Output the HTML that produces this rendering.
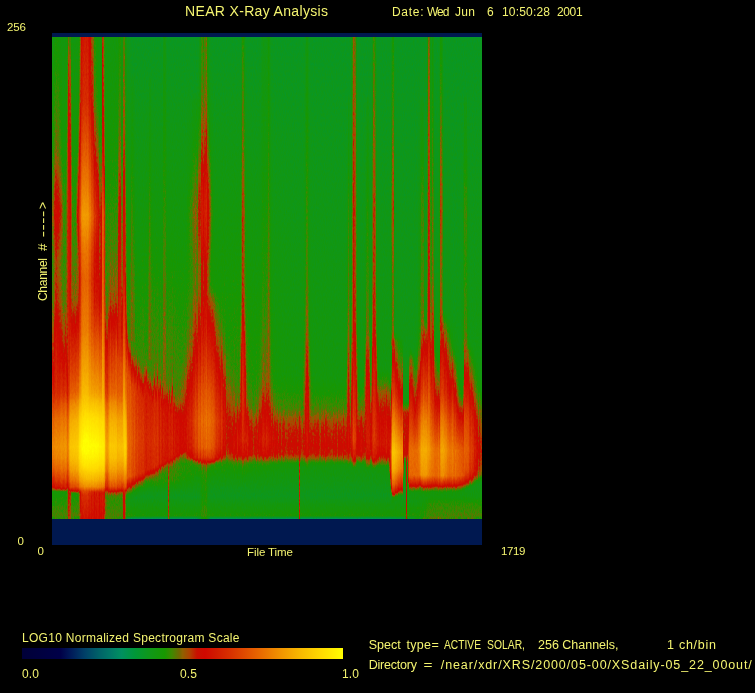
<!DOCTYPE html>
<html lang="en">
<head>
<meta charset="utf-8">
<title>NEAR X-Ray Analysis</title>
<style>
html,body{margin:0;padding:0;background:#000;}
body{width:755px;height:693px;overflow:hidden;}
svg{display:block;}
text{font-family:"Liberation Sans",sans-serif;fill:#f4f470;}
</style>
</head>
<body>
<svg width="755" height="693" viewBox="0 0 755 693">
<defs>
<linearGradient id="c0" x2="0" y2="1"><stop offset=".001" stop-color="#656565"/><stop offset=".242" stop-color="#6b6b6b"/><stop offset=".302" stop-color="#707070"/><stop offset=".364" stop-color="#777777"/><stop offset=".472" stop-color="#6f6f6f"/><stop offset=".547" stop-color="#727272"/><stop offset=".663" stop-color="#818181"/><stop offset=".696" stop-color="#898989"/><stop offset=".794" stop-color="#b6b6b6"/><stop offset=".85" stop-color="#c4c4c4"/><stop offset=".872" stop-color="#bfbfbf"/><stop offset=".897" stop-color="#b1b1b1"/><stop offset=".924" stop-color="#969696"/><stop offset=".933" stop-color="#8b8b8b"/><stop offset=".935" stop-color="#858585"/><stop offset=".943" stop-color="#696969"/><stop offset=".945" stop-color="#676767"/><stop offset=".993" stop-color="#717171"/><stop offset=".997" stop-color="#6c6c6c"/><stop offset=".999" stop-color="#6b6b6b"/></linearGradient>
<linearGradient id="c1" x2="0" y2="1"><stop offset=".001" stop-color="#656565"/><stop offset=".242" stop-color="#6c6c6c"/><stop offset=".312" stop-color="#727272"/><stop offset=".364" stop-color="#7a7a7a"/><stop offset=".472" stop-color="#707070"/><stop offset=".547" stop-color="#737373"/><stop offset=".677" stop-color="#838383"/><stop offset=".729" stop-color="#909090"/><stop offset=".762" stop-color="#a4a4a4"/><stop offset=".794" stop-color="#b4b4b4"/><stop offset=".85" stop-color="#c3c3c3"/><stop offset=".872" stop-color="#bebebe"/><stop offset=".897" stop-color="#b0b0b0"/><stop offset=".922" stop-color="#969696"/><stop offset=".933" stop-color="#888888"/><stop offset=".941" stop-color="#6f6f6f"/><stop offset=".943" stop-color="#696969"/><stop offset=".945" stop-color="#676767"/><stop offset=".993" stop-color="#717171"/><stop offset=".995" stop-color="#6f6f6f"/><stop offset=".997" stop-color="#6a6a6a"/><stop offset=".999" stop-color="#686868"/></linearGradient>
<linearGradient id="c2" x2="0" y2="1"><stop offset=".001" stop-color="#676767"/><stop offset=".24" stop-color="#717171"/><stop offset=".364" stop-color="#838383"/><stop offset=".472" stop-color="#767676"/><stop offset=".545" stop-color="#7a7a7a"/><stop offset=".628" stop-color="#878787"/><stop offset=".694" stop-color="#8d8d8d"/><stop offset=".74" stop-color="#989898"/><stop offset=".762" stop-color="#a7a7a7"/><stop offset=".794" stop-color="#b7b7b7"/><stop offset=".85" stop-color="#c5c5c5"/><stop offset=".872" stop-color="#c0c0c0"/><stop offset=".897" stop-color="#b2b2b2"/><stop offset=".926" stop-color="#959595"/><stop offset=".933" stop-color="#8c8c8c"/><stop offset=".935" stop-color="#878787"/><stop offset=".943" stop-color="#6a6a6a"/><stop offset=".945" stop-color="#676767"/><stop offset=".993" stop-color="#717171"/><stop offset=".997" stop-color="#6c6c6c"/><stop offset=".999" stop-color="#6b6b6b"/></linearGradient>
<linearGradient id="c3" x2="0" y2="1"><stop offset=".001" stop-color="#696969"/><stop offset=".132" stop-color="#6e6e6e"/><stop offset=".24" stop-color="#767676"/><stop offset=".364" stop-color="#8b8b8b"/><stop offset=".472" stop-color="#7c7c7c"/><stop offset=".545" stop-color="#808080"/><stop offset=".628" stop-color="#8e8e8e"/><stop offset=".738" stop-color="#9c9c9c"/><stop offset=".794" stop-color="#b9b9b9"/><stop offset=".85" stop-color="#c7c7c7"/><stop offset=".872" stop-color="#c2c2c2"/><stop offset=".897" stop-color="#b5b5b5"/><stop offset=".918" stop-color="#a3a3a3"/><stop offset=".928" stop-color="#969696"/><stop offset=".933" stop-color="#909090"/><stop offset=".935" stop-color="#8b8b8b"/><stop offset=".943" stop-color="#6a6a6a"/><stop offset=".945" stop-color="#686868"/><stop offset=".955" stop-color="#6b6b6b"/><stop offset=".993" stop-color="#717171"/><stop offset=".997" stop-color="#6e6e6e"/><stop offset=".999" stop-color="#6e6e6e"/></linearGradient>
<linearGradient id="c4" x2="0" y2="1"><stop offset=".001" stop-color="#696969"/><stop offset=".13" stop-color="#6f6f6f"/><stop offset=".24" stop-color="#777777"/><stop offset=".364" stop-color="#8c8c8c"/><stop offset=".472" stop-color="#7d7d7d"/><stop offset=".545" stop-color="#828282"/><stop offset=".628" stop-color="#8f8f8f"/><stop offset=".738" stop-color="#9d9d9d"/><stop offset=".794" stop-color="#bbbbbb"/><stop offset=".85" stop-color="#c8c8c8"/><stop offset=".872" stop-color="#c3c3c3"/><stop offset=".897" stop-color="#b7b7b7"/><stop offset=".918" stop-color="#a5a5a5"/><stop offset=".93" stop-color="#959595"/><stop offset=".933" stop-color="#929292"/><stop offset=".935" stop-color="#8d8d8d"/><stop offset=".939" stop-color="#7d7d7d"/><stop offset=".943" stop-color="#6a6a6a"/><stop offset=".945" stop-color="#686868"/><stop offset=".955" stop-color="#6b6b6b"/><stop offset=".993" stop-color="#717171"/><stop offset=".995" stop-color="#6f6f6f"/><stop offset=".999" stop-color="#707070"/></linearGradient>
<linearGradient id="c5" x2="0" y2="1"><stop offset=".001" stop-color="#686868"/><stop offset=".132" stop-color="#6e6e6e"/><stop offset=".24" stop-color="#747474"/><stop offset=".364" stop-color="#898989"/><stop offset=".472" stop-color="#7a7a7a"/><stop offset=".545" stop-color="#7f7f7f"/><stop offset=".628" stop-color="#8c8c8c"/><stop offset=".673" stop-color="#8f8f8f"/><stop offset=".738" stop-color="#9a9a9a"/><stop offset=".794" stop-color="#b9b9b9"/><stop offset=".85" stop-color="#c7c7c7"/><stop offset=".872" stop-color="#c2c2c2"/><stop offset=".897" stop-color="#b5b5b5"/><stop offset=".918" stop-color="#a2a2a2"/><stop offset=".928" stop-color="#959595"/><stop offset=".933" stop-color="#8f8f8f"/><stop offset=".935" stop-color="#8a8a8a"/><stop offset=".943" stop-color="#6a6a6a"/><stop offset=".945" stop-color="#686868"/><stop offset=".993" stop-color="#717171"/><stop offset=".997" stop-color="#6d6d6d"/><stop offset=".999" stop-color="#6d6d6d"/></linearGradient>
<linearGradient id="c6" x2="0" y2="1"><stop offset=".001" stop-color="#686868"/><stop offset=".24" stop-color="#747474"/><stop offset=".364" stop-color="#888888"/><stop offset=".472" stop-color="#797979"/><stop offset=".545" stop-color="#7e7e7e"/><stop offset=".628" stop-color="#8b8b8b"/><stop offset=".675" stop-color="#8f8f8f"/><stop offset=".738" stop-color="#9a9a9a"/><stop offset=".794" stop-color="#b9b9b9"/><stop offset=".85" stop-color="#c7c7c7"/><stop offset=".872" stop-color="#c2c2c2"/><stop offset=".897" stop-color="#b4b4b4"/><stop offset=".918" stop-color="#a2a2a2"/><stop offset=".928" stop-color="#949494"/><stop offset=".933" stop-color="#8f8f8f"/><stop offset=".935" stop-color="#898989"/><stop offset=".943" stop-color="#6a6a6a"/><stop offset=".945" stop-color="#686868"/><stop offset=".993" stop-color="#717171"/><stop offset=".997" stop-color="#6c6c6c"/><stop offset=".999" stop-color="#6c6c6c"/></linearGradient>
<linearGradient id="c7" x2="0" y2="1"><stop offset=".001" stop-color="#676767"/><stop offset=".24" stop-color="#717171"/><stop offset=".364" stop-color="#848484"/><stop offset=".472" stop-color="#777777"/><stop offset=".545" stop-color="#7b7b7b"/><stop offset=".628" stop-color="#888888"/><stop offset=".686" stop-color="#8e8e8e"/><stop offset=".74" stop-color="#9a9a9a"/><stop offset=".762" stop-color="#aaaaaa"/><stop offset=".794" stop-color="#b9b9b9"/><stop offset=".85" stop-color="#c7c7c7"/><stop offset=".872" stop-color="#c2c2c2"/><stop offset=".897" stop-color="#b5b5b5"/><stop offset=".918" stop-color="#a2a2a2"/><stop offset=".928" stop-color="#959595"/><stop offset=".933" stop-color="#8f8f8f"/><stop offset=".935" stop-color="#8a8a8a"/><stop offset=".943" stop-color="#6a6a6a"/><stop offset=".945" stop-color="#686868"/><stop offset=".993" stop-color="#717171"/><stop offset=".997" stop-color="#6d6d6d"/><stop offset=".999" stop-color="#6c6c6c"/></linearGradient>
<linearGradient id="c8" x2="0" y2="1"><stop offset=".001" stop-color="#666666"/><stop offset=".132" stop-color="#6a6a6a"/><stop offset=".24" stop-color="#6f6f6f"/><stop offset=".364" stop-color="#828282"/><stop offset=".472" stop-color="#757575"/><stop offset=".545" stop-color="#7a7a7a"/><stop offset=".657" stop-color="#8a8a8a"/><stop offset=".702" stop-color="#949494"/><stop offset=".738" stop-color="#9e9e9e"/><stop offset=".762" stop-color="#aeaeae"/><stop offset=".794" stop-color="#bcbcbc"/><stop offset=".85" stop-color="#c9c9c9"/><stop offset=".872" stop-color="#c4c4c4"/><stop offset=".897" stop-color="#b8b8b8"/><stop offset=".918" stop-color="#a7a7a7"/><stop offset=".933" stop-color="#949494"/><stop offset=".935" stop-color="#8e8e8e"/><stop offset=".939" stop-color="#7e7e7e"/><stop offset=".943" stop-color="#6b6b6b"/><stop offset=".945" stop-color="#686868"/><stop offset=".955" stop-color="#6b6b6b"/><stop offset=".993" stop-color="#717171"/><stop offset=".995" stop-color="#6f6f6f"/><stop offset=".999" stop-color="#707070"/></linearGradient>
<linearGradient id="c9" x2="0" y2="1"><stop offset=".001" stop-color="#666666"/><stop offset=".24" stop-color="#6c6c6c"/><stop offset=".294" stop-color="#737373"/><stop offset=".364" stop-color="#7f7f7f"/><stop offset=".472" stop-color="#727272"/><stop offset=".545" stop-color="#777777"/><stop offset=".646" stop-color="#888888"/><stop offset=".692" stop-color="#949494"/><stop offset=".738" stop-color="#a1a1a1"/><stop offset=".762" stop-color="#b1b1b1"/><stop offset=".794" stop-color="#bebebe"/><stop offset=".85" stop-color="#cbcbcb"/><stop offset=".872" stop-color="#c6c6c6"/><stop offset=".897" stop-color="#bbbbbb"/><stop offset=".918" stop-color="#aaaaaa"/><stop offset=".933" stop-color="#989898"/><stop offset=".935" stop-color="#929292"/><stop offset=".939" stop-color="#828282"/><stop offset=".943" stop-color="#6b6b6b"/><stop offset=".945" stop-color="#686868"/><stop offset=".955" stop-color="#6b6b6b"/><stop offset=".993" stop-color="#717171"/><stop offset=".995" stop-color="#6f6f6f"/><stop offset=".999" stop-color="#737373"/></linearGradient>
<linearGradient id="c10" x2="0" y2="1"><stop offset=".001" stop-color="#656565"/><stop offset=".242" stop-color="#6a6a6a"/><stop offset=".304" stop-color="#6f6f6f"/><stop offset=".364" stop-color="#777777"/><stop offset=".464" stop-color="#707070"/><stop offset=".545" stop-color="#737373"/><stop offset=".644" stop-color="#838383"/><stop offset=".702" stop-color="#949494"/><stop offset=".738" stop-color="#9e9e9e"/><stop offset=".762" stop-color="#afafaf"/><stop offset=".794" stop-color="#bdbdbd"/><stop offset=".85" stop-color="#cacaca"/><stop offset=".872" stop-color="#c5c5c5"/><stop offset=".897" stop-color="#b9b9b9"/><stop offset=".918" stop-color="#a8a8a8"/><stop offset=".933" stop-color="#959595"/><stop offset=".935" stop-color="#909090"/><stop offset=".939" stop-color="#7f7f7f"/><stop offset=".943" stop-color="#6b6b6b"/><stop offset=".945" stop-color="#686868"/><stop offset=".955" stop-color="#6b6b6b"/><stop offset=".993" stop-color="#717171"/><stop offset=".995" stop-color="#6f6f6f"/><stop offset=".999" stop-color="#707070"/></linearGradient>
<linearGradient id="c11" x2="0" y2="1"><stop offset=".001" stop-color="#656565"/><stop offset=".242" stop-color="#696969"/><stop offset=".31" stop-color="#6c6c6c"/><stop offset=".364" stop-color="#707070"/><stop offset=".457" stop-color="#6e6e6e"/><stop offset=".547" stop-color="#717171"/><stop offset=".644" stop-color="#808080"/><stop offset=".713" stop-color="#949494"/><stop offset=".738" stop-color="#9b9b9b"/><stop offset=".762" stop-color="#adadad"/><stop offset=".794" stop-color="#bbbbbb"/><stop offset=".85" stop-color="#c9c9c9"/><stop offset=".872" stop-color="#c4c4c4"/><stop offset=".897" stop-color="#b7b7b7"/><stop offset=".918" stop-color="#a5a5a5"/><stop offset=".93" stop-color="#959595"/><stop offset=".933" stop-color="#929292"/><stop offset=".935" stop-color="#8c8c8c"/><stop offset=".943" stop-color="#6b6b6b"/><stop offset=".945" stop-color="#686868"/><stop offset=".993" stop-color="#717171"/><stop offset=".997" stop-color="#6d6d6d"/><stop offset=".999" stop-color="#6d6d6d"/></linearGradient>
<linearGradient id="c12" x2="0" y2="1"><stop offset=".001" stop-color="#656565"/><stop offset=".235" stop-color="#696969"/><stop offset=".364" stop-color="#6e6e6e"/><stop offset=".472" stop-color="#6e6e6e"/><stop offset=".547" stop-color="#717171"/><stop offset=".644" stop-color="#818181"/><stop offset=".709" stop-color="#949494"/><stop offset=".738" stop-color="#9d9d9d"/><stop offset=".762" stop-color="#aeaeae"/><stop offset=".794" stop-color="#bcbcbc"/><stop offset=".85" stop-color="#cacaca"/><stop offset=".872" stop-color="#c5c5c5"/><stop offset=".897" stop-color="#b8b8b8"/><stop offset=".918" stop-color="#a6a6a6"/><stop offset=".93" stop-color="#969696"/><stop offset=".933" stop-color="#939393"/><stop offset=".935" stop-color="#8e8e8e"/><stop offset=".939" stop-color="#7e7e7e"/><stop offset=".943" stop-color="#6b6b6b"/><stop offset=".945" stop-color="#686868"/><stop offset=".993" stop-color="#717171"/><stop offset=".997" stop-color="#6e6e6e"/><stop offset=".999" stop-color="#6e6e6e"/></linearGradient>
<linearGradient id="c13" x2="0" y2="1"><stop offset=".001" stop-color="#666666"/><stop offset=".233" stop-color="#696969"/><stop offset=".364" stop-color="#6e6e6e"/><stop offset=".489" stop-color="#707070"/><stop offset=".545" stop-color="#737373"/><stop offset=".644" stop-color="#878787"/><stop offset=".688" stop-color="#949494"/><stop offset=".738" stop-color="#a3a3a3"/><stop offset=".762" stop-color="#b3b3b3"/><stop offset=".794" stop-color="#c0c0c0"/><stop offset=".85" stop-color="#cccccc"/><stop offset=".872" stop-color="#c8c8c8"/><stop offset=".897" stop-color="#bcbcbc"/><stop offset=".918" stop-color="#acacac"/><stop offset=".933" stop-color="#9a9a9a"/><stop offset=".935" stop-color="#949494"/><stop offset=".939" stop-color="#848484"/><stop offset=".943" stop-color="#6c6c6c"/><stop offset=".945" stop-color="#686868"/><stop offset=".955" stop-color="#6b6b6b"/><stop offset=".993" stop-color="#717171"/><stop offset=".995" stop-color="#6f6f6f"/><stop offset=".999" stop-color="#737373"/></linearGradient>
<linearGradient id="c14" x2="0" y2="1"><stop offset=".001" stop-color="#656565"/><stop offset=".24" stop-color="#6d6d6d"/><stop offset=".364" stop-color="#737373"/><stop offset=".491" stop-color="#747474"/><stop offset=".563" stop-color="#777777"/><stop offset=".644" stop-color="#818181"/><stop offset=".711" stop-color="#949494"/><stop offset=".738" stop-color="#9c9c9c"/><stop offset=".762" stop-color="#adadad"/><stop offset=".794" stop-color="#bbbbbb"/><stop offset=".85" stop-color="#c8c8c8"/><stop offset=".872" stop-color="#c4c4c4"/><stop offset=".897" stop-color="#b7b7b7"/><stop offset=".918" stop-color="#a5a5a5"/><stop offset=".93" stop-color="#959595"/><stop offset=".933" stop-color="#939393"/><stop offset=".935" stop-color="#8d8d8d"/><stop offset=".943" stop-color="#6c6c6c"/><stop offset=".945" stop-color="#6a6a6a"/><stop offset=".993" stop-color="#717171"/><stop offset=".995" stop-color="#6f6f6f"/><stop offset=".999" stop-color="#6f6f6f"/></linearGradient>
<linearGradient id="c15" x2="0" y2="1"><stop offset=".001" stop-color="#666666"/><stop offset=".003" stop-color="#686868"/><stop offset=".049" stop-color="#6d6d6d"/><stop offset=".364" stop-color="#7d7d7d"/><stop offset=".491" stop-color="#7d7d7d"/><stop offset=".663" stop-color="#818181"/><stop offset=".69" stop-color="#858585"/><stop offset=".719" stop-color="#8b8b8b"/><stop offset=".738" stop-color="#909090"/><stop offset=".762" stop-color="#a1a1a1"/><stop offset=".794" stop-color="#b1b1b1"/><stop offset=".85" stop-color="#c0c0c0"/><stop offset=".872" stop-color="#bababa"/><stop offset=".897" stop-color="#adadad"/><stop offset=".92" stop-color="#969696"/><stop offset=".933" stop-color="#868686"/><stop offset=".939" stop-color="#767676"/><stop offset=".941" stop-color="#737373"/><stop offset=".955" stop-color="#727272"/><stop offset=".993" stop-color="#747474"/><stop offset=".997" stop-color="#6f6f6f"/><stop offset=".999" stop-color="#6f6f6f"/></linearGradient>
<linearGradient id="c16" x2="0" y2="1"><stop offset=".001" stop-color="#727272"/><stop offset=".049" stop-color="#7d7d7d"/><stop offset=".132" stop-color="#848484"/><stop offset=".364" stop-color="#929292"/><stop offset=".491" stop-color="#929292"/><stop offset=".725" stop-color="#9b9b9b"/><stop offset=".742" stop-color="#9e9e9e"/><stop offset=".796" stop-color="#bababa"/><stop offset=".85" stop-color="#c7c7c7"/><stop offset=".874" stop-color="#c1c1c1"/><stop offset=".899" stop-color="#b4b4b4"/><stop offset=".918" stop-color="#a3a3a3"/><stop offset=".93" stop-color="#939393"/><stop offset=".933" stop-color="#919191"/><stop offset=".937" stop-color="#888888"/><stop offset=".941" stop-color="#858585"/><stop offset=".999" stop-color="#7f7f7f"/></linearGradient>
<linearGradient id="c17" x2="0" y2="1"><stop offset=".001" stop-color="#6e6e6e"/><stop offset=".049" stop-color="#797979"/><stop offset=".132" stop-color="#808080"/><stop offset=".24" stop-color="#858585"/><stop offset=".364" stop-color="#8e8e8e"/><stop offset=".563" stop-color="#8f8f8f"/><stop offset=".617" stop-color="#919191"/><stop offset=".667" stop-color="#969696"/><stop offset=".738" stop-color="#a8a8a8"/><stop offset=".762" stop-color="#bababa"/><stop offset=".794" stop-color="#cacaca"/><stop offset=".85" stop-color="#d8d8d8"/><stop offset=".874" stop-color="#d2d2d2"/><stop offset=".897" stop-color="#c5c5c5"/><stop offset=".918" stop-color="#b2b2b2"/><stop offset=".933" stop-color="#9f9f9f"/><stop offset=".935" stop-color="#999999"/><stop offset=".941" stop-color="#848484"/><stop offset=".943" stop-color="#818181"/><stop offset=".993" stop-color="#7d7d7d"/><stop offset=".999" stop-color="#7c7c7c"/></linearGradient>
<linearGradient id="c18" x2="0" y2="1"><stop offset=".001" stop-color="#6d6d6d"/><stop offset=".049" stop-color="#777777"/><stop offset=".132" stop-color="#7e7e7e"/><stop offset=".242" stop-color="#838383"/><stop offset=".364" stop-color="#8b8b8b"/><stop offset=".491" stop-color="#8b8b8b"/><stop offset=".592" stop-color="#8f8f8f"/><stop offset=".738" stop-color="#b3b3b3"/><stop offset=".762" stop-color="#c4c4c4"/><stop offset=".794" stop-color="#d3d3d3"/><stop offset=".85" stop-color="#e0e0e0"/><stop offset=".872" stop-color="#dbdbdb"/><stop offset=".897" stop-color="#cecece"/><stop offset=".92" stop-color="#bababa"/><stop offset=".933" stop-color="#a9a9a9"/><stop offset=".935" stop-color="#a4a4a4"/><stop offset=".939" stop-color="#949494"/><stop offset=".943" stop-color="#818181"/><stop offset=".945" stop-color="#7f7f7f"/><stop offset=".999" stop-color="#7a7a7a"/></linearGradient>
<linearGradient id="c19" x2="0" y2="1"><stop offset=".001" stop-color="#666666"/><stop offset=".13" stop-color="#6f6f6f"/><stop offset=".364" stop-color="#7a7a7a"/><stop offset=".489" stop-color="#7a7a7a"/><stop offset=".547" stop-color="#7d7d7d"/><stop offset=".582" stop-color="#838383"/><stop offset=".632" stop-color="#949494"/><stop offset=".738" stop-color="#b3b3b3"/><stop offset=".762" stop-color="#c4c4c4"/><stop offset=".796" stop-color="#d4d4d4"/><stop offset=".85" stop-color="#e1e1e1"/><stop offset=".872" stop-color="#dcdcdc"/><stop offset=".897" stop-color="#cfcfcf"/><stop offset=".918" stop-color="#bdbdbd"/><stop offset=".933" stop-color="#aaaaaa"/><stop offset=".939" stop-color="#949494"/><stop offset=".943" stop-color="#7e7e7e"/><stop offset=".945" stop-color="#747474"/><stop offset=".947" stop-color="#707070"/><stop offset=".966" stop-color="#707070"/><stop offset=".993" stop-color="#727272"/><stop offset=".999" stop-color="#6f6f6f"/></linearGradient>
<linearGradient id="c20" x2="0" y2="1"><stop offset=".001" stop-color="#656565"/><stop offset=".235" stop-color="#6a6a6a"/><stop offset=".418" stop-color="#707070"/><stop offset=".545" stop-color="#777777"/><stop offset=".588" stop-color="#838383"/><stop offset=".634" stop-color="#949494"/><stop offset=".738" stop-color="#b3b3b3"/><stop offset=".762" stop-color="#c4c4c4"/><stop offset=".796" stop-color="#d4d4d4"/><stop offset=".85" stop-color="#e1e1e1"/><stop offset=".872" stop-color="#dcdcdc"/><stop offset=".897" stop-color="#cfcfcf"/><stop offset=".918" stop-color="#bcbcbc"/><stop offset=".933" stop-color="#aaaaaa"/><stop offset=".939" stop-color="#939393"/><stop offset=".945" stop-color="#737373"/><stop offset=".947" stop-color="#6c6c6c"/><stop offset=".949" stop-color="#6a6a6a"/><stop offset=".993" stop-color="#717171"/><stop offset=".997" stop-color="#6c6c6c"/><stop offset=".999" stop-color="#6c6c6c"/></linearGradient>
<linearGradient id="c21" x2="0" y2="1"><stop offset=".001" stop-color="#656565"/><stop offset=".339" stop-color="#6c6c6c"/><stop offset=".445" stop-color="#707070"/><stop offset=".532" stop-color="#777777"/><stop offset=".547" stop-color="#797979"/><stop offset=".565" stop-color="#7f7f7f"/><stop offset=".628" stop-color="#949494"/><stop offset=".738" stop-color="#b5b5b5"/><stop offset=".762" stop-color="#c6c6c6"/><stop offset=".796" stop-color="#d5d5d5"/><stop offset=".85" stop-color="#e2e2e2"/><stop offset=".872" stop-color="#dddddd"/><stop offset=".897" stop-color="#d0d0d0"/><stop offset=".918" stop-color="#bebebe"/><stop offset=".933" stop-color="#acacac"/><stop offset=".939" stop-color="#969696"/><stop offset=".941" stop-color="#8b8b8b"/><stop offset=".945" stop-color="#747474"/><stop offset=".947" stop-color="#6c6c6c"/><stop offset=".949" stop-color="#6a6a6a"/><stop offset=".993" stop-color="#717171"/><stop offset=".997" stop-color="#6d6d6d"/><stop offset=".999" stop-color="#6d6d6d"/></linearGradient>
<linearGradient id="c22" x2="0" y2="1"><stop offset=".001" stop-color="#656565"/><stop offset=".341" stop-color="#6c6c6c"/><stop offset=".449" stop-color="#707070"/><stop offset=".545" stop-color="#787878"/><stop offset=".584" stop-color="#838383"/><stop offset=".63" stop-color="#949494"/><stop offset=".738" stop-color="#b4b4b4"/><stop offset=".762" stop-color="#c5c5c5"/><stop offset=".796" stop-color="#d5d5d5"/><stop offset=".85" stop-color="#e2e2e2"/><stop offset=".872" stop-color="#dddddd"/><stop offset=".897" stop-color="#d0d0d0"/><stop offset=".918" stop-color="#bebebe"/><stop offset=".933" stop-color="#ababab"/><stop offset=".939" stop-color="#959595"/><stop offset=".945" stop-color="#747474"/><stop offset=".947" stop-color="#6c6c6c"/><stop offset=".949" stop-color="#6a6a6a"/><stop offset=".993" stop-color="#717171"/><stop offset=".997" stop-color="#6c6c6c"/><stop offset=".999" stop-color="#6c6c6c"/></linearGradient>
<linearGradient id="c23" x2="0" y2="1"><stop offset=".001" stop-color="#656565"/><stop offset=".302" stop-color="#6a6a6a"/><stop offset=".439" stop-color="#6f6f6f"/><stop offset=".545" stop-color="#767676"/><stop offset=".59" stop-color="#838383"/><stop offset=".636" stop-color="#949494"/><stop offset=".738" stop-color="#b3b3b3"/><stop offset=".762" stop-color="#c5c5c5"/><stop offset=".796" stop-color="#d6d6d6"/><stop offset=".85" stop-color="#e2e2e2"/><stop offset=".872" stop-color="#dedede"/><stop offset=".897" stop-color="#d0d0d0"/><stop offset=".918" stop-color="#bdbdbd"/><stop offset=".933" stop-color="#aaaaaa"/><stop offset=".939" stop-color="#939393"/><stop offset=".945" stop-color="#727272"/><stop offset=".947" stop-color="#6c6c6c"/><stop offset=".949" stop-color="#6a6a6a"/><stop offset=".993" stop-color="#717171"/><stop offset=".997" stop-color="#6b6b6b"/><stop offset=".999" stop-color="#6a6a6a"/></linearGradient>
<linearGradient id="c24" x2="0" y2="1"><stop offset=".001" stop-color="#656565"/><stop offset=".24" stop-color="#696969"/><stop offset=".298" stop-color="#6d6d6d"/><stop offset=".372" stop-color="#767676"/><stop offset=".408" stop-color="#727272"/><stop offset=".437" stop-color="#717171"/><stop offset=".536" stop-color="#787878"/><stop offset=".547" stop-color="#7a7a7a"/><stop offset=".578" stop-color="#838383"/><stop offset=".626" stop-color="#949494"/><stop offset=".738" stop-color="#b6b6b6"/><stop offset=".762" stop-color="#c7c7c7"/><stop offset=".796" stop-color="#d7d7d7"/><stop offset=".85" stop-color="#e3e3e3"/><stop offset=".872" stop-color="#dfdfdf"/><stop offset=".897" stop-color="#d2d2d2"/><stop offset=".918" stop-color="#bfbfbf"/><stop offset=".933" stop-color="#adadad"/><stop offset=".939" stop-color="#979797"/><stop offset=".941" stop-color="#8c8c8c"/><stop offset=".945" stop-color="#757575"/><stop offset=".947" stop-color="#6d6d6d"/><stop offset=".949" stop-color="#6a6a6a"/><stop offset=".993" stop-color="#717171"/><stop offset=".997" stop-color="#6d6d6d"/><stop offset=".999" stop-color="#6d6d6d"/></linearGradient>
<linearGradient id="c25" x2="0" y2="1"><stop offset=".001" stop-color="#656565"/><stop offset=".155" stop-color="#686868"/><stop offset=".229" stop-color="#6c6c6c"/><stop offset=".267" stop-color="#717171"/><stop offset=".372" stop-color="#848484"/><stop offset=".443" stop-color="#777777"/><stop offset=".505" stop-color="#777777"/><stop offset=".547" stop-color="#7c7c7c"/><stop offset=".574" stop-color="#848484"/><stop offset=".621" stop-color="#959595"/><stop offset=".738" stop-color="#b7b7b7"/><stop offset=".762" stop-color="#c8c8c8"/><stop offset=".796" stop-color="#d7d7d7"/><stop offset=".85" stop-color="#e4e4e4"/><stop offset=".872" stop-color="#dfdfdf"/><stop offset=".897" stop-color="#d2d2d2"/><stop offset=".918" stop-color="#c0c0c0"/><stop offset=".933" stop-color="#aeaeae"/><stop offset=".939" stop-color="#989898"/><stop offset=".941" stop-color="#8e8e8e"/><stop offset=".945" stop-color="#767676"/><stop offset=".947" stop-color="#6e6e6e"/><stop offset=".949" stop-color="#6a6a6a"/><stop offset=".993" stop-color="#717171"/><stop offset=".997" stop-color="#6d6d6d"/><stop offset=".999" stop-color="#6e6e6e"/></linearGradient>
<linearGradient id="c26" x2="0" y2="1"><stop offset=".001" stop-color="#656565"/><stop offset=".132" stop-color="#6a6a6a"/><stop offset=".229" stop-color="#737373"/><stop offset=".372" stop-color="#909090"/><stop offset=".441" stop-color="#808080"/><stop offset=".462" stop-color="#7e7e7e"/><stop offset=".503" stop-color="#7b7b7b"/><stop offset=".545" stop-color="#7f7f7f"/><stop offset=".574" stop-color="#858585"/><stop offset=".621" stop-color="#949494"/><stop offset=".738" stop-color="#b8b8b8"/><stop offset=".762" stop-color="#cacaca"/><stop offset=".794" stop-color="#dadada"/><stop offset=".85" stop-color="#e7e7e7"/><stop offset=".872" stop-color="#e3e3e3"/><stop offset=".897" stop-color="#d6d6d6"/><stop offset=".918" stop-color="#c2c2c2"/><stop offset=".933" stop-color="#afafaf"/><stop offset=".939" stop-color="#989898"/><stop offset=".941" stop-color="#8d8d8d"/><stop offset=".945" stop-color="#767676"/><stop offset=".947" stop-color="#707070"/><stop offset=".949" stop-color="#6d6d6d"/><stop offset=".957" stop-color="#6d6d6d"/><stop offset=".993" stop-color="#727272"/><stop offset=".997" stop-color="#6b6b6b"/><stop offset=".999" stop-color="#6a6a6a"/></linearGradient>
<linearGradient id="c27" x2="0" y2="1"><stop offset=".001" stop-color="#6c6c6c"/><stop offset=".132" stop-color="#747474"/><stop offset=".24" stop-color="#858585"/><stop offset=".3" stop-color="#949494"/><stop offset=".372" stop-color="#a3a3a3"/><stop offset=".505" stop-color="#8c8c8c"/><stop offset=".603" stop-color="#9c9c9c"/><stop offset=".738" stop-color="#c4c4c4"/><stop offset=".762" stop-color="#d5d5d5"/><stop offset=".794" stop-color="#e4e4e4"/><stop offset=".85" stop-color="#f1f1f1"/><stop offset=".872" stop-color="#ececec"/><stop offset=".897" stop-color="#dfdfdf"/><stop offset=".918" stop-color="#cdcdcd"/><stop offset=".933" stop-color="#bababa"/><stop offset=".935" stop-color="#b5b5b5"/><stop offset=".941" stop-color="#9a9a9a"/><stop offset=".945" stop-color="#828282"/><stop offset=".947" stop-color="#7c7c7c"/><stop offset=".951" stop-color="#787878"/><stop offset=".993" stop-color="#757575"/><stop offset=".999" stop-color="#727272"/></linearGradient>
<linearGradient id="c28" x2="0" y2="1"><stop offset=".001" stop-color="#777777"/><stop offset=".132" stop-color="#7f7f7f"/><stop offset=".242" stop-color="#949494"/><stop offset=".372" stop-color="#b2b2b2"/><stop offset=".443" stop-color="#a1a1a1"/><stop offset=".503" stop-color="#999999"/><stop offset=".607" stop-color="#a6a6a6"/><stop offset=".738" stop-color="#c9c9c9"/><stop offset=".762" stop-color="#d9d9d9"/><stop offset=".794" stop-color="#e8e8e8"/><stop offset=".85" stop-color="#f5f5f5"/><stop offset=".872" stop-color="#f0f0f0"/><stop offset=".897" stop-color="#e3e3e3"/><stop offset=".92" stop-color="#cfcfcf"/><stop offset=".933" stop-color="#bebebe"/><stop offset=".935" stop-color="#b8b8b8"/><stop offset=".939" stop-color="#a7a7a7"/><stop offset=".945" stop-color="#8c8c8c"/><stop offset=".949" stop-color="#878787"/><stop offset=".999" stop-color="#7f7f7f"/></linearGradient>
<linearGradient id="c29" x2="0" y2="1"><stop offset=".001" stop-color="#8a8a8a"/><stop offset=".13" stop-color="#939393"/><stop offset=".372" stop-color="#c5c5c5"/><stop offset=".443" stop-color="#b5b5b5"/><stop offset=".503" stop-color="#adadad"/><stop offset=".607" stop-color="#b8b8b8"/><stop offset=".738" stop-color="#d3d3d3"/><stop offset=".796" stop-color="#ececec"/><stop offset=".85" stop-color="#fafafa"/><stop offset=".887" stop-color="#ececec"/><stop offset=".918" stop-color="#d3d3d3"/><stop offset=".933" stop-color="#c1c1c1"/><stop offset=".943" stop-color="#a0a0a0"/><stop offset=".949" stop-color="#999999"/><stop offset=".999" stop-color="#8d8d8d"/></linearGradient>
<linearGradient id="c30" x2="0" y2="1"><stop offset=".001" stop-color="#8e8e8e"/><stop offset=".076" stop-color="#949494"/><stop offset=".132" stop-color="#989898"/><stop offset=".372" stop-color="#cccccc"/><stop offset=".443" stop-color="#bbbbbb"/><stop offset=".503" stop-color="#b3b3b3"/><stop offset=".607" stop-color="#bebebe"/><stop offset=".738" stop-color="#dadada"/><stop offset=".796" stop-color="#eeeeee"/><stop offset=".854" stop-color="#fcfcfc"/><stop offset=".887" stop-color="#efefef"/><stop offset=".918" stop-color="#d4d4d4"/><stop offset=".933" stop-color="#c1c1c1"/><stop offset=".941" stop-color="#a9a9a9"/><stop offset=".951" stop-color="#9a9a9a"/><stop offset=".999" stop-color="#8c8c8c"/></linearGradient>
<linearGradient id="c31" x2="0" y2="1"><stop offset=".001" stop-color="#929292"/><stop offset=".132" stop-color="#9c9c9c"/><stop offset=".372" stop-color="#cdcdcd"/><stop offset=".443" stop-color="#bdbdbd"/><stop offset=".503" stop-color="#b5b5b5"/><stop offset=".607" stop-color="#c0c0c0"/><stop offset=".738" stop-color="#dbdbdb"/><stop offset=".839" stop-color="#fcfcfc"/><stop offset=".858" stop-color="#fcfcfc"/><stop offset=".889" stop-color="#efefef"/><stop offset=".918" stop-color="#d6d6d6"/><stop offset=".933" stop-color="#c4c4c4"/><stop offset=".941" stop-color="#acacac"/><stop offset=".951" stop-color="#9e9e9e"/><stop offset=".999" stop-color="#909090"/></linearGradient>
<linearGradient id="c32" x2="0" y2="1"><stop offset=".001" stop-color="#939393"/><stop offset=".132" stop-color="#9d9d9d"/><stop offset=".372" stop-color="#cdcdcd"/><stop offset=".443" stop-color="#bebebe"/><stop offset=".503" stop-color="#b6b6b6"/><stop offset=".607" stop-color="#c0c0c0"/><stop offset=".738" stop-color="#dbdbdb"/><stop offset=".796" stop-color="#f1f1f1"/><stop offset=".837" stop-color="#fcfcfc"/><stop offset=".86" stop-color="#fcfcfc"/><stop offset=".889" stop-color="#f0f0f0"/><stop offset=".918" stop-color="#d7d7d7"/><stop offset=".933" stop-color="#c6c6c6"/><stop offset=".943" stop-color="#a9a9a9"/><stop offset=".951" stop-color="#9e9e9e"/><stop offset=".999" stop-color="#919191"/></linearGradient>
<linearGradient id="c33" x2="0" y2="1"><stop offset=".001" stop-color="#939393"/><stop offset=".132" stop-color="#9d9d9d"/><stop offset=".372" stop-color="#cdcdcd"/><stop offset=".443" stop-color="#bebebe"/><stop offset=".503" stop-color="#b6b6b6"/><stop offset=".607" stop-color="#c0c0c0"/><stop offset=".738" stop-color="#dbdbdb"/><stop offset=".796" stop-color="#f1f1f1"/><stop offset=".835" stop-color="#fcfcfc"/><stop offset=".86" stop-color="#fcfcfc"/><stop offset=".889" stop-color="#f0f0f0"/><stop offset=".918" stop-color="#d8d8d8"/><stop offset=".933" stop-color="#c6c6c6"/><stop offset=".943" stop-color="#a9a9a9"/><stop offset=".951" stop-color="#9e9e9e"/><stop offset=".999" stop-color="#909090"/></linearGradient>
<linearGradient id="c34" x2="0" y2="1"><stop offset=".001" stop-color="#909090"/><stop offset=".132" stop-color="#9a9a9a"/><stop offset=".372" stop-color="#cccccc"/><stop offset=".443" stop-color="#bcbcbc"/><stop offset=".503" stop-color="#b4b4b4"/><stop offset=".607" stop-color="#bfbfbf"/><stop offset=".738" stop-color="#dbdbdb"/><stop offset=".796" stop-color="#f1f1f1"/><stop offset=".837" stop-color="#fcfcfc"/><stop offset=".86" stop-color="#fcfcfc"/><stop offset=".889" stop-color="#f0f0f0"/><stop offset=".918" stop-color="#d9d9d9"/><stop offset=".933" stop-color="#c6c6c6"/><stop offset=".941" stop-color="#ababab"/><stop offset=".949" stop-color="#9d9d9d"/><stop offset=".999" stop-color="#8e8e8e"/></linearGradient>
<linearGradient id="c35" x2="0" y2="1"><stop offset=".001" stop-color="#949494"/><stop offset=".132" stop-color="#9e9e9e"/><stop offset=".372" stop-color="#cdcdcd"/><stop offset=".443" stop-color="#bebebe"/><stop offset=".503" stop-color="#b7b7b7"/><stop offset=".607" stop-color="#c1c1c1"/><stop offset=".738" stop-color="#dbdbdb"/><stop offset=".796" stop-color="#f2f2f2"/><stop offset=".835" stop-color="#fcfcfc"/><stop offset=".862" stop-color="#fcfcfc"/><stop offset=".889" stop-color="#f1f1f1"/><stop offset=".918" stop-color="#d9d9d9"/><stop offset=".933" stop-color="#c8c8c8"/><stop offset=".943" stop-color="#aaaaaa"/><stop offset=".951" stop-color="#9f9f9f"/><stop offset=".999" stop-color="#919191"/></linearGradient>
<linearGradient id="c36" x2="0" y2="1"><stop offset=".001" stop-color="#8e8e8e"/><stop offset=".132" stop-color="#989898"/><stop offset=".372" stop-color="#cacaca"/><stop offset=".443" stop-color="#b9b9b9"/><stop offset=".503" stop-color="#b2b2b2"/><stop offset=".607" stop-color="#bcbcbc"/><stop offset=".738" stop-color="#d8d8d8"/><stop offset=".796" stop-color="#f1f1f1"/><stop offset=".839" stop-color="#fcfcfc"/><stop offset=".858" stop-color="#fcfcfc"/><stop offset=".889" stop-color="#f0f0f0"/><stop offset=".918" stop-color="#d9d9d9"/><stop offset=".933" stop-color="#c6c6c6"/><stop offset=".943" stop-color="#a4a4a4"/><stop offset=".949" stop-color="#9b9b9b"/><stop offset=".999" stop-color="#8d8d8d"/></linearGradient>
<linearGradient id="c37" x2="0" y2="1"><stop offset=".001" stop-color="#878787"/><stop offset=".13" stop-color="#919191"/><stop offset=".148" stop-color="#949494"/><stop offset=".372" stop-color="#c3c3c3"/><stop offset=".441" stop-color="#b4b4b4"/><stop offset=".503" stop-color="#ababab"/><stop offset=".607" stop-color="#b6b6b6"/><stop offset=".738" stop-color="#d4d4d4"/><stop offset=".794" stop-color="#efefef"/><stop offset=".848" stop-color="#fcfcfc"/><stop offset=".872" stop-color="#f8f8f8"/><stop offset=".899" stop-color="#e9e9e9"/><stop offset=".918" stop-color="#d8d8d8"/><stop offset=".933" stop-color="#c6c6c6"/><stop offset=".943" stop-color="#9f9f9f"/><stop offset=".947" stop-color="#999999"/><stop offset=".999" stop-color="#8b8b8b"/></linearGradient>
<linearGradient id="c38" x2="0" y2="1"><stop offset=".001" stop-color="#868686"/><stop offset=".13" stop-color="#909090"/><stop offset=".155" stop-color="#949494"/><stop offset=".372" stop-color="#c0c0c0"/><stop offset=".441" stop-color="#b1b1b1"/><stop offset=".503" stop-color="#aaaaaa"/><stop offset=".607" stop-color="#b5b5b5"/><stop offset=".738" stop-color="#d3d3d3"/><stop offset=".794" stop-color="#f0f0f0"/><stop offset=".848" stop-color="#fcfcfc"/><stop offset=".874" stop-color="#f7f7f7"/><stop offset=".897" stop-color="#ebebeb"/><stop offset=".918" stop-color="#d9d9d9"/><stop offset=".933" stop-color="#c8c8c8"/><stop offset=".939" stop-color="#b4b4b4"/><stop offset=".943" stop-color="#a1a1a1"/><stop offset=".947" stop-color="#9a9a9a"/><stop offset=".999" stop-color="#8f8f8f"/></linearGradient>
<linearGradient id="c39" x2="0" y2="1"><stop offset=".001" stop-color="#7b7b7b"/><stop offset=".13" stop-color="#848484"/><stop offset=".217" stop-color="#949494"/><stop offset=".372" stop-color="#b7b7b7"/><stop offset=".443" stop-color="#a6a6a6"/><stop offset=".503" stop-color="#9e9e9e"/><stop offset=".596" stop-color="#aaaaaa"/><stop offset=".738" stop-color="#d0d0d0"/><stop offset=".762" stop-color="#e0e0e0"/><stop offset=".794" stop-color="#efefef"/><stop offset=".85" stop-color="#fcfcfc"/><stop offset=".872" stop-color="#f7f7f7"/><stop offset=".897" stop-color="#eaeaea"/><stop offset=".92" stop-color="#d6d6d6"/><stop offset=".933" stop-color="#c5c5c5"/><stop offset=".939" stop-color="#b0b0b0"/><stop offset=".943" stop-color="#9a9a9a"/><stop offset=".949" stop-color="#919191"/><stop offset=".999" stop-color="#898989"/></linearGradient>
<linearGradient id="c40" x2="0" y2="1"><stop offset=".001" stop-color="#7a7a7a"/><stop offset=".13" stop-color="#828282"/><stop offset=".225" stop-color="#949494"/><stop offset=".372" stop-color="#b4b4b4"/><stop offset=".443" stop-color="#a4a4a4"/><stop offset=".503" stop-color="#9d9d9d"/><stop offset=".58" stop-color="#a7a7a7"/><stop offset=".738" stop-color="#d0d0d0"/><stop offset=".762" stop-color="#e0e0e0"/><stop offset=".794" stop-color="#efefef"/><stop offset=".85" stop-color="#fcfcfc"/><stop offset=".872" stop-color="#f8f8f8"/><stop offset=".897" stop-color="#ebebeb"/><stop offset=".92" stop-color="#d7d7d7"/><stop offset=".933" stop-color="#c7c7c7"/><stop offset=".939" stop-color="#b3b3b3"/><stop offset=".943" stop-color="#9e9e9e"/><stop offset=".947" stop-color="#959595"/><stop offset=".962" stop-color="#949494"/><stop offset=".999" stop-color="#8d8d8d"/></linearGradient>
<linearGradient id="c41" x2="0" y2="1"><stop offset=".001" stop-color="#757575"/><stop offset=".132" stop-color="#7d7d7d"/><stop offset=".256" stop-color="#949494"/><stop offset=".372" stop-color="#aeaeae"/><stop offset=".443" stop-color="#9e9e9e"/><stop offset=".501" stop-color="#979797"/><stop offset=".559" stop-color="#9e9e9e"/><stop offset=".738" stop-color="#d0d0d0"/><stop offset=".762" stop-color="#e0e0e0"/><stop offset=".794" stop-color="#efefef"/><stop offset=".85" stop-color="#fcfcfc"/><stop offset=".872" stop-color="#f8f8f8"/><stop offset=".897" stop-color="#ebebeb"/><stop offset=".92" stop-color="#d7d7d7"/><stop offset=".933" stop-color="#c7c7c7"/><stop offset=".939" stop-color="#b2b2b2"/><stop offset=".943" stop-color="#9d9d9d"/><stop offset=".945" stop-color="#969696"/><stop offset=".947" stop-color="#949494"/><stop offset=".962" stop-color="#939393"/><stop offset=".999" stop-color="#8d8d8d"/></linearGradient>
<linearGradient id="c42" x2="0" y2="1"><stop offset=".001" stop-color="#6b6b6b"/><stop offset=".003" stop-color="#6c6c6c"/><stop offset=".132" stop-color="#717171"/><stop offset=".242" stop-color="#838383"/><stop offset=".31" stop-color="#949494"/><stop offset=".372" stop-color="#a1a1a1"/><stop offset=".453" stop-color="#8f8f8f"/><stop offset=".505" stop-color="#8b8b8b"/><stop offset=".545" stop-color="#909090"/><stop offset=".63" stop-color="#acacac"/><stop offset=".738" stop-color="#cecece"/><stop offset=".762" stop-color="#dfdfdf"/><stop offset=".794" stop-color="#eeeeee"/><stop offset=".85" stop-color="#fbfbfb"/><stop offset=".872" stop-color="#f6f6f6"/><stop offset=".897" stop-color="#eaeaea"/><stop offset=".92" stop-color="#d5d5d5"/><stop offset=".933" stop-color="#c4c4c4"/><stop offset=".935" stop-color="#bebebe"/><stop offset=".939" stop-color="#acacac"/><stop offset=".945" stop-color="#8e8e8e"/><stop offset=".947" stop-color="#8c8c8c"/><stop offset=".962" stop-color="#8b8b8b"/><stop offset=".999" stop-color="#858585"/></linearGradient>
<linearGradient id="c43" x2="0" y2="1"><stop offset=".001" stop-color="#6c6c6c"/><stop offset=".132" stop-color="#727272"/><stop offset=".24" stop-color="#838383"/><stop offset=".306" stop-color="#949494"/><stop offset=".372" stop-color="#a1a1a1"/><stop offset=".455" stop-color="#919191"/><stop offset=".505" stop-color="#8f8f8f"/><stop offset=".551" stop-color="#969696"/><stop offset=".738" stop-color="#cfcfcf"/><stop offset=".762" stop-color="#e0e0e0"/><stop offset=".794" stop-color="#eeeeee"/><stop offset=".85" stop-color="#fcfcfc"/><stop offset=".872" stop-color="#f7f7f7"/><stop offset=".897" stop-color="#eaeaea"/><stop offset=".92" stop-color="#d6d6d6"/><stop offset=".933" stop-color="#c6c6c6"/><stop offset=".939" stop-color="#b1b1b1"/><stop offset=".943" stop-color="#9b9b9b"/><stop offset=".947" stop-color="#939393"/><stop offset=".962" stop-color="#929292"/><stop offset=".999" stop-color="#8c8c8c"/></linearGradient>
<linearGradient id="c44" x2="0" y2="1"><stop offset=".001" stop-color="#686868"/><stop offset=".13" stop-color="#6e6e6e"/><stop offset=".171" stop-color="#727272"/><stop offset=".24" stop-color="#7c7c7c"/><stop offset=".331" stop-color="#919191"/><stop offset=".372" stop-color="#999999"/><stop offset=".397" stop-color="#949494"/><stop offset=".443" stop-color="#8a8a8a"/><stop offset=".474" stop-color="#898989"/><stop offset=".505" stop-color="#8b8b8b"/><stop offset=".545" stop-color="#909090"/><stop offset=".557" stop-color="#949494"/><stop offset=".63" stop-color="#aeaeae"/><stop offset=".738" stop-color="#cecece"/><stop offset=".762" stop-color="#dfdfdf"/><stop offset=".796" stop-color="#eeeeee"/><stop offset=".85" stop-color="#fbfbfb"/><stop offset=".872" stop-color="#f6f6f6"/><stop offset=".897" stop-color="#e9e9e9"/><stop offset=".92" stop-color="#d5d5d5"/><stop offset=".933" stop-color="#c5c5c5"/><stop offset=".935" stop-color="#bfbfbf"/><stop offset=".939" stop-color="#afafaf"/><stop offset=".943" stop-color="#999999"/><stop offset=".947" stop-color="#919191"/><stop offset=".962" stop-color="#909090"/><stop offset=".999" stop-color="#8a8a8a"/></linearGradient>
<linearGradient id="c45" x2="0" y2="1"><stop offset=".001" stop-color="#686868"/><stop offset=".13" stop-color="#6c6c6c"/><stop offset=".165" stop-color="#707070"/><stop offset=".242" stop-color="#7b7b7b"/><stop offset=".318" stop-color="#8c8c8c"/><stop offset=".372" stop-color="#979797"/><stop offset=".441" stop-color="#8a8a8a"/><stop offset=".47" stop-color="#8a8a8a"/><stop offset=".503" stop-color="#8d8d8d"/><stop offset=".545" stop-color="#929292"/><stop offset=".63" stop-color="#b0b0b0"/><stop offset=".738" stop-color="#cecece"/><stop offset=".762" stop-color="#dedede"/><stop offset=".794" stop-color="#ededed"/><stop offset=".85" stop-color="#fbfbfb"/><stop offset=".872" stop-color="#f6f6f6"/><stop offset=".897" stop-color="#e9e9e9"/><stop offset=".92" stop-color="#d5d5d5"/><stop offset=".935" stop-color="#c0c0c0"/><stop offset=".939" stop-color="#b1b1b1"/><stop offset=".943" stop-color="#9c9c9c"/><stop offset=".945" stop-color="#969696"/><stop offset=".962" stop-color="#949494"/><stop offset=".999" stop-color="#8d8d8d"/></linearGradient>
<linearGradient id="c46" x2="0" y2="1"><stop offset=".001" stop-color="#676767"/><stop offset=".132" stop-color="#6a6a6a"/><stop offset=".194" stop-color="#707070"/><stop offset=".242" stop-color="#767676"/><stop offset=".372" stop-color="#909090"/><stop offset=".433" stop-color="#868686"/><stop offset=".489" stop-color="#898989"/><stop offset=".545" stop-color="#909090"/><stop offset=".557" stop-color="#949494"/><stop offset=".628" stop-color="#aeaeae"/><stop offset=".738" stop-color="#cdcdcd"/><stop offset=".762" stop-color="#dddddd"/><stop offset=".794" stop-color="#ececec"/><stop offset=".85" stop-color="#fafafa"/><stop offset=".874" stop-color="#f4f4f4"/><stop offset=".897" stop-color="#e8e8e8"/><stop offset=".918" stop-color="#d6d6d6"/><stop offset=".933" stop-color="#c4c4c4"/><stop offset=".939" stop-color="#afafaf"/><stop offset=".943" stop-color="#9a9a9a"/><stop offset=".947" stop-color="#939393"/><stop offset=".962" stop-color="#939393"/><stop offset=".999" stop-color="#8c8c8c"/></linearGradient>
<linearGradient id="c47" x2="0" y2="1"><stop offset=".001" stop-color="#656565"/><stop offset=".152" stop-color="#696969"/><stop offset=".24" stop-color="#6e6e6e"/><stop offset=".277" stop-color="#727272"/><stop offset=".372" stop-color="#828282"/><stop offset=".406" stop-color="#7d7d7d"/><stop offset=".43" stop-color="#7c7c7c"/><stop offset=".503" stop-color="#828282"/><stop offset=".545" stop-color="#878787"/><stop offset=".58" stop-color="#949494"/><stop offset=".628" stop-color="#a7a7a7"/><stop offset=".738" stop-color="#cacaca"/><stop offset=".762" stop-color="#dbdbdb"/><stop offset=".794" stop-color="#eaeaea"/><stop offset=".85" stop-color="#f8f8f8"/><stop offset=".872" stop-color="#f3f3f3"/><stop offset=".897" stop-color="#e6e6e6"/><stop offset=".92" stop-color="#d1d1d1"/><stop offset=".933" stop-color="#c0c0c0"/><stop offset=".935" stop-color="#bababa"/><stop offset=".939" stop-color="#a8a8a8"/><stop offset=".945" stop-color="#8d8d8d"/><stop offset=".947" stop-color="#8c8c8c"/><stop offset=".962" stop-color="#8b8b8b"/><stop offset=".999" stop-color="#858585"/></linearGradient>
<linearGradient id="c48" x2="0" y2="1"><stop offset=".001" stop-color="#666666"/><stop offset=".204" stop-color="#6c6c6c"/><stop offset=".275" stop-color="#737373"/><stop offset=".372" stop-color="#828282"/><stop offset=".418" stop-color="#7e7e7e"/><stop offset=".48" stop-color="#838383"/><stop offset=".545" stop-color="#8c8c8c"/><stop offset=".567" stop-color="#949494"/><stop offset=".628" stop-color="#aaaaaa"/><stop offset=".738" stop-color="#cacaca"/><stop offset=".762" stop-color="#dbdbdb"/><stop offset=".794" stop-color="#eaeaea"/><stop offset=".85" stop-color="#f8f8f8"/><stop offset=".874" stop-color="#f2f2f2"/><stop offset=".897" stop-color="#e6e6e6"/><stop offset=".918" stop-color="#d4d4d4"/><stop offset=".933" stop-color="#c1c1c1"/><stop offset=".939" stop-color="#acacac"/><stop offset=".943" stop-color="#969696"/><stop offset=".947" stop-color="#919191"/><stop offset=".962" stop-color="#909090"/><stop offset=".999" stop-color="#8a8a8a"/></linearGradient>
<linearGradient id="c49" x2="0" y2="1"><stop offset=".001" stop-color="#666666"/><stop offset=".138" stop-color="#6a6a6a"/><stop offset=".24" stop-color="#6f6f6f"/><stop offset=".316" stop-color="#7a7a7a"/><stop offset=".366" stop-color="#888888"/><stop offset=".491" stop-color="#898989"/><stop offset=".545" stop-color="#909090"/><stop offset=".738" stop-color="#c9c9c9"/><stop offset=".762" stop-color="#dbdbdb"/><stop offset=".794" stop-color="#e9e9e9"/><stop offset=".85" stop-color="#f7f7f7"/><stop offset=".874" stop-color="#f1f1f1"/><stop offset=".897" stop-color="#e5e5e5"/><stop offset=".918" stop-color="#d3d3d3"/><stop offset=".933" stop-color="#c0c0c0"/><stop offset=".939" stop-color="#aaaaaa"/><stop offset=".943" stop-color="#959595"/><stop offset=".945" stop-color="#919191"/><stop offset=".947" stop-color="#909090"/><stop offset=".962" stop-color="#8f8f8f"/><stop offset=".999" stop-color="#888888"/></linearGradient>
<linearGradient id="c50" x2="0" y2="1"><stop offset=".001" stop-color="#808080"/><stop offset=".13" stop-color="#878787"/><stop offset=".24" stop-color="#909090"/><stop offset=".254" stop-color="#949494"/><stop offset=".366" stop-color="#b3b3b3"/><stop offset=".491" stop-color="#b4b4b4"/><stop offset=".63" stop-color="#c3c3c3"/><stop offset=".74" stop-color="#d6d6d6"/><stop offset=".796" stop-color="#ebebeb"/><stop offset=".85" stop-color="#f7f7f7"/><stop offset=".874" stop-color="#f2f2f2"/><stop offset=".897" stop-color="#e6e6e6"/><stop offset=".918" stop-color="#d4d4d4"/><stop offset=".933" stop-color="#c2c2c2"/><stop offset=".939" stop-color="#adadad"/><stop offset=".943" stop-color="#999999"/><stop offset=".945" stop-color="#959595"/><stop offset=".962" stop-color="#939393"/><stop offset=".999" stop-color="#8c8c8c"/></linearGradient>
<linearGradient id="c51" x2="0" y2="1"><stop offset=".001" stop-color="#7b7b7b"/><stop offset=".132" stop-color="#818181"/><stop offset=".24" stop-color="#8a8a8a"/><stop offset=".279" stop-color="#949494"/><stop offset=".366" stop-color="#afafaf"/><stop offset=".491" stop-color="#afafaf"/><stop offset=".63" stop-color="#c0c0c0"/><stop offset=".74" stop-color="#d5d5d5"/><stop offset=".796" stop-color="#eaeaea"/><stop offset=".85" stop-color="#f6f6f6"/><stop offset=".874" stop-color="#f1f1f1"/><stop offset=".897" stop-color="#e5e5e5"/><stop offset=".918" stop-color="#d2d2d2"/><stop offset=".933" stop-color="#bfbfbf"/><stop offset=".939" stop-color="#a8a8a8"/><stop offset=".945" stop-color="#8e8e8e"/><stop offset=".947" stop-color="#8d8d8d"/><stop offset=".962" stop-color="#8d8d8d"/><stop offset=".999" stop-color="#868686"/></linearGradient>
<linearGradient id="c52" x2="0" y2="1"><stop offset=".001" stop-color="#6c6c6c"/><stop offset=".13" stop-color="#717171"/><stop offset=".24" stop-color="#797979"/><stop offset=".287" stop-color="#838383"/><stop offset=".316" stop-color="#8b8b8b"/><stop offset=".343" stop-color="#949494"/><stop offset=".364" stop-color="#9b9b9b"/><stop offset=".491" stop-color="#9c9c9c"/><stop offset=".628" stop-color="#adadad"/><stop offset=".738" stop-color="#c4c4c4"/><stop offset=".794" stop-color="#e1e1e1"/><stop offset=".85" stop-color="#efefef"/><stop offset=".872" stop-color="#eaeaea"/><stop offset=".897" stop-color="#dddddd"/><stop offset=".92" stop-color="#c9c9c9"/><stop offset=".935" stop-color="#b4b4b4"/><stop offset=".941" stop-color="#9a9a9a"/><stop offset=".945" stop-color="#888888"/><stop offset=".947" stop-color="#868686"/><stop offset=".999" stop-color="#7f7f7f"/></linearGradient>
<linearGradient id="c53" x2="0" y2="1"><stop offset=".001" stop-color="#656565"/><stop offset=".281" stop-color="#6a6a6a"/><stop offset=".327" stop-color="#6c6c6c"/><stop offset=".366" stop-color="#727272"/><stop offset=".489" stop-color="#737373"/><stop offset=".545" stop-color="#777777"/><stop offset=".596" stop-color="#808080"/><stop offset=".611" stop-color="#838383"/><stop offset=".63" stop-color="#8c8c8c"/><stop offset=".667" stop-color="#949494"/><stop offset=".738" stop-color="#a8a8a8"/><stop offset=".762" stop-color="#bababa"/><stop offset=".794" stop-color="#c9c9c9"/><stop offset=".85" stop-color="#d8d8d8"/><stop offset=".872" stop-color="#d3d3d3"/><stop offset=".897" stop-color="#c5c5c5"/><stop offset=".92" stop-color="#afafaf"/><stop offset=".935" stop-color="#999999"/><stop offset=".937" stop-color="#919191"/><stop offset=".941" stop-color="#828282"/><stop offset=".943" stop-color="#7d7d7d"/><stop offset=".949" stop-color="#767676"/><stop offset=".993" stop-color="#767676"/><stop offset=".997" stop-color="#717171"/><stop offset=".999" stop-color="#717171"/></linearGradient>
<linearGradient id="c54" x2="0" y2="1"><stop offset=".001" stop-color="#656565"/><stop offset=".235" stop-color="#696969"/><stop offset=".489" stop-color="#6e6e6e"/><stop offset=".547" stop-color="#717171"/><stop offset=".582" stop-color="#777777"/><stop offset=".611" stop-color="#7d7d7d"/><stop offset=".632" stop-color="#858585"/><stop offset=".65" stop-color="#8f8f8f"/><stop offset=".738" stop-color="#a2a2a2"/><stop offset=".762" stop-color="#b3b3b3"/><stop offset=".794" stop-color="#c2c2c2"/><stop offset=".85" stop-color="#cfcfcf"/><stop offset=".872" stop-color="#cacaca"/><stop offset=".897" stop-color="#bdbdbd"/><stop offset=".933" stop-color="#9a9a9a"/><stop offset=".935" stop-color="#959595"/><stop offset=".943" stop-color="#7e7e7e"/><stop offset=".949" stop-color="#747474"/><stop offset=".953" stop-color="#717171"/><stop offset=".968" stop-color="#707070"/><stop offset=".993" stop-color="#727272"/><stop offset=".999" stop-color="#6e6e6e"/></linearGradient>
<linearGradient id="c55" x2="0" y2="1"><stop offset=".001" stop-color="#656565"/><stop offset=".235" stop-color="#696969"/><stop offset=".547" stop-color="#717171"/><stop offset=".584" stop-color="#767676"/><stop offset=".609" stop-color="#7c7c7c"/><stop offset=".628" stop-color="#838383"/><stop offset=".648" stop-color="#8f8f8f"/><stop offset=".738" stop-color="#a1a1a1"/><stop offset=".762" stop-color="#b2b2b2"/><stop offset=".794" stop-color="#c1c1c1"/><stop offset=".85" stop-color="#cfcfcf"/><stop offset=".872" stop-color="#cacaca"/><stop offset=".897" stop-color="#bdbdbd"/><stop offset=".93" stop-color="#9c9c9c"/><stop offset=".935" stop-color="#949494"/><stop offset=".941" stop-color="#828282"/><stop offset=".945" stop-color="#797979"/><stop offset=".949" stop-color="#737373"/><stop offset=".953" stop-color="#6f6f6f"/><stop offset=".964" stop-color="#6e6e6e"/><stop offset=".993" stop-color="#727272"/><stop offset=".997" stop-color="#6d6d6d"/><stop offset=".999" stop-color="#6c6c6c"/></linearGradient>
<linearGradient id="c56" x2="0" y2="1"><stop offset=".001" stop-color="#656565"/><stop offset=".235" stop-color="#696969"/><stop offset=".476" stop-color="#707070"/><stop offset=".545" stop-color="#747474"/><stop offset=".565" stop-color="#797979"/><stop offset=".59" stop-color="#838383"/><stop offset=".619" stop-color="#959595"/><stop offset=".675" stop-color="#9e9e9e"/><stop offset=".738" stop-color="#acacac"/><stop offset=".794" stop-color="#c8c8c8"/><stop offset=".85" stop-color="#d5d5d5"/><stop offset=".872" stop-color="#d0d0d0"/><stop offset=".897" stop-color="#c5c5c5"/><stop offset=".93" stop-color="#a7a7a7"/><stop offset=".937" stop-color="#989898"/><stop offset=".943" stop-color="#848484"/><stop offset=".951" stop-color="#747474"/><stop offset=".957" stop-color="#6f6f6f"/><stop offset=".968" stop-color="#6e6e6e"/><stop offset=".993" stop-color="#717171"/><stop offset=".995" stop-color="#6f6f6f"/><stop offset=".999" stop-color="#727272"/></linearGradient>
<linearGradient id="c57" x2="0" y2="1"><stop offset=".001" stop-color="#656565"/><stop offset=".233" stop-color="#696969"/><stop offset=".387" stop-color="#6d6d6d"/><stop offset=".472" stop-color="#717171"/><stop offset=".538" stop-color="#777777"/><stop offset=".547" stop-color="#787878"/><stop offset=".584" stop-color="#838383"/><stop offset=".628" stop-color="#949494"/><stop offset=".642" stop-color="#9a9a9a"/><stop offset=".738" stop-color="#b3b3b3"/><stop offset=".762" stop-color="#c3c3c3"/><stop offset=".794" stop-color="#d1d1d1"/><stop offset=".85" stop-color="#dedede"/><stop offset=".872" stop-color="#d9d9d9"/><stop offset=".897" stop-color="#cdcdcd"/><stop offset=".918" stop-color="#bbbbbb"/><stop offset=".933" stop-color="#aaaaaa"/><stop offset=".939" stop-color="#959595"/><stop offset=".943" stop-color="#838383"/><stop offset=".945" stop-color="#7d7d7d"/><stop offset=".951" stop-color="#727272"/><stop offset=".955" stop-color="#6f6f6f"/><stop offset=".966" stop-color="#6e6e6e"/><stop offset=".993" stop-color="#717171"/><stop offset=".995" stop-color="#6f6f6f"/><stop offset=".999" stop-color="#6f6f6f"/></linearGradient>
<linearGradient id="c58" x2="0" y2="1"><stop offset=".001" stop-color="#656565"/><stop offset=".296" stop-color="#6b6b6b"/><stop offset=".408" stop-color="#707070"/><stop offset=".484" stop-color="#767676"/><stop offset=".545" stop-color="#7e7e7e"/><stop offset=".57" stop-color="#858585"/><stop offset=".607" stop-color="#949494"/><stop offset=".626" stop-color="#9d9d9d"/><stop offset=".738" stop-color="#b9b9b9"/><stop offset=".762" stop-color="#c8c8c8"/><stop offset=".794" stop-color="#d6d6d6"/><stop offset=".85" stop-color="#e3e3e3"/><stop offset=".872" stop-color="#dedede"/><stop offset=".897" stop-color="#d2d2d2"/><stop offset=".918" stop-color="#c1c1c1"/><stop offset=".933" stop-color="#b1b1b1"/><stop offset=".939" stop-color="#9c9c9c"/><stop offset=".941" stop-color="#939393"/><stop offset=".943" stop-color="#888888"/><stop offset=".945" stop-color="#818181"/><stop offset=".949" stop-color="#777777"/><stop offset=".953" stop-color="#717171"/><stop offset=".957" stop-color="#6f6f6f"/><stop offset=".968" stop-color="#6e6e6e"/><stop offset=".993" stop-color="#717171"/><stop offset=".995" stop-color="#6f6f6f"/><stop offset=".999" stop-color="#727272"/></linearGradient>
<linearGradient id="c59" x2="0" y2="1"><stop offset=".001" stop-color="#656565"/><stop offset=".339" stop-color="#6c6c6c"/><stop offset=".439" stop-color="#707070"/><stop offset=".524" stop-color="#777777"/><stop offset=".547" stop-color="#7a7a7a"/><stop offset=".58" stop-color="#848484"/><stop offset=".626" stop-color="#949494"/><stop offset=".738" stop-color="#b5b5b5"/><stop offset=".762" stop-color="#c6c6c6"/><stop offset=".796" stop-color="#d5d5d5"/><stop offset=".85" stop-color="#e2e2e2"/><stop offset=".872" stop-color="#dddddd"/><stop offset=".897" stop-color="#d0d0d0"/><stop offset=".918" stop-color="#bebebe"/><stop offset=".933" stop-color="#adadad"/><stop offset=".939" stop-color="#979797"/><stop offset=".943" stop-color="#838383"/><stop offset=".945" stop-color="#7d7d7d"/><stop offset=".949" stop-color="#747474"/><stop offset=".953" stop-color="#707070"/><stop offset=".964" stop-color="#6d6d6d"/><stop offset=".993" stop-color="#717171"/><stop offset=".997" stop-color="#6e6e6e"/><stop offset=".999" stop-color="#6e6e6e"/></linearGradient>
<linearGradient id="c60" x2="0" y2="1"><stop offset=".001" stop-color="#656565"/><stop offset=".337" stop-color="#6c6c6c"/><stop offset=".433" stop-color="#707070"/><stop offset=".511" stop-color="#777777"/><stop offset=".547" stop-color="#7b7b7b"/><stop offset=".576" stop-color="#838383"/><stop offset=".621" stop-color="#949494"/><stop offset=".652" stop-color="#a0a0a0"/><stop offset=".738" stop-color="#b6b6b6"/><stop offset=".762" stop-color="#c6c6c6"/><stop offset=".796" stop-color="#d6d6d6"/><stop offset=".85" stop-color="#e2e2e2"/><stop offset=".872" stop-color="#dddddd"/><stop offset=".897" stop-color="#d1d1d1"/><stop offset=".918" stop-color="#bfbfbf"/><stop offset=".933" stop-color="#adadad"/><stop offset=".939" stop-color="#989898"/><stop offset=".941" stop-color="#8e8e8e"/><stop offset=".943" stop-color="#848484"/><stop offset=".945" stop-color="#7e7e7e"/><stop offset=".949" stop-color="#757575"/><stop offset=".953" stop-color="#707070"/><stop offset=".964" stop-color="#6e6e6e"/><stop offset=".993" stop-color="#717171"/><stop offset=".997" stop-color="#6e6e6e"/><stop offset=".999" stop-color="#6f6f6f"/></linearGradient>
<linearGradient id="c61" x2="0" y2="1"><stop offset=".001" stop-color="#656565"/><stop offset=".331" stop-color="#6c6c6c"/><stop offset=".426" stop-color="#707070"/><stop offset=".503" stop-color="#767676"/><stop offset=".547" stop-color="#7b7b7b"/><stop offset=".574" stop-color="#838383"/><stop offset=".619" stop-color="#949494"/><stop offset=".652" stop-color="#a2a2a2"/><stop offset=".738" stop-color="#b7b7b7"/><stop offset=".762" stop-color="#c7c7c7"/><stop offset=".794" stop-color="#d5d5d5"/><stop offset=".85" stop-color="#e2e2e2"/><stop offset=".872" stop-color="#dddddd"/><stop offset=".897" stop-color="#d1d1d1"/><stop offset=".918" stop-color="#bfbfbf"/><stop offset=".933" stop-color="#aeaeae"/><stop offset=".939" stop-color="#999999"/><stop offset=".941" stop-color="#8f8f8f"/><stop offset=".943" stop-color="#858585"/><stop offset=".947" stop-color="#797979"/><stop offset=".951" stop-color="#727272"/><stop offset=".955" stop-color="#6f6f6f"/><stop offset=".966" stop-color="#6e6e6e"/><stop offset=".993" stop-color="#717171"/><stop offset=".995" stop-color="#6f6f6f"/><stop offset=".999" stop-color="#6f6f6f"/></linearGradient>
<linearGradient id="c62" x2="0" y2="1"><stop offset=".001" stop-color="#656565"/><stop offset=".341" stop-color="#6c6c6c"/><stop offset=".443" stop-color="#707070"/><stop offset=".528" stop-color="#777777"/><stop offset=".545" stop-color="#797979"/><stop offset=".559" stop-color="#7d7d7d"/><stop offset=".628" stop-color="#959595"/><stop offset=".669" stop-color="#a3a3a3"/><stop offset=".738" stop-color="#b5b5b5"/><stop offset=".762" stop-color="#c6c6c6"/><stop offset=".796" stop-color="#d5d5d5"/><stop offset=".85" stop-color="#e2e2e2"/><stop offset=".872" stop-color="#dddddd"/><stop offset=".897" stop-color="#d0d0d0"/><stop offset=".918" stop-color="#bebebe"/><stop offset=".933" stop-color="#acacac"/><stop offset=".939" stop-color="#979797"/><stop offset=".943" stop-color="#838383"/><stop offset=".945" stop-color="#7c7c7c"/><stop offset=".949" stop-color="#747474"/><stop offset=".953" stop-color="#6f6f6f"/><stop offset=".964" stop-color="#6d6d6d"/><stop offset=".993" stop-color="#717171"/><stop offset=".997" stop-color="#6d6d6d"/><stop offset=".999" stop-color="#6d6d6d"/></linearGradient>
<linearGradient id="c63" x2="0" y2="1"><stop offset=".001" stop-color="#656565"/><stop offset=".31" stop-color="#6c6c6c"/><stop offset=".414" stop-color="#707070"/><stop offset=".491" stop-color="#767676"/><stop offset=".547" stop-color="#7d7d7d"/><stop offset=".615" stop-color="#949494"/><stop offset=".648" stop-color="#a4a4a4"/><stop offset=".738" stop-color="#b8b8b8"/><stop offset=".762" stop-color="#c7c7c7"/><stop offset=".794" stop-color="#d5d5d5"/><stop offset=".85" stop-color="#e2e2e2"/><stop offset=".872" stop-color="#dedede"/><stop offset=".897" stop-color="#d1d1d1"/><stop offset=".918" stop-color="#c0c0c0"/><stop offset=".933" stop-color="#afafaf"/><stop offset=".939" stop-color="#9a9a9a"/><stop offset=".941" stop-color="#919191"/><stop offset=".943" stop-color="#868686"/><stop offset=".947" stop-color="#7b7b7b"/><stop offset=".951" stop-color="#737373"/><stop offset=".955" stop-color="#6f6f6f"/><stop offset=".966" stop-color="#6e6e6e"/><stop offset=".993" stop-color="#717171"/><stop offset=".995" stop-color="#6f6f6f"/><stop offset=".999" stop-color="#717171"/></linearGradient>
<linearGradient id="c64" x2="0" y2="1"><stop offset=".001" stop-color="#666666"/><stop offset=".275" stop-color="#6b6b6b"/><stop offset=".41" stop-color="#707070"/><stop offset=".489" stop-color="#767676"/><stop offset=".547" stop-color="#7d7d7d"/><stop offset=".58" stop-color="#888888"/><stop offset=".607" stop-color="#949494"/><stop offset=".636" stop-color="#a6a6a6"/><stop offset=".738" stop-color="#b8b8b8"/><stop offset=".794" stop-color="#d4d4d4"/><stop offset=".85" stop-color="#e1e1e1"/><stop offset=".872" stop-color="#dcdcdc"/><stop offset=".897" stop-color="#d0d0d0"/><stop offset=".918" stop-color="#c0c0c0"/><stop offset=".933" stop-color="#afafaf"/><stop offset=".939" stop-color="#9b9b9b"/><stop offset=".941" stop-color="#929292"/><stop offset=".943" stop-color="#888888"/><stop offset=".945" stop-color="#828282"/><stop offset=".949" stop-color="#787878"/><stop offset=".953" stop-color="#727272"/><stop offset=".957" stop-color="#6f6f6f"/><stop offset=".966" stop-color="#6e6e6e"/><stop offset=".993" stop-color="#717171"/><stop offset=".995" stop-color="#6f6f6f"/><stop offset=".999" stop-color="#737373"/></linearGradient>
<linearGradient id="c65" x2="0" y2="1"><stop offset=".001" stop-color="#656565"/><stop offset=".258" stop-color="#6a6a6a"/><stop offset=".489" stop-color="#757575"/><stop offset=".545" stop-color="#7a7a7a"/><stop offset=".592" stop-color="#838383"/><stop offset=".638" stop-color="#949494"/><stop offset=".669" stop-color="#a5a5a5"/><stop offset=".738" stop-color="#b1b1b1"/><stop offset=".794" stop-color="#cecece"/><stop offset=".85" stop-color="#dbdbdb"/><stop offset=".872" stop-color="#d6d6d6"/><stop offset=".897" stop-color="#cacaca"/><stop offset=".92" stop-color="#b6b6b6"/><stop offset=".933" stop-color="#a6a6a6"/><stop offset=".935" stop-color="#a1a1a1"/><stop offset=".939" stop-color="#929292"/><stop offset=".943" stop-color="#818181"/><stop offset=".945" stop-color="#7c7c7c"/><stop offset=".951" stop-color="#727272"/><stop offset=".955" stop-color="#6f6f6f"/><stop offset=".966" stop-color="#6e6e6e"/><stop offset=".993" stop-color="#717171"/><stop offset=".997" stop-color="#6e6e6e"/><stop offset=".999" stop-color="#6e6e6e"/></linearGradient>
<linearGradient id="c66" x2="0" y2="1"><stop offset=".001" stop-color="#686868"/><stop offset=".13" stop-color="#6c6c6c"/><stop offset=".217" stop-color="#717171"/><stop offset=".364" stop-color="#808080"/><stop offset=".489" stop-color="#878787"/><stop offset=".567" stop-color="#8d8d8d"/><stop offset=".64" stop-color="#9a9a9a"/><stop offset=".667" stop-color="#a7a7a7"/><stop offset=".738" stop-color="#b3b3b3"/><stop offset=".794" stop-color="#cfcfcf"/><stop offset=".85" stop-color="#dcdcdc"/><stop offset=".872" stop-color="#d7d7d7"/><stop offset=".897" stop-color="#cbcbcb"/><stop offset=".92" stop-color="#b7b7b7"/><stop offset=".933" stop-color="#a7a7a7"/><stop offset=".939" stop-color="#939393"/><stop offset=".943" stop-color="#828282"/><stop offset=".945" stop-color="#7d7d7d"/><stop offset=".951" stop-color="#727272"/><stop offset=".955" stop-color="#6f6f6f"/><stop offset=".966" stop-color="#6e6e6e"/><stop offset=".993" stop-color="#717171"/><stop offset=".997" stop-color="#6e6e6e"/><stop offset=".999" stop-color="#6f6f6f"/></linearGradient>
<linearGradient id="c67" x2="0" y2="1"><stop offset=".001" stop-color="#6b6b6b"/><stop offset=".132" stop-color="#707070"/><stop offset=".233" stop-color="#777777"/><stop offset=".366" stop-color="#868686"/><stop offset=".609" stop-color="#989898"/><stop offset=".659" stop-color="#a2a2a2"/><stop offset=".684" stop-color="#aaaaaa"/><stop offset=".738" stop-color="#b4b4b4"/><stop offset=".794" stop-color="#cfcfcf"/><stop offset=".852" stop-color="#dddddd"/><stop offset=".874" stop-color="#d7d7d7"/><stop offset=".897" stop-color="#cbcbcb"/><stop offset=".92" stop-color="#b7b7b7"/><stop offset=".933" stop-color="#a6a6a6"/><stop offset=".935" stop-color="#a1a1a1"/><stop offset=".939" stop-color="#919191"/><stop offset=".943" stop-color="#808080"/><stop offset=".945" stop-color="#7b7b7b"/><stop offset=".949" stop-color="#747474"/><stop offset=".953" stop-color="#6f6f6f"/><stop offset=".964" stop-color="#6d6d6d"/><stop offset=".993" stop-color="#717171"/><stop offset=".997" stop-color="#6d6d6d"/><stop offset=".999" stop-color="#6d6d6d"/></linearGradient>
<linearGradient id="c68" x2="0" y2="1"><stop offset=".001" stop-color="#6b6b6b"/><stop offset=".13" stop-color="#707070"/><stop offset=".229" stop-color="#777777"/><stop offset=".366" stop-color="#878787"/><stop offset=".609" stop-color="#989898"/><stop offset=".659" stop-color="#a2a2a2"/><stop offset=".684" stop-color="#acacac"/><stop offset=".738" stop-color="#b4b4b4"/><stop offset=".794" stop-color="#cfcfcf"/><stop offset=".852" stop-color="#dddddd"/><stop offset=".874" stop-color="#d7d7d7"/><stop offset=".897" stop-color="#cbcbcb"/><stop offset=".92" stop-color="#b8b8b8"/><stop offset=".933" stop-color="#a7a7a7"/><stop offset=".935" stop-color="#a1a1a1"/><stop offset=".939" stop-color="#929292"/><stop offset=".943" stop-color="#818181"/><stop offset=".945" stop-color="#7b7b7b"/><stop offset=".949" stop-color="#747474"/><stop offset=".953" stop-color="#6f6f6f"/><stop offset=".964" stop-color="#6d6d6d"/><stop offset=".993" stop-color="#717171"/><stop offset=".997" stop-color="#6d6d6d"/><stop offset=".999" stop-color="#6d6d6d"/></linearGradient>
<linearGradient id="c69" x2="0" y2="1"><stop offset=".001" stop-color="#656565"/><stop offset=".24" stop-color="#6c6c6c"/><stop offset=".366" stop-color="#767676"/><stop offset=".489" stop-color="#7b7b7b"/><stop offset=".555" stop-color="#808080"/><stop offset=".605" stop-color="#888888"/><stop offset=".679" stop-color="#a9a9a9"/><stop offset=".738" stop-color="#b2b2b2"/><stop offset=".794" stop-color="#cfcfcf"/><stop offset=".85" stop-color="#dcdcdc"/><stop offset=".874" stop-color="#d7d7d7"/><stop offset=".897" stop-color="#cacaca"/><stop offset=".92" stop-color="#b6b6b6"/><stop offset=".935" stop-color="#9f9f9f"/><stop offset=".939" stop-color="#8f8f8f"/><stop offset=".943" stop-color="#7f7f7f"/><stop offset=".945" stop-color="#797979"/><stop offset=".949" stop-color="#727272"/><stop offset=".953" stop-color="#6f6f6f"/><stop offset=".962" stop-color="#6d6d6d"/><stop offset=".993" stop-color="#717171"/><stop offset=".997" stop-color="#6c6c6c"/><stop offset=".999" stop-color="#6c6c6c"/></linearGradient>
<linearGradient id="c70" x2="0" y2="1"><stop offset=".001" stop-color="#656565"/><stop offset=".235" stop-color="#6b6b6b"/><stop offset=".366" stop-color="#747474"/><stop offset=".489" stop-color="#787878"/><stop offset=".557" stop-color="#848484"/><stop offset=".623" stop-color="#949494"/><stop offset=".659" stop-color="#9f9f9f"/><stop offset=".684" stop-color="#acacac"/><stop offset=".74" stop-color="#b6b6b6"/><stop offset=".796" stop-color="#d0d0d0"/><stop offset=".85" stop-color="#dcdcdc"/><stop offset=".874" stop-color="#d7d7d7"/><stop offset=".897" stop-color="#cacaca"/><stop offset=".92" stop-color="#b7b7b7"/><stop offset=".935" stop-color="#9f9f9f"/><stop offset=".939" stop-color="#909090"/><stop offset=".943" stop-color="#808080"/><stop offset=".947" stop-color="#787878"/><stop offset=".951" stop-color="#737373"/><stop offset=".962" stop-color="#717171"/><stop offset=".993" stop-color="#727272"/><stop offset=".999" stop-color="#6d6d6d"/></linearGradient>
<linearGradient id="c71" x2="0" y2="1"><stop offset=".001" stop-color="#717171"/><stop offset=".138" stop-color="#777777"/><stop offset=".242" stop-color="#7e7e7e"/><stop offset=".366" stop-color="#8b8b8b"/><stop offset=".489" stop-color="#919191"/><stop offset=".505" stop-color="#949494"/><stop offset=".609" stop-color="#aaaaaa"/><stop offset=".796" stop-color="#dbdbdb"/><stop offset=".85" stop-color="#e1e1e1"/><stop offset=".879" stop-color="#d8d8d8"/><stop offset=".897" stop-color="#cdcdcd"/><stop offset=".918" stop-color="#bbbbbb"/><stop offset=".933" stop-color="#a7a7a7"/><stop offset=".945" stop-color="#8e8e8e"/><stop offset=".951" stop-color="#888888"/><stop offset=".999" stop-color="#838383"/></linearGradient>
<linearGradient id="c72" x2="0" y2="1"><stop offset=".001" stop-color="#727272"/><stop offset=".132" stop-color="#777777"/><stop offset=".242" stop-color="#7f7f7f"/><stop offset=".366" stop-color="#8c8c8c"/><stop offset=".489" stop-color="#919191"/><stop offset=".609" stop-color="#ababab"/><stop offset=".796" stop-color="#dddddd"/><stop offset=".85" stop-color="#e7e7e7"/><stop offset=".872" stop-color="#e2e2e2"/><stop offset=".891" stop-color="#d8d8d8"/><stop offset=".918" stop-color="#c2c2c2"/><stop offset=".933" stop-color="#afafaf"/><stop offset=".943" stop-color="#919191"/><stop offset=".951" stop-color="#898989"/><stop offset=".999" stop-color="#838383"/></linearGradient>
<linearGradient id="c73" x2="0" y2="1"><stop offset=".001" stop-color="#676767"/><stop offset=".003" stop-color="#686868"/><stop offset=".24" stop-color="#707070"/><stop offset=".366" stop-color="#7b7b7b"/><stop offset=".489" stop-color="#808080"/><stop offset=".586" stop-color="#949494"/><stop offset=".642" stop-color="#a3a3a3"/><stop offset=".673" stop-color="#b0b0b0"/><stop offset=".738" stop-color="#bebebe"/><stop offset=".794" stop-color="#dadada"/><stop offset=".85" stop-color="#e7e7e7"/><stop offset=".872" stop-color="#e2e2e2"/><stop offset=".893" stop-color="#d7d7d7"/><stop offset=".92" stop-color="#bfbfbf"/><stop offset=".933" stop-color="#aeaeae"/><stop offset=".935" stop-color="#a8a8a8"/><stop offset=".939" stop-color="#979797"/><stop offset=".943" stop-color="#848484"/><stop offset=".945" stop-color="#7f7f7f"/><stop offset=".951" stop-color="#787878"/><stop offset=".968" stop-color="#767676"/><stop offset=".993" stop-color="#777777"/><stop offset=".999" stop-color="#737373"/></linearGradient>
<linearGradient id="c74" x2="0" y2="1"><stop offset=".001" stop-color="#636363"/><stop offset=".233" stop-color="#686868"/><stop offset=".43" stop-color="#6e6e6e"/><stop offset=".505" stop-color="#727272"/><stop offset=".545" stop-color="#767676"/><stop offset=".57" stop-color="#7c7c7c"/><stop offset=".596" stop-color="#838383"/><stop offset=".646" stop-color="#949494"/><stop offset=".673" stop-color="#a0a0a0"/><stop offset=".702" stop-color="#b2b2b2"/><stop offset=".742" stop-color="#b7b7b7"/><stop offset=".796" stop-color="#cecece"/><stop offset=".852" stop-color="#dbdbdb"/><stop offset=".874" stop-color="#d5d5d5"/><stop offset=".897" stop-color="#cacaca"/><stop offset=".918" stop-color="#b8b8b8"/><stop offset=".933" stop-color="#a5a5a5"/><stop offset=".935" stop-color="#9f9f9f"/><stop offset=".939" stop-color="#8f8f8f"/><stop offset=".943" stop-color="#7e7e7e"/><stop offset=".945" stop-color="#787878"/><stop offset=".951" stop-color="#6d6d6d"/><stop offset=".955" stop-color="#686868"/><stop offset=".964" stop-color="#666666"/><stop offset=".993" stop-color="#6e6e6e"/><stop offset=".997" stop-color="#606060"/><stop offset=".999" stop-color="#5d5d5d"/></linearGradient>
<linearGradient id="c75" x2="0" y2="1"><stop offset=".001" stop-color="#5f5f5f"/><stop offset=".445" stop-color="#696969"/><stop offset=".574" stop-color="#6e6e6e"/><stop offset=".605" stop-color="#747474"/><stop offset=".63" stop-color="#838383"/><stop offset=".652" stop-color="#959595"/><stop offset=".677" stop-color="#a9a9a9"/><stop offset=".769" stop-color="#b2b2b2"/><stop offset=".852" stop-color="#c1c1c1"/><stop offset=".914" stop-color="#b0b0b0"/><stop offset=".926" stop-color="#959595"/><stop offset=".933" stop-color="#8a8a8a"/><stop offset=".943" stop-color="#737373"/><stop offset=".953" stop-color="#676767"/><stop offset=".957" stop-color="#646464"/><stop offset=".966" stop-color="#656565"/><stop offset=".993" stop-color="#6d6d6d"/><stop offset=".995" stop-color="#696969"/><stop offset=".997" stop-color="#5c5c5c"/><stop offset=".999" stop-color="#525252"/></linearGradient>
<linearGradient id="c76" x2="0" y2="1"><stop offset=".001" stop-color="#5d5d5d"/><stop offset=".003" stop-color="#606060"/><stop offset=".412" stop-color="#676767"/><stop offset=".601" stop-color="#6f6f6f"/><stop offset=".617" stop-color="#717171"/><stop offset=".63" stop-color="#757575"/><stop offset=".652" stop-color="#838383"/><stop offset=".673" stop-color="#949494"/><stop offset=".702" stop-color="#acacac"/><stop offset=".837" stop-color="#b8b8b8"/><stop offset=".912" stop-color="#b1b1b1"/><stop offset=".926" stop-color="#949494"/><stop offset=".943" stop-color="#737373"/><stop offset=".953" stop-color="#666666"/><stop offset=".96" stop-color="#636363"/><stop offset=".97" stop-color="#666666"/><stop offset=".993" stop-color="#6d6d6d"/><stop offset=".995" stop-color="#686868"/><stop offset=".999" stop-color="#515151"/></linearGradient>
<linearGradient id="c77" x2="0" y2="1"><stop offset=".001" stop-color="#5b5b5b"/><stop offset=".003" stop-color="#5f5f5f"/><stop offset=".383" stop-color="#676767"/><stop offset=".605" stop-color="#6e6e6e"/><stop offset=".619" stop-color="#707070"/><stop offset=".634" stop-color="#747474"/><stop offset=".657" stop-color="#838383"/><stop offset=".677" stop-color="#949494"/><stop offset=".704" stop-color="#aaaaaa"/><stop offset=".837" stop-color="#b5b5b5"/><stop offset=".912" stop-color="#afafaf"/><stop offset=".924" stop-color="#959595"/><stop offset=".941" stop-color="#747474"/><stop offset=".951" stop-color="#666666"/><stop offset=".955" stop-color="#636363"/><stop offset=".964" stop-color="#646464"/><stop offset=".993" stop-color="#6d6d6d"/><stop offset=".995" stop-color="#686868"/><stop offset=".999" stop-color="#515151"/></linearGradient>
<linearGradient id="c78" x2="0" y2="1"><stop offset=".001" stop-color="#5a5a5a"/><stop offset=".003" stop-color="#5e5e5e"/><stop offset=".289" stop-color="#666666"/><stop offset=".632" stop-color="#737373"/><stop offset=".642" stop-color="#777777"/><stop offset=".655" stop-color="#7e7e7e"/><stop offset=".684" stop-color="#949494"/><stop offset=".717" stop-color="#aeaeae"/><stop offset=".837" stop-color="#b7b7b7"/><stop offset=".912" stop-color="#b2b2b2"/><stop offset=".926" stop-color="#949494"/><stop offset=".945" stop-color="#6f6f6f"/><stop offset=".949" stop-color="#676767"/><stop offset=".951" stop-color="#656565"/><stop offset=".955" stop-color="#626262"/><stop offset=".964" stop-color="#636363"/><stop offset=".993" stop-color="#6c6c6c"/><stop offset=".995" stop-color="#686868"/><stop offset=".999" stop-color="#505050"/></linearGradient>
<linearGradient id="c79" x2="0" y2="1"><stop offset=".001" stop-color="#5a5a5a"/><stop offset=".003" stop-color="#5e5e5e"/><stop offset=".078" stop-color="#5f5f5f"/><stop offset=".09" stop-color="#626262"/><stop offset=".184" stop-color="#666666"/><stop offset=".366" stop-color="#707070"/><stop offset=".545" stop-color="#757575"/><stop offset=".628" stop-color="#767676"/><stop offset=".634" stop-color="#6f6f6f"/><stop offset=".64" stop-color="#6f6f6f"/><stop offset=".65" stop-color="#717171"/><stop offset=".663" stop-color="#767676"/><stop offset=".684" stop-color="#848484"/><stop offset=".704" stop-color="#949494"/><stop offset=".733" stop-color="#ababab"/><stop offset=".837" stop-color="#b3b3b3"/><stop offset=".912" stop-color="#acacac"/><stop offset=".922" stop-color="#969696"/><stop offset=".939" stop-color="#757575"/><stop offset=".949" stop-color="#666666"/><stop offset=".96" stop-color="#626262"/><stop offset=".993" stop-color="#6c6c6c"/><stop offset=".995" stop-color="#686868"/><stop offset=".999" stop-color="#505050"/></linearGradient>
<linearGradient id="c80" x2="0" y2="1"><stop offset=".001" stop-color="#5a5a5a"/><stop offset=".003" stop-color="#5d5d5d"/><stop offset=".078" stop-color="#5e5e5e"/><stop offset=".09" stop-color="#636363"/><stop offset=".545" stop-color="#747474"/><stop offset=".628" stop-color="#757575"/><stop offset=".634" stop-color="#6f6f6f"/><stop offset=".638" stop-color="#6f6f6f"/><stop offset=".657" stop-color="#747474"/><stop offset=".679" stop-color="#838383"/><stop offset=".7" stop-color="#949494"/><stop offset=".723" stop-color="#a6a6a6"/><stop offset=".837" stop-color="#b0b0b0"/><stop offset=".91" stop-color="#aaaaaa"/><stop offset=".92" stop-color="#959595"/><stop offset=".937" stop-color="#747474"/><stop offset=".947" stop-color="#676767"/><stop offset=".953" stop-color="#616161"/><stop offset=".957" stop-color="#616161"/><stop offset=".993" stop-color="#6c6c6c"/><stop offset=".999" stop-color="#505050"/></linearGradient>
<linearGradient id="c81" x2="0" y2="1"><stop offset=".001" stop-color="#595959"/><stop offset=".003" stop-color="#5d5d5d"/><stop offset=".078" stop-color="#5e5e5e"/><stop offset=".09" stop-color="#626262"/><stop offset=".545" stop-color="#727272"/><stop offset=".628" stop-color="#737373"/><stop offset=".634" stop-color="#6e6e6e"/><stop offset=".638" stop-color="#6e6e6e"/><stop offset=".659" stop-color="#747474"/><stop offset=".682" stop-color="#838383"/><stop offset=".702" stop-color="#939393"/><stop offset=".723" stop-color="#a4a4a4"/><stop offset=".837" stop-color="#adadad"/><stop offset=".91" stop-color="#a7a7a7"/><stop offset=".918" stop-color="#969696"/><stop offset=".937" stop-color="#717171"/><stop offset=".947" stop-color="#656565"/><stop offset=".957" stop-color="#616161"/><stop offset=".993" stop-color="#6c6c6c"/><stop offset=".999" stop-color="#505050"/></linearGradient>
<linearGradient id="c82" x2="0" y2="1"><stop offset=".001" stop-color="#595959"/><stop offset=".003" stop-color="#5d5d5d"/><stop offset=".291" stop-color="#666666"/><stop offset=".547" stop-color="#707070"/><stop offset=".628" stop-color="#727272"/><stop offset=".634" stop-color="#6f6f6f"/><stop offset=".644" stop-color="#707070"/><stop offset=".657" stop-color="#717171"/><stop offset=".667" stop-color="#757575"/><stop offset=".69" stop-color="#838383"/><stop offset=".711" stop-color="#949494"/><stop offset=".738" stop-color="#a9a9a9"/><stop offset=".837" stop-color="#b1b1b1"/><stop offset=".91" stop-color="#ababab"/><stop offset=".92" stop-color="#959595"/><stop offset=".928" stop-color="#848484"/><stop offset=".945" stop-color="#666666"/><stop offset=".955" stop-color="#606060"/><stop offset=".993" stop-color="#6c6c6c"/><stop offset=".999" stop-color="#4f4f4f"/></linearGradient>
<linearGradient id="c83" x2="0" y2="1"><stop offset=".001" stop-color="#595959"/><stop offset=".003" stop-color="#5d5d5d"/><stop offset=".387" stop-color="#666666"/><stop offset=".64" stop-color="#6d6d6d"/><stop offset=".655" stop-color="#707070"/><stop offset=".667" stop-color="#747474"/><stop offset=".69" stop-color="#838383"/><stop offset=".711" stop-color="#939393"/><stop offset=".727" stop-color="#a1a1a1"/><stop offset=".837" stop-color="#ababab"/><stop offset=".908" stop-color="#a5a5a5"/><stop offset=".916" stop-color="#959595"/><stop offset=".933" stop-color="#747474"/><stop offset=".945" stop-color="#656565"/><stop offset=".955" stop-color="#606060"/><stop offset=".993" stop-color="#6b6b6b"/><stop offset=".999" stop-color="#4f4f4f"/></linearGradient>
<linearGradient id="c84" x2="0" y2="1"><stop offset=".001" stop-color="#595959"/><stop offset=".003" stop-color="#5d5d5d"/><stop offset=".42" stop-color="#666666"/><stop offset=".636" stop-color="#6d6d6d"/><stop offset=".659" stop-color="#727272"/><stop offset=".686" stop-color="#838383"/><stop offset=".706" stop-color="#949494"/><stop offset=".719" stop-color="#9d9d9d"/><stop offset=".837" stop-color="#a7a7a7"/><stop offset=".908" stop-color="#a1a1a1"/><stop offset=".914" stop-color="#959595"/><stop offset=".922" stop-color="#838383"/><stop offset=".933" stop-color="#717171"/><stop offset=".943" stop-color="#666666"/><stop offset=".955" stop-color="#606060"/><stop offset=".993" stop-color="#6b6b6b"/><stop offset=".999" stop-color="#4f4f4f"/></linearGradient>
<linearGradient id="c85" x2="0" y2="1"><stop offset=".001" stop-color="#595959"/><stop offset=".003" stop-color="#5d5d5d"/><stop offset=".422" stop-color="#666666"/><stop offset=".661" stop-color="#6f6f6f"/><stop offset=".675" stop-color="#717171"/><stop offset=".688" stop-color="#777777"/><stop offset=".706" stop-color="#838383"/><stop offset=".727" stop-color="#939393"/><stop offset=".746" stop-color="#a2a2a2"/><stop offset=".837" stop-color="#aaaaaa"/><stop offset=".908" stop-color="#a4a4a4"/><stop offset=".916" stop-color="#939393"/><stop offset=".93" stop-color="#767676"/><stop offset=".943" stop-color="#656565"/><stop offset=".955" stop-color="#606060"/><stop offset=".993" stop-color="#6b6b6b"/><stop offset=".999" stop-color="#4f4f4f"/></linearGradient>
<linearGradient id="c86" x2="0" y2="1"><stop offset=".001" stop-color="#595959"/><stop offset=".003" stop-color="#5d5d5d"/><stop offset=".418" stop-color="#666666"/><stop offset=".646" stop-color="#6d6d6d"/><stop offset=".659" stop-color="#6f6f6f"/><stop offset=".671" stop-color="#737373"/><stop offset=".696" stop-color="#848484"/><stop offset=".717" stop-color="#949494"/><stop offset=".725" stop-color="#9b9b9b"/><stop offset=".837" stop-color="#a5a5a5"/><stop offset=".908" stop-color="#9e9e9e"/><stop offset=".912" stop-color="#959595"/><stop offset=".92" stop-color="#838383"/><stop offset=".93" stop-color="#717171"/><stop offset=".943" stop-color="#656565"/><stop offset=".955" stop-color="#606060"/><stop offset=".993" stop-color="#6b6b6b"/><stop offset=".999" stop-color="#4f4f4f"/></linearGradient>
<linearGradient id="c87" x2="0" y2="1"><stop offset=".001" stop-color="#595959"/><stop offset=".003" stop-color="#5d5d5d"/><stop offset=".414" stop-color="#666666"/><stop offset=".652" stop-color="#6e6e6e"/><stop offset=".667" stop-color="#707070"/><stop offset=".679" stop-color="#747474"/><stop offset=".702" stop-color="#838383"/><stop offset=".723" stop-color="#949494"/><stop offset=".731" stop-color="#9b9b9b"/><stop offset=".837" stop-color="#a4a4a4"/><stop offset=".906" stop-color="#9e9e9e"/><stop offset=".912" stop-color="#939393"/><stop offset=".92" stop-color="#828282"/><stop offset=".928" stop-color="#737373"/><stop offset=".935" stop-color="#6c6c6c"/><stop offset=".943" stop-color="#646464"/><stop offset=".955" stop-color="#606060"/><stop offset=".993" stop-color="#6b6b6b"/><stop offset=".999" stop-color="#4f4f4f"/></linearGradient>
<linearGradient id="c88" x2="0" y2="1"><stop offset=".001" stop-color="#595959"/><stop offset=".003" stop-color="#5d5d5d"/><stop offset=".41" stop-color="#666666"/><stop offset=".665" stop-color="#6f6f6f"/><stop offset=".679" stop-color="#717171"/><stop offset=".692" stop-color="#767676"/><stop offset=".713" stop-color="#838383"/><stop offset=".733" stop-color="#949494"/><stop offset=".746" stop-color="#9d9d9d"/><stop offset=".837" stop-color="#a4a4a4"/><stop offset=".906" stop-color="#9f9f9f"/><stop offset=".912" stop-color="#939393"/><stop offset=".92" stop-color="#818181"/><stop offset=".928" stop-color="#737373"/><stop offset=".935" stop-color="#6b6b6b"/><stop offset=".941" stop-color="#666666"/><stop offset=".947" stop-color="#616161"/><stop offset=".955" stop-color="#606060"/><stop offset=".993" stop-color="#6b6b6b"/><stop offset=".999" stop-color="#4f4f4f"/></linearGradient>
<linearGradient id="c89" x2="0" y2="1"><stop offset=".001" stop-color="#595959"/><stop offset=".003" stop-color="#5d5d5d"/><stop offset=".404" stop-color="#666666"/><stop offset=".665" stop-color="#6f6f6f"/><stop offset=".679" stop-color="#717171"/><stop offset=".692" stop-color="#757575"/><stop offset=".713" stop-color="#838383"/><stop offset=".733" stop-color="#939393"/><stop offset=".742" stop-color="#9a9a9a"/><stop offset=".837" stop-color="#a2a2a2"/><stop offset=".906" stop-color="#9c9c9c"/><stop offset=".91" stop-color="#949494"/><stop offset=".918" stop-color="#828282"/><stop offset=".926" stop-color="#747474"/><stop offset=".937" stop-color="#696969"/><stop offset=".945" stop-color="#626262"/><stop offset=".953" stop-color="#5f5f5f"/><stop offset=".974" stop-color="#666666"/><stop offset=".993" stop-color="#6b6b6b"/><stop offset=".999" stop-color="#4f4f4f"/></linearGradient>
<linearGradient id="c90" x2="0" y2="1"><stop offset=".001" stop-color="#595959"/><stop offset=".003" stop-color="#5d5d5d"/><stop offset=".414" stop-color="#676767"/><stop offset=".675" stop-color="#707070"/><stop offset=".69" stop-color="#727272"/><stop offset=".704" stop-color="#777777"/><stop offset=".723" stop-color="#838383"/><stop offset=".744" stop-color="#949494"/><stop offset=".754" stop-color="#9c9c9c"/><stop offset=".837" stop-color="#a3a3a3"/><stop offset=".904" stop-color="#9d9d9d"/><stop offset=".91" stop-color="#939393"/><stop offset=".918" stop-color="#818181"/><stop offset=".924" stop-color="#767676"/><stop offset=".935" stop-color="#6a6a6a"/><stop offset=".945" stop-color="#626262"/><stop offset=".953" stop-color="#5f5f5f"/><stop offset=".974" stop-color="#666666"/><stop offset=".993" stop-color="#6b6b6b"/><stop offset=".999" stop-color="#4f4f4f"/></linearGradient>
<linearGradient id="c91" x2="0" y2="1"><stop offset=".001" stop-color="#595959"/><stop offset=".003" stop-color="#5d5d5d"/><stop offset=".414" stop-color="#676767"/><stop offset=".677" stop-color="#707070"/><stop offset=".692" stop-color="#727272"/><stop offset=".704" stop-color="#777777"/><stop offset=".723" stop-color="#838383"/><stop offset=".744" stop-color="#939393"/><stop offset=".756" stop-color="#9c9c9c"/><stop offset=".837" stop-color="#a3a3a3"/><stop offset=".904" stop-color="#9d9d9d"/><stop offset=".908" stop-color="#959595"/><stop offset=".916" stop-color="#838383"/><stop offset=".924" stop-color="#757575"/><stop offset=".935" stop-color="#696969"/><stop offset=".945" stop-color="#626262"/><stop offset=".953" stop-color="#5f5f5f"/><stop offset=".974" stop-color="#666666"/><stop offset=".993" stop-color="#6b6b6b"/><stop offset=".999" stop-color="#4f4f4f"/></linearGradient>
<linearGradient id="c92" x2="0" y2="1"><stop offset=".001" stop-color="#595959"/><stop offset=".003" stop-color="#5d5d5d"/><stop offset=".385" stop-color="#666666"/><stop offset=".661" stop-color="#6e6e6e"/><stop offset=".675" stop-color="#707070"/><stop offset=".688" stop-color="#747474"/><stop offset=".711" stop-color="#838383"/><stop offset=".733" stop-color="#959595"/><stop offset=".837" stop-color="#9d9d9d"/><stop offset=".901" stop-color="#989898"/><stop offset=".904" stop-color="#969696"/><stop offset=".906" stop-color="#919191"/><stop offset=".912" stop-color="#848484"/><stop offset=".922" stop-color="#727272"/><stop offset=".93" stop-color="#6b6b6b"/><stop offset=".945" stop-color="#626262"/><stop offset=".953" stop-color="#5f5f5f"/><stop offset=".974" stop-color="#666666"/><stop offset=".993" stop-color="#6b6b6b"/><stop offset=".999" stop-color="#4f4f4f"/></linearGradient>
<linearGradient id="c93" x2="0" y2="1"><stop offset=".001" stop-color="#595959"/><stop offset=".003" stop-color="#5d5d5d"/><stop offset=".404" stop-color="#676767"/><stop offset=".655" stop-color="#6d6d6d"/><stop offset=".679" stop-color="#727272"/><stop offset=".706" stop-color="#838383"/><stop offset=".725" stop-color="#929292"/><stop offset=".837" stop-color="#9b9b9b"/><stop offset=".901" stop-color="#959595"/><stop offset=".918" stop-color="#757575"/><stop offset=".922" stop-color="#6f6f6f"/><stop offset=".926" stop-color="#6c6c6c"/><stop offset=".945" stop-color="#626262"/><stop offset=".953" stop-color="#5f5f5f"/><stop offset=".974" stop-color="#666666"/><stop offset=".993" stop-color="#6b6b6b"/><stop offset=".999" stop-color="#4f4f4f"/></linearGradient>
<linearGradient id="c94" x2="0" y2="1"><stop offset=".001" stop-color="#595959"/><stop offset=".003" stop-color="#5d5d5d"/><stop offset=".416" stop-color="#676767"/><stop offset=".646" stop-color="#6c6c6c"/><stop offset=".667" stop-color="#6f6f6f"/><stop offset=".682" stop-color="#777777"/><stop offset=".713" stop-color="#8d8d8d"/><stop offset=".837" stop-color="#979797"/><stop offset=".899" stop-color="#929292"/><stop offset=".901" stop-color="#909090"/><stop offset=".908" stop-color="#828282"/><stop offset=".916" stop-color="#737373"/><stop offset=".922" stop-color="#6c6c6c"/><stop offset=".945" stop-color="#626262"/><stop offset=".953" stop-color="#5f5f5f"/><stop offset=".974" stop-color="#666666"/><stop offset=".993" stop-color="#6b6b6b"/><stop offset=".999" stop-color="#4f4f4f"/></linearGradient>
<linearGradient id="c95" x2="0" y2="1"><stop offset=".001" stop-color="#595959"/><stop offset=".003" stop-color="#5d5d5d"/><stop offset=".327" stop-color="#666666"/><stop offset=".675" stop-color="#6e6e6e"/><stop offset=".69" stop-color="#727272"/><stop offset=".7" stop-color="#767676"/><stop offset=".719" stop-color="#838383"/><stop offset=".74" stop-color="#949494"/><stop offset=".837" stop-color="#9c9c9c"/><stop offset=".899" stop-color="#969696"/><stop offset=".916" stop-color="#757575"/><stop offset=".924" stop-color="#6d6d6d"/><stop offset=".945" stop-color="#626262"/><stop offset=".953" stop-color="#5f5f5f"/><stop offset=".974" stop-color="#666666"/><stop offset=".993" stop-color="#6b6b6b"/><stop offset=".999" stop-color="#4f4f4f"/></linearGradient>
<linearGradient id="c96" x2="0" y2="1"><stop offset=".001" stop-color="#595959"/><stop offset=".003" stop-color="#5d5d5d"/><stop offset=".078" stop-color="#5e5e5e"/><stop offset=".547" stop-color="#707070"/><stop offset=".669" stop-color="#727272"/><stop offset=".673" stop-color="#6f6f6f"/><stop offset=".679" stop-color="#6f6f6f"/><stop offset=".694" stop-color="#727272"/><stop offset=".704" stop-color="#767676"/><stop offset=".723" stop-color="#838383"/><stop offset=".746" stop-color="#959595"/><stop offset=".837" stop-color="#9c9c9c"/><stop offset=".897" stop-color="#979797"/><stop offset=".899" stop-color="#949494"/><stop offset=".908" stop-color="#828282"/><stop offset=".916" stop-color="#747474"/><stop offset=".924" stop-color="#6c6c6c"/><stop offset=".945" stop-color="#616161"/><stop offset=".953" stop-color="#5f5f5f"/><stop offset=".974" stop-color="#666666"/><stop offset=".993" stop-color="#6b6b6b"/><stop offset=".999" stop-color="#4f4f4f"/></linearGradient>
<linearGradient id="c97" x2="0" y2="1"><stop offset=".001" stop-color="#595959"/><stop offset=".003" stop-color="#5d5d5d"/><stop offset=".078" stop-color="#5e5e5e"/><stop offset=".09" stop-color="#636363"/><stop offset=".179" stop-color="#666666"/><stop offset=".366" stop-color="#6f6f6f"/><stop offset=".547" stop-color="#747474"/><stop offset=".669" stop-color="#767676"/><stop offset=".675" stop-color="#707070"/><stop offset=".684" stop-color="#6f6f6f"/><stop offset=".698" stop-color="#717171"/><stop offset=".711" stop-color="#767676"/><stop offset=".731" stop-color="#838383"/><stop offset=".754" stop-color="#959595"/><stop offset=".837" stop-color="#9d9d9d"/><stop offset=".897" stop-color="#979797"/><stop offset=".899" stop-color="#939393"/><stop offset=".908" stop-color="#818181"/><stop offset=".914" stop-color="#767676"/><stop offset=".918" stop-color="#717171"/><stop offset=".924" stop-color="#6c6c6c"/><stop offset=".945" stop-color="#616161"/><stop offset=".953" stop-color="#5f5f5f"/><stop offset=".974" stop-color="#666666"/><stop offset=".993" stop-color="#6b6b6b"/><stop offset=".999" stop-color="#505050"/></linearGradient>
<linearGradient id="c98" x2="0" y2="1"><stop offset=".001" stop-color="#595959"/><stop offset=".003" stop-color="#5d5d5d"/><stop offset=".078" stop-color="#5e5e5e"/><stop offset=".09" stop-color="#636363"/><stop offset=".547" stop-color="#727272"/><stop offset=".669" stop-color="#747474"/><stop offset=".675" stop-color="#6f6f6f"/><stop offset=".679" stop-color="#6f6f6f"/><stop offset=".694" stop-color="#717171"/><stop offset=".704" stop-color="#767676"/><stop offset=".725" stop-color="#848484"/><stop offset=".744" stop-color="#939393"/><stop offset=".837" stop-color="#9a9a9a"/><stop offset=".895" stop-color="#959595"/><stop offset=".897" stop-color="#929292"/><stop offset=".904" stop-color="#858585"/><stop offset=".912" stop-color="#767676"/><stop offset=".92" stop-color="#6d6d6d"/><stop offset=".945" stop-color="#616161"/><stop offset=".953" stop-color="#5f5f5f"/><stop offset=".974" stop-color="#666666"/><stop offset=".993" stop-color="#6b6b6b"/><stop offset=".999" stop-color="#505050"/></linearGradient>
<linearGradient id="c99" x2="0" y2="1"><stop offset=".001" stop-color="#595959"/><stop offset=".003" stop-color="#5d5d5d"/><stop offset=".273" stop-color="#666666"/><stop offset=".628" stop-color="#717171"/><stop offset=".669" stop-color="#727272"/><stop offset=".675" stop-color="#6f6f6f"/><stop offset=".688" stop-color="#6f6f6f"/><stop offset=".702" stop-color="#717171"/><stop offset=".715" stop-color="#767676"/><stop offset=".735" stop-color="#838383"/><stop offset=".758" stop-color="#959595"/><stop offset=".837" stop-color="#9c9c9c"/><stop offset=".895" stop-color="#979797"/><stop offset=".912" stop-color="#767676"/><stop offset=".92" stop-color="#6e6e6e"/><stop offset=".945" stop-color="#616161"/><stop offset=".953" stop-color="#5f5f5f"/><stop offset=".974" stop-color="#666666"/><stop offset=".993" stop-color="#6b6b6b"/><stop offset=".999" stop-color="#4f4f4f"/></linearGradient>
<linearGradient id="c100" x2="0" y2="1"><stop offset=".001" stop-color="#595959"/><stop offset=".003" stop-color="#5d5d5d"/><stop offset=".343" stop-color="#666666"/><stop offset=".628" stop-color="#6f6f6f"/><stop offset=".696" stop-color="#707070"/><stop offset=".711" stop-color="#727272"/><stop offset=".723" stop-color="#777777"/><stop offset=".742" stop-color="#838383"/><stop offset=".762" stop-color="#939393"/><stop offset=".767" stop-color="#979797"/><stop offset=".837" stop-color="#9d9d9d"/><stop offset=".893" stop-color="#999999"/><stop offset=".895" stop-color="#959595"/><stop offset=".91" stop-color="#787878"/><stop offset=".918" stop-color="#6f6f6f"/><stop offset=".945" stop-color="#616161"/><stop offset=".953" stop-color="#5f5f5f"/><stop offset=".974" stop-color="#666666"/><stop offset=".993" stop-color="#6b6b6b"/><stop offset=".999" stop-color="#4f4f4f"/></linearGradient>
<linearGradient id="c101" x2="0" y2="1"><stop offset=".001" stop-color="#595959"/><stop offset=".003" stop-color="#5d5d5d"/><stop offset=".406" stop-color="#676767"/><stop offset=".688" stop-color="#717171"/><stop offset=".702" stop-color="#737373"/><stop offset=".715" stop-color="#787878"/><stop offset=".733" stop-color="#838383"/><stop offset=".754" stop-color="#949494"/><stop offset=".76" stop-color="#989898"/><stop offset=".837" stop-color="#9f9f9f"/><stop offset=".893" stop-color="#999999"/><stop offset=".895" stop-color="#959595"/><stop offset=".904" stop-color="#838383"/><stop offset=".91" stop-color="#787878"/><stop offset=".914" stop-color="#737373"/><stop offset=".918" stop-color="#6f6f6f"/><stop offset=".945" stop-color="#616161"/><stop offset=".953" stop-color="#5f5f5f"/><stop offset=".974" stop-color="#666666"/><stop offset=".993" stop-color="#6b6b6b"/><stop offset=".999" stop-color="#4f4f4f"/></linearGradient>
<linearGradient id="c102" x2="0" y2="1"><stop offset=".001" stop-color="#595959"/><stop offset=".003" stop-color="#5d5d5d"/><stop offset=".408" stop-color="#676767"/><stop offset=".673" stop-color="#727272"/><stop offset=".686" stop-color="#747474"/><stop offset=".696" stop-color="#787878"/><stop offset=".715" stop-color="#838383"/><stop offset=".735" stop-color="#949494"/><stop offset=".744" stop-color="#9a9a9a"/><stop offset=".837" stop-color="#a1a1a1"/><stop offset=".891" stop-color="#9d9d9d"/><stop offset=".895" stop-color="#959595"/><stop offset=".906" stop-color="#808080"/><stop offset=".912" stop-color="#757575"/><stop offset=".916" stop-color="#717171"/><stop offset=".943" stop-color="#636363"/><stop offset=".951" stop-color="#606060"/><stop offset=".974" stop-color="#666666"/><stop offset=".993" stop-color="#6b6b6b"/><stop offset=".999" stop-color="#4f4f4f"/></linearGradient>
<linearGradient id="c103" x2="0" y2="1"><stop offset=".001" stop-color="#595959"/><stop offset=".003" stop-color="#5d5d5d"/><stop offset=".41" stop-color="#676767"/><stop offset=".69" stop-color="#717171"/><stop offset=".702" stop-color="#737373"/><stop offset=".715" stop-color="#777777"/><stop offset=".733" stop-color="#838383"/><stop offset=".754" stop-color="#939393"/><stop offset=".76" stop-color="#989898"/><stop offset=".837" stop-color="#9e9e9e"/><stop offset=".889" stop-color="#9a9a9a"/><stop offset=".893" stop-color="#949494"/><stop offset=".906" stop-color="#7b7b7b"/><stop offset=".914" stop-color="#717171"/><stop offset=".945" stop-color="#616161"/><stop offset=".951" stop-color="#606060"/><stop offset=".974" stop-color="#666666"/><stop offset=".993" stop-color="#6b6b6b"/><stop offset=".999" stop-color="#4f4f4f"/></linearGradient>
<linearGradient id="c104" x2="0" y2="1"><stop offset=".001" stop-color="#595959"/><stop offset=".003" stop-color="#5d5d5d"/><stop offset=".408" stop-color="#676767"/><stop offset=".69" stop-color="#717171"/><stop offset=".704" stop-color="#737373"/><stop offset=".715" stop-color="#777777"/><stop offset=".735" stop-color="#838383"/><stop offset=".756" stop-color="#949494"/><stop offset=".76" stop-color="#979797"/><stop offset=".837" stop-color="#9d9d9d"/><stop offset=".889" stop-color="#999999"/><stop offset=".893" stop-color="#919191"/><stop offset=".899" stop-color="#848484"/><stop offset=".906" stop-color="#797979"/><stop offset=".91" stop-color="#737373"/><stop offset=".914" stop-color="#707070"/><stop offset=".945" stop-color="#616161"/><stop offset=".953" stop-color="#5f5f5f"/><stop offset=".974" stop-color="#666666"/><stop offset=".993" stop-color="#6b6b6b"/><stop offset=".999" stop-color="#4f4f4f"/></linearGradient>
<linearGradient id="c105" x2="0" y2="1"><stop offset=".001" stop-color="#595959"/><stop offset=".003" stop-color="#5d5d5d"/><stop offset=".404" stop-color="#676767"/><stop offset=".663" stop-color="#727272"/><stop offset=".675" stop-color="#747474"/><stop offset=".686" stop-color="#787878"/><stop offset=".704" stop-color="#848484"/><stop offset=".725" stop-color="#949494"/><stop offset=".733" stop-color="#9a9a9a"/><stop offset=".837" stop-color="#a2a2a2"/><stop offset=".887" stop-color="#9e9e9e"/><stop offset=".893" stop-color="#939393"/><stop offset=".901" stop-color="#828282"/><stop offset=".908" stop-color="#777777"/><stop offset=".914" stop-color="#717171"/><stop offset=".928" stop-color="#6c6c6c"/><stop offset=".943" stop-color="#636363"/><stop offset=".951" stop-color="#606060"/><stop offset=".974" stop-color="#666666"/><stop offset=".993" stop-color="#6b6b6b"/><stop offset=".999" stop-color="#4f4f4f"/></linearGradient>
<linearGradient id="c106" x2="0" y2="1"><stop offset=".001" stop-color="#595959"/><stop offset=".003" stop-color="#5d5d5d"/><stop offset=".408" stop-color="#676767"/><stop offset=".692" stop-color="#717171"/><stop offset=".706" stop-color="#737373"/><stop offset=".717" stop-color="#777777"/><stop offset=".735" stop-color="#838383"/><stop offset=".76" stop-color="#969696"/><stop offset=".837" stop-color="#9d9d9d"/><stop offset=".887" stop-color="#999999"/><stop offset=".889" stop-color="#949494"/><stop offset=".897" stop-color="#838383"/><stop offset=".904" stop-color="#787878"/><stop offset=".908" stop-color="#737373"/><stop offset=".912" stop-color="#707070"/><stop offset=".928" stop-color="#6b6b6b"/><stop offset=".945" stop-color="#616161"/><stop offset=".953" stop-color="#5f5f5f"/><stop offset=".974" stop-color="#666666"/><stop offset=".993" stop-color="#6b6b6b"/><stop offset=".999" stop-color="#4f4f4f"/></linearGradient>
<linearGradient id="c107" x2="0" y2="1"><stop offset=".001" stop-color="#595959"/><stop offset=".003" stop-color="#5d5d5d"/><stop offset=".381" stop-color="#666666"/><stop offset=".684" stop-color="#6e6e6e"/><stop offset=".709" stop-color="#737373"/><stop offset=".727" stop-color="#7e7e7e"/><stop offset=".748" stop-color="#8e8e8e"/><stop offset=".837" stop-color="#959595"/><stop offset=".885" stop-color="#919191"/><stop offset=".887" stop-color="#8f8f8f"/><stop offset=".899" stop-color="#767676"/><stop offset=".906" stop-color="#6f6f6f"/><stop offset=".928" stop-color="#6a6a6a"/><stop offset=".945" stop-color="#616161"/><stop offset=".955" stop-color="#606060"/><stop offset=".993" stop-color="#6b6b6b"/><stop offset=".999" stop-color="#4f4f4f"/></linearGradient>
<linearGradient id="c108" x2="0" y2="1"><stop offset=".001" stop-color="#595959"/><stop offset=".003" stop-color="#5d5d5d"/><stop offset=".404" stop-color="#676767"/><stop offset=".684" stop-color="#727272"/><stop offset=".698" stop-color="#747474"/><stop offset=".709" stop-color="#787878"/><stop offset=".727" stop-color="#838383"/><stop offset=".748" stop-color="#949494"/><stop offset=".752" stop-color="#979797"/><stop offset=".837" stop-color="#9d9d9d"/><stop offset=".885" stop-color="#999999"/><stop offset=".887" stop-color="#959595"/><stop offset=".899" stop-color="#7c7c7c"/><stop offset=".904" stop-color="#767676"/><stop offset=".908" stop-color="#717171"/><stop offset=".951" stop-color="#606060"/><stop offset=".974" stop-color="#666666"/><stop offset=".993" stop-color="#6b6b6b"/><stop offset=".999" stop-color="#4f4f4f"/></linearGradient>
<linearGradient id="c109" x2="0" y2="1"><stop offset=".001" stop-color="#5a5a5a"/><stop offset=".003" stop-color="#5d5d5d"/><stop offset=".401" stop-color="#676767"/><stop offset=".704" stop-color="#707070"/><stop offset=".719" stop-color="#727272"/><stop offset=".731" stop-color="#777777"/><stop offset=".75" stop-color="#838383"/><stop offset=".771" stop-color="#929292"/><stop offset=".837" stop-color="#989898"/><stop offset=".883" stop-color="#949494"/><stop offset=".885" stop-color="#919191"/><stop offset=".897" stop-color="#797979"/><stop offset=".906" stop-color="#707070"/><stop offset=".953" stop-color="#5f5f5f"/><stop offset=".974" stop-color="#666666"/><stop offset=".993" stop-color="#6b6b6b"/><stop offset=".999" stop-color="#4f4f4f"/></linearGradient>
<linearGradient id="c110" x2="0" y2="1"><stop offset=".001" stop-color="#5c5c5c"/><stop offset=".366" stop-color="#676767"/><stop offset=".688" stop-color="#6f6f6f"/><stop offset=".711" stop-color="#737373"/><stop offset=".725" stop-color="#7c7c7c"/><stop offset=".748" stop-color="#8c8c8c"/><stop offset=".837" stop-color="#939393"/><stop offset=".883" stop-color="#8f8f8f"/><stop offset=".889" stop-color="#818181"/><stop offset=".897" stop-color="#737373"/><stop offset=".906" stop-color="#6d6d6d"/><stop offset=".928" stop-color="#6a6a6a"/><stop offset=".945" stop-color="#616161"/><stop offset=".953" stop-color="#5f5f5f"/><stop offset=".974" stop-color="#666666"/><stop offset=".993" stop-color="#6b6b6b"/><stop offset=".999" stop-color="#4f4f4f"/></linearGradient>
<linearGradient id="c111" x2="0" y2="1"><stop offset=".001" stop-color="#636363"/><stop offset=".366" stop-color="#6d6d6d"/><stop offset=".607" stop-color="#767676"/><stop offset=".719" stop-color="#777777"/><stop offset=".733" stop-color="#797979"/><stop offset=".744" stop-color="#7d7d7d"/><stop offset=".756" stop-color="#838383"/><stop offset=".777" stop-color="#939393"/><stop offset=".837" stop-color="#989898"/><stop offset=".881" stop-color="#949494"/><stop offset=".883" stop-color="#919191"/><stop offset=".893" stop-color="#7c7c7c"/><stop offset=".901" stop-color="#717171"/><stop offset=".908" stop-color="#6f6f6f"/><stop offset=".928" stop-color="#6b6b6b"/><stop offset=".945" stop-color="#616161"/><stop offset=".955" stop-color="#606060"/><stop offset=".993" stop-color="#6b6b6b"/><stop offset=".999" stop-color="#4f4f4f"/></linearGradient>
<linearGradient id="c112" x2="0" y2="1"><stop offset=".001" stop-color="#646464"/><stop offset=".366" stop-color="#6e6e6e"/><stop offset=".607" stop-color="#767676"/><stop offset=".713" stop-color="#777777"/><stop offset=".725" stop-color="#787878"/><stop offset=".735" stop-color="#7c7c7c"/><stop offset=".748" stop-color="#838383"/><stop offset=".765" stop-color="#8f8f8f"/><stop offset=".837" stop-color="#949494"/><stop offset=".881" stop-color="#909090"/><stop offset=".887" stop-color="#838383"/><stop offset=".895" stop-color="#757575"/><stop offset=".904" stop-color="#6e6e6e"/><stop offset=".92" stop-color="#6c6c6c"/><stop offset=".945" stop-color="#616161"/><stop offset=".953" stop-color="#5f5f5f"/><stop offset=".974" stop-color="#666666"/><stop offset=".993" stop-color="#6b6b6b"/><stop offset=".999" stop-color="#505050"/></linearGradient>
<linearGradient id="c113" x2="0" y2="1"><stop offset=".001" stop-color="#646464"/><stop offset=".366" stop-color="#6d6d6d"/><stop offset=".607" stop-color="#757575"/><stop offset=".711" stop-color="#757575"/><stop offset=".723" stop-color="#777777"/><stop offset=".733" stop-color="#7a7a7a"/><stop offset=".748" stop-color="#828282"/><stop offset=".762" stop-color="#8e8e8e"/><stop offset=".837" stop-color="#939393"/><stop offset=".879" stop-color="#909090"/><stop offset=".893" stop-color="#757575"/><stop offset=".901" stop-color="#6e6e6e"/><stop offset=".92" stop-color="#6c6c6c"/><stop offset=".945" stop-color="#616161"/><stop offset=".953" stop-color="#5f5f5f"/><stop offset=".974" stop-color="#666666"/><stop offset=".993" stop-color="#6b6b6b"/><stop offset=".999" stop-color="#4f4f4f"/></linearGradient>
<linearGradient id="c114" x2="0" y2="1"><stop offset=".001" stop-color="#5e5e5e"/><stop offset=".366" stop-color="#686868"/><stop offset=".607" stop-color="#6f6f6f"/><stop offset=".706" stop-color="#717171"/><stop offset=".721" stop-color="#737373"/><stop offset=".731" stop-color="#777777"/><stop offset=".765" stop-color="#8d8d8d"/><stop offset=".837" stop-color="#939393"/><stop offset=".877" stop-color="#909090"/><stop offset=".879" stop-color="#8e8e8e"/><stop offset=".885" stop-color="#818181"/><stop offset=".893" stop-color="#737373"/><stop offset=".901" stop-color="#6e6e6e"/><stop offset=".92" stop-color="#6c6c6c"/><stop offset=".945" stop-color="#616161"/><stop offset=".953" stop-color="#5f5f5f"/><stop offset=".974" stop-color="#666666"/><stop offset=".993" stop-color="#6b6b6b"/><stop offset=".999" stop-color="#4f4f4f"/></linearGradient>
<linearGradient id="c115" x2="0" y2="1"><stop offset=".001" stop-color="#5a5a5a"/><stop offset=".003" stop-color="#5d5d5d"/><stop offset=".366" stop-color="#666666"/><stop offset=".698" stop-color="#6f6f6f"/><stop offset=".723" stop-color="#737373"/><stop offset=".758" stop-color="#8b8b8b"/><stop offset=".837" stop-color="#919191"/><stop offset=".877" stop-color="#8e8e8e"/><stop offset=".891" stop-color="#737373"/><stop offset=".899" stop-color="#6e6e6e"/><stop offset=".92" stop-color="#6c6c6c"/><stop offset=".945" stop-color="#626262"/><stop offset=".953" stop-color="#5f5f5f"/><stop offset=".974" stop-color="#666666"/><stop offset=".993" stop-color="#6b6b6b"/><stop offset=".999" stop-color="#525252"/></linearGradient>
<linearGradient id="c116" x2="0" y2="1"><stop offset=".001" stop-color="#595959"/><stop offset=".003" stop-color="#5d5d5d"/><stop offset=".408" stop-color="#676767"/><stop offset=".628" stop-color="#6f6f6f"/><stop offset=".717" stop-color="#707070"/><stop offset=".731" stop-color="#727272"/><stop offset=".744" stop-color="#777777"/><stop offset=".762" stop-color="#828282"/><stop offset=".779" stop-color="#909090"/><stop offset=".835" stop-color="#949494"/><stop offset=".874" stop-color="#919191"/><stop offset=".877" stop-color="#8f8f8f"/><stop offset=".883" stop-color="#838383"/><stop offset=".887" stop-color="#7e7e7e"/><stop offset=".999" stop-color="#7e7e7e"/></linearGradient>
<linearGradient id="c117" x2="0" y2="1"><stop offset=".001" stop-color="#595959"/><stop offset=".003" stop-color="#5d5d5d"/><stop offset=".404" stop-color="#676767"/><stop offset=".628" stop-color="#707070"/><stop offset=".7" stop-color="#727272"/><stop offset=".713" stop-color="#737373"/><stop offset=".723" stop-color="#777777"/><stop offset=".744" stop-color="#848484"/><stop offset=".762" stop-color="#939393"/><stop offset=".835" stop-color="#989898"/><stop offset=".874" stop-color="#959595"/><stop offset=".887" stop-color="#7d7d7d"/><stop offset=".893" stop-color="#757575"/><stop offset=".897" stop-color="#737373"/><stop offset=".92" stop-color="#717171"/><stop offset=".947" stop-color="#6b6b6b"/><stop offset=".968" stop-color="#6b6b6b"/><stop offset=".993" stop-color="#6e6e6e"/><stop offset=".995" stop-color="#6c6c6c"/><stop offset=".999" stop-color="#6d6d6d"/></linearGradient>
<linearGradient id="c118" x2="0" y2="1"><stop offset=".001" stop-color="#595959"/><stop offset=".003" stop-color="#5d5d5d"/><stop offset=".408" stop-color="#676767"/><stop offset=".628" stop-color="#6f6f6f"/><stop offset=".721" stop-color="#707070"/><stop offset=".735" stop-color="#727272"/><stop offset=".748" stop-color="#777777"/><stop offset=".769" stop-color="#838383"/><stop offset=".785" stop-color="#909090"/><stop offset=".837" stop-color="#949494"/><stop offset=".872" stop-color="#919191"/><stop offset=".874" stop-color="#8f8f8f"/><stop offset=".881" stop-color="#828282"/><stop offset=".887" stop-color="#787878"/><stop offset=".891" stop-color="#737373"/><stop offset=".895" stop-color="#707070"/><stop offset=".92" stop-color="#6d6d6d"/><stop offset=".945" stop-color="#616161"/><stop offset=".953" stop-color="#5f5f5f"/><stop offset=".974" stop-color="#666666"/><stop offset=".993" stop-color="#6b6b6b"/><stop offset=".999" stop-color="#4f4f4f"/></linearGradient>
<linearGradient id="c119" x2="0" y2="1"><stop offset=".001" stop-color="#595959"/><stop offset=".003" stop-color="#5d5d5d"/><stop offset=".404" stop-color="#676767"/><stop offset=".628" stop-color="#707070"/><stop offset=".704" stop-color="#727272"/><stop offset=".717" stop-color="#737373"/><stop offset=".727" stop-color="#777777"/><stop offset=".748" stop-color="#838383"/><stop offset=".767" stop-color="#929292"/><stop offset=".837" stop-color="#979797"/><stop offset=".872" stop-color="#949494"/><stop offset=".881" stop-color="#838383"/><stop offset=".887" stop-color="#797979"/><stop offset=".891" stop-color="#737373"/><stop offset=".895" stop-color="#717171"/><stop offset=".92" stop-color="#6e6e6e"/><stop offset=".945" stop-color="#616161"/><stop offset=".953" stop-color="#5f5f5f"/><stop offset=".974" stop-color="#666666"/><stop offset=".993" stop-color="#6b6b6b"/><stop offset=".999" stop-color="#4f4f4f"/></linearGradient>
<linearGradient id="c120" x2="0" y2="1"><stop offset=".001" stop-color="#595959"/><stop offset=".003" stop-color="#5d5d5d"/><stop offset=".401" stop-color="#676767"/><stop offset=".628" stop-color="#717171"/><stop offset=".69" stop-color="#737373"/><stop offset=".702" stop-color="#747474"/><stop offset=".713" stop-color="#787878"/><stop offset=".731" stop-color="#848484"/><stop offset=".75" stop-color="#939393"/><stop offset=".837" stop-color="#9a9a9a"/><stop offset=".872" stop-color="#959595"/><stop offset=".881" stop-color="#838383"/><stop offset=".887" stop-color="#797979"/><stop offset=".893" stop-color="#737373"/><stop offset=".92" stop-color="#6f6f6f"/><stop offset=".943" stop-color="#636363"/><stop offset=".951" stop-color="#606060"/><stop offset=".974" stop-color="#666666"/><stop offset=".993" stop-color="#6b6b6b"/><stop offset=".999" stop-color="#4f4f4f"/></linearGradient>
<linearGradient id="c121" x2="0" y2="1"><stop offset=".001" stop-color="#595959"/><stop offset=".003" stop-color="#5d5d5d"/><stop offset=".383" stop-color="#666666"/><stop offset=".717" stop-color="#6f6f6f"/><stop offset=".731" stop-color="#717171"/><stop offset=".744" stop-color="#757575"/><stop offset=".76" stop-color="#7f7f7f"/><stop offset=".777" stop-color="#8b8b8b"/><stop offset=".837" stop-color="#909090"/><stop offset=".87" stop-color="#8d8d8d"/><stop offset=".883" stop-color="#767676"/><stop offset=".891" stop-color="#6f6f6f"/><stop offset=".92" stop-color="#6c6c6c"/><stop offset=".945" stop-color="#616161"/><stop offset=".953" stop-color="#5f5f5f"/><stop offset=".974" stop-color="#666666"/><stop offset=".993" stop-color="#6b6b6b"/><stop offset=".999" stop-color="#4f4f4f"/></linearGradient>
<linearGradient id="c122" x2="0" y2="1"><stop offset=".001" stop-color="#595959"/><stop offset=".003" stop-color="#5d5d5d"/><stop offset=".408" stop-color="#676767"/><stop offset=".628" stop-color="#707070"/><stop offset=".717" stop-color="#717171"/><stop offset=".731" stop-color="#737373"/><stop offset=".742" stop-color="#777777"/><stop offset=".76" stop-color="#828282"/><stop offset=".779" stop-color="#909090"/><stop offset=".837" stop-color="#949494"/><stop offset=".868" stop-color="#929292"/><stop offset=".883" stop-color="#787878"/><stop offset=".887" stop-color="#737373"/><stop offset=".891" stop-color="#717171"/><stop offset=".92" stop-color="#6e6e6e"/><stop offset=".945" stop-color="#616161"/><stop offset=".953" stop-color="#5f5f5f"/><stop offset=".974" stop-color="#666666"/><stop offset=".993" stop-color="#6b6b6b"/><stop offset=".999" stop-color="#4f4f4f"/></linearGradient>
<linearGradient id="c123" x2="0" y2="1"><stop offset=".001" stop-color="#595959"/><stop offset=".003" stop-color="#5d5d5d"/><stop offset=".412" stop-color="#676767"/><stop offset=".727" stop-color="#717171"/><stop offset=".746" stop-color="#737373"/><stop offset=".758" stop-color="#777777"/><stop offset=".777" stop-color="#828282"/><stop offset=".791" stop-color="#8d8d8d"/><stop offset=".837" stop-color="#919191"/><stop offset=".868" stop-color="#8e8e8e"/><stop offset=".874" stop-color="#818181"/><stop offset=".881" stop-color="#777777"/><stop offset=".885" stop-color="#727272"/><stop offset=".889" stop-color="#707070"/><stop offset=".92" stop-color="#6d6d6d"/><stop offset=".945" stop-color="#616161"/><stop offset=".953" stop-color="#5f5f5f"/><stop offset=".974" stop-color="#666666"/><stop offset=".993" stop-color="#6b6b6b"/><stop offset=".999" stop-color="#4f4f4f"/></linearGradient>
<linearGradient id="c124" x2="0" y2="1"><stop offset=".001" stop-color="#595959"/><stop offset=".003" stop-color="#5d5d5d"/><stop offset=".383" stop-color="#666666"/><stop offset=".719" stop-color="#707070"/><stop offset=".735" stop-color="#717171"/><stop offset=".75" stop-color="#757575"/><stop offset=".767" stop-color="#7e7e7e"/><stop offset=".783" stop-color="#8b8b8b"/><stop offset=".837" stop-color="#8f8f8f"/><stop offset=".866" stop-color="#8c8c8c"/><stop offset=".879" stop-color="#767676"/><stop offset=".887" stop-color="#6f6f6f"/><stop offset=".92" stop-color="#6c6c6c"/><stop offset=".945" stop-color="#616161"/><stop offset=".953" stop-color="#5f5f5f"/><stop offset=".974" stop-color="#666666"/><stop offset=".993" stop-color="#6b6b6b"/><stop offset=".999" stop-color="#4f4f4f"/></linearGradient>
<linearGradient id="c125" x2="0" y2="1"><stop offset=".001" stop-color="#595959"/><stop offset=".003" stop-color="#5d5d5d"/><stop offset=".42" stop-color="#676767"/><stop offset=".719" stop-color="#707070"/><stop offset=".742" stop-color="#727272"/><stop offset=".756" stop-color="#767676"/><stop offset=".773" stop-color="#7f7f7f"/><stop offset=".791" stop-color="#8c8c8c"/><stop offset=".837" stop-color="#8f8f8f"/><stop offset=".866" stop-color="#8c8c8c"/><stop offset=".87" stop-color="#838383"/><stop offset=".879" stop-color="#757575"/><stop offset=".887" stop-color="#6f6f6f"/><stop offset=".92" stop-color="#6c6c6c"/><stop offset=".945" stop-color="#616161"/><stop offset=".953" stop-color="#5f5f5f"/><stop offset=".974" stop-color="#666666"/><stop offset=".993" stop-color="#6b6b6b"/><stop offset=".999" stop-color="#4f4f4f"/></linearGradient>
<linearGradient id="c126" x2="0" y2="1"><stop offset=".001" stop-color="#595959"/><stop offset=".003" stop-color="#5d5d5d"/><stop offset=".42" stop-color="#676767"/><stop offset=".709" stop-color="#707070"/><stop offset=".735" stop-color="#737373"/><stop offset=".756" stop-color="#787878"/><stop offset=".775" stop-color="#818181"/><stop offset=".791" stop-color="#8d8d8d"/><stop offset=".837" stop-color="#909090"/><stop offset=".864" stop-color="#8e8e8e"/><stop offset=".877" stop-color="#787878"/><stop offset=".881" stop-color="#727272"/><stop offset=".885" stop-color="#707070"/><stop offset=".92" stop-color="#6c6c6c"/><stop offset=".945" stop-color="#616161"/><stop offset=".953" stop-color="#5f5f5f"/><stop offset=".974" stop-color="#666666"/><stop offset=".993" stop-color="#6b6b6b"/><stop offset=".999" stop-color="#4f4f4f"/></linearGradient>
<linearGradient id="c127" x2="0" y2="1"><stop offset=".001" stop-color="#595959"/><stop offset=".003" stop-color="#5d5d5d"/><stop offset=".43" stop-color="#676767"/><stop offset=".7" stop-color="#6f6f6f"/><stop offset=".729" stop-color="#727272"/><stop offset=".752" stop-color="#767676"/><stop offset=".769" stop-color="#7d7d7d"/><stop offset=".789" stop-color="#8a8a8a"/><stop offset=".837" stop-color="#8d8d8d"/><stop offset=".864" stop-color="#8a8a8a"/><stop offset=".87" stop-color="#7e7e7e"/><stop offset=".877" stop-color="#747474"/><stop offset=".885" stop-color="#6e6e6e"/><stop offset=".92" stop-color="#6b6b6b"/><stop offset=".945" stop-color="#616161"/><stop offset=".953" stop-color="#5f5f5f"/><stop offset=".974" stop-color="#666666"/><stop offset=".993" stop-color="#6b6b6b"/><stop offset=".999" stop-color="#4f4f4f"/></linearGradient>
<linearGradient id="c128" x2="0" y2="1"><stop offset=".001" stop-color="#595959"/><stop offset=".003" stop-color="#5d5d5d"/><stop offset=".41" stop-color="#676767"/><stop offset=".692" stop-color="#6e6e6e"/><stop offset=".74" stop-color="#747474"/><stop offset=".754" stop-color="#797979"/><stop offset=".775" stop-color="#868686"/><stop offset=".837" stop-color="#8a8a8a"/><stop offset=".862" stop-color="#888888"/><stop offset=".874" stop-color="#737373"/><stop offset=".883" stop-color="#6d6d6d"/><stop offset=".92" stop-color="#6b6b6b"/><stop offset=".953" stop-color="#5f5f5f"/><stop offset=".974" stop-color="#666666"/><stop offset=".993" stop-color="#6b6b6b"/><stop offset=".999" stop-color="#4f4f4f"/></linearGradient>
<linearGradient id="c129" x2="0" y2="1"><stop offset=".001" stop-color="#595959"/><stop offset=".003" stop-color="#5d5d5d"/><stop offset=".412" stop-color="#676767"/><stop offset=".677" stop-color="#6e6e6e"/><stop offset=".715" stop-color="#727272"/><stop offset=".75" stop-color="#787878"/><stop offset=".769" stop-color="#7e7e7e"/><stop offset=".787" stop-color="#898989"/><stop offset=".837" stop-color="#8c8c8c"/><stop offset=".86" stop-color="#8a8a8a"/><stop offset=".862" stop-color="#888888"/><stop offset=".872" stop-color="#767676"/><stop offset=".877" stop-color="#717171"/><stop offset=".881" stop-color="#6e6e6e"/><stop offset=".92" stop-color="#6b6b6b"/><stop offset=".945" stop-color="#616161"/><stop offset=".953" stop-color="#5f5f5f"/><stop offset=".974" stop-color="#666666"/><stop offset=".993" stop-color="#6b6b6b"/><stop offset=".999" stop-color="#4f4f4f"/></linearGradient>
<linearGradient id="c130" x2="0" y2="1"><stop offset=".001" stop-color="#595959"/><stop offset=".003" stop-color="#5d5d5d"/><stop offset=".422" stop-color="#676767"/><stop offset=".665" stop-color="#6e6e6e"/><stop offset=".709" stop-color="#737373"/><stop offset=".756" stop-color="#7b7b7b"/><stop offset=".777" stop-color="#818181"/><stop offset=".791" stop-color="#8a8a8a"/><stop offset=".835" stop-color="#8c8c8c"/><stop offset=".86" stop-color="#8a8a8a"/><stop offset=".87" stop-color="#787878"/><stop offset=".877" stop-color="#707070"/><stop offset=".881" stop-color="#6e6e6e"/><stop offset=".918" stop-color="#6b6b6b"/><stop offset=".945" stop-color="#616161"/><stop offset=".953" stop-color="#5f5f5f"/><stop offset=".974" stop-color="#666666"/><stop offset=".993" stop-color="#6b6b6b"/><stop offset=".999" stop-color="#4f4f4f"/></linearGradient>
<linearGradient id="c131" x2="0" y2="1"><stop offset=".001" stop-color="#595959"/><stop offset=".003" stop-color="#5d5d5d"/><stop offset=".449" stop-color="#686868"/><stop offset=".657" stop-color="#6e6e6e"/><stop offset=".721" stop-color="#757575"/><stop offset=".762" stop-color="#7e7e7e"/><stop offset=".785" stop-color="#888888"/><stop offset=".835" stop-color="#8a8a8a"/><stop offset=".858" stop-color="#888888"/><stop offset=".86" stop-color="#868686"/><stop offset=".87" stop-color="#767676"/><stop offset=".877" stop-color="#6f6f6f"/><stop offset=".881" stop-color="#6d6d6d"/><stop offset=".92" stop-color="#6a6a6a"/><stop offset=".945" stop-color="#616161"/><stop offset=".953" stop-color="#5f5f5f"/><stop offset=".974" stop-color="#666666"/><stop offset=".993" stop-color="#6b6b6b"/><stop offset=".999" stop-color="#4f4f4f"/></linearGradient>
<linearGradient id="c132" x2="0" y2="1"><stop offset=".001" stop-color="#595959"/><stop offset=".003" stop-color="#5d5d5d"/><stop offset=".47" stop-color="#686868"/><stop offset=".644" stop-color="#6e6e6e"/><stop offset=".706" stop-color="#757575"/><stop offset=".773" stop-color="#838383"/><stop offset=".794" stop-color="#8b8b8b"/><stop offset=".835" stop-color="#8c8c8c"/><stop offset=".858" stop-color="#898989"/><stop offset=".866" stop-color="#7c7c7c"/><stop offset=".877" stop-color="#707070"/><stop offset=".881" stop-color="#6d6d6d"/><stop offset=".918" stop-color="#6a6a6a"/><stop offset=".953" stop-color="#5f5f5f"/><stop offset=".974" stop-color="#666666"/><stop offset=".993" stop-color="#6b6b6b"/><stop offset=".999" stop-color="#4f4f4f"/></linearGradient>
<linearGradient id="c133" x2="0" y2="1"><stop offset=".001" stop-color="#595959"/><stop offset=".003" stop-color="#5d5d5d"/><stop offset=".503" stop-color="#696969"/><stop offset=".632" stop-color="#6e6e6e"/><stop offset=".696" stop-color="#757575"/><stop offset=".771" stop-color="#858585"/><stop offset=".796" stop-color="#8c8c8c"/><stop offset=".835" stop-color="#8c8c8c"/><stop offset=".856" stop-color="#8a8a8a"/><stop offset=".864" stop-color="#7e7e7e"/><stop offset=".872" stop-color="#777777"/><stop offset=".877" stop-color="#707070"/><stop offset=".881" stop-color="#6d6d6d"/><stop offset=".918" stop-color="#6a6a6a"/><stop offset=".953" stop-color="#5f5f5f"/><stop offset=".974" stop-color="#666666"/><stop offset=".993" stop-color="#6b6b6b"/><stop offset=".999" stop-color="#4f4f4f"/></linearGradient>
<linearGradient id="c134" x2="0" y2="1"><stop offset=".001" stop-color="#595959"/><stop offset=".003" stop-color="#5d5d5d"/><stop offset=".503" stop-color="#696969"/><stop offset=".621" stop-color="#6e6e6e"/><stop offset=".686" stop-color="#757575"/><stop offset=".798" stop-color="#8e8e8e"/><stop offset=".837" stop-color="#8d8d8d"/><stop offset=".856" stop-color="#8a8a8a"/><stop offset=".862" stop-color="#818181"/><stop offset=".872" stop-color="#797979"/><stop offset=".879" stop-color="#6e6e6e"/><stop offset=".883" stop-color="#6c6c6c"/><stop offset=".918" stop-color="#6a6a6a"/><stop offset=".953" stop-color="#5f5f5f"/><stop offset=".974" stop-color="#666666"/><stop offset=".993" stop-color="#6b6b6b"/><stop offset=".999" stop-color="#4f4f4f"/></linearGradient>
<linearGradient id="c135" x2="0" y2="1"><stop offset=".001" stop-color="#595959"/><stop offset=".003" stop-color="#5d5d5d"/><stop offset=".302" stop-color="#666666"/><stop offset=".366" stop-color="#6a6a6a"/><stop offset=".503" stop-color="#6a6a6a"/><stop offset=".586" stop-color="#6f6f6f"/><stop offset=".661" stop-color="#777777"/><stop offset=".796" stop-color="#959595"/><stop offset=".837" stop-color="#939393"/><stop offset=".854" stop-color="#919191"/><stop offset=".864" stop-color="#868686"/><stop offset=".872" stop-color="#808080"/><stop offset=".879" stop-color="#717171"/><stop offset=".883" stop-color="#6e6e6e"/><stop offset=".918" stop-color="#6a6a6a"/><stop offset=".933" stop-color="#666666"/><stop offset=".953" stop-color="#5f5f5f"/><stop offset=".974" stop-color="#666666"/><stop offset=".993" stop-color="#6b6b6b"/><stop offset=".999" stop-color="#4f4f4f"/></linearGradient>
<linearGradient id="c136" x2="0" y2="1"><stop offset=".001" stop-color="#595959"/><stop offset=".003" stop-color="#5d5d5d"/><stop offset=".285" stop-color="#666666"/><stop offset=".366" stop-color="#6b6b6b"/><stop offset=".503" stop-color="#6b6b6b"/><stop offset=".584" stop-color="#6f6f6f"/><stop offset=".632" stop-color="#727272"/><stop offset=".665" stop-color="#777777"/><stop offset=".74" stop-color="#898989"/><stop offset=".796" stop-color="#949494"/><stop offset=".852" stop-color="#909090"/><stop offset=".864" stop-color="#858585"/><stop offset=".872" stop-color="#7f7f7f"/><stop offset=".879" stop-color="#717171"/><stop offset=".881" stop-color="#6e6e6e"/><stop offset=".885" stop-color="#6d6d6d"/><stop offset=".918" stop-color="#6a6a6a"/><stop offset=".943" stop-color="#616161"/><stop offset=".953" stop-color="#5f5f5f"/><stop offset=".974" stop-color="#666666"/><stop offset=".993" stop-color="#6b6b6b"/><stop offset=".999" stop-color="#4f4f4f"/></linearGradient>
<linearGradient id="c137" x2="0" y2="1"><stop offset=".001" stop-color="#595959"/><stop offset=".003" stop-color="#5d5d5d"/><stop offset=".267" stop-color="#666666"/><stop offset=".366" stop-color="#6d6d6d"/><stop offset=".503" stop-color="#6c6c6c"/><stop offset=".572" stop-color="#707070"/><stop offset=".652" stop-color="#787878"/><stop offset=".704" stop-color="#838383"/><stop offset=".74" stop-color="#8d8d8d"/><stop offset=".775" stop-color="#949494"/><stop offset=".796" stop-color="#989898"/><stop offset=".852" stop-color="#939393"/><stop offset=".872" stop-color="#828282"/><stop offset=".881" stop-color="#6f6f6f"/><stop offset=".885" stop-color="#6d6d6d"/><stop offset=".918" stop-color="#6a6a6a"/><stop offset=".943" stop-color="#616161"/><stop offset=".953" stop-color="#5f5f5f"/><stop offset=".974" stop-color="#666666"/><stop offset=".993" stop-color="#6b6b6b"/><stop offset=".999" stop-color="#4f4f4f"/></linearGradient>
<linearGradient id="c138" x2="0" y2="1"><stop offset=".001" stop-color="#595959"/><stop offset=".003" stop-color="#5d5d5d"/><stop offset=".115" stop-color="#5f5f5f"/><stop offset=".244" stop-color="#666666"/><stop offset=".366" stop-color="#707070"/><stop offset=".503" stop-color="#6d6d6d"/><stop offset=".538" stop-color="#6f6f6f"/><stop offset=".644" stop-color="#797979"/><stop offset=".692" stop-color="#838383"/><stop offset=".744" stop-color="#919191"/><stop offset=".796" stop-color="#9b9b9b"/><stop offset=".854" stop-color="#949494"/><stop offset=".872" stop-color="#868686"/><stop offset=".881" stop-color="#717171"/><stop offset=".885" stop-color="#6d6d6d"/><stop offset=".918" stop-color="#6a6a6a"/><stop offset=".935" stop-color="#646464"/><stop offset=".953" stop-color="#5f5f5f"/><stop offset=".974" stop-color="#666666"/><stop offset=".993" stop-color="#6b6b6b"/><stop offset=".999" stop-color="#4f4f4f"/></linearGradient>
<linearGradient id="c139" x2="0" y2="1"><stop offset=".001" stop-color="#595959"/><stop offset=".003" stop-color="#5d5d5d"/><stop offset=".115" stop-color="#5f5f5f"/><stop offset=".235" stop-color="#666666"/><stop offset=".364" stop-color="#6f6f6f"/><stop offset=".503" stop-color="#6d6d6d"/><stop offset=".584" stop-color="#717171"/><stop offset=".65" stop-color="#787878"/><stop offset=".702" stop-color="#838383"/><stop offset=".74" stop-color="#8e8e8e"/><stop offset=".771" stop-color="#949494"/><stop offset=".796" stop-color="#989898"/><stop offset=".85" stop-color="#949494"/><stop offset=".872" stop-color="#838383"/><stop offset=".874" stop-color="#7f7f7f"/><stop offset=".879" stop-color="#737373"/><stop offset=".881" stop-color="#6f6f6f"/><stop offset=".885" stop-color="#6c6c6c"/><stop offset=".918" stop-color="#696969"/><stop offset=".953" stop-color="#5f5f5f"/><stop offset=".974" stop-color="#666666"/><stop offset=".993" stop-color="#6b6b6b"/><stop offset=".999" stop-color="#4f4f4f"/></linearGradient>
<linearGradient id="c140" x2="0" y2="1"><stop offset=".001" stop-color="#595959"/><stop offset=".003" stop-color="#5d5d5d"/><stop offset=".115" stop-color="#5f5f5f"/><stop offset=".132" stop-color="#636363"/><stop offset=".215" stop-color="#676767"/><stop offset=".364" stop-color="#727272"/><stop offset=".503" stop-color="#6f6f6f"/><stop offset=".572" stop-color="#737373"/><stop offset=".646" stop-color="#7b7b7b"/><stop offset=".686" stop-color="#838383"/><stop offset=".74" stop-color="#929292"/><stop offset=".796" stop-color="#9d9d9d"/><stop offset=".85" stop-color="#989898"/><stop offset=".856" stop-color="#949494"/><stop offset=".872" stop-color="#878787"/><stop offset=".881" stop-color="#717171"/><stop offset=".883" stop-color="#6e6e6e"/><stop offset=".887" stop-color="#6c6c6c"/><stop offset=".918" stop-color="#696969"/><stop offset=".953" stop-color="#5f5f5f"/><stop offset=".974" stop-color="#666666"/><stop offset=".993" stop-color="#6b6b6b"/><stop offset=".999" stop-color="#4f4f4f"/></linearGradient>
<linearGradient id="c141" x2="0" y2="1"><stop offset=".001" stop-color="#595959"/><stop offset=".003" stop-color="#5d5d5d"/><stop offset=".117" stop-color="#5f5f5f"/><stop offset=".132" stop-color="#636363"/><stop offset=".204" stop-color="#676767"/><stop offset=".364" stop-color="#767676"/><stop offset=".503" stop-color="#727272"/><stop offset=".532" stop-color="#747474"/><stop offset=".634" stop-color="#7e7e7e"/><stop offset=".669" stop-color="#858585"/><stop offset=".723" stop-color="#949494"/><stop offset=".796" stop-color="#a3a3a3"/><stop offset=".85" stop-color="#9e9e9e"/><stop offset=".864" stop-color="#949494"/><stop offset=".872" stop-color="#8e8e8e"/><stop offset=".874" stop-color="#898989"/><stop offset=".879" stop-color="#7c7c7c"/><stop offset=".883" stop-color="#717171"/><stop offset=".887" stop-color="#6d6d6d"/><stop offset=".918" stop-color="#696969"/><stop offset=".935" stop-color="#646464"/><stop offset=".953" stop-color="#5f5f5f"/><stop offset=".974" stop-color="#666666"/><stop offset=".993" stop-color="#6b6b6b"/><stop offset=".999" stop-color="#4f4f4f"/></linearGradient>
<linearGradient id="c142" x2="0" y2="1"><stop offset=".001" stop-color="#595959"/><stop offset=".003" stop-color="#5d5d5d"/><stop offset=".117" stop-color="#5f5f5f"/><stop offset=".132" stop-color="#636363"/><stop offset=".202" stop-color="#676767"/><stop offset=".364" stop-color="#767676"/><stop offset=".503" stop-color="#727272"/><stop offset=".528" stop-color="#747474"/><stop offset=".623" stop-color="#7f7f7f"/><stop offset=".657" stop-color="#858585"/><stop offset=".713" stop-color="#949494"/><stop offset=".796" stop-color="#a6a6a6"/><stop offset=".85" stop-color="#a1a1a1"/><stop offset=".868" stop-color="#949494"/><stop offset=".872" stop-color="#919191"/><stop offset=".874" stop-color="#8c8c8c"/><stop offset=".879" stop-color="#7e7e7e"/><stop offset=".883" stop-color="#727272"/><stop offset=".885" stop-color="#6f6f6f"/><stop offset=".889" stop-color="#6c6c6c"/><stop offset=".953" stop-color="#5f5f5f"/><stop offset=".974" stop-color="#666666"/><stop offset=".993" stop-color="#6b6b6b"/><stop offset=".999" stop-color="#4f4f4f"/></linearGradient>
<linearGradient id="c143" x2="0" y2="1"><stop offset=".001" stop-color="#595959"/><stop offset=".003" stop-color="#5d5d5d"/><stop offset=".115" stop-color="#5f5f5f"/><stop offset=".132" stop-color="#636363"/><stop offset=".179" stop-color="#666666"/><stop offset=".235" stop-color="#6b6b6b"/><stop offset=".364" stop-color="#7a7a7a"/><stop offset=".503" stop-color="#757575"/><stop offset=".516" stop-color="#767676"/><stop offset=".619" stop-color="#838383"/><stop offset=".688" stop-color="#949494"/><stop offset=".74" stop-color="#a3a3a3"/><stop offset=".796" stop-color="#adadad"/><stop offset=".85" stop-color="#a8a8a8"/><stop offset=".872" stop-color="#989898"/><stop offset=".874" stop-color="#949494"/><stop offset=".879" stop-color="#848484"/><stop offset=".885" stop-color="#727272"/><stop offset=".889" stop-color="#6d6d6d"/><stop offset=".953" stop-color="#5f5f5f"/><stop offset=".974" stop-color="#666666"/><stop offset=".993" stop-color="#6b6b6b"/><stop offset=".999" stop-color="#505050"/></linearGradient>
<linearGradient id="c144" x2="0" y2="1"><stop offset=".001" stop-color="#595959"/><stop offset=".003" stop-color="#5d5d5d"/><stop offset=".117" stop-color="#5f5f5f"/><stop offset=".132" stop-color="#646464"/><stop offset=".204" stop-color="#686868"/><stop offset=".364" stop-color="#767676"/><stop offset=".503" stop-color="#727272"/><stop offset=".526" stop-color="#737373"/><stop offset=".623" stop-color="#818181"/><stop offset=".696" stop-color="#949494"/><stop offset=".796" stop-color="#ababab"/><stop offset=".85" stop-color="#a5a5a5"/><stop offset=".872" stop-color="#959595"/><stop offset=".874" stop-color="#919191"/><stop offset=".879" stop-color="#828282"/><stop offset=".883" stop-color="#757575"/><stop offset=".885" stop-color="#717171"/><stop offset=".889" stop-color="#6c6c6c"/><stop offset=".953" stop-color="#5f5f5f"/><stop offset=".974" stop-color="#666666"/><stop offset=".993" stop-color="#6b6b6b"/><stop offset=".999" stop-color="#505050"/></linearGradient>
<linearGradient id="c145" x2="0" y2="1"><stop offset=".001" stop-color="#5a5a5a"/><stop offset=".003" stop-color="#5d5d5d"/><stop offset=".117" stop-color="#606060"/><stop offset=".132" stop-color="#646464"/><stop offset=".225" stop-color="#686868"/><stop offset=".364" stop-color="#747474"/><stop offset=".47" stop-color="#707070"/><stop offset=".528" stop-color="#717171"/><stop offset=".621" stop-color="#808080"/><stop offset=".7" stop-color="#949494"/><stop offset=".796" stop-color="#aaaaaa"/><stop offset=".85" stop-color="#a5a5a5"/><stop offset=".872" stop-color="#949494"/><stop offset=".874" stop-color="#909090"/><stop offset=".879" stop-color="#818181"/><stop offset=".883" stop-color="#747474"/><stop offset=".885" stop-color="#707070"/><stop offset=".889" stop-color="#6c6c6c"/><stop offset=".953" stop-color="#5f5f5f"/><stop offset=".974" stop-color="#666666"/><stop offset=".993" stop-color="#6b6b6b"/><stop offset=".999" stop-color="#515151"/></linearGradient>
<linearGradient id="c146" x2="0" y2="1"><stop offset=".001" stop-color="#5d5d5d"/><stop offset=".123" stop-color="#626262"/><stop offset=".229" stop-color="#6f6f6f"/><stop offset=".316" stop-color="#7d7d7d"/><stop offset=".364" stop-color="#818181"/><stop offset=".42" stop-color="#7e7e7e"/><stop offset=".472" stop-color="#787878"/><stop offset=".518" stop-color="#787878"/><stop offset=".584" stop-color="#838383"/><stop offset=".652" stop-color="#949494"/><stop offset=".738" stop-color="#aaaaaa"/><stop offset=".796" stop-color="#b4b4b4"/><stop offset=".85" stop-color="#b0b0b0"/><stop offset=".872" stop-color="#a1a1a1"/><stop offset=".877" stop-color="#959595"/><stop offset=".887" stop-color="#737373"/><stop offset=".891" stop-color="#6d6d6d"/><stop offset=".935" stop-color="#636363"/><stop offset=".953" stop-color="#5f5f5f"/><stop offset=".974" stop-color="#666666"/><stop offset=".993" stop-color="#6b6b6b"/><stop offset=".997" stop-color="#5b5b5b"/><stop offset=".999" stop-color="#545454"/></linearGradient>
<linearGradient id="c147" x2="0" y2="1"><stop offset=".001" stop-color="#626262"/><stop offset=".123" stop-color="#666666"/><stop offset=".24" stop-color="#737373"/><stop offset=".318" stop-color="#808080"/><stop offset=".364" stop-color="#838383"/><stop offset=".42" stop-color="#808080"/><stop offset=".472" stop-color="#787878"/><stop offset=".526" stop-color="#797979"/><stop offset=".586" stop-color="#838383"/><stop offset=".655" stop-color="#949494"/><stop offset=".738" stop-color="#aaaaaa"/><stop offset=".796" stop-color="#b5b5b5"/><stop offset=".85" stop-color="#b0b0b0"/><stop offset=".872" stop-color="#a0a0a0"/><stop offset=".877" stop-color="#949494"/><stop offset=".883" stop-color="#7f7f7f"/><stop offset=".887" stop-color="#737373"/><stop offset=".889" stop-color="#6f6f6f"/><stop offset=".893" stop-color="#6d6d6d"/><stop offset=".935" stop-color="#636363"/><stop offset=".953" stop-color="#606060"/><stop offset=".974" stop-color="#666666"/><stop offset=".993" stop-color="#6c6c6c"/><stop offset=".997" stop-color="#5d5d5d"/><stop offset=".999" stop-color="#595959"/></linearGradient>
<linearGradient id="c148" x2="0" y2="1"><stop offset=".001" stop-color="#646464"/><stop offset=".196" stop-color="#6c6c6c"/><stop offset=".242" stop-color="#717171"/><stop offset=".316" stop-color="#7e7e7e"/><stop offset=".364" stop-color="#818181"/><stop offset=".42" stop-color="#7e7e7e"/><stop offset=".472" stop-color="#757575"/><stop offset=".526" stop-color="#757575"/><stop offset=".609" stop-color="#838383"/><stop offset=".677" stop-color="#949494"/><stop offset=".74" stop-color="#a6a6a6"/><stop offset=".796" stop-color="#b1b1b1"/><stop offset=".85" stop-color="#ababab"/><stop offset=".872" stop-color="#999999"/><stop offset=".874" stop-color="#959595"/><stop offset=".881" stop-color="#7f7f7f"/><stop offset=".885" stop-color="#737373"/><stop offset=".887" stop-color="#6f6f6f"/><stop offset=".891" stop-color="#6c6c6c"/><stop offset=".935" stop-color="#656565"/><stop offset=".953" stop-color="#636363"/><stop offset=".97" stop-color="#666666"/><stop offset=".993" stop-color="#6c6c6c"/><stop offset=".999" stop-color="#5b5b5b"/></linearGradient>
<linearGradient id="c149" x2="0" y2="1"><stop offset=".001" stop-color="#6f6f6f"/><stop offset=".07" stop-color="#707070"/><stop offset=".155" stop-color="#767676"/><stop offset=".242" stop-color="#808080"/><stop offset=".318" stop-color="#8f8f8f"/><stop offset=".364" stop-color="#939393"/><stop offset=".42" stop-color="#8f8f8f"/><stop offset=".472" stop-color="#848484"/><stop offset=".526" stop-color="#848484"/><stop offset=".619" stop-color="#949494"/><stop offset=".738" stop-color="#b0b0b0"/><stop offset=".796" stop-color="#bababa"/><stop offset=".85" stop-color="#b5b5b5"/><stop offset=".872" stop-color="#a5a5a5"/><stop offset=".874" stop-color="#a1a1a1"/><stop offset=".879" stop-color="#929292"/><stop offset=".883" stop-color="#858585"/><stop offset=".889" stop-color="#777777"/><stop offset=".895" stop-color="#717171"/><stop offset=".908" stop-color="#6c6c6c"/><stop offset=".937" stop-color="#686868"/><stop offset=".953" stop-color="#676767"/><stop offset=".993" stop-color="#6d6d6d"/><stop offset=".997" stop-color="#676767"/><stop offset=".999" stop-color="#676767"/></linearGradient>
<linearGradient id="c150" x2="0" y2="1"><stop offset=".001" stop-color="#717171"/><stop offset=".07" stop-color="#727272"/><stop offset=".136" stop-color="#757575"/><stop offset=".24" stop-color="#818181"/><stop offset=".318" stop-color="#909090"/><stop offset=".364" stop-color="#949494"/><stop offset=".42" stop-color="#909090"/><stop offset=".472" stop-color="#858585"/><stop offset=".526" stop-color="#858585"/><stop offset=".619" stop-color="#949494"/><stop offset=".738" stop-color="#afafaf"/><stop offset=".796" stop-color="#b9b9b9"/><stop offset=".85" stop-color="#b4b4b4"/><stop offset=".872" stop-color="#a2a2a2"/><stop offset=".877" stop-color="#979797"/><stop offset=".883" stop-color="#848484"/><stop offset=".889" stop-color="#777777"/><stop offset=".893" stop-color="#737373"/><stop offset=".908" stop-color="#6d6d6d"/><stop offset=".953" stop-color="#6a6a6a"/><stop offset=".993" stop-color="#6f6f6f"/><stop offset=".995" stop-color="#6d6d6d"/><stop offset=".997" stop-color="#696969"/><stop offset=".999" stop-color="#686868"/></linearGradient>
<linearGradient id="c151" x2="0" y2="1"><stop offset=".001" stop-color="#6c6c6c"/><stop offset=".07" stop-color="#6d6d6d"/><stop offset=".136" stop-color="#717171"/><stop offset=".24" stop-color="#7c7c7c"/><stop offset=".316" stop-color="#8a8a8a"/><stop offset=".364" stop-color="#8f8f8f"/><stop offset=".42" stop-color="#8b8b8b"/><stop offset=".472" stop-color="#808080"/><stop offset=".528" stop-color="#808080"/><stop offset=".607" stop-color="#8c8c8c"/><stop offset=".642" stop-color="#949494"/><stop offset=".74" stop-color="#acacac"/><stop offset=".796" stop-color="#b6b6b6"/><stop offset=".85" stop-color="#b0b0b0"/><stop offset=".872" stop-color="#9d9d9d"/><stop offset=".874" stop-color="#989898"/><stop offset=".877" stop-color="#919191"/><stop offset=".881" stop-color="#848484"/><stop offset=".885" stop-color="#7a7a7a"/><stop offset=".889" stop-color="#727272"/><stop offset=".893" stop-color="#6e6e6e"/><stop offset=".91" stop-color="#6b6b6b"/><stop offset=".953" stop-color="#686868"/><stop offset=".993" stop-color="#6f6f6f"/><stop offset=".995" stop-color="#6d6d6d"/><stop offset=".997" stop-color="#666666"/><stop offset=".999" stop-color="#646464"/></linearGradient>
<linearGradient id="c152" x2="0" y2="1"><stop offset=".001" stop-color="#717171"/><stop offset=".07" stop-color="#727272"/><stop offset=".136" stop-color="#757575"/><stop offset=".24" stop-color="#818181"/><stop offset=".318" stop-color="#909090"/><stop offset=".364" stop-color="#949494"/><stop offset=".42" stop-color="#909090"/><stop offset=".472" stop-color="#858585"/><stop offset=".526" stop-color="#858585"/><stop offset=".619" stop-color="#949494"/><stop offset=".738" stop-color="#afafaf"/><stop offset=".796" stop-color="#b9b9b9"/><stop offset=".85" stop-color="#b4b4b4"/><stop offset=".872" stop-color="#a2a2a2"/><stop offset=".877" stop-color="#979797"/><stop offset=".883" stop-color="#848484"/><stop offset=".889" stop-color="#777777"/><stop offset=".893" stop-color="#737373"/><stop offset=".908" stop-color="#6d6d6d"/><stop offset=".953" stop-color="#6a6a6a"/><stop offset=".993" stop-color="#6f6f6f"/><stop offset=".995" stop-color="#6d6d6d"/><stop offset=".997" stop-color="#696969"/><stop offset=".999" stop-color="#686868"/></linearGradient>
<linearGradient id="c153" x2="0" y2="1"><stop offset=".001" stop-color="#717171"/><stop offset=".07" stop-color="#727272"/><stop offset=".136" stop-color="#767676"/><stop offset=".24" stop-color="#828282"/><stop offset=".318" stop-color="#919191"/><stop offset=".364" stop-color="#959595"/><stop offset=".42" stop-color="#919191"/><stop offset=".472" stop-color="#868686"/><stop offset=".526" stop-color="#868686"/><stop offset=".615" stop-color="#949494"/><stop offset=".738" stop-color="#b0b0b0"/><stop offset=".796" stop-color="#bababa"/><stop offset=".85" stop-color="#b4b4b4"/><stop offset=".872" stop-color="#a3a3a3"/><stop offset=".877" stop-color="#979797"/><stop offset=".883" stop-color="#848484"/><stop offset=".889" stop-color="#777777"/><stop offset=".893" stop-color="#737373"/><stop offset=".908" stop-color="#6d6d6d"/><stop offset=".953" stop-color="#6b6b6b"/><stop offset=".993" stop-color="#6f6f6f"/><stop offset=".997" stop-color="#6a6a6a"/><stop offset=".999" stop-color="#696969"/></linearGradient>
<linearGradient id="c154" x2="0" y2="1"><stop offset=".001" stop-color="#757575"/><stop offset=".07" stop-color="#767676"/><stop offset=".136" stop-color="#797979"/><stop offset=".24" stop-color="#868686"/><stop offset=".312" stop-color="#949494"/><stop offset=".364" stop-color="#999999"/><stop offset=".426" stop-color="#949494"/><stop offset=".472" stop-color="#8a8a8a"/><stop offset=".526" stop-color="#8a8a8a"/><stop offset=".59" stop-color="#949494"/><stop offset=".738" stop-color="#b3b3b3"/><stop offset=".796" stop-color="#bdbdbd"/><stop offset=".85" stop-color="#b8b8b8"/><stop offset=".872" stop-color="#a8a8a8"/><stop offset=".879" stop-color="#969696"/><stop offset=".885" stop-color="#848484"/><stop offset=".889" stop-color="#7b7b7b"/><stop offset=".895" stop-color="#757575"/><stop offset=".908" stop-color="#6e6e6e"/><stop offset=".941" stop-color="#6b6b6b"/><stop offset=".97" stop-color="#6c6c6c"/><stop offset=".993" stop-color="#6e6e6e"/><stop offset=".995" stop-color="#6c6c6c"/><stop offset=".999" stop-color="#6d6d6d"/></linearGradient>
<linearGradient id="c155" x2="0" y2="1"><stop offset=".001" stop-color="#696969"/><stop offset=".155" stop-color="#6f6f6f"/><stop offset=".24" stop-color="#797979"/><stop offset=".318" stop-color="#868686"/><stop offset=".364" stop-color="#8a8a8a"/><stop offset=".42" stop-color="#868686"/><stop offset=".472" stop-color="#7c7c7c"/><stop offset=".526" stop-color="#7d7d7d"/><stop offset=".592" stop-color="#888888"/><stop offset=".642" stop-color="#949494"/><stop offset=".738" stop-color="#adadad"/><stop offset=".796" stop-color="#b8b8b8"/><stop offset=".85" stop-color="#b3b3b3"/><stop offset=".872" stop-color="#a2a2a2"/><stop offset=".877" stop-color="#969696"/><stop offset=".883" stop-color="#818181"/><stop offset=".887" stop-color="#767676"/><stop offset=".891" stop-color="#707070"/><stop offset=".895" stop-color="#6e6e6e"/><stop offset=".91" stop-color="#6a6a6a"/><stop offset=".947" stop-color="#656565"/><stop offset=".964" stop-color="#666666"/><stop offset=".993" stop-color="#6c6c6c"/><stop offset=".997" stop-color="#646464"/><stop offset=".999" stop-color="#616161"/></linearGradient>
<linearGradient id="c156" x2="0" y2="1"><stop offset=".001" stop-color="#656565"/><stop offset=".07" stop-color="#676767"/><stop offset=".14" stop-color="#6a6a6a"/><stop offset=".24" stop-color="#747474"/><stop offset=".316" stop-color="#818181"/><stop offset=".364" stop-color="#858585"/><stop offset=".42" stop-color="#818181"/><stop offset=".472" stop-color="#787878"/><stop offset=".52" stop-color="#787878"/><stop offset=".638" stop-color="#949494"/><stop offset=".738" stop-color="#afafaf"/><stop offset=".796" stop-color="#bababa"/><stop offset=".85" stop-color="#b5b5b5"/><stop offset=".872" stop-color="#a5a5a5"/><stop offset=".874" stop-color="#a0a0a0"/><stop offset=".879" stop-color="#919191"/><stop offset=".883" stop-color="#828282"/><stop offset=".889" stop-color="#727272"/><stop offset=".895" stop-color="#6c6c6c"/><stop offset=".935" stop-color="#636363"/><stop offset=".953" stop-color="#616161"/><stop offset=".972" stop-color="#666666"/><stop offset=".993" stop-color="#6c6c6c"/><stop offset=".997" stop-color="#5f5f5f"/><stop offset=".999" stop-color="#5d5d5d"/></linearGradient>
<linearGradient id="c157" x2="0" y2="1"><stop offset=".001" stop-color="#5f5f5f"/><stop offset=".157" stop-color="#666666"/><stop offset=".24" stop-color="#6e6e6e"/><stop offset=".318" stop-color="#7b7b7b"/><stop offset=".364" stop-color="#7e7e7e"/><stop offset=".42" stop-color="#7b7b7b"/><stop offset=".47" stop-color="#727272"/><stop offset=".516" stop-color="#727272"/><stop offset=".53" stop-color="#757575"/><stop offset=".547" stop-color="#7d7d7d"/><stop offset=".638" stop-color="#949494"/><stop offset=".738" stop-color="#afafaf"/><stop offset=".796" stop-color="#bababa"/><stop offset=".85" stop-color="#b5b5b5"/><stop offset=".872" stop-color="#a5a5a5"/><stop offset=".874" stop-color="#a1a1a1"/><stop offset=".879" stop-color="#919191"/><stop offset=".883" stop-color="#828282"/><stop offset=".889" stop-color="#717171"/><stop offset=".891" stop-color="#6e6e6e"/><stop offset=".895" stop-color="#6c6c6c"/><stop offset=".937" stop-color="#626262"/><stop offset=".953" stop-color="#606060"/><stop offset=".974" stop-color="#666666"/><stop offset=".993" stop-color="#6c6c6c"/><stop offset=".997" stop-color="#5c5c5c"/><stop offset=".999" stop-color="#575757"/></linearGradient>
<linearGradient id="c158" x2="0" y2="1"><stop offset=".001" stop-color="#5c5c5c"/><stop offset=".003" stop-color="#5e5e5e"/><stop offset=".211" stop-color="#666666"/><stop offset=".318" stop-color="#747474"/><stop offset=".364" stop-color="#777777"/><stop offset=".42" stop-color="#747474"/><stop offset=".47" stop-color="#6d6d6d"/><stop offset=".513" stop-color="#6d6d6d"/><stop offset=".53" stop-color="#737373"/><stop offset=".547" stop-color="#7b7b7b"/><stop offset=".644" stop-color="#949494"/><stop offset=".738" stop-color="#adadad"/><stop offset=".796" stop-color="#b8b8b8"/><stop offset=".85" stop-color="#b3b3b3"/><stop offset=".872" stop-color="#a4a4a4"/><stop offset=".877" stop-color="#979797"/><stop offset=".887" stop-color="#757575"/><stop offset=".889" stop-color="#707070"/><stop offset=".893" stop-color="#6c6c6c"/><stop offset=".937" stop-color="#626262"/><stop offset=".953" stop-color="#5f5f5f"/><stop offset=".974" stop-color="#666666"/><stop offset=".993" stop-color="#6b6b6b"/><stop offset=".999" stop-color="#525252"/></linearGradient>
<linearGradient id="c159" x2="0" y2="1"><stop offset=".001" stop-color="#5a5a5a"/><stop offset=".003" stop-color="#5d5d5d"/><stop offset=".25" stop-color="#666666"/><stop offset=".364" stop-color="#707070"/><stop offset=".47" stop-color="#6a6a6a"/><stop offset=".513" stop-color="#6a6a6a"/><stop offset=".53" stop-color="#707070"/><stop offset=".547" stop-color="#787878"/><stop offset=".659" stop-color="#949494"/><stop offset=".738" stop-color="#aaaaaa"/><stop offset=".796" stop-color="#b5b5b5"/><stop offset=".85" stop-color="#b0b0b0"/><stop offset=".872" stop-color="#a0a0a0"/><stop offset=".877" stop-color="#949494"/><stop offset=".881" stop-color="#848484"/><stop offset=".887" stop-color="#727272"/><stop offset=".889" stop-color="#6e6e6e"/><stop offset=".893" stop-color="#6b6b6b"/><stop offset=".937" stop-color="#616161"/><stop offset=".953" stop-color="#5f5f5f"/><stop offset=".974" stop-color="#666666"/><stop offset=".993" stop-color="#6b6b6b"/><stop offset=".999" stop-color="#505050"/></linearGradient>
<linearGradient id="c160" x2="0" y2="1"><stop offset=".001" stop-color="#595959"/><stop offset=".003" stop-color="#5d5d5d"/><stop offset=".281" stop-color="#666666"/><stop offset=".364" stop-color="#6c6c6c"/><stop offset=".457" stop-color="#696969"/><stop offset=".513" stop-color="#6a6a6a"/><stop offset=".53" stop-color="#6f6f6f"/><stop offset=".547" stop-color="#787878"/><stop offset=".657" stop-color="#949494"/><stop offset=".738" stop-color="#aaaaaa"/><stop offset=".796" stop-color="#b5b5b5"/><stop offset=".85" stop-color="#b0b0b0"/><stop offset=".872" stop-color="#a0a0a0"/><stop offset=".877" stop-color="#949494"/><stop offset=".881" stop-color="#858585"/><stop offset=".887" stop-color="#727272"/><stop offset=".891" stop-color="#6c6c6c"/><stop offset=".937" stop-color="#616161"/><stop offset=".953" stop-color="#5f5f5f"/><stop offset=".974" stop-color="#666666"/><stop offset=".993" stop-color="#6b6b6b"/><stop offset=".999" stop-color="#505050"/></linearGradient>
<linearGradient id="c161" x2="0" y2="1"><stop offset=".001" stop-color="#595959"/><stop offset=".003" stop-color="#5d5d5d"/><stop offset=".294" stop-color="#656565"/><stop offset=".366" stop-color="#686868"/><stop offset=".516" stop-color="#696969"/><stop offset=".532" stop-color="#6f6f6f"/><stop offset=".547" stop-color="#777777"/><stop offset=".661" stop-color="#949494"/><stop offset=".738" stop-color="#a9a9a9"/><stop offset=".796" stop-color="#b3b3b3"/><stop offset=".85" stop-color="#aeaeae"/><stop offset=".872" stop-color="#9f9f9f"/><stop offset=".877" stop-color="#939393"/><stop offset=".881" stop-color="#848484"/><stop offset=".887" stop-color="#717171"/><stop offset=".891" stop-color="#6c6c6c"/><stop offset=".937" stop-color="#616161"/><stop offset=".953" stop-color="#5f5f5f"/><stop offset=".974" stop-color="#666666"/><stop offset=".993" stop-color="#6b6b6b"/><stop offset=".999" stop-color="#4f4f4f"/></linearGradient>
<linearGradient id="c162" x2="0" y2="1"><stop offset=".001" stop-color="#595959"/><stop offset=".003" stop-color="#5d5d5d"/><stop offset=".516" stop-color="#696969"/><stop offset=".532" stop-color="#6d6d6d"/><stop offset=".547" stop-color="#737373"/><stop offset=".619" stop-color="#838383"/><stop offset=".679" stop-color="#949494"/><stop offset=".738" stop-color="#a4a4a4"/><stop offset=".796" stop-color="#afafaf"/><stop offset=".85" stop-color="#aaaaaa"/><stop offset=".872" stop-color="#9a9a9a"/><stop offset=".874" stop-color="#969696"/><stop offset=".881" stop-color="#7f7f7f"/><stop offset=".885" stop-color="#737373"/><stop offset=".887" stop-color="#6f6f6f"/><stop offset=".891" stop-color="#6c6c6c"/><stop offset=".937" stop-color="#616161"/><stop offset=".953" stop-color="#5f5f5f"/><stop offset=".974" stop-color="#666666"/><stop offset=".993" stop-color="#6b6b6b"/><stop offset=".999" stop-color="#4f4f4f"/></linearGradient>
<linearGradient id="c163" x2="0" y2="1"><stop offset=".001" stop-color="#595959"/><stop offset=".003" stop-color="#5d5d5d"/><stop offset=".518" stop-color="#696969"/><stop offset=".64" stop-color="#838383"/><stop offset=".702" stop-color="#949494"/><stop offset=".796" stop-color="#a9a9a9"/><stop offset=".85" stop-color="#a4a4a4"/><stop offset=".872" stop-color="#949494"/><stop offset=".874" stop-color="#8f8f8f"/><stop offset=".879" stop-color="#818181"/><stop offset=".883" stop-color="#747474"/><stop offset=".887" stop-color="#6d6d6d"/><stop offset=".889" stop-color="#6b6b6b"/><stop offset=".937" stop-color="#616161"/><stop offset=".953" stop-color="#5f5f5f"/><stop offset=".974" stop-color="#666666"/><stop offset=".993" stop-color="#6b6b6b"/><stop offset=".999" stop-color="#4f4f4f"/></linearGradient>
<linearGradient id="c164" x2="0" y2="1"><stop offset=".001" stop-color="#595959"/><stop offset=".003" stop-color="#5d5d5d"/><stop offset=".526" stop-color="#696969"/><stop offset=".609" stop-color="#777777"/><stop offset=".663" stop-color="#838383"/><stop offset=".721" stop-color="#949494"/><stop offset=".796" stop-color="#a4a4a4"/><stop offset=".85" stop-color="#9f9f9f"/><stop offset=".864" stop-color="#959595"/><stop offset=".872" stop-color="#8f8f8f"/><stop offset=".874" stop-color="#8a8a8a"/><stop offset=".879" stop-color="#7c7c7c"/><stop offset=".883" stop-color="#717171"/><stop offset=".885" stop-color="#6d6d6d"/><stop offset=".889" stop-color="#6b6b6b"/><stop offset=".953" stop-color="#5f5f5f"/><stop offset=".974" stop-color="#666666"/><stop offset=".993" stop-color="#6b6b6b"/><stop offset=".999" stop-color="#4f4f4f"/></linearGradient>
<linearGradient id="c165" x2="0" y2="1"><stop offset=".001" stop-color="#595959"/><stop offset=".003" stop-color="#5d5d5d"/><stop offset=".526" stop-color="#696969"/><stop offset=".617" stop-color="#7a7a7a"/><stop offset=".659" stop-color="#848484"/><stop offset=".717" stop-color="#949494"/><stop offset=".796" stop-color="#a5a5a5"/><stop offset=".85" stop-color="#a0a0a0"/><stop offset=".866" stop-color="#949494"/><stop offset=".872" stop-color="#909090"/><stop offset=".874" stop-color="#8b8b8b"/><stop offset=".879" stop-color="#7d7d7d"/><stop offset=".883" stop-color="#727272"/><stop offset=".885" stop-color="#6e6e6e"/><stop offset=".889" stop-color="#6b6b6b"/><stop offset=".937" stop-color="#616161"/><stop offset=".953" stop-color="#5f5f5f"/><stop offset=".974" stop-color="#666666"/><stop offset=".993" stop-color="#6b6b6b"/><stop offset=".999" stop-color="#4f4f4f"/></linearGradient>
<linearGradient id="c166" x2="0" y2="1"><stop offset=".001" stop-color="#595959"/><stop offset=".003" stop-color="#5d5d5d"/><stop offset=".53" stop-color="#696969"/><stop offset=".621" stop-color="#777777"/><stop offset=".673" stop-color="#838383"/><stop offset=".733" stop-color="#949494"/><stop offset=".796" stop-color="#a1a1a1"/><stop offset=".85" stop-color="#9b9b9b"/><stop offset=".86" stop-color="#949494"/><stop offset=".872" stop-color="#8b8b8b"/><stop offset=".874" stop-color="#878787"/><stop offset=".881" stop-color="#747474"/><stop offset=".883" stop-color="#6f6f6f"/><stop offset=".887" stop-color="#6b6b6b"/><stop offset=".937" stop-color="#616161"/><stop offset=".953" stop-color="#5f5f5f"/><stop offset=".974" stop-color="#666666"/><stop offset=".993" stop-color="#6b6b6b"/><stop offset=".999" stop-color="#4f4f4f"/></linearGradient>
<linearGradient id="c167" x2="0" y2="1"><stop offset=".001" stop-color="#595959"/><stop offset=".003" stop-color="#5d5d5d"/><stop offset=".534" stop-color="#696969"/><stop offset=".582" stop-color="#6f6f6f"/><stop offset=".626" stop-color="#767676"/><stop offset=".684" stop-color="#838383"/><stop offset=".744" stop-color="#949494"/><stop offset=".796" stop-color="#9e9e9e"/><stop offset=".85" stop-color="#999999"/><stop offset=".856" stop-color="#959595"/><stop offset=".872" stop-color="#898989"/><stop offset=".881" stop-color="#727272"/><stop offset=".883" stop-color="#6e6e6e"/><stop offset=".887" stop-color="#6b6b6b"/><stop offset=".953" stop-color="#5f5f5f"/><stop offset=".974" stop-color="#666666"/><stop offset=".993" stop-color="#6b6b6b"/><stop offset=".999" stop-color="#4f4f4f"/></linearGradient>
<linearGradient id="c168" x2="0" y2="1"><stop offset=".001" stop-color="#595959"/><stop offset=".003" stop-color="#5d5d5d"/><stop offset=".538" stop-color="#696969"/><stop offset=".586" stop-color="#6d6d6d"/><stop offset=".632" stop-color="#737373"/><stop offset=".7" stop-color="#838383"/><stop offset=".74" stop-color="#8e8e8e"/><stop offset=".769" stop-color="#949494"/><stop offset=".796" stop-color="#999999"/><stop offset=".852" stop-color="#939393"/><stop offset=".872" stop-color="#848484"/><stop offset=".874" stop-color="#808080"/><stop offset=".879" stop-color="#737373"/><stop offset=".883" stop-color="#6d6d6d"/><stop offset=".885" stop-color="#6b6b6b"/><stop offset=".953" stop-color="#5f5f5f"/><stop offset=".974" stop-color="#666666"/><stop offset=".993" stop-color="#6b6b6b"/><stop offset=".999" stop-color="#4f4f4f"/></linearGradient>
<linearGradient id="c169" x2="0" y2="1"><stop offset=".001" stop-color="#595959"/><stop offset=".003" stop-color="#5d5d5d"/><stop offset=".385" stop-color="#666666"/><stop offset=".536" stop-color="#6a6a6a"/><stop offset=".576" stop-color="#6e6e6e"/><stop offset=".605" stop-color="#737373"/><stop offset=".731" stop-color="#949494"/><stop offset=".796" stop-color="#a1a1a1"/><stop offset=".85" stop-color="#9c9c9c"/><stop offset=".862" stop-color="#949494"/><stop offset=".872" stop-color="#8c8c8c"/><stop offset=".874" stop-color="#888888"/><stop offset=".881" stop-color="#747474"/><stop offset=".883" stop-color="#6f6f6f"/><stop offset=".887" stop-color="#6d6d6d"/><stop offset=".937" stop-color="#616161"/><stop offset=".953" stop-color="#5f5f5f"/><stop offset=".974" stop-color="#666666"/><stop offset=".993" stop-color="#6b6b6b"/><stop offset=".999" stop-color="#4f4f4f"/></linearGradient>
<linearGradient id="c170" x2="0" y2="1"><stop offset=".001" stop-color="#595959"/><stop offset=".003" stop-color="#5d5d5d"/><stop offset=".385" stop-color="#666666"/><stop offset=".565" stop-color="#6b6b6b"/><stop offset=".596" stop-color="#6f6f6f"/><stop offset=".628" stop-color="#747474"/><stop offset=".756" stop-color="#949494"/><stop offset=".796" stop-color="#9b9b9b"/><stop offset=".854" stop-color="#949494"/><stop offset=".872" stop-color="#868686"/><stop offset=".881" stop-color="#717171"/><stop offset=".885" stop-color="#6d6d6d"/><stop offset=".937" stop-color="#616161"/><stop offset=".953" stop-color="#5f5f5f"/><stop offset=".974" stop-color="#666666"/><stop offset=".993" stop-color="#6b6b6b"/><stop offset=".999" stop-color="#4f4f4f"/></linearGradient>
<linearGradient id="c171" x2="0" y2="1"><stop offset=".001" stop-color="#595959"/><stop offset=".003" stop-color="#5d5d5d"/><stop offset=".385" stop-color="#666666"/><stop offset=".588" stop-color="#6b6b6b"/><stop offset=".665" stop-color="#747474"/><stop offset=".74" stop-color="#868686"/><stop offset=".796" stop-color="#919191"/><stop offset=".852" stop-color="#8b8b8b"/><stop offset=".872" stop-color="#7e7e7e"/><stop offset=".879" stop-color="#717171"/><stop offset=".885" stop-color="#6b6b6b"/><stop offset=".953" stop-color="#5f5f5f"/><stop offset=".974" stop-color="#666666"/><stop offset=".993" stop-color="#6b6b6b"/><stop offset=".999" stop-color="#4f4f4f"/></linearGradient>
<linearGradient id="c172" x2="0" y2="1"><stop offset=".001" stop-color="#595959"/><stop offset=".003" stop-color="#5d5d5d"/><stop offset=".385" stop-color="#666666"/><stop offset=".59" stop-color="#6c6c6c"/><stop offset=".65" stop-color="#737373"/><stop offset=".74" stop-color="#898989"/><stop offset=".796" stop-color="#949494"/><stop offset=".852" stop-color="#8e8e8e"/><stop offset=".872" stop-color="#808080"/><stop offset=".881" stop-color="#707070"/><stop offset=".887" stop-color="#6c6c6c"/><stop offset=".937" stop-color="#616161"/><stop offset=".953" stop-color="#5f5f5f"/><stop offset=".974" stop-color="#666666"/><stop offset=".993" stop-color="#6b6b6b"/><stop offset=".999" stop-color="#4f4f4f"/></linearGradient>
<linearGradient id="c173" x2="0" y2="1"><stop offset=".001" stop-color="#595959"/><stop offset=".003" stop-color="#5d5d5d"/><stop offset=".385" stop-color="#666666"/><stop offset=".601" stop-color="#6c6c6c"/><stop offset=".638" stop-color="#6f6f6f"/><stop offset=".659" stop-color="#757575"/><stop offset=".796" stop-color="#8f8f8f"/><stop offset=".852" stop-color="#8b8b8b"/><stop offset=".864" stop-color="#848484"/><stop offset=".872" stop-color="#7e7e7e"/><stop offset=".881" stop-color="#6f6f6f"/><stop offset=".887" stop-color="#6c6c6c"/><stop offset=".937" stop-color="#616161"/><stop offset=".953" stop-color="#5f5f5f"/><stop offset=".974" stop-color="#666666"/><stop offset=".993" stop-color="#6b6b6b"/><stop offset=".999" stop-color="#4f4f4f"/></linearGradient>
<linearGradient id="c174" x2="0" y2="1"><stop offset=".001" stop-color="#595959"/><stop offset=".003" stop-color="#5d5d5d"/><stop offset=".632" stop-color="#6a6a6a"/><stop offset=".684" stop-color="#6f6f6f"/><stop offset=".796" stop-color="#828282"/><stop offset=".85" stop-color="#7f7f7f"/><stop offset=".864" stop-color="#7a7a7a"/><stop offset=".872" stop-color="#737373"/><stop offset=".877" stop-color="#6e6e6e"/><stop offset=".883" stop-color="#6b6b6b"/><stop offset=".912" stop-color="#686868"/><stop offset=".937" stop-color="#616161"/><stop offset=".955" stop-color="#5f5f5f"/><stop offset=".993" stop-color="#6b6b6b"/><stop offset=".999" stop-color="#4f4f4f"/></linearGradient>
<linearGradient id="c175" x2="0" y2="1"><stop offset=".001" stop-color="#595959"/><stop offset=".003" stop-color="#5d5d5d"/><stop offset=".63" stop-color="#6b6b6b"/><stop offset=".7" stop-color="#727272"/><stop offset=".796" stop-color="#848484"/><stop offset=".85" stop-color="#838383"/><stop offset=".866" stop-color="#7d7d7d"/><stop offset=".879" stop-color="#6f6f6f"/><stop offset=".885" stop-color="#6b6b6b"/><stop offset=".937" stop-color="#616161"/><stop offset=".955" stop-color="#5f5f5f"/><stop offset=".993" stop-color="#6b6b6b"/><stop offset=".999" stop-color="#4f4f4f"/></linearGradient>
<linearGradient id="c176" x2="0" y2="1"><stop offset=".001" stop-color="#595959"/><stop offset=".003" stop-color="#5d5d5d"/><stop offset=".636" stop-color="#6b6b6b"/><stop offset=".702" stop-color="#717171"/><stop offset=".794" stop-color="#828282"/><stop offset=".845" stop-color="#838383"/><stop offset=".864" stop-color="#7f7f7f"/><stop offset=".881" stop-color="#6e6e6e"/><stop offset=".887" stop-color="#6b6b6b"/><stop offset=".937" stop-color="#616161"/><stop offset=".953" stop-color="#5f5f5f"/><stop offset=".974" stop-color="#666666"/><stop offset=".993" stop-color="#6b6b6b"/><stop offset=".999" stop-color="#4f4f4f"/></linearGradient>
<linearGradient id="c177" x2="0" y2="1"><stop offset=".001" stop-color="#595959"/><stop offset=".003" stop-color="#5d5d5d"/><stop offset=".385" stop-color="#666666"/><stop offset=".642" stop-color="#6c6c6c"/><stop offset=".694" stop-color="#717171"/><stop offset=".796" stop-color="#848484"/><stop offset=".845" stop-color="#878787"/><stop offset=".864" stop-color="#848484"/><stop offset=".874" stop-color="#797979"/><stop offset=".881" stop-color="#707070"/><stop offset=".887" stop-color="#6c6c6c"/><stop offset=".937" stop-color="#616161"/><stop offset=".953" stop-color="#5f5f5f"/><stop offset=".974" stop-color="#666666"/><stop offset=".993" stop-color="#6b6b6b"/><stop offset=".999" stop-color="#4f4f4f"/></linearGradient>
<linearGradient id="c178" x2="0" y2="1"><stop offset=".001" stop-color="#595959"/><stop offset=".003" stop-color="#5d5d5d"/><stop offset=".385" stop-color="#666666"/><stop offset=".652" stop-color="#6c6c6c"/><stop offset=".698" stop-color="#707070"/><stop offset=".796" stop-color="#828282"/><stop offset=".845" stop-color="#878787"/><stop offset=".864" stop-color="#848484"/><stop offset=".874" stop-color="#7a7a7a"/><stop offset=".881" stop-color="#707070"/><stop offset=".887" stop-color="#6c6c6c"/><stop offset=".937" stop-color="#616161"/><stop offset=".953" stop-color="#5f5f5f"/><stop offset=".974" stop-color="#666666"/><stop offset=".993" stop-color="#6b6b6b"/><stop offset=".999" stop-color="#4f4f4f"/></linearGradient>
<linearGradient id="c179" x2="0" y2="1"><stop offset=".001" stop-color="#595959"/><stop offset=".003" stop-color="#5d5d5d"/><stop offset=".385" stop-color="#666666"/><stop offset=".665" stop-color="#6c6c6c"/><stop offset=".715" stop-color="#717171"/><stop offset=".771" stop-color="#7a7a7a"/><stop offset=".796" stop-color="#808080"/><stop offset=".845" stop-color="#868686"/><stop offset=".864" stop-color="#838383"/><stop offset=".874" stop-color="#787878"/><stop offset=".881" stop-color="#707070"/><stop offset=".887" stop-color="#6c6c6c"/><stop offset=".937" stop-color="#616161"/><stop offset=".953" stop-color="#5f5f5f"/><stop offset=".974" stop-color="#666666"/><stop offset=".993" stop-color="#6b6b6b"/><stop offset=".999" stop-color="#4f4f4f"/></linearGradient>
<linearGradient id="c180" x2="0" y2="1"><stop offset=".001" stop-color="#595959"/><stop offset=".003" stop-color="#5d5d5d"/><stop offset=".385" stop-color="#666666"/><stop offset=".671" stop-color="#6c6c6c"/><stop offset=".723" stop-color="#717171"/><stop offset=".771" stop-color="#797979"/><stop offset=".796" stop-color="#808080"/><stop offset=".845" stop-color="#878787"/><stop offset=".864" stop-color="#848484"/><stop offset=".874" stop-color="#797979"/><stop offset=".881" stop-color="#717171"/><stop offset=".887" stop-color="#6c6c6c"/><stop offset=".937" stop-color="#616161"/><stop offset=".953" stop-color="#5f5f5f"/><stop offset=".974" stop-color="#666666"/><stop offset=".993" stop-color="#6b6b6b"/><stop offset=".999" stop-color="#4f4f4f"/></linearGradient>
<linearGradient id="c181" x2="0" y2="1"><stop offset=".001" stop-color="#595959"/><stop offset=".003" stop-color="#5d5d5d"/><stop offset=".385" stop-color="#666666"/><stop offset=".675" stop-color="#6d6d6d"/><stop offset=".725" stop-color="#737373"/><stop offset=".765" stop-color="#7b7b7b"/><stop offset=".818" stop-color="#8a8a8a"/><stop offset=".845" stop-color="#8e8e8e"/><stop offset=".866" stop-color="#8a8a8a"/><stop offset=".877" stop-color="#7c7c7c"/><stop offset=".883" stop-color="#717171"/><stop offset=".887" stop-color="#6d6d6d"/><stop offset=".937" stop-color="#616161"/><stop offset=".953" stop-color="#5f5f5f"/><stop offset=".974" stop-color="#666666"/><stop offset=".993" stop-color="#6b6b6b"/><stop offset=".999" stop-color="#4f4f4f"/></linearGradient>
<linearGradient id="c182" x2="0" y2="1"><stop offset=".001" stop-color="#595959"/><stop offset=".003" stop-color="#5d5d5d"/><stop offset=".385" stop-color="#666666"/><stop offset=".684" stop-color="#6e6e6e"/><stop offset=".717" stop-color="#717171"/><stop offset=".75" stop-color="#777777"/><stop offset=".818" stop-color="#8b8b8b"/><stop offset=".845" stop-color="#8f8f8f"/><stop offset=".866" stop-color="#8a8a8a"/><stop offset=".877" stop-color="#7d7d7d"/><stop offset=".883" stop-color="#717171"/><stop offset=".887" stop-color="#6e6e6e"/><stop offset=".937" stop-color="#616161"/><stop offset=".953" stop-color="#5f5f5f"/><stop offset=".974" stop-color="#666666"/><stop offset=".993" stop-color="#6b6b6b"/><stop offset=".999" stop-color="#4f4f4f"/></linearGradient>
<linearGradient id="c183" x2="0" y2="1"><stop offset=".001" stop-color="#595959"/><stop offset=".003" stop-color="#5d5d5d"/><stop offset=".385" stop-color="#666666"/><stop offset=".696" stop-color="#6d6d6d"/><stop offset=".762" stop-color="#747474"/><stop offset=".798" stop-color="#7f7f7f"/><stop offset=".837" stop-color="#888888"/><stop offset=".864" stop-color="#858585"/><stop offset=".874" stop-color="#797979"/><stop offset=".881" stop-color="#717171"/><stop offset=".887" stop-color="#6c6c6c"/><stop offset=".937" stop-color="#616161"/><stop offset=".953" stop-color="#5f5f5f"/><stop offset=".974" stop-color="#666666"/><stop offset=".993" stop-color="#6b6b6b"/><stop offset=".999" stop-color="#4f4f4f"/></linearGradient>
<linearGradient id="c184" x2="0" y2="1"><stop offset=".001" stop-color="#595959"/><stop offset=".003" stop-color="#5d5d5d"/><stop offset=".385" stop-color="#666666"/><stop offset=".702" stop-color="#6d6d6d"/><stop offset=".76" stop-color="#747474"/><stop offset=".798" stop-color="#818181"/><stop offset=".837" stop-color="#8b8b8b"/><stop offset=".864" stop-color="#868686"/><stop offset=".874" stop-color="#7b7b7b"/><stop offset=".883" stop-color="#6f6f6f"/><stop offset=".887" stop-color="#6c6c6c"/><stop offset=".937" stop-color="#616161"/><stop offset=".953" stop-color="#5f5f5f"/><stop offset=".974" stop-color="#666666"/><stop offset=".993" stop-color="#6b6b6b"/><stop offset=".999" stop-color="#4f4f4f"/></linearGradient>
<linearGradient id="c185" x2="0" y2="1"><stop offset=".001" stop-color="#595959"/><stop offset=".003" stop-color="#5d5d5d"/><stop offset=".385" stop-color="#666666"/><stop offset=".7" stop-color="#6f6f6f"/><stop offset=".729" stop-color="#727272"/><stop offset=".75" stop-color="#767676"/><stop offset=".76" stop-color="#7a7a7a"/><stop offset=".779" stop-color="#858585"/><stop offset=".796" stop-color="#8c8c8c"/><stop offset=".823" stop-color="#949494"/><stop offset=".837" stop-color="#979797"/><stop offset=".854" stop-color="#949494"/><stop offset=".866" stop-color="#909090"/><stop offset=".877" stop-color="#818181"/><stop offset=".883" stop-color="#727272"/><stop offset=".887" stop-color="#6e6e6e"/><stop offset=".935" stop-color="#626262"/><stop offset=".953" stop-color="#5f5f5f"/><stop offset=".974" stop-color="#666666"/><stop offset=".993" stop-color="#6b6b6b"/><stop offset=".999" stop-color="#4f4f4f"/></linearGradient>
<linearGradient id="c186" x2="0" y2="1"><stop offset=".001" stop-color="#595959"/><stop offset=".003" stop-color="#5d5d5d"/><stop offset=".385" stop-color="#666666"/><stop offset=".713" stop-color="#6d6d6d"/><stop offset=".756" stop-color="#737373"/><stop offset=".779" stop-color="#7d7d7d"/><stop offset=".835" stop-color="#8f8f8f"/><stop offset=".866" stop-color="#868686"/><stop offset=".881" stop-color="#717171"/><stop offset=".887" stop-color="#6c6c6c"/><stop offset=".937" stop-color="#616161"/><stop offset=".953" stop-color="#5f5f5f"/><stop offset=".974" stop-color="#666666"/><stop offset=".993" stop-color="#6b6b6b"/><stop offset=".999" stop-color="#4f4f4f"/></linearGradient>
<linearGradient id="c187" x2="0" y2="1"><stop offset=".001" stop-color="#595959"/><stop offset=".003" stop-color="#5d5d5d"/><stop offset=".563" stop-color="#6a6a6a"/><stop offset=".688" stop-color="#6f6f6f"/><stop offset=".758" stop-color="#757575"/><stop offset=".779" stop-color="#7f7f7f"/><stop offset=".835" stop-color="#909090"/><stop offset=".866" stop-color="#868686"/><stop offset=".881" stop-color="#717171"/><stop offset=".887" stop-color="#6c6c6c"/><stop offset=".937" stop-color="#616161"/><stop offset=".953" stop-color="#5f5f5f"/><stop offset=".974" stop-color="#666666"/><stop offset=".993" stop-color="#6b6b6b"/><stop offset=".999" stop-color="#4f4f4f"/></linearGradient>
<linearGradient id="c188" x2="0" y2="1"><stop offset=".001" stop-color="#5a5a5a"/><stop offset=".003" stop-color="#5d5d5d"/><stop offset=".565" stop-color="#6c6c6c"/><stop offset=".738" stop-color="#7e7e7e"/><stop offset=".767" stop-color="#7f7f7f"/><stop offset=".835" stop-color="#929292"/><stop offset=".866" stop-color="#888888"/><stop offset=".881" stop-color="#727272"/><stop offset=".887" stop-color="#6c6c6c"/><stop offset=".937" stop-color="#616161"/><stop offset=".953" stop-color="#5f5f5f"/><stop offset=".974" stop-color="#666666"/><stop offset=".993" stop-color="#6b6b6b"/><stop offset=".999" stop-color="#505050"/></linearGradient>
<linearGradient id="c189" x2="0" y2="1"><stop offset=".001" stop-color="#616161"/><stop offset=".146" stop-color="#666666"/><stop offset=".364" stop-color="#717171"/><stop offset=".489" stop-color="#717171"/><stop offset=".563" stop-color="#757575"/><stop offset=".648" stop-color="#828282"/><stop offset=".738" stop-color="#8d8d8d"/><stop offset=".794" stop-color="#8d8d8d"/><stop offset=".835" stop-color="#939393"/><stop offset=".866" stop-color="#888888"/><stop offset=".883" stop-color="#707070"/><stop offset=".889" stop-color="#6c6c6c"/><stop offset=".937" stop-color="#616161"/><stop offset=".953" stop-color="#5f5f5f"/><stop offset=".974" stop-color="#666666"/><stop offset=".993" stop-color="#6b6b6b"/><stop offset=".999" stop-color="#505050"/></linearGradient>
<linearGradient id="c190" x2="0" y2="1"><stop offset=".001" stop-color="#6d6d6d"/><stop offset=".24" stop-color="#767676"/><stop offset=".364" stop-color="#7f7f7f"/><stop offset=".491" stop-color="#7e7e7e"/><stop offset=".565" stop-color="#828282"/><stop offset=".659" stop-color="#949494"/><stop offset=".738" stop-color="#9e9e9e"/><stop offset=".835" stop-color="#9c9c9c"/><stop offset=".856" stop-color="#949494"/><stop offset=".866" stop-color="#909090"/><stop offset=".887" stop-color="#737373"/><stop offset=".895" stop-color="#6d6d6d"/><stop offset=".935" stop-color="#626262"/><stop offset=".953" stop-color="#5f5f5f"/><stop offset=".974" stop-color="#666666"/><stop offset=".993" stop-color="#6b6b6b"/><stop offset=".999" stop-color="#505050"/></linearGradient>
<linearGradient id="c191" x2="0" y2="1"><stop offset=".001" stop-color="#6c6c6c"/><stop offset=".24" stop-color="#757575"/><stop offset=".364" stop-color="#7d7d7d"/><stop offset=".491" stop-color="#7c7c7c"/><stop offset=".565" stop-color="#818181"/><stop offset=".648" stop-color="#919191"/><stop offset=".675" stop-color="#949494"/><stop offset=".74" stop-color="#9c9c9c"/><stop offset=".835" stop-color="#9a9a9a"/><stop offset=".852" stop-color="#949494"/><stop offset=".866" stop-color="#8e8e8e"/><stop offset=".885" stop-color="#747474"/><stop offset=".895" stop-color="#6c6c6c"/><stop offset=".935" stop-color="#626262"/><stop offset=".953" stop-color="#5f5f5f"/><stop offset=".974" stop-color="#666666"/><stop offset=".993" stop-color="#6b6b6b"/><stop offset=".999" stop-color="#505050"/></linearGradient>
<linearGradient id="c192" x2="0" y2="1"><stop offset=".001" stop-color="#656565"/><stop offset=".24" stop-color="#6e6e6e"/><stop offset=".364" stop-color="#757575"/><stop offset=".491" stop-color="#747474"/><stop offset=".565" stop-color="#797979"/><stop offset=".65" stop-color="#888888"/><stop offset=".738" stop-color="#929292"/><stop offset=".8" stop-color="#919191"/><stop offset=".835" stop-color="#949494"/><stop offset=".866" stop-color="#898989"/><stop offset=".883" stop-color="#727272"/><stop offset=".891" stop-color="#6c6c6c"/><stop offset=".937" stop-color="#616161"/><stop offset=".953" stop-color="#5f5f5f"/><stop offset=".974" stop-color="#666666"/><stop offset=".993" stop-color="#6b6b6b"/><stop offset=".999" stop-color="#505050"/></linearGradient>
<linearGradient id="c193" x2="0" y2="1"><stop offset=".001" stop-color="#5c5c5c"/><stop offset=".003" stop-color="#5e5e5e"/><stop offset=".252" stop-color="#666666"/><stop offset=".366" stop-color="#6c6c6c"/><stop offset=".491" stop-color="#6c6c6c"/><stop offset=".563" stop-color="#707070"/><stop offset=".65" stop-color="#7d7d7d"/><stop offset=".738" stop-color="#878787"/><stop offset=".773" stop-color="#878787"/><stop offset=".835" stop-color="#969696"/><stop offset=".843" stop-color="#949494"/><stop offset=".866" stop-color="#8b8b8b"/><stop offset=".883" stop-color="#717171"/><stop offset=".887" stop-color="#6d6d6d"/><stop offset=".937" stop-color="#616161"/><stop offset=".953" stop-color="#5f5f5f"/><stop offset=".974" stop-color="#666666"/><stop offset=".993" stop-color="#6b6b6b"/><stop offset=".999" stop-color="#505050"/></linearGradient>
<linearGradient id="c194" x2="0" y2="1"><stop offset=".001" stop-color="#595959"/><stop offset=".003" stop-color="#5d5d5d"/><stop offset=".366" stop-color="#666666"/><stop offset=".601" stop-color="#6c6c6c"/><stop offset=".758" stop-color="#7b7b7b"/><stop offset=".835" stop-color="#959595"/><stop offset=".866" stop-color="#8b8b8b"/><stop offset=".883" stop-color="#707070"/><stop offset=".887" stop-color="#6d6d6d"/><stop offset=".937" stop-color="#616161"/><stop offset=".953" stop-color="#5f5f5f"/><stop offset=".974" stop-color="#666666"/><stop offset=".993" stop-color="#6b6b6b"/><stop offset=".999" stop-color="#4f4f4f"/></linearGradient>
<linearGradient id="c195" x2="0" y2="1"><stop offset=".001" stop-color="#595959"/><stop offset=".003" stop-color="#5d5d5d"/><stop offset=".424" stop-color="#676767"/><stop offset=".698" stop-color="#6f6f6f"/><stop offset=".75" stop-color="#757575"/><stop offset=".76" stop-color="#797979"/><stop offset=".779" stop-color="#858585"/><stop offset=".796" stop-color="#8c8c8c"/><stop offset=".821" stop-color="#949494"/><stop offset=".837" stop-color="#989898"/><stop offset=".852" stop-color="#949494"/><stop offset=".866" stop-color="#8f8f8f"/><stop offset=".877" stop-color="#808080"/><stop offset=".883" stop-color="#727272"/><stop offset=".887" stop-color="#6e6e6e"/><stop offset=".935" stop-color="#616161"/><stop offset=".953" stop-color="#5f5f5f"/><stop offset=".974" stop-color="#666666"/><stop offset=".993" stop-color="#6b6b6b"/><stop offset=".999" stop-color="#4f4f4f"/></linearGradient>
<linearGradient id="c196" x2="0" y2="1"><stop offset=".001" stop-color="#595959"/><stop offset=".003" stop-color="#5d5d5d"/><stop offset=".41" stop-color="#666666"/><stop offset=".713" stop-color="#6d6d6d"/><stop offset=".738" stop-color="#6f6f6f"/><stop offset=".756" stop-color="#737373"/><stop offset=".767" stop-color="#777777"/><stop offset=".779" stop-color="#7e7e7e"/><stop offset=".798" stop-color="#858585"/><stop offset=".837" stop-color="#909090"/><stop offset=".866" stop-color="#888888"/><stop offset=".877" stop-color="#7a7a7a"/><stop offset=".883" stop-color="#707070"/><stop offset=".887" stop-color="#6c6c6c"/><stop offset=".937" stop-color="#616161"/><stop offset=".953" stop-color="#5f5f5f"/><stop offset=".974" stop-color="#666666"/><stop offset=".993" stop-color="#6b6b6b"/><stop offset=".999" stop-color="#4f4f4f"/></linearGradient>
<linearGradient id="c197" x2="0" y2="1"><stop offset=".001" stop-color="#595959"/><stop offset=".003" stop-color="#5d5d5d"/><stop offset=".416" stop-color="#666666"/><stop offset=".715" stop-color="#6c6c6c"/><stop offset=".76" stop-color="#717171"/><stop offset=".798" stop-color="#7f7f7f"/><stop offset=".837" stop-color="#898989"/><stop offset=".864" stop-color="#858585"/><stop offset=".868" stop-color="#818181"/><stop offset=".883" stop-color="#6e6e6e"/><stop offset=".887" stop-color="#6b6b6b"/><stop offset=".937" stop-color="#616161"/><stop offset=".953" stop-color="#5f5f5f"/><stop offset=".974" stop-color="#666666"/><stop offset=".993" stop-color="#6b6b6b"/><stop offset=".999" stop-color="#4f4f4f"/></linearGradient>
<linearGradient id="c198" x2="0" y2="1"><stop offset=".001" stop-color="#595959"/><stop offset=".003" stop-color="#5d5d5d"/><stop offset=".422" stop-color="#666666"/><stop offset=".713" stop-color="#6c6c6c"/><stop offset=".765" stop-color="#727272"/><stop offset=".798" stop-color="#7e7e7e"/><stop offset=".837" stop-color="#878787"/><stop offset=".864" stop-color="#848484"/><stop offset=".874" stop-color="#797979"/><stop offset=".883" stop-color="#6e6e6e"/><stop offset=".887" stop-color="#6b6b6b"/><stop offset=".937" stop-color="#616161"/><stop offset=".953" stop-color="#5f5f5f"/><stop offset=".974" stop-color="#666666"/><stop offset=".993" stop-color="#6b6b6b"/><stop offset=".999" stop-color="#4f4f4f"/></linearGradient>
<linearGradient id="c199" x2="0" y2="1"><stop offset=".001" stop-color="#595959"/><stop offset=".003" stop-color="#5d5d5d"/><stop offset=".43" stop-color="#666666"/><stop offset=".706" stop-color="#6c6c6c"/><stop offset=".76" stop-color="#737373"/><stop offset=".771" stop-color="#767676"/><stop offset=".798" stop-color="#828282"/><stop offset=".821" stop-color="#898989"/><stop offset=".845" stop-color="#8c8c8c"/><stop offset=".866" stop-color="#888888"/><stop offset=".874" stop-color="#7d7d7d"/><stop offset=".883" stop-color="#6f6f6f"/><stop offset=".887" stop-color="#6c6c6c"/><stop offset=".935" stop-color="#616161"/><stop offset=".953" stop-color="#5f5f5f"/><stop offset=".974" stop-color="#666666"/><stop offset=".993" stop-color="#6b6b6b"/><stop offset=".999" stop-color="#4f4f4f"/></linearGradient>
<linearGradient id="c200" x2="0" y2="1"><stop offset=".001" stop-color="#595959"/><stop offset=".003" stop-color="#5d5d5d"/><stop offset=".437" stop-color="#666666"/><stop offset=".711" stop-color="#6b6b6b"/><stop offset=".767" stop-color="#717171"/><stop offset=".798" stop-color="#7d7d7d"/><stop offset=".821" stop-color="#838383"/><stop offset=".845" stop-color="#868686"/><stop offset=".866" stop-color="#828282"/><stop offset=".881" stop-color="#707070"/><stop offset=".887" stop-color="#6b6b6b"/><stop offset=".937" stop-color="#616161"/><stop offset=".953" stop-color="#5f5f5f"/><stop offset=".974" stop-color="#666666"/><stop offset=".993" stop-color="#6b6b6b"/><stop offset=".999" stop-color="#4f4f4f"/></linearGradient>
<linearGradient id="c201" x2="0" y2="1"><stop offset=".001" stop-color="#595959"/><stop offset=".003" stop-color="#5d5d5d"/><stop offset=".717" stop-color="#6b6b6b"/><stop offset=".771" stop-color="#6f6f6f"/><stop offset=".818" stop-color="#7e7e7e"/><stop offset=".845" stop-color="#818181"/><stop offset=".864" stop-color="#7f7f7f"/><stop offset=".881" stop-color="#6e6e6e"/><stop offset=".887" stop-color="#6a6a6a"/><stop offset=".953" stop-color="#5f5f5f"/><stop offset=".974" stop-color="#666666"/><stop offset=".993" stop-color="#6b6b6b"/><stop offset=".999" stop-color="#4f4f4f"/></linearGradient>
<linearGradient id="c202" x2="0" y2="1"><stop offset=".001" stop-color="#595959"/><stop offset=".003" stop-color="#5d5d5d"/><stop offset=".451" stop-color="#666666"/><stop offset=".711" stop-color="#6b6b6b"/><stop offset=".771" stop-color="#717171"/><stop offset=".798" stop-color="#7b7b7b"/><stop offset=".818" stop-color="#808080"/><stop offset=".845" stop-color="#848484"/><stop offset=".864" stop-color="#828282"/><stop offset=".881" stop-color="#6f6f6f"/><stop offset=".887" stop-color="#6b6b6b"/><stop offset=".937" stop-color="#616161"/><stop offset=".953" stop-color="#5f5f5f"/><stop offset=".974" stop-color="#666666"/><stop offset=".993" stop-color="#6b6b6b"/><stop offset=".999" stop-color="#4f4f4f"/></linearGradient>
<linearGradient id="c203" x2="0" y2="1"><stop offset=".001" stop-color="#595959"/><stop offset=".003" stop-color="#5d5d5d"/><stop offset=".457" stop-color="#666666"/><stop offset=".709" stop-color="#6b6b6b"/><stop offset=".771" stop-color="#727272"/><stop offset=".798" stop-color="#7d7d7d"/><stop offset=".821" stop-color="#838383"/><stop offset=".845" stop-color="#868686"/><stop offset=".864" stop-color="#848484"/><stop offset=".874" stop-color="#797979"/><stop offset=".883" stop-color="#6d6d6d"/><stop offset=".887" stop-color="#6b6b6b"/><stop offset=".937" stop-color="#616161"/><stop offset=".953" stop-color="#5f5f5f"/><stop offset=".974" stop-color="#666666"/><stop offset=".993" stop-color="#6b6b6b"/><stop offset=".999" stop-color="#4f4f4f"/></linearGradient>
<linearGradient id="c204" x2="0" y2="1"><stop offset=".001" stop-color="#595959"/><stop offset=".003" stop-color="#5d5d5d"/><stop offset=".464" stop-color="#666666"/><stop offset=".702" stop-color="#6c6c6c"/><stop offset=".733" stop-color="#6f6f6f"/><stop offset=".762" stop-color="#747474"/><stop offset=".773" stop-color="#777777"/><stop offset=".798" stop-color="#838383"/><stop offset=".821" stop-color="#8a8a8a"/><stop offset=".845" stop-color="#8d8d8d"/><stop offset=".866" stop-color="#898989"/><stop offset=".877" stop-color="#7c7c7c"/><stop offset=".883" stop-color="#6f6f6f"/><stop offset=".887" stop-color="#6c6c6c"/><stop offset=".914" stop-color="#666666"/><stop offset=".953" stop-color="#5f5f5f"/><stop offset=".974" stop-color="#666666"/><stop offset=".993" stop-color="#6b6b6b"/><stop offset=".999" stop-color="#4f4f4f"/></linearGradient>
<linearGradient id="c205" x2="0" y2="1"><stop offset=".001" stop-color="#595959"/><stop offset=".003" stop-color="#5d5d5d"/><stop offset=".466" stop-color="#666666"/><stop offset=".709" stop-color="#6b6b6b"/><stop offset=".771" stop-color="#727272"/><stop offset=".818" stop-color="#818181"/><stop offset=".845" stop-color="#848484"/><stop offset=".864" stop-color="#828282"/><stop offset=".881" stop-color="#6f6f6f"/><stop offset=".887" stop-color="#6a6a6a"/><stop offset=".937" stop-color="#616161"/><stop offset=".953" stop-color="#5f5f5f"/><stop offset=".974" stop-color="#666666"/><stop offset=".993" stop-color="#6b6b6b"/><stop offset=".999" stop-color="#4f4f4f"/></linearGradient>
<linearGradient id="c206" x2="0" y2="1"><stop offset=".001" stop-color="#5a5a5a"/><stop offset=".003" stop-color="#5d5d5d"/><stop offset=".462" stop-color="#666666"/><stop offset=".702" stop-color="#6c6c6c"/><stop offset=".75" stop-color="#727272"/><stop offset=".773" stop-color="#777777"/><stop offset=".818" stop-color="#868686"/><stop offset=".845" stop-color="#8a8a8a"/><stop offset=".864" stop-color="#878787"/><stop offset=".874" stop-color="#7b7b7b"/><stop offset=".883" stop-color="#6e6e6e"/><stop offset=".887" stop-color="#6b6b6b"/><stop offset=".914" stop-color="#666666"/><stop offset=".953" stop-color="#5f5f5f"/><stop offset=".974" stop-color="#666666"/><stop offset=".993" stop-color="#6b6b6b"/><stop offset=".999" stop-color="#4f4f4f"/></linearGradient>
<linearGradient id="c207" x2="0" y2="1"><stop offset=".001" stop-color="#5b5b5b"/><stop offset=".003" stop-color="#5e5e5e"/><stop offset=".528" stop-color="#686868"/><stop offset=".694" stop-color="#6d6d6d"/><stop offset=".713" stop-color="#6f6f6f"/><stop offset=".731" stop-color="#727272"/><stop offset=".818" stop-color="#8c8c8c"/><stop offset=".837" stop-color="#909090"/><stop offset=".864" stop-color="#8b8b8b"/><stop offset=".874" stop-color="#7f7f7f"/><stop offset=".883" stop-color="#6f6f6f"/><stop offset=".887" stop-color="#6b6b6b"/><stop offset=".912" stop-color="#666666"/><stop offset=".953" stop-color="#5f5f5f"/><stop offset=".974" stop-color="#666666"/><stop offset=".993" stop-color="#6b6b6b"/><stop offset=".999" stop-color="#4f4f4f"/></linearGradient>
<linearGradient id="c208" x2="0" y2="1"><stop offset=".001" stop-color="#5d5d5d"/><stop offset=".545" stop-color="#696969"/><stop offset=".7" stop-color="#6f6f6f"/><stop offset=".733" stop-color="#747474"/><stop offset=".835" stop-color="#8d8d8d"/><stop offset=".864" stop-color="#868686"/><stop offset=".874" stop-color="#7b7b7b"/><stop offset=".883" stop-color="#6e6e6e"/><stop offset=".887" stop-color="#6b6b6b"/><stop offset=".912" stop-color="#666666"/><stop offset=".953" stop-color="#5f5f5f"/><stop offset=".974" stop-color="#666666"/><stop offset=".993" stop-color="#6b6b6b"/><stop offset=".999" stop-color="#4f4f4f"/></linearGradient>
<linearGradient id="c209" x2="0" y2="1"><stop offset=".001" stop-color="#606060"/><stop offset=".545" stop-color="#6a6a6a"/><stop offset=".709" stop-color="#717171"/><stop offset=".74" stop-color="#777777"/><stop offset=".835" stop-color="#8f8f8f"/><stop offset=".864" stop-color="#858585"/><stop offset=".874" stop-color="#7a7a7a"/><stop offset=".883" stop-color="#6e6e6e"/><stop offset=".887" stop-color="#6b6b6b"/><stop offset=".912" stop-color="#666666"/><stop offset=".953" stop-color="#5f5f5f"/><stop offset=".974" stop-color="#666666"/><stop offset=".993" stop-color="#6b6b6b"/><stop offset=".999" stop-color="#4f4f4f"/></linearGradient>
<linearGradient id="c210" x2="0" y2="1"><stop offset=".001" stop-color="#626262"/><stop offset=".206" stop-color="#666666"/><stop offset=".545" stop-color="#6d6d6d"/><stop offset=".64" stop-color="#727272"/><stop offset=".713" stop-color="#777777"/><stop offset=".818" stop-color="#939393"/><stop offset=".835" stop-color="#979797"/><stop offset=".848" stop-color="#939393"/><stop offset=".864" stop-color="#8c8c8c"/><stop offset=".874" stop-color="#808080"/><stop offset=".885" stop-color="#6e6e6e"/><stop offset=".891" stop-color="#6a6a6a"/><stop offset=".912" stop-color="#666666"/><stop offset=".953" stop-color="#5f5f5f"/><stop offset=".974" stop-color="#666666"/><stop offset=".993" stop-color="#6b6b6b"/><stop offset=".999" stop-color="#4f4f4f"/></linearGradient>
<linearGradient id="c211" x2="0" y2="1"><stop offset=".001" stop-color="#626262"/><stop offset=".202" stop-color="#666666"/><stop offset=".545" stop-color="#6e6e6e"/><stop offset=".588" stop-color="#707070"/><stop offset=".711" stop-color="#787878"/><stop offset=".812" stop-color="#949494"/><stop offset=".835" stop-color="#999999"/><stop offset=".852" stop-color="#949494"/><stop offset=".864" stop-color="#8f8f8f"/><stop offset=".877" stop-color="#7e7e7e"/><stop offset=".885" stop-color="#6e6e6e"/><stop offset=".891" stop-color="#6a6a6a"/><stop offset=".91" stop-color="#666666"/><stop offset=".953" stop-color="#5f5f5f"/><stop offset=".974" stop-color="#666666"/><stop offset=".993" stop-color="#6b6b6b"/><stop offset=".999" stop-color="#4f4f4f"/></linearGradient>
<linearGradient id="c212" x2="0" y2="1"><stop offset=".001" stop-color="#626262"/><stop offset=".545" stop-color="#6c6c6c"/><stop offset=".684" stop-color="#747474"/><stop offset=".713" stop-color="#757575"/><stop offset=".835" stop-color="#959595"/><stop offset=".86" stop-color="#8d8d8d"/><stop offset=".864" stop-color="#8a8a8a"/><stop offset=".874" stop-color="#7d7d7d"/><stop offset=".885" stop-color="#6d6d6d"/><stop offset=".889" stop-color="#6a6a6a"/><stop offset=".91" stop-color="#666666"/><stop offset=".953" stop-color="#5f5f5f"/><stop offset=".974" stop-color="#666666"/><stop offset=".993" stop-color="#6b6b6b"/><stop offset=".999" stop-color="#4f4f4f"/></linearGradient>
<linearGradient id="c213" x2="0" y2="1"><stop offset=".001" stop-color="#626262"/><stop offset=".545" stop-color="#6c6c6c"/><stop offset=".694" stop-color="#747474"/><stop offset=".713" stop-color="#757575"/><stop offset=".835" stop-color="#949494"/><stop offset=".86" stop-color="#8c8c8c"/><stop offset=".864" stop-color="#898989"/><stop offset=".874" stop-color="#7d7d7d"/><stop offset=".885" stop-color="#6d6d6d"/><stop offset=".889" stop-color="#6a6a6a"/><stop offset=".91" stop-color="#666666"/><stop offset=".953" stop-color="#5f5f5f"/><stop offset=".974" stop-color="#666666"/><stop offset=".993" stop-color="#6b6b6b"/><stop offset=".999" stop-color="#4f4f4f"/></linearGradient>
<linearGradient id="c214" x2="0" y2="1"><stop offset=".001" stop-color="#626262"/><stop offset=".202" stop-color="#666666"/><stop offset=".545" stop-color="#6e6e6e"/><stop offset=".594" stop-color="#707070"/><stop offset=".711" stop-color="#787878"/><stop offset=".812" stop-color="#939393"/><stop offset=".835" stop-color="#999999"/><stop offset=".852" stop-color="#949494"/><stop offset=".864" stop-color="#8e8e8e"/><stop offset=".877" stop-color="#7e7e7e"/><stop offset=".885" stop-color="#6e6e6e"/><stop offset=".891" stop-color="#6a6a6a"/><stop offset=".91" stop-color="#666666"/><stop offset=".953" stop-color="#5f5f5f"/><stop offset=".974" stop-color="#666666"/><stop offset=".993" stop-color="#6b6b6b"/><stop offset=".999" stop-color="#4f4f4f"/></linearGradient>
<linearGradient id="c215" x2="0" y2="1"><stop offset=".001" stop-color="#636363"/><stop offset=".146" stop-color="#666666"/><stop offset=".538" stop-color="#6f6f6f"/><stop offset=".698" stop-color="#777777"/><stop offset=".713" stop-color="#787878"/><stop offset=".821" stop-color="#939393"/><stop offset=".835" stop-color="#969696"/><stop offset=".848" stop-color="#939393"/><stop offset=".864" stop-color="#8b8b8b"/><stop offset=".874" stop-color="#7f7f7f"/><stop offset=".885" stop-color="#6d6d6d"/><stop offset=".891" stop-color="#696969"/><stop offset=".908" stop-color="#666666"/><stop offset=".953" stop-color="#5f5f5f"/><stop offset=".974" stop-color="#666666"/><stop offset=".993" stop-color="#6b6b6b"/><stop offset=".999" stop-color="#4f4f4f"/></linearGradient>
<linearGradient id="c216" x2="0" y2="1"><stop offset=".001" stop-color="#686868"/><stop offset=".339" stop-color="#6f6f6f"/><stop offset=".711" stop-color="#7b7b7b"/><stop offset=".773" stop-color="#858585"/><stop offset=".835" stop-color="#949494"/><stop offset=".86" stop-color="#8c8c8c"/><stop offset=".864" stop-color="#898989"/><stop offset=".874" stop-color="#7d7d7d"/><stop offset=".885" stop-color="#6d6d6d"/><stop offset=".889" stop-color="#6a6a6a"/><stop offset=".908" stop-color="#666666"/><stop offset=".953" stop-color="#5f5f5f"/><stop offset=".974" stop-color="#666666"/><stop offset=".993" stop-color="#6b6b6b"/><stop offset=".999" stop-color="#505050"/></linearGradient>
<linearGradient id="c217" x2="0" y2="1"><stop offset=".001" stop-color="#656565"/><stop offset=".339" stop-color="#6c6c6c"/><stop offset=".711" stop-color="#777777"/><stop offset=".773" stop-color="#818181"/><stop offset=".835" stop-color="#909090"/><stop offset=".862" stop-color="#878787"/><stop offset=".872" stop-color="#7c7c7c"/><stop offset=".883" stop-color="#6e6e6e"/><stop offset=".889" stop-color="#6a6a6a"/><stop offset=".908" stop-color="#666666"/><stop offset=".953" stop-color="#5f5f5f"/><stop offset=".974" stop-color="#666666"/><stop offset=".993" stop-color="#6b6b6b"/><stop offset=".999" stop-color="#505050"/></linearGradient>
<linearGradient id="c218" x2="0" y2="1"><stop offset=".001" stop-color="#606060"/><stop offset=".545" stop-color="#6b6b6b"/><stop offset=".709" stop-color="#727272"/><stop offset=".738" stop-color="#787878"/><stop offset=".835" stop-color="#909090"/><stop offset=".864" stop-color="#868686"/><stop offset=".874" stop-color="#7b7b7b"/><stop offset=".883" stop-color="#6e6e6e"/><stop offset=".889" stop-color="#696969"/><stop offset=".908" stop-color="#666666"/><stop offset=".953" stop-color="#5f5f5f"/><stop offset=".974" stop-color="#666666"/><stop offset=".993" stop-color="#6b6b6b"/><stop offset=".999" stop-color="#4f4f4f"/></linearGradient>
<linearGradient id="c219" x2="0" y2="1"><stop offset=".001" stop-color="#5d5d5d"/><stop offset=".545" stop-color="#686868"/><stop offset=".702" stop-color="#6d6d6d"/><stop offset=".752" stop-color="#757575"/><stop offset=".835" stop-color="#898989"/><stop offset=".864" stop-color="#838383"/><stop offset=".874" stop-color="#787878"/><stop offset=".883" stop-color="#6d6d6d"/><stop offset=".887" stop-color="#6a6a6a"/><stop offset=".906" stop-color="#666666"/><stop offset=".953" stop-color="#5f5f5f"/><stop offset=".974" stop-color="#666666"/><stop offset=".993" stop-color="#6b6b6b"/><stop offset=".999" stop-color="#4f4f4f"/></linearGradient>
<linearGradient id="c220" x2="0" y2="1"><stop offset=".001" stop-color="#5b5b5b"/><stop offset=".003" stop-color="#5e5e5e"/><stop offset=".518" stop-color="#666666"/><stop offset=".688" stop-color="#6b6b6b"/><stop offset=".711" stop-color="#6d6d6d"/><stop offset=".727" stop-color="#707070"/><stop offset=".818" stop-color="#8b8b8b"/><stop offset=".837" stop-color="#8e8e8e"/><stop offset=".864" stop-color="#8a8a8a"/><stop offset=".874" stop-color="#7e7e7e"/><stop offset=".885" stop-color="#6b6b6b"/><stop offset=".889" stop-color="#696969"/><stop offset=".906" stop-color="#666666"/><stop offset=".953" stop-color="#5f5f5f"/><stop offset=".974" stop-color="#666666"/><stop offset=".993" stop-color="#6b6b6b"/><stop offset=".999" stop-color="#4f4f4f"/></linearGradient>
<linearGradient id="c221" x2="0" y2="1"><stop offset=".001" stop-color="#5a5a5a"/><stop offset=".003" stop-color="#5d5d5d"/><stop offset=".557" stop-color="#666666"/><stop offset=".698" stop-color="#6a6a6a"/><stop offset=".723" stop-color="#6c6c6c"/><stop offset=".758" stop-color="#717171"/><stop offset=".773" stop-color="#747474"/><stop offset=".818" stop-color="#828282"/><stop offset=".845" stop-color="#868686"/><stop offset=".866" stop-color="#818181"/><stop offset=".883" stop-color="#6c6c6c"/><stop offset=".887" stop-color="#696969"/><stop offset=".906" stop-color="#666666"/><stop offset=".953" stop-color="#5f5f5f"/><stop offset=".974" stop-color="#666666"/><stop offset=".993" stop-color="#6b6b6b"/><stop offset=".999" stop-color="#4f4f4f"/></linearGradient>
<linearGradient id="c222" x2="0" y2="1"><stop offset=".001" stop-color="#595959"/><stop offset=".003" stop-color="#5d5d5d"/><stop offset=".578" stop-color="#666666"/><stop offset=".698" stop-color="#696969"/><stop offset=".723" stop-color="#6b6b6b"/><stop offset=".752" stop-color="#717171"/><stop offset=".771" stop-color="#767676"/><stop offset=".796" stop-color="#818181"/><stop offset=".818" stop-color="#888888"/><stop offset=".845" stop-color="#8c8c8c"/><stop offset=".866" stop-color="#878787"/><stop offset=".874" stop-color="#7d7d7d"/><stop offset=".883" stop-color="#6e6e6e"/><stop offset=".887" stop-color="#696969"/><stop offset=".906" stop-color="#666666"/><stop offset=".953" stop-color="#5f5f5f"/><stop offset=".974" stop-color="#666666"/><stop offset=".993" stop-color="#6b6b6b"/><stop offset=".999" stop-color="#4f4f4f"/></linearGradient>
<linearGradient id="c223" x2="0" y2="1"><stop offset=".001" stop-color="#595959"/><stop offset=".003" stop-color="#5d5d5d"/><stop offset=".592" stop-color="#666666"/><stop offset=".702" stop-color="#696969"/><stop offset=".729" stop-color="#6c6c6c"/><stop offset=".76" stop-color="#727272"/><stop offset=".773" stop-color="#757575"/><stop offset=".798" stop-color="#818181"/><stop offset=".821" stop-color="#878787"/><stop offset=".845" stop-color="#8b8b8b"/><stop offset=".866" stop-color="#878787"/><stop offset=".874" stop-color="#7d7d7d"/><stop offset=".883" stop-color="#6e6e6e"/><stop offset=".887" stop-color="#696969"/><stop offset=".904" stop-color="#666666"/><stop offset=".953" stop-color="#5f5f5f"/><stop offset=".974" stop-color="#666666"/><stop offset=".993" stop-color="#6b6b6b"/><stop offset=".999" stop-color="#4f4f4f"/></linearGradient>
<linearGradient id="c224" x2="0" y2="1"><stop offset=".001" stop-color="#595959"/><stop offset=".003" stop-color="#5d5d5d"/><stop offset=".698" stop-color="#686868"/><stop offset=".731" stop-color="#6b6b6b"/><stop offset=".767" stop-color="#717171"/><stop offset=".798" stop-color="#7e7e7e"/><stop offset=".821" stop-color="#848484"/><stop offset=".848" stop-color="#888888"/><stop offset=".866" stop-color="#848484"/><stop offset=".874" stop-color="#7a7a7a"/><stop offset=".883" stop-color="#6d6d6d"/><stop offset=".887" stop-color="#696969"/><stop offset=".904" stop-color="#666666"/><stop offset=".953" stop-color="#5f5f5f"/><stop offset=".974" stop-color="#666666"/><stop offset=".993" stop-color="#6b6b6b"/><stop offset=".999" stop-color="#4f4f4f"/></linearGradient>
<linearGradient id="c225" x2="0" y2="1"><stop offset=".001" stop-color="#595959"/><stop offset=".003" stop-color="#5d5d5d"/><stop offset=".615" stop-color="#666666"/><stop offset=".702" stop-color="#686868"/><stop offset=".731" stop-color="#6b6b6b"/><stop offset=".762" stop-color="#727272"/><stop offset=".773" stop-color="#757575"/><stop offset=".798" stop-color="#828282"/><stop offset=".821" stop-color="#898989"/><stop offset=".848" stop-color="#8c8c8c"/><stop offset=".866" stop-color="#888888"/><stop offset=".874" stop-color="#7e7e7e"/><stop offset=".883" stop-color="#6e6e6e"/><stop offset=".887" stop-color="#696969"/><stop offset=".904" stop-color="#666666"/><stop offset=".953" stop-color="#5f5f5f"/><stop offset=".974" stop-color="#666666"/><stop offset=".993" stop-color="#6b6b6b"/><stop offset=".999" stop-color="#4f4f4f"/></linearGradient>
<linearGradient id="c226" x2="0" y2="1"><stop offset=".001" stop-color="#595959"/><stop offset=".003" stop-color="#5d5d5d"/><stop offset=".692" stop-color="#686868"/><stop offset=".771" stop-color="#6f6f6f"/><stop offset=".818" stop-color="#7e7e7e"/><stop offset=".848" stop-color="#828282"/><stop offset=".864" stop-color="#808080"/><stop offset=".885" stop-color="#6a6a6a"/><stop offset=".901" stop-color="#666666"/><stop offset=".953" stop-color="#5f5f5f"/><stop offset=".974" stop-color="#666666"/><stop offset=".993" stop-color="#6b6b6b"/><stop offset=".999" stop-color="#4f4f4f"/></linearGradient>
<linearGradient id="c227" x2="0" y2="1"><stop offset=".001" stop-color="#595959"/><stop offset=".003" stop-color="#5d5d5d"/><stop offset=".696" stop-color="#686868"/><stop offset=".731" stop-color="#6b6b6b"/><stop offset=".769" stop-color="#717171"/><stop offset=".798" stop-color="#7d7d7d"/><stop offset=".821" stop-color="#838383"/><stop offset=".848" stop-color="#878787"/><stop offset=".866" stop-color="#838383"/><stop offset=".874" stop-color="#797979"/><stop offset=".883" stop-color="#6c6c6c"/><stop offset=".887" stop-color="#696969"/><stop offset=".901" stop-color="#666666"/><stop offset=".953" stop-color="#5f5f5f"/><stop offset=".974" stop-color="#666666"/><stop offset=".993" stop-color="#6b6b6b"/><stop offset=".999" stop-color="#4f4f4f"/></linearGradient>
<linearGradient id="c228" x2="0" y2="1"><stop offset=".001" stop-color="#595959"/><stop offset=".003" stop-color="#5d5d5d"/><stop offset=".698" stop-color="#686868"/><stop offset=".729" stop-color="#6a6a6a"/><stop offset=".765" stop-color="#717171"/><stop offset=".773" stop-color="#737373"/><stop offset=".798" stop-color="#7f7f7f"/><stop offset=".821" stop-color="#858585"/><stop offset=".848" stop-color="#898989"/><stop offset=".866" stop-color="#858585"/><stop offset=".874" stop-color="#7b7b7b"/><stop offset=".883" stop-color="#6d6d6d"/><stop offset=".887" stop-color="#696969"/><stop offset=".901" stop-color="#666666"/><stop offset=".953" stop-color="#5f5f5f"/><stop offset=".974" stop-color="#666666"/><stop offset=".993" stop-color="#6b6b6b"/><stop offset=".999" stop-color="#4f4f4f"/></linearGradient>
<linearGradient id="c229" x2="0" y2="1"><stop offset=".001" stop-color="#595959"/><stop offset=".003" stop-color="#5d5d5d"/><stop offset=".69" stop-color="#676767"/><stop offset=".771" stop-color="#6f6f6f"/><stop offset=".818" stop-color="#7d7d7d"/><stop offset=".848" stop-color="#818181"/><stop offset=".864" stop-color="#7f7f7f"/><stop offset=".885" stop-color="#6a6a6a"/><stop offset=".901" stop-color="#666666"/><stop offset=".953" stop-color="#5f5f5f"/><stop offset=".974" stop-color="#666666"/><stop offset=".993" stop-color="#6b6b6b"/><stop offset=".999" stop-color="#4f4f4f"/></linearGradient>
<linearGradient id="c230" x2="0" y2="1"><stop offset=".001" stop-color="#595959"/><stop offset=".003" stop-color="#5d5d5d"/><stop offset=".692" stop-color="#676767"/><stop offset=".731" stop-color="#6a6a6a"/><stop offset=".771" stop-color="#707070"/><stop offset=".798" stop-color="#7b7b7b"/><stop offset=".821" stop-color="#818181"/><stop offset=".848" stop-color="#858585"/><stop offset=".866" stop-color="#818181"/><stop offset=".883" stop-color="#6c6c6c"/><stop offset=".887" stop-color="#696969"/><stop offset=".901" stop-color="#666666"/><stop offset=".953" stop-color="#5f5f5f"/><stop offset=".974" stop-color="#666666"/><stop offset=".993" stop-color="#6b6b6b"/><stop offset=".999" stop-color="#4f4f4f"/></linearGradient>
<linearGradient id="c231" x2="0" y2="1"><stop offset=".001" stop-color="#595959"/><stop offset=".003" stop-color="#5d5d5d"/><stop offset=".696" stop-color="#676767"/><stop offset=".727" stop-color="#6a6a6a"/><stop offset=".762" stop-color="#717171"/><stop offset=".773" stop-color="#737373"/><stop offset=".798" stop-color="#808080"/><stop offset=".821" stop-color="#868686"/><stop offset=".848" stop-color="#8a8a8a"/><stop offset=".866" stop-color="#868686"/><stop offset=".874" stop-color="#7c7c7c"/><stop offset=".883" stop-color="#6d6d6d"/><stop offset=".887" stop-color="#696969"/><stop offset=".901" stop-color="#666666"/><stop offset=".953" stop-color="#5f5f5f"/><stop offset=".974" stop-color="#666666"/><stop offset=".993" stop-color="#6b6b6b"/><stop offset=".999" stop-color="#4f4f4f"/></linearGradient>
<linearGradient id="c232" x2="0" y2="1"><stop offset=".001" stop-color="#595959"/><stop offset=".003" stop-color="#5d5d5d"/><stop offset=".694" stop-color="#676767"/><stop offset=".731" stop-color="#6a6a6a"/><stop offset=".769" stop-color="#717171"/><stop offset=".798" stop-color="#7d7d7d"/><stop offset=".821" stop-color="#838383"/><stop offset=".848" stop-color="#868686"/><stop offset=".866" stop-color="#828282"/><stop offset=".874" stop-color="#797979"/><stop offset=".883" stop-color="#6c6c6c"/><stop offset=".887" stop-color="#696969"/><stop offset=".901" stop-color="#666666"/><stop offset=".953" stop-color="#5f5f5f"/><stop offset=".974" stop-color="#666666"/><stop offset=".993" stop-color="#6b6b6b"/><stop offset=".999" stop-color="#4f4f4f"/></linearGradient>
<linearGradient id="c233" x2="0" y2="1"><stop offset=".001" stop-color="#595959"/><stop offset=".003" stop-color="#5d5d5d"/><stop offset=".69" stop-color="#676767"/><stop offset=".771" stop-color="#6f6f6f"/><stop offset=".798" stop-color="#797979"/><stop offset=".818" stop-color="#7e7e7e"/><stop offset=".848" stop-color="#828282"/><stop offset=".864" stop-color="#808080"/><stop offset=".883" stop-color="#6b6b6b"/><stop offset=".889" stop-color="#686868"/><stop offset=".953" stop-color="#5f5f5f"/><stop offset=".974" stop-color="#666666"/><stop offset=".993" stop-color="#6b6b6b"/><stop offset=".999" stop-color="#4f4f4f"/></linearGradient>
<linearGradient id="c234" x2="0" y2="1"><stop offset=".001" stop-color="#595959"/><stop offset=".003" stop-color="#5d5d5d"/><stop offset=".69" stop-color="#676767"/><stop offset=".771" stop-color="#6f6f6f"/><stop offset=".798" stop-color="#797979"/><stop offset=".818" stop-color="#7e7e7e"/><stop offset=".848" stop-color="#828282"/><stop offset=".864" stop-color="#808080"/><stop offset=".883" stop-color="#6b6b6b"/><stop offset=".889" stop-color="#686868"/><stop offset=".953" stop-color="#5f5f5f"/><stop offset=".974" stop-color="#666666"/><stop offset=".993" stop-color="#6b6b6b"/><stop offset=".999" stop-color="#4f4f4f"/></linearGradient>
<linearGradient id="c235" x2="0" y2="1"><stop offset=".001" stop-color="#595959"/><stop offset=".003" stop-color="#5d5d5d"/><stop offset=".69" stop-color="#676767"/><stop offset=".771" stop-color="#6f6f6f"/><stop offset=".798" stop-color="#797979"/><stop offset=".818" stop-color="#7e7e7e"/><stop offset=".848" stop-color="#828282"/><stop offset=".864" stop-color="#808080"/><stop offset=".883" stop-color="#6b6b6b"/><stop offset=".889" stop-color="#686868"/><stop offset=".953" stop-color="#5f5f5f"/><stop offset=".974" stop-color="#666666"/><stop offset=".993" stop-color="#6b6b6b"/><stop offset=".999" stop-color="#4f4f4f"/></linearGradient>
<linearGradient id="c236" x2="0" y2="1"><stop offset=".001" stop-color="#595959"/><stop offset=".003" stop-color="#5d5d5d"/><stop offset=".692" stop-color="#676767"/><stop offset=".729" stop-color="#6a6a6a"/><stop offset=".767" stop-color="#707070"/><stop offset=".798" stop-color="#7d7d7d"/><stop offset=".821" stop-color="#838383"/><stop offset=".848" stop-color="#868686"/><stop offset=".866" stop-color="#828282"/><stop offset=".874" stop-color="#797979"/><stop offset=".883" stop-color="#6c6c6c"/><stop offset=".887" stop-color="#686868"/><stop offset=".904" stop-color="#656565"/><stop offset=".953" stop-color="#5f5f5f"/><stop offset=".974" stop-color="#666666"/><stop offset=".993" stop-color="#6b6b6b"/><stop offset=".999" stop-color="#4f4f4f"/></linearGradient>
<linearGradient id="c237" x2="0" y2="1"><stop offset=".001" stop-color="#595959"/><stop offset=".003" stop-color="#5d5d5d"/><stop offset=".692" stop-color="#676767"/><stop offset=".731" stop-color="#6a6a6a"/><stop offset=".771" stop-color="#717171"/><stop offset=".798" stop-color="#7c7c7c"/><stop offset=".821" stop-color="#828282"/><stop offset=".848" stop-color="#858585"/><stop offset=".866" stop-color="#828282"/><stop offset=".874" stop-color="#787878"/><stop offset=".883" stop-color="#6c6c6c"/><stop offset=".887" stop-color="#686868"/><stop offset=".904" stop-color="#656565"/><stop offset=".953" stop-color="#5f5f5f"/><stop offset=".974" stop-color="#666666"/><stop offset=".993" stop-color="#6b6b6b"/><stop offset=".999" stop-color="#4f4f4f"/></linearGradient>
<linearGradient id="c238" x2="0" y2="1"><stop offset=".001" stop-color="#595959"/><stop offset=".003" stop-color="#5d5d5d"/><stop offset=".69" stop-color="#676767"/><stop offset=".729" stop-color="#6a6a6a"/><stop offset=".771" stop-color="#707070"/><stop offset=".798" stop-color="#7b7b7b"/><stop offset=".821" stop-color="#818181"/><stop offset=".848" stop-color="#858585"/><stop offset=".866" stop-color="#818181"/><stop offset=".883" stop-color="#6c6c6c"/><stop offset=".887" stop-color="#686868"/><stop offset=".904" stop-color="#656565"/><stop offset=".953" stop-color="#5f5f5f"/><stop offset=".974" stop-color="#666666"/><stop offset=".993" stop-color="#6b6b6b"/><stop offset=".999" stop-color="#4f4f4f"/></linearGradient>
<linearGradient id="c239" x2="0" y2="1"><stop offset=".001" stop-color="#595959"/><stop offset=".003" stop-color="#5d5d5d"/><stop offset=".69" stop-color="#666666"/><stop offset=".731" stop-color="#6a6a6a"/><stop offset=".771" stop-color="#707070"/><stop offset=".798" stop-color="#7b7b7b"/><stop offset=".818" stop-color="#808080"/><stop offset=".848" stop-color="#848484"/><stop offset=".866" stop-color="#808080"/><stop offset=".883" stop-color="#6c6c6c"/><stop offset=".889" stop-color="#686868"/><stop offset=".953" stop-color="#5f5f5f"/><stop offset=".974" stop-color="#666666"/><stop offset=".993" stop-color="#6b6b6b"/><stop offset=".999" stop-color="#4f4f4f"/></linearGradient>
<linearGradient id="c240" x2="0" y2="1"><stop offset=".001" stop-color="#595959"/><stop offset=".003" stop-color="#5d5d5d"/><stop offset=".69" stop-color="#666666"/><stop offset=".731" stop-color="#6a6a6a"/><stop offset=".771" stop-color="#707070"/><stop offset=".798" stop-color="#7b7b7b"/><stop offset=".821" stop-color="#818181"/><stop offset=".848" stop-color="#848484"/><stop offset=".866" stop-color="#818181"/><stop offset=".883" stop-color="#6c6c6c"/><stop offset=".889" stop-color="#686868"/><stop offset=".953" stop-color="#5f5f5f"/><stop offset=".974" stop-color="#666666"/><stop offset=".993" stop-color="#6b6b6b"/><stop offset=".999" stop-color="#4f4f4f"/></linearGradient>
<linearGradient id="c241" x2="0" y2="1"><stop offset=".001" stop-color="#595959"/><stop offset=".003" stop-color="#5d5d5d"/><stop offset=".692" stop-color="#666666"/><stop offset=".725" stop-color="#696969"/><stop offset=".76" stop-color="#6f6f6f"/><stop offset=".773" stop-color="#727272"/><stop offset=".798" stop-color="#7e7e7e"/><stop offset=".821" stop-color="#848484"/><stop offset=".848" stop-color="#888888"/><stop offset=".866" stop-color="#848484"/><stop offset=".874" stop-color="#7a7a7a"/><stop offset=".883" stop-color="#6c6c6c"/><stop offset=".887" stop-color="#686868"/><stop offset=".904" stop-color="#656565"/><stop offset=".953" stop-color="#5f5f5f"/><stop offset=".974" stop-color="#666666"/><stop offset=".993" stop-color="#6b6b6b"/><stop offset=".999" stop-color="#4f4f4f"/></linearGradient>
<linearGradient id="c242" x2="0" y2="1"><stop offset=".001" stop-color="#595959"/><stop offset=".003" stop-color="#5d5d5d"/><stop offset=".692" stop-color="#666666"/><stop offset=".729" stop-color="#696969"/><stop offset=".771" stop-color="#707070"/><stop offset=".798" stop-color="#7c7c7c"/><stop offset=".821" stop-color="#828282"/><stop offset=".848" stop-color="#858585"/><stop offset=".866" stop-color="#828282"/><stop offset=".874" stop-color="#787878"/><stop offset=".883" stop-color="#6c6c6c"/><stop offset=".889" stop-color="#686868"/><stop offset=".953" stop-color="#5f5f5f"/><stop offset=".974" stop-color="#666666"/><stop offset=".993" stop-color="#6b6b6b"/><stop offset=".999" stop-color="#4f4f4f"/></linearGradient>
<linearGradient id="c243" x2="0" y2="1"><stop offset=".001" stop-color="#595959"/><stop offset=".003" stop-color="#5d5d5d"/><stop offset=".694" stop-color="#666666"/><stop offset=".727" stop-color="#696969"/><stop offset=".765" stop-color="#707070"/><stop offset=".773" stop-color="#727272"/><stop offset=".798" stop-color="#7e7e7e"/><stop offset=".821" stop-color="#838383"/><stop offset=".848" stop-color="#878787"/><stop offset=".866" stop-color="#838383"/><stop offset=".874" stop-color="#7a7a7a"/><stop offset=".883" stop-color="#6c6c6c"/><stop offset=".887" stop-color="#686868"/><stop offset=".904" stop-color="#656565"/><stop offset=".953" stop-color="#5f5f5f"/><stop offset=".974" stop-color="#666666"/><stop offset=".993" stop-color="#6b6b6b"/><stop offset=".999" stop-color="#4f4f4f"/></linearGradient>
<linearGradient id="c244" x2="0" y2="1"><stop offset=".001" stop-color="#595959"/><stop offset=".003" stop-color="#5d5d5d"/><stop offset=".694" stop-color="#666666"/><stop offset=".729" stop-color="#696969"/><stop offset=".767" stop-color="#707070"/><stop offset=".798" stop-color="#7d7d7d"/><stop offset=".821" stop-color="#838383"/><stop offset=".848" stop-color="#868686"/><stop offset=".866" stop-color="#828282"/><stop offset=".874" stop-color="#797979"/><stop offset=".883" stop-color="#6c6c6c"/><stop offset=".887" stop-color="#686868"/><stop offset=".904" stop-color="#656565"/><stop offset=".953" stop-color="#5f5f5f"/><stop offset=".974" stop-color="#666666"/><stop offset=".993" stop-color="#6b6b6b"/><stop offset=".999" stop-color="#4f4f4f"/></linearGradient>
<linearGradient id="c245" x2="0" y2="1"><stop offset=".001" stop-color="#595959"/><stop offset=".003" stop-color="#5d5d5d"/><stop offset=".696" stop-color="#666666"/><stop offset=".771" stop-color="#6f6f6f"/><stop offset=".798" stop-color="#797979"/><stop offset=".818" stop-color="#7f7f7f"/><stop offset=".848" stop-color="#838383"/><stop offset=".866" stop-color="#7f7f7f"/><stop offset=".883" stop-color="#6b6b6b"/><stop offset=".889" stop-color="#676767"/><stop offset=".953" stop-color="#5f5f5f"/><stop offset=".974" stop-color="#666666"/><stop offset=".993" stop-color="#6b6b6b"/><stop offset=".999" stop-color="#4f4f4f"/></linearGradient>
<linearGradient id="c246" x2="0" y2="1"><stop offset=".001" stop-color="#595959"/><stop offset=".003" stop-color="#5d5d5d"/><stop offset=".696" stop-color="#666666"/><stop offset=".733" stop-color="#6a6a6a"/><stop offset=".771" stop-color="#707070"/><stop offset=".798" stop-color="#7b7b7b"/><stop offset=".821" stop-color="#818181"/><stop offset=".845" stop-color="#848484"/><stop offset=".866" stop-color="#818181"/><stop offset=".883" stop-color="#6c6c6c"/><stop offset=".887" stop-color="#696969"/><stop offset=".906" stop-color="#666666"/><stop offset=".953" stop-color="#636363"/><stop offset=".97" stop-color="#666666"/><stop offset=".993" stop-color="#6c6c6c"/><stop offset=".997" stop-color="#626262"/><stop offset=".999" stop-color="#5f5f5f"/></linearGradient>
<linearGradient id="c247" x2="0" y2="1"><stop offset=".001" stop-color="#595959"/><stop offset=".003" stop-color="#5d5d5d"/><stop offset=".698" stop-color="#666666"/><stop offset=".727" stop-color="#696969"/><stop offset=".756" stop-color="#6f6f6f"/><stop offset=".771" stop-color="#747474"/><stop offset=".787" stop-color="#818181"/><stop offset=".845" stop-color="#8b8b8b"/><stop offset=".864" stop-color="#898989"/><stop offset=".872" stop-color="#838383"/><stop offset=".883" stop-color="#808080"/><stop offset=".999" stop-color="#808080"/></linearGradient>
<linearGradient id="c248" x2="0" y2="1"><stop offset=".001" stop-color="#595959"/><stop offset=".003" stop-color="#5d5d5d"/><stop offset=".698" stop-color="#666666"/><stop offset=".731" stop-color="#6a6a6a"/><stop offset=".771" stop-color="#717171"/><stop offset=".798" stop-color="#7d7d7d"/><stop offset=".821" stop-color="#838383"/><stop offset=".848" stop-color="#868686"/><stop offset=".866" stop-color="#838383"/><stop offset=".874" stop-color="#797979"/><stop offset=".885" stop-color="#696969"/><stop offset=".889" stop-color="#676767"/><stop offset=".953" stop-color="#606060"/><stop offset=".974" stop-color="#666666"/><stop offset=".993" stop-color="#6b6b6b"/><stop offset=".997" stop-color="#5b5b5b"/><stop offset=".999" stop-color="#545454"/></linearGradient>
<linearGradient id="c249" x2="0" y2="1"><stop offset=".001" stop-color="#595959"/><stop offset=".003" stop-color="#5d5d5d"/><stop offset=".692" stop-color="#666666"/><stop offset=".771" stop-color="#6f6f6f"/><stop offset=".818" stop-color="#7e7e7e"/><stop offset=".848" stop-color="#828282"/><stop offset=".864" stop-color="#808080"/><stop offset=".883" stop-color="#6b6b6b"/><stop offset=".891" stop-color="#676767"/><stop offset=".953" stop-color="#5f5f5f"/><stop offset=".974" stop-color="#666666"/><stop offset=".993" stop-color="#6b6b6b"/><stop offset=".999" stop-color="#4f4f4f"/></linearGradient>
<linearGradient id="c250" x2="0" y2="1"><stop offset=".001" stop-color="#595959"/><stop offset=".003" stop-color="#5d5d5d"/><stop offset=".661" stop-color="#666666"/><stop offset=".771" stop-color="#6e6e6e"/><stop offset=".818" stop-color="#7c7c7c"/><stop offset=".848" stop-color="#808080"/><stop offset=".864" stop-color="#7e7e7e"/><stop offset=".883" stop-color="#6b6b6b"/><stop offset=".893" stop-color="#666666"/><stop offset=".953" stop-color="#5f5f5f"/><stop offset=".974" stop-color="#666666"/><stop offset=".993" stop-color="#6b6b6b"/><stop offset=".999" stop-color="#4f4f4f"/></linearGradient>
<linearGradient id="c251" x2="0" y2="1"><stop offset=".001" stop-color="#595959"/><stop offset=".003" stop-color="#5d5d5d"/><stop offset=".611" stop-color="#666666"/><stop offset=".771" stop-color="#757575"/><stop offset=".818" stop-color="#828282"/><stop offset=".848" stop-color="#868686"/><stop offset=".866" stop-color="#828282"/><stop offset=".874" stop-color="#787878"/><stop offset=".885" stop-color="#696969"/><stop offset=".889" stop-color="#676767"/><stop offset=".953" stop-color="#5f5f5f"/><stop offset=".974" stop-color="#666666"/><stop offset=".993" stop-color="#6b6b6b"/><stop offset=".999" stop-color="#4f4f4f"/></linearGradient>
<linearGradient id="c252" x2="0" y2="1"><stop offset=".001" stop-color="#5b5b5b"/><stop offset=".003" stop-color="#5e5e5e"/><stop offset=".507" stop-color="#666666"/><stop offset=".609" stop-color="#6b6b6b"/><stop offset=".775" stop-color="#7a7a7a"/><stop offset=".845" stop-color="#848484"/><stop offset=".866" stop-color="#808080"/><stop offset=".885" stop-color="#6a6a6a"/><stop offset=".891" stop-color="#676767"/><stop offset=".953" stop-color="#5f5f5f"/><stop offset=".974" stop-color="#666666"/><stop offset=".993" stop-color="#6b6b6b"/><stop offset=".999" stop-color="#4f4f4f"/></linearGradient>
<linearGradient id="c253" x2="0" y2="1"><stop offset=".001" stop-color="#606060"/><stop offset=".265" stop-color="#666666"/><stop offset=".491" stop-color="#6b6b6b"/><stop offset=".607" stop-color="#717171"/><stop offset=".738" stop-color="#818181"/><stop offset=".837" stop-color="#898989"/><stop offset=".866" stop-color="#858585"/><stop offset=".885" stop-color="#6c6c6c"/><stop offset=".893" stop-color="#676767"/><stop offset=".953" stop-color="#5f5f5f"/><stop offset=".974" stop-color="#666666"/><stop offset=".993" stop-color="#6b6b6b"/><stop offset=".999" stop-color="#4f4f4f"/></linearGradient>
<linearGradient id="c254" x2="0" y2="1"><stop offset=".001" stop-color="#656565"/><stop offset=".491" stop-color="#717171"/><stop offset=".607" stop-color="#787878"/><stop offset=".738" stop-color="#8a8a8a"/><stop offset=".835" stop-color="#909090"/><stop offset=".866" stop-color="#8b8b8b"/><stop offset=".885" stop-color="#707070"/><stop offset=".895" stop-color="#676767"/><stop offset=".953" stop-color="#5f5f5f"/><stop offset=".974" stop-color="#666666"/><stop offset=".993" stop-color="#6b6b6b"/><stop offset=".999" stop-color="#4f4f4f"/></linearGradient>
<linearGradient id="c255" x2="0" y2="1"><stop offset=".001" stop-color="#656565"/><stop offset=".491" stop-color="#717171"/><stop offset=".607" stop-color="#797979"/><stop offset=".738" stop-color="#8b8b8b"/><stop offset=".835" stop-color="#919191"/><stop offset=".866" stop-color="#8c8c8c"/><stop offset=".885" stop-color="#707070"/><stop offset=".895" stop-color="#676767"/><stop offset=".953" stop-color="#5f5f5f"/><stop offset=".974" stop-color="#666666"/><stop offset=".993" stop-color="#6b6b6b"/><stop offset=".999" stop-color="#4f4f4f"/></linearGradient>
<linearGradient id="c256" x2="0" y2="1"><stop offset=".001" stop-color="#606060"/><stop offset=".265" stop-color="#666666"/><stop offset=".491" stop-color="#6b6b6b"/><stop offset=".607" stop-color="#727272"/><stop offset=".738" stop-color="#828282"/><stop offset=".837" stop-color="#898989"/><stop offset=".866" stop-color="#858585"/><stop offset=".885" stop-color="#6c6c6c"/><stop offset=".893" stop-color="#676767"/><stop offset=".953" stop-color="#5f5f5f"/><stop offset=".974" stop-color="#666666"/><stop offset=".993" stop-color="#6b6b6b"/><stop offset=".999" stop-color="#4f4f4f"/></linearGradient>
<linearGradient id="c257" x2="0" y2="1"><stop offset=".001" stop-color="#5b5b5b"/><stop offset=".003" stop-color="#5e5e5e"/><stop offset=".513" stop-color="#666666"/><stop offset=".609" stop-color="#6b6b6b"/><stop offset=".671" stop-color="#727272"/><stop offset=".777" stop-color="#7b7b7b"/><stop offset=".845" stop-color="#858585"/><stop offset=".866" stop-color="#818181"/><stop offset=".885" stop-color="#6a6a6a"/><stop offset=".891" stop-color="#676767"/><stop offset=".953" stop-color="#5f5f5f"/><stop offset=".974" stop-color="#666666"/><stop offset=".993" stop-color="#6b6b6b"/><stop offset=".999" stop-color="#4f4f4f"/></linearGradient>
<linearGradient id="c258" x2="0" y2="1"><stop offset=".001" stop-color="#595959"/><stop offset=".003" stop-color="#5d5d5d"/><stop offset=".615" stop-color="#666666"/><stop offset=".771" stop-color="#757575"/><stop offset=".818" stop-color="#828282"/><stop offset=".848" stop-color="#858585"/><stop offset=".866" stop-color="#828282"/><stop offset=".874" stop-color="#787878"/><stop offset=".885" stop-color="#696969"/><stop offset=".891" stop-color="#666666"/><stop offset=".953" stop-color="#5f5f5f"/><stop offset=".974" stop-color="#666666"/><stop offset=".993" stop-color="#6b6b6b"/><stop offset=".999" stop-color="#4f4f4f"/></linearGradient>
<linearGradient id="c259" x2="0" y2="1"><stop offset=".001" stop-color="#595959"/><stop offset=".003" stop-color="#5d5d5d"/><stop offset=".667" stop-color="#666666"/><stop offset=".719" stop-color="#6a6a6a"/><stop offset=".771" stop-color="#717171"/><stop offset=".798" stop-color="#7b7b7b"/><stop offset=".818" stop-color="#818181"/><stop offset=".848" stop-color="#858585"/><stop offset=".866" stop-color="#818181"/><stop offset=".885" stop-color="#696969"/><stop offset=".891" stop-color="#666666"/><stop offset=".953" stop-color="#5f5f5f"/><stop offset=".974" stop-color="#666666"/><stop offset=".993" stop-color="#6b6b6b"/><stop offset=".999" stop-color="#4f4f4f"/></linearGradient>
<linearGradient id="c260" x2="0" y2="1"><stop offset=".001" stop-color="#595959"/><stop offset=".003" stop-color="#5d5d5d"/><stop offset=".7" stop-color="#666666"/><stop offset=".771" stop-color="#707070"/><stop offset=".798" stop-color="#7b7b7b"/><stop offset=".821" stop-color="#818181"/><stop offset=".848" stop-color="#858585"/><stop offset=".866" stop-color="#818181"/><stop offset=".885" stop-color="#696969"/><stop offset=".891" stop-color="#666666"/><stop offset=".953" stop-color="#5f5f5f"/><stop offset=".974" stop-color="#666666"/><stop offset=".993" stop-color="#6b6b6b"/><stop offset=".999" stop-color="#4f4f4f"/></linearGradient>
<linearGradient id="c261" x2="0" y2="1"><stop offset=".001" stop-color="#595959"/><stop offset=".003" stop-color="#5d5d5d"/><stop offset=".704" stop-color="#666666"/><stop offset=".771" stop-color="#6f6f6f"/><stop offset=".798" stop-color="#7a7a7a"/><stop offset=".818" stop-color="#808080"/><stop offset=".848" stop-color="#838383"/><stop offset=".866" stop-color="#808080"/><stop offset=".885" stop-color="#696969"/><stop offset=".891" stop-color="#666666"/><stop offset=".953" stop-color="#5f5f5f"/><stop offset=".974" stop-color="#666666"/><stop offset=".993" stop-color="#6b6b6b"/><stop offset=".999" stop-color="#4f4f4f"/></linearGradient>
<linearGradient id="c262" x2="0" y2="1"><stop offset=".001" stop-color="#595959"/><stop offset=".003" stop-color="#5d5d5d"/><stop offset=".706" stop-color="#666666"/><stop offset=".733" stop-color="#696969"/><stop offset=".771" stop-color="#717171"/><stop offset=".798" stop-color="#7d7d7d"/><stop offset=".821" stop-color="#838383"/><stop offset=".848" stop-color="#878787"/><stop offset=".866" stop-color="#838383"/><stop offset=".874" stop-color="#797979"/><stop offset=".885" stop-color="#696969"/><stop offset=".889" stop-color="#676767"/><stop offset=".953" stop-color="#5f5f5f"/><stop offset=".974" stop-color="#666666"/><stop offset=".993" stop-color="#6b6b6b"/><stop offset=".999" stop-color="#4f4f4f"/></linearGradient>
<linearGradient id="c263" x2="0" y2="1"><stop offset=".001" stop-color="#595959"/><stop offset=".003" stop-color="#5d5d5d"/><stop offset=".706" stop-color="#666666"/><stop offset=".733" stop-color="#696969"/><stop offset=".771" stop-color="#717171"/><stop offset=".798" stop-color="#7e7e7e"/><stop offset=".821" stop-color="#848484"/><stop offset=".848" stop-color="#878787"/><stop offset=".866" stop-color="#838383"/><stop offset=".874" stop-color="#7a7a7a"/><stop offset=".885" stop-color="#696969"/><stop offset=".889" stop-color="#676767"/><stop offset=".953" stop-color="#5f5f5f"/><stop offset=".974" stop-color="#666666"/><stop offset=".993" stop-color="#6b6b6b"/><stop offset=".999" stop-color="#4f4f4f"/></linearGradient>
<linearGradient id="c264" x2="0" y2="1"><stop offset=".001" stop-color="#595959"/><stop offset=".003" stop-color="#5d5d5d"/><stop offset=".706" stop-color="#666666"/><stop offset=".771" stop-color="#717171"/><stop offset=".798" stop-color="#7d7d7d"/><stop offset=".821" stop-color="#828282"/><stop offset=".848" stop-color="#868686"/><stop offset=".866" stop-color="#828282"/><stop offset=".874" stop-color="#797979"/><stop offset=".885" stop-color="#696969"/><stop offset=".889" stop-color="#676767"/><stop offset=".953" stop-color="#5f5f5f"/><stop offset=".974" stop-color="#666666"/><stop offset=".993" stop-color="#6b6b6b"/><stop offset=".999" stop-color="#4f4f4f"/></linearGradient>
<linearGradient id="c265" x2="0" y2="1"><stop offset=".001" stop-color="#595959"/><stop offset=".003" stop-color="#5d5d5d"/><stop offset=".709" stop-color="#666666"/><stop offset=".733" stop-color="#696969"/><stop offset=".771" stop-color="#727272"/><stop offset=".798" stop-color="#7e7e7e"/><stop offset=".821" stop-color="#858585"/><stop offset=".848" stop-color="#888888"/><stop offset=".866" stop-color="#848484"/><stop offset=".874" stop-color="#7b7b7b"/><stop offset=".885" stop-color="#696969"/><stop offset=".889" stop-color="#676767"/><stop offset=".953" stop-color="#5f5f5f"/><stop offset=".974" stop-color="#666666"/><stop offset=".993" stop-color="#6b6b6b"/><stop offset=".999" stop-color="#4f4f4f"/></linearGradient>
<linearGradient id="c266" x2="0" y2="1"><stop offset=".001" stop-color="#595959"/><stop offset=".003" stop-color="#5d5d5d"/><stop offset=".709" stop-color="#666666"/><stop offset=".733" stop-color="#696969"/><stop offset=".767" stop-color="#717171"/><stop offset=".798" stop-color="#7f7f7f"/><stop offset=".821" stop-color="#858585"/><stop offset=".848" stop-color="#898989"/><stop offset=".866" stop-color="#858585"/><stop offset=".874" stop-color="#7b7b7b"/><stop offset=".885" stop-color="#696969"/><stop offset=".889" stop-color="#676767"/><stop offset=".953" stop-color="#5f5f5f"/><stop offset=".974" stop-color="#666666"/><stop offset=".993" stop-color="#6b6b6b"/><stop offset=".999" stop-color="#4f4f4f"/></linearGradient>
<linearGradient id="c267" x2="0" y2="1"><stop offset=".001" stop-color="#595959"/><stop offset=".003" stop-color="#5d5d5d"/><stop offset=".702" stop-color="#666666"/><stop offset=".771" stop-color="#6f6f6f"/><stop offset=".798" stop-color="#787878"/><stop offset=".818" stop-color="#7e7e7e"/><stop offset=".848" stop-color="#828282"/><stop offset=".864" stop-color="#7f7f7f"/><stop offset=".883" stop-color="#6b6b6b"/><stop offset=".891" stop-color="#666666"/><stop offset=".953" stop-color="#5f5f5f"/><stop offset=".974" stop-color="#666666"/><stop offset=".993" stop-color="#6b6b6b"/><stop offset=".999" stop-color="#4f4f4f"/></linearGradient>
<linearGradient id="c268" x2="0" y2="1"><stop offset=".001" stop-color="#595959"/><stop offset=".003" stop-color="#5d5d5d"/><stop offset=".7" stop-color="#656565"/><stop offset=".771" stop-color="#6e6e6e"/><stop offset=".818" stop-color="#7c7c7c"/><stop offset=".848" stop-color="#808080"/><stop offset=".864" stop-color="#7e7e7e"/><stop offset=".883" stop-color="#6a6a6a"/><stop offset=".891" stop-color="#666666"/><stop offset=".953" stop-color="#5f5f5f"/><stop offset=".974" stop-color="#666666"/><stop offset=".993" stop-color="#6b6b6b"/><stop offset=".999" stop-color="#4f4f4f"/></linearGradient>
<linearGradient id="c269" x2="0" y2="1"><stop offset=".001" stop-color="#595959"/><stop offset=".003" stop-color="#5d5d5d"/><stop offset=".709" stop-color="#666666"/><stop offset=".733" stop-color="#696969"/><stop offset=".771" stop-color="#727272"/><stop offset=".798" stop-color="#7e7e7e"/><stop offset=".821" stop-color="#848484"/><stop offset=".848" stop-color="#888888"/><stop offset=".866" stop-color="#848484"/><stop offset=".874" stop-color="#7b7b7b"/><stop offset=".885" stop-color="#696969"/><stop offset=".889" stop-color="#676767"/><stop offset=".953" stop-color="#5f5f5f"/><stop offset=".974" stop-color="#666666"/><stop offset=".993" stop-color="#6b6b6b"/><stop offset=".999" stop-color="#4f4f4f"/></linearGradient>
<linearGradient id="c270" x2="0" y2="1"><stop offset=".001" stop-color="#595959"/><stop offset=".003" stop-color="#5d5d5d"/><stop offset=".706" stop-color="#666666"/><stop offset=".733" stop-color="#696969"/><stop offset=".771" stop-color="#717171"/><stop offset=".798" stop-color="#7d7d7d"/><stop offset=".821" stop-color="#838383"/><stop offset=".848" stop-color="#868686"/><stop offset=".866" stop-color="#828282"/><stop offset=".874" stop-color="#797979"/><stop offset=".885" stop-color="#696969"/><stop offset=".889" stop-color="#676767"/><stop offset=".953" stop-color="#5f5f5f"/><stop offset=".974" stop-color="#666666"/><stop offset=".993" stop-color="#6b6b6b"/><stop offset=".999" stop-color="#4f4f4f"/></linearGradient>
<linearGradient id="c271" x2="0" y2="1"><stop offset=".001" stop-color="#595959"/><stop offset=".003" stop-color="#5d5d5d"/><stop offset=".709" stop-color="#666666"/><stop offset=".733" stop-color="#696969"/><stop offset=".765" stop-color="#707070"/><stop offset=".773" stop-color="#737373"/><stop offset=".798" stop-color="#7f7f7f"/><stop offset=".821" stop-color="#868686"/><stop offset=".848" stop-color="#898989"/><stop offset=".866" stop-color="#858585"/><stop offset=".874" stop-color="#7b7b7b"/><stop offset=".885" stop-color="#696969"/><stop offset=".889" stop-color="#676767"/><stop offset=".953" stop-color="#5f5f5f"/><stop offset=".974" stop-color="#666666"/><stop offset=".993" stop-color="#6b6b6b"/><stop offset=".999" stop-color="#4f4f4f"/></linearGradient>
<linearGradient id="c272" x2="0" y2="1"><stop offset=".001" stop-color="#595959"/><stop offset=".003" stop-color="#5d5d5d"/><stop offset=".704" stop-color="#666666"/><stop offset=".771" stop-color="#707070"/><stop offset=".798" stop-color="#7b7b7b"/><stop offset=".821" stop-color="#818181"/><stop offset=".848" stop-color="#848484"/><stop offset=".866" stop-color="#808080"/><stop offset=".885" stop-color="#696969"/><stop offset=".889" stop-color="#676767"/><stop offset=".953" stop-color="#5f5f5f"/><stop offset=".974" stop-color="#666666"/><stop offset=".993" stop-color="#6b6b6b"/><stop offset=".999" stop-color="#4f4f4f"/></linearGradient>
<linearGradient id="c273" x2="0" y2="1"><stop offset=".001" stop-color="#595959"/><stop offset=".003" stop-color="#5d5d5d"/><stop offset=".711" stop-color="#666666"/><stop offset=".733" stop-color="#696969"/><stop offset=".758" stop-color="#707070"/><stop offset=".773" stop-color="#747474"/><stop offset=".798" stop-color="#828282"/><stop offset=".821" stop-color="#898989"/><stop offset=".848" stop-color="#8d8d8d"/><stop offset=".866" stop-color="#888888"/><stop offset=".877" stop-color="#7b7b7b"/><stop offset=".885" stop-color="#696969"/><stop offset=".889" stop-color="#676767"/><stop offset=".953" stop-color="#5f5f5f"/><stop offset=".974" stop-color="#666666"/><stop offset=".993" stop-color="#6b6b6b"/><stop offset=".999" stop-color="#4f4f4f"/></linearGradient>
<linearGradient id="c274" x2="0" y2="1"><stop offset=".001" stop-color="#595959"/><stop offset=".003" stop-color="#5d5d5d"/><stop offset=".711" stop-color="#666666"/><stop offset=".733" stop-color="#696969"/><stop offset=".76" stop-color="#707070"/><stop offset=".773" stop-color="#747474"/><stop offset=".798" stop-color="#818181"/><stop offset=".821" stop-color="#888888"/><stop offset=".848" stop-color="#8b8b8b"/><stop offset=".866" stop-color="#878787"/><stop offset=".874" stop-color="#7d7d7d"/><stop offset=".885" stop-color="#696969"/><stop offset=".889" stop-color="#676767"/><stop offset=".953" stop-color="#5f5f5f"/><stop offset=".974" stop-color="#666666"/><stop offset=".993" stop-color="#6b6b6b"/><stop offset=".999" stop-color="#4f4f4f"/></linearGradient>
<linearGradient id="c275" x2="0" y2="1"><stop offset=".001" stop-color="#595959"/><stop offset=".003" stop-color="#5d5d5d"/><stop offset=".704" stop-color="#666666"/><stop offset=".731" stop-color="#696969"/><stop offset=".771" stop-color="#707070"/><stop offset=".798" stop-color="#7c7c7c"/><stop offset=".821" stop-color="#828282"/><stop offset=".848" stop-color="#868686"/><stop offset=".866" stop-color="#828282"/><stop offset=".874" stop-color="#787878"/><stop offset=".885" stop-color="#696969"/><stop offset=".889" stop-color="#676767"/><stop offset=".953" stop-color="#5f5f5f"/><stop offset=".974" stop-color="#666666"/><stop offset=".993" stop-color="#6b6b6b"/><stop offset=".999" stop-color="#4f4f4f"/></linearGradient>
<linearGradient id="c276" x2="0" y2="1"><stop offset=".001" stop-color="#595959"/><stop offset=".003" stop-color="#5d5d5d"/><stop offset=".702" stop-color="#656565"/><stop offset=".771" stop-color="#707070"/><stop offset=".798" stop-color="#7b7b7b"/><stop offset=".821" stop-color="#808080"/><stop offset=".848" stop-color="#848484"/><stop offset=".866" stop-color="#808080"/><stop offset=".885" stop-color="#696969"/><stop offset=".889" stop-color="#676767"/><stop offset=".953" stop-color="#5f5f5f"/><stop offset=".974" stop-color="#666666"/><stop offset=".993" stop-color="#6b6b6b"/><stop offset=".999" stop-color="#4f4f4f"/></linearGradient>
<linearGradient id="c277" x2="0" y2="1"><stop offset=".001" stop-color="#595959"/><stop offset=".003" stop-color="#5d5d5d"/><stop offset=".704" stop-color="#656565"/><stop offset=".771" stop-color="#707070"/><stop offset=".798" stop-color="#7b7b7b"/><stop offset=".821" stop-color="#818181"/><stop offset=".848" stop-color="#858585"/><stop offset=".866" stop-color="#818181"/><stop offset=".874" stop-color="#787878"/><stop offset=".885" stop-color="#696969"/><stop offset=".889" stop-color="#676767"/><stop offset=".953" stop-color="#5f5f5f"/><stop offset=".974" stop-color="#666666"/><stop offset=".993" stop-color="#6b6b6b"/><stop offset=".999" stop-color="#4f4f4f"/></linearGradient>
<linearGradient id="c278" x2="0" y2="1"><stop offset=".001" stop-color="#595959"/><stop offset=".003" stop-color="#5d5d5d"/><stop offset=".702" stop-color="#656565"/><stop offset=".771" stop-color="#707070"/><stop offset=".798" stop-color="#7a7a7a"/><stop offset=".818" stop-color="#808080"/><stop offset=".848" stop-color="#848484"/><stop offset=".866" stop-color="#808080"/><stop offset=".885" stop-color="#696969"/><stop offset=".889" stop-color="#676767"/><stop offset=".953" stop-color="#5f5f5f"/><stop offset=".974" stop-color="#666666"/><stop offset=".993" stop-color="#6b6b6b"/><stop offset=".999" stop-color="#4f4f4f"/></linearGradient>
<linearGradient id="c279" x2="0" y2="1"><stop offset=".001" stop-color="#595959"/><stop offset=".003" stop-color="#5d5d5d"/><stop offset=".702" stop-color="#656565"/><stop offset=".771" stop-color="#6f6f6f"/><stop offset=".798" stop-color="#797979"/><stop offset=".818" stop-color="#7f7f7f"/><stop offset=".848" stop-color="#838383"/><stop offset=".866" stop-color="#7f7f7f"/><stop offset=".883" stop-color="#6b6b6b"/><stop offset=".889" stop-color="#676767"/><stop offset=".953" stop-color="#5f5f5f"/><stop offset=".974" stop-color="#666666"/><stop offset=".993" stop-color="#6b6b6b"/><stop offset=".999" stop-color="#4f4f4f"/></linearGradient>
<linearGradient id="c280" x2="0" y2="1"><stop offset=".001" stop-color="#595959"/><stop offset=".003" stop-color="#5d5d5d"/><stop offset=".7" stop-color="#656565"/><stop offset=".771" stop-color="#6f6f6f"/><stop offset=".798" stop-color="#787878"/><stop offset=".818" stop-color="#7e7e7e"/><stop offset=".848" stop-color="#828282"/><stop offset=".866" stop-color="#7e7e7e"/><stop offset=".883" stop-color="#6b6b6b"/><stop offset=".889" stop-color="#666666"/><stop offset=".953" stop-color="#5f5f5f"/><stop offset=".974" stop-color="#666666"/><stop offset=".993" stop-color="#6b6b6b"/><stop offset=".999" stop-color="#4f4f4f"/></linearGradient>
<linearGradient id="c281" x2="0" y2="1"><stop offset=".001" stop-color="#595959"/><stop offset=".003" stop-color="#5d5d5d"/><stop offset=".706" stop-color="#666666"/><stop offset=".733" stop-color="#696969"/><stop offset=".765" stop-color="#707070"/><stop offset=".773" stop-color="#727272"/><stop offset=".798" stop-color="#7f7f7f"/><stop offset=".821" stop-color="#858585"/><stop offset=".848" stop-color="#898989"/><stop offset=".866" stop-color="#858585"/><stop offset=".874" stop-color="#7b7b7b"/><stop offset=".885" stop-color="#696969"/><stop offset=".889" stop-color="#666666"/><stop offset=".953" stop-color="#5f5f5f"/><stop offset=".974" stop-color="#666666"/><stop offset=".993" stop-color="#6b6b6b"/><stop offset=".999" stop-color="#4f4f4f"/></linearGradient>
<linearGradient id="c282" x2="0" y2="1"><stop offset=".001" stop-color="#595959"/><stop offset=".003" stop-color="#5d5d5d"/><stop offset=".704" stop-color="#656565"/><stop offset=".729" stop-color="#686868"/><stop offset=".771" stop-color="#707070"/><stop offset=".798" stop-color="#7c7c7c"/><stop offset=".821" stop-color="#828282"/><stop offset=".848" stop-color="#858585"/><stop offset=".866" stop-color="#828282"/><stop offset=".874" stop-color="#787878"/><stop offset=".885" stop-color="#696969"/><stop offset=".889" stop-color="#666666"/><stop offset=".953" stop-color="#5f5f5f"/><stop offset=".974" stop-color="#666666"/><stop offset=".993" stop-color="#6b6b6b"/><stop offset=".999" stop-color="#4f4f4f"/></linearGradient>
<linearGradient id="c283" x2="0" y2="1"><stop offset=".001" stop-color="#595959"/><stop offset=".003" stop-color="#5d5d5d"/><stop offset=".704" stop-color="#656565"/><stop offset=".731" stop-color="#696969"/><stop offset=".771" stop-color="#717171"/><stop offset=".798" stop-color="#7d7d7d"/><stop offset=".821" stop-color="#838383"/><stop offset=".848" stop-color="#878787"/><stop offset=".866" stop-color="#838383"/><stop offset=".874" stop-color="#797979"/><stop offset=".885" stop-color="#696969"/><stop offset=".889" stop-color="#666666"/><stop offset=".953" stop-color="#5f5f5f"/><stop offset=".974" stop-color="#666666"/><stop offset=".993" stop-color="#6b6b6b"/><stop offset=".999" stop-color="#4f4f4f"/></linearGradient>
<linearGradient id="c284" x2="0" y2="1"><stop offset=".001" stop-color="#595959"/><stop offset=".003" stop-color="#5d5d5d"/><stop offset=".704" stop-color="#656565"/><stop offset=".733" stop-color="#696969"/><stop offset=".769" stop-color="#717171"/><stop offset=".798" stop-color="#7d7d7d"/><stop offset=".821" stop-color="#838383"/><stop offset=".848" stop-color="#878787"/><stop offset=".866" stop-color="#838383"/><stop offset=".874" stop-color="#7a7a7a"/><stop offset=".885" stop-color="#696969"/><stop offset=".889" stop-color="#666666"/><stop offset=".953" stop-color="#5f5f5f"/><stop offset=".974" stop-color="#666666"/><stop offset=".993" stop-color="#6b6b6b"/><stop offset=".999" stop-color="#4f4f4f"/></linearGradient>
<linearGradient id="c285" x2="0" y2="1"><stop offset=".001" stop-color="#595959"/><stop offset=".003" stop-color="#5d5d5d"/><stop offset=".698" stop-color="#656565"/><stop offset=".771" stop-color="#6e6e6e"/><stop offset=".818" stop-color="#7d7d7d"/><stop offset=".848" stop-color="#808080"/><stop offset=".864" stop-color="#7e7e7e"/><stop offset=".883" stop-color="#6a6a6a"/><stop offset=".889" stop-color="#666666"/><stop offset=".953" stop-color="#5f5f5f"/><stop offset=".974" stop-color="#666666"/><stop offset=".993" stop-color="#6b6b6b"/><stop offset=".999" stop-color="#4f4f4f"/></linearGradient>
<linearGradient id="c286" x2="0" y2="1"><stop offset=".001" stop-color="#595959"/><stop offset=".003" stop-color="#5d5d5d"/><stop offset=".706" stop-color="#656565"/><stop offset=".733" stop-color="#696969"/><stop offset=".767" stop-color="#707070"/><stop offset=".798" stop-color="#7e7e7e"/><stop offset=".821" stop-color="#848484"/><stop offset=".848" stop-color="#888888"/><stop offset=".866" stop-color="#848484"/><stop offset=".874" stop-color="#7a7a7a"/><stop offset=".885" stop-color="#696969"/><stop offset=".889" stop-color="#666666"/><stop offset=".953" stop-color="#5f5f5f"/><stop offset=".974" stop-color="#666666"/><stop offset=".993" stop-color="#6b6b6b"/><stop offset=".999" stop-color="#4f4f4f"/></linearGradient>
<linearGradient id="c287" x2="0" y2="1"><stop offset=".001" stop-color="#595959"/><stop offset=".003" stop-color="#5d5d5d"/><stop offset=".704" stop-color="#656565"/><stop offset=".731" stop-color="#696969"/><stop offset=".771" stop-color="#717171"/><stop offset=".798" stop-color="#7d7d7d"/><stop offset=".821" stop-color="#838383"/><stop offset=".848" stop-color="#878787"/><stop offset=".866" stop-color="#838383"/><stop offset=".874" stop-color="#797979"/><stop offset=".885" stop-color="#696969"/><stop offset=".889" stop-color="#666666"/><stop offset=".953" stop-color="#5f5f5f"/><stop offset=".974" stop-color="#666666"/><stop offset=".993" stop-color="#6b6b6b"/><stop offset=".999" stop-color="#4f4f4f"/></linearGradient>
<linearGradient id="c288" x2="0" y2="1"><stop offset=".001" stop-color="#595959"/><stop offset=".003" stop-color="#5d5d5d"/><stop offset=".702" stop-color="#656565"/><stop offset=".729" stop-color="#686868"/><stop offset=".771" stop-color="#707070"/><stop offset=".798" stop-color="#7c7c7c"/><stop offset=".821" stop-color="#828282"/><stop offset=".848" stop-color="#868686"/><stop offset=".866" stop-color="#828282"/><stop offset=".874" stop-color="#787878"/><stop offset=".885" stop-color="#696969"/><stop offset=".889" stop-color="#666666"/><stop offset=".953" stop-color="#5f5f5f"/><stop offset=".974" stop-color="#666666"/><stop offset=".993" stop-color="#6b6b6b"/><stop offset=".999" stop-color="#4f4f4f"/></linearGradient>
<linearGradient id="c289" x2="0" y2="1"><stop offset=".001" stop-color="#595959"/><stop offset=".003" stop-color="#5d5d5d"/><stop offset=".704" stop-color="#656565"/><stop offset=".731" stop-color="#696969"/><stop offset=".771" stop-color="#717171"/><stop offset=".798" stop-color="#7d7d7d"/><stop offset=".821" stop-color="#828282"/><stop offset=".848" stop-color="#868686"/><stop offset=".866" stop-color="#828282"/><stop offset=".874" stop-color="#797979"/><stop offset=".885" stop-color="#696969"/><stop offset=".889" stop-color="#666666"/><stop offset=".953" stop-color="#5f5f5f"/><stop offset=".974" stop-color="#666666"/><stop offset=".993" stop-color="#6b6b6b"/><stop offset=".999" stop-color="#4f4f4f"/></linearGradient>
<linearGradient id="c290" x2="0" y2="1"><stop offset=".001" stop-color="#595959"/><stop offset=".003" stop-color="#5d5d5d"/><stop offset=".702" stop-color="#656565"/><stop offset=".725" stop-color="#686868"/><stop offset=".771" stop-color="#707070"/><stop offset=".798" stop-color="#7b7b7b"/><stop offset=".821" stop-color="#818181"/><stop offset=".848" stop-color="#848484"/><stop offset=".866" stop-color="#818181"/><stop offset=".885" stop-color="#696969"/><stop offset=".889" stop-color="#666666"/><stop offset=".953" stop-color="#5f5f5f"/><stop offset=".974" stop-color="#666666"/><stop offset=".993" stop-color="#6b6b6b"/><stop offset=".999" stop-color="#4f4f4f"/></linearGradient>
<linearGradient id="c291" x2="0" y2="1"><stop offset=".001" stop-color="#595959"/><stop offset=".003" stop-color="#5d5d5d"/><stop offset=".709" stop-color="#666666"/><stop offset=".733" stop-color="#696969"/><stop offset=".754" stop-color="#6e6e6e"/><stop offset=".773" stop-color="#747474"/><stop offset=".798" stop-color="#818181"/><stop offset=".821" stop-color="#888888"/><stop offset=".848" stop-color="#8c8c8c"/><stop offset=".866" stop-color="#888888"/><stop offset=".877" stop-color="#7a7a7a"/><stop offset=".885" stop-color="#696969"/><stop offset=".889" stop-color="#666666"/><stop offset=".953" stop-color="#5f5f5f"/><stop offset=".974" stop-color="#666666"/><stop offset=".993" stop-color="#6b6b6b"/><stop offset=".999" stop-color="#4f4f4f"/></linearGradient>
<linearGradient id="c292" x2="0" y2="1"><stop offset=".001" stop-color="#595959"/><stop offset=".003" stop-color="#5d5d5d"/><stop offset=".702" stop-color="#656565"/><stop offset=".727" stop-color="#686868"/><stop offset=".771" stop-color="#707070"/><stop offset=".798" stop-color="#7c7c7c"/><stop offset=".821" stop-color="#828282"/><stop offset=".848" stop-color="#868686"/><stop offset=".866" stop-color="#828282"/><stop offset=".874" stop-color="#787878"/><stop offset=".885" stop-color="#696969"/><stop offset=".889" stop-color="#666666"/><stop offset=".953" stop-color="#5f5f5f"/><stop offset=".974" stop-color="#666666"/><stop offset=".993" stop-color="#6b6b6b"/><stop offset=".999" stop-color="#4f4f4f"/></linearGradient>
<linearGradient id="c293" x2="0" y2="1"><stop offset=".001" stop-color="#595959"/><stop offset=".003" stop-color="#5d5d5d"/><stop offset=".7" stop-color="#666666"/><stop offset=".771" stop-color="#707070"/><stop offset=".798" stop-color="#7b7b7b"/><stop offset=".818" stop-color="#808080"/><stop offset=".848" stop-color="#848484"/><stop offset=".866" stop-color="#808080"/><stop offset=".885" stop-color="#696969"/><stop offset=".889" stop-color="#666666"/><stop offset=".953" stop-color="#5f5f5f"/><stop offset=".974" stop-color="#666666"/><stop offset=".993" stop-color="#6b6b6b"/><stop offset=".999" stop-color="#4f4f4f"/></linearGradient>
<linearGradient id="c294" x2="0" y2="1"><stop offset=".001" stop-color="#595959"/><stop offset=".003" stop-color="#5d5d5d"/><stop offset=".634" stop-color="#666666"/><stop offset=".702" stop-color="#6c6c6c"/><stop offset=".771" stop-color="#737373"/><stop offset=".818" stop-color="#828282"/><stop offset=".845" stop-color="#858585"/><stop offset=".866" stop-color="#818181"/><stop offset=".874" stop-color="#787878"/><stop offset=".885" stop-color="#696969"/><stop offset=".889" stop-color="#666666"/><stop offset=".953" stop-color="#5f5f5f"/><stop offset=".974" stop-color="#666666"/><stop offset=".993" stop-color="#6b6b6b"/><stop offset=".999" stop-color="#4f4f4f"/></linearGradient>
<linearGradient id="c295" x2="0" y2="1"><stop offset=".001" stop-color="#595959"/><stop offset=".003" stop-color="#5d5d5d"/><stop offset=".121" stop-color="#5d5d5d"/><stop offset=".489" stop-color="#696969"/><stop offset=".607" stop-color="#6f6f6f"/><stop offset=".779" stop-color="#808080"/><stop offset=".835" stop-color="#898989"/><stop offset=".864" stop-color="#858585"/><stop offset=".877" stop-color="#787878"/><stop offset=".885" stop-color="#6a6a6a"/><stop offset=".891" stop-color="#666666"/><stop offset=".953" stop-color="#5f5f5f"/><stop offset=".974" stop-color="#666666"/><stop offset=".993" stop-color="#6b6b6b"/><stop offset=".999" stop-color="#4f4f4f"/></linearGradient>
<linearGradient id="c296" x2="0" y2="1"><stop offset=".001" stop-color="#595959"/><stop offset=".003" stop-color="#5d5d5d"/><stop offset=".119" stop-color="#5e5e5e"/><stop offset=".132" stop-color="#636363"/><stop offset=".204" stop-color="#666666"/><stop offset=".364" stop-color="#6e6e6e"/><stop offset=".491" stop-color="#717171"/><stop offset=".607" stop-color="#777777"/><stop offset=".835" stop-color="#909090"/><stop offset=".866" stop-color="#878787"/><stop offset=".877" stop-color="#7d7d7d"/><stop offset=".887" stop-color="#6a6a6a"/><stop offset=".893" stop-color="#666666"/><stop offset=".953" stop-color="#5f5f5f"/><stop offset=".974" stop-color="#666666"/><stop offset=".993" stop-color="#6b6b6b"/><stop offset=".999" stop-color="#4f4f4f"/></linearGradient>
<linearGradient id="c297" x2="0" y2="1"><stop offset=".001" stop-color="#595959"/><stop offset=".003" stop-color="#5d5d5d"/><stop offset=".119" stop-color="#5d5d5d"/><stop offset=".132" stop-color="#606060"/><stop offset=".491" stop-color="#6c6c6c"/><stop offset=".607" stop-color="#717171"/><stop offset=".783" stop-color="#828282"/><stop offset=".835" stop-color="#898989"/><stop offset=".864" stop-color="#848484"/><stop offset=".877" stop-color="#787878"/><stop offset=".885" stop-color="#6b6b6b"/><stop offset=".891" stop-color="#666666"/><stop offset=".953" stop-color="#5f5f5f"/><stop offset=".974" stop-color="#666666"/><stop offset=".993" stop-color="#6b6b6b"/><stop offset=".999" stop-color="#4f4f4f"/></linearGradient>
<linearGradient id="c298" x2="0" y2="1"><stop offset=".001" stop-color="#5a5a5a"/><stop offset=".003" stop-color="#5d5d5d"/><stop offset=".491" stop-color="#646464"/><stop offset=".607" stop-color="#676767"/><stop offset=".758" stop-color="#747474"/><stop offset=".777" stop-color="#777777"/><stop offset=".821" stop-color="#818181"/><stop offset=".845" stop-color="#838383"/><stop offset=".866" stop-color="#7f7f7f"/><stop offset=".885" stop-color="#696969"/><stop offset=".889" stop-color="#666666"/><stop offset=".953" stop-color="#5f5f5f"/><stop offset=".974" stop-color="#666666"/><stop offset=".993" stop-color="#6b6b6b"/><stop offset=".999" stop-color="#4f4f4f"/></linearGradient>
<linearGradient id="c299" x2="0" y2="1"><stop offset=".001" stop-color="#626262"/><stop offset=".202" stop-color="#666666"/><stop offset=".364" stop-color="#6b6b6b"/><stop offset=".489" stop-color="#6b6b6b"/><stop offset=".607" stop-color="#707070"/><stop offset=".75" stop-color="#838383"/><stop offset=".835" stop-color="#939393"/><stop offset=".866" stop-color="#878787"/><stop offset=".874" stop-color="#7e7e7e"/><stop offset=".885" stop-color="#6b6b6b"/><stop offset=".891" stop-color="#666666"/><stop offset=".953" stop-color="#5f5f5f"/><stop offset=".974" stop-color="#666666"/><stop offset=".993" stop-color="#6b6b6b"/><stop offset=".999" stop-color="#4f4f4f"/></linearGradient>
<linearGradient id="c300" x2="0" y2="1"><stop offset=".001" stop-color="#6d6d6d"/><stop offset=".364" stop-color="#767676"/><stop offset=".491" stop-color="#767676"/><stop offset=".607" stop-color="#7b7b7b"/><stop offset=".675" stop-color="#838383"/><stop offset=".779" stop-color="#949494"/><stop offset=".835" stop-color="#9d9d9d"/><stop offset=".852" stop-color="#949494"/><stop offset=".87" stop-color="#898989"/><stop offset=".887" stop-color="#6f6f6f"/><stop offset=".895" stop-color="#666666"/><stop offset=".953" stop-color="#5f5f5f"/><stop offset=".974" stop-color="#666666"/><stop offset=".993" stop-color="#6b6b6b"/><stop offset=".999" stop-color="#4f4f4f"/></linearGradient>
<linearGradient id="c301" x2="0" y2="1"><stop offset=".001" stop-color="#797979"/><stop offset=".364" stop-color="#838383"/><stop offset=".507" stop-color="#838383"/><stop offset=".607" stop-color="#888888"/><stop offset=".688" stop-color="#949494"/><stop offset=".835" stop-color="#ababab"/><stop offset=".872" stop-color="#949494"/><stop offset=".893" stop-color="#6c6c6c"/><stop offset=".895" stop-color="#696969"/><stop offset=".899" stop-color="#656565"/><stop offset=".953" stop-color="#5f5f5f"/><stop offset=".974" stop-color="#666666"/><stop offset=".993" stop-color="#6b6b6b"/><stop offset=".999" stop-color="#4f4f4f"/></linearGradient>
<linearGradient id="c302" x2="0" y2="1"><stop offset=".001" stop-color="#757575"/><stop offset=".364" stop-color="#7f7f7f"/><stop offset=".491" stop-color="#7f7f7f"/><stop offset=".607" stop-color="#838383"/><stop offset=".717" stop-color="#949494"/><stop offset=".835" stop-color="#a7a7a7"/><stop offset=".87" stop-color="#929292"/><stop offset=".891" stop-color="#6f6f6f"/><stop offset=".895" stop-color="#696969"/><stop offset=".899" stop-color="#656565"/><stop offset=".953" stop-color="#5f5f5f"/><stop offset=".974" stop-color="#666666"/><stop offset=".993" stop-color="#6b6b6b"/><stop offset=".999" stop-color="#4f4f4f"/></linearGradient>
<linearGradient id="c303" x2="0" y2="1"><stop offset=".001" stop-color="#737373"/><stop offset=".364" stop-color="#7c7c7c"/><stop offset=".491" stop-color="#7c7c7c"/><stop offset=".607" stop-color="#818181"/><stop offset=".738" stop-color="#949494"/><stop offset=".835" stop-color="#a4a4a4"/><stop offset=".862" stop-color="#959595"/><stop offset=".87" stop-color="#8f8f8f"/><stop offset=".889" stop-color="#707070"/><stop offset=".897" stop-color="#666666"/><stop offset=".91" stop-color="#626262"/><stop offset=".953" stop-color="#5f5f5f"/><stop offset=".974" stop-color="#666666"/><stop offset=".993" stop-color="#6b6b6b"/><stop offset=".999" stop-color="#4f4f4f"/></linearGradient>
<linearGradient id="c304" x2="0" y2="1"><stop offset=".001" stop-color="#666666"/><stop offset=".364" stop-color="#6e6e6e"/><stop offset=".491" stop-color="#6f6f6f"/><stop offset=".607" stop-color="#737373"/><stop offset=".74" stop-color="#838383"/><stop offset=".835" stop-color="#949494"/><stop offset=".866" stop-color="#858585"/><stop offset=".872" stop-color="#7f7f7f"/><stop offset=".885" stop-color="#6c6c6c"/><stop offset=".893" stop-color="#666666"/><stop offset=".953" stop-color="#5f5f5f"/><stop offset=".974" stop-color="#666666"/><stop offset=".993" stop-color="#6b6b6b"/><stop offset=".999" stop-color="#4f4f4f"/></linearGradient>
<linearGradient id="c305" x2="0" y2="1"><stop offset=".001" stop-color="#5c5c5c"/><stop offset=".003" stop-color="#5e5e5e"/><stop offset=".491" stop-color="#656565"/><stop offset=".607" stop-color="#686868"/><stop offset=".74" stop-color="#777777"/><stop offset=".835" stop-color="#898989"/><stop offset=".864" stop-color="#848484"/><stop offset=".874" stop-color="#797979"/><stop offset=".885" stop-color="#696969"/><stop offset=".889" stop-color="#666666"/><stop offset=".953" stop-color="#5f5f5f"/><stop offset=".974" stop-color="#666666"/><stop offset=".993" stop-color="#6b6b6b"/><stop offset=".999" stop-color="#4f4f4f"/></linearGradient>
<linearGradient id="c306" x2="0" y2="1"><stop offset=".001" stop-color="#595959"/><stop offset=".003" stop-color="#5d5d5d"/><stop offset=".607" stop-color="#636363"/><stop offset=".686" stop-color="#666666"/><stop offset=".721" stop-color="#6a6a6a"/><stop offset=".762" stop-color="#727272"/><stop offset=".773" stop-color="#747474"/><stop offset=".798" stop-color="#7f7f7f"/><stop offset=".821" stop-color="#858585"/><stop offset=".845" stop-color="#888888"/><stop offset=".866" stop-color="#848484"/><stop offset=".874" stop-color="#7b7b7b"/><stop offset=".885" stop-color="#696969"/><stop offset=".889" stop-color="#666666"/><stop offset=".953" stop-color="#5f5f5f"/><stop offset=".974" stop-color="#666666"/><stop offset=".993" stop-color="#6b6b6b"/><stop offset=".999" stop-color="#4f4f4f"/></linearGradient>
<linearGradient id="c307" x2="0" y2="1"><stop offset=".001" stop-color="#595959"/><stop offset=".003" stop-color="#5d5d5d"/><stop offset=".702" stop-color="#656565"/><stop offset=".729" stop-color="#696969"/><stop offset=".762" stop-color="#707070"/><stop offset=".773" stop-color="#727272"/><stop offset=".798" stop-color="#7e7e7e"/><stop offset=".821" stop-color="#848484"/><stop offset=".848" stop-color="#888888"/><stop offset=".866" stop-color="#848484"/><stop offset=".874" stop-color="#7a7a7a"/><stop offset=".885" stop-color="#696969"/><stop offset=".889" stop-color="#666666"/><stop offset=".953" stop-color="#5f5f5f"/><stop offset=".974" stop-color="#666666"/><stop offset=".993" stop-color="#6b6b6b"/><stop offset=".999" stop-color="#4f4f4f"/></linearGradient>
<linearGradient id="c308" x2="0" y2="1"><stop offset=".001" stop-color="#595959"/><stop offset=".003" stop-color="#5d5d5d"/><stop offset=".706" stop-color="#656565"/><stop offset=".731" stop-color="#696969"/><stop offset=".75" stop-color="#6d6d6d"/><stop offset=".771" stop-color="#737373"/><stop offset=".798" stop-color="#828282"/><stop offset=".821" stop-color="#888888"/><stop offset=".848" stop-color="#8c8c8c"/><stop offset=".866" stop-color="#888888"/><stop offset=".877" stop-color="#7a7a7a"/><stop offset=".885" stop-color="#696969"/><stop offset=".889" stop-color="#666666"/><stop offset=".953" stop-color="#5f5f5f"/><stop offset=".974" stop-color="#666666"/><stop offset=".993" stop-color="#6b6b6b"/><stop offset=".999" stop-color="#4f4f4f"/></linearGradient>
<linearGradient id="c309" x2="0" y2="1"><stop offset=".001" stop-color="#595959"/><stop offset=".003" stop-color="#5d5d5d"/><stop offset=".634" stop-color="#626262"/><stop offset=".709" stop-color="#656565"/><stop offset=".733" stop-color="#696969"/><stop offset=".765" stop-color="#737373"/><stop offset=".773" stop-color="#767676"/><stop offset=".785" stop-color="#7f7f7f"/><stop offset=".796" stop-color="#848484"/><stop offset=".818" stop-color="#8b8b8b"/><stop offset=".848" stop-color="#8f8f8f"/><stop offset=".866" stop-color="#8b8b8b"/><stop offset=".877" stop-color="#7d7d7d"/><stop offset=".885" stop-color="#696969"/><stop offset=".889" stop-color="#666666"/><stop offset=".953" stop-color="#5f5f5f"/><stop offset=".974" stop-color="#666666"/><stop offset=".993" stop-color="#6b6b6b"/><stop offset=".999" stop-color="#4f4f4f"/></linearGradient>
<linearGradient id="c310" x2="0" y2="1"><stop offset=".001" stop-color="#595959"/><stop offset=".003" stop-color="#5d5d5d"/><stop offset=".702" stop-color="#656565"/><stop offset=".727" stop-color="#696969"/><stop offset=".758" stop-color="#707070"/><stop offset=".773" stop-color="#747474"/><stop offset=".798" stop-color="#7f7f7f"/><stop offset=".821" stop-color="#858585"/><stop offset=".845" stop-color="#898989"/><stop offset=".866" stop-color="#848484"/><stop offset=".874" stop-color="#7b7b7b"/><stop offset=".885" stop-color="#696969"/><stop offset=".889" stop-color="#666666"/><stop offset=".953" stop-color="#5f5f5f"/><stop offset=".974" stop-color="#666666"/><stop offset=".993" stop-color="#6b6b6b"/><stop offset=".999" stop-color="#4f4f4f"/></linearGradient>
<linearGradient id="c311" x2="0" y2="1"><stop offset=".001" stop-color="#595959"/><stop offset=".003" stop-color="#5d5d5d"/><stop offset=".669" stop-color="#656565"/><stop offset=".715" stop-color="#6a6a6a"/><stop offset=".762" stop-color="#727272"/><stop offset=".777" stop-color="#757575"/><stop offset=".798" stop-color="#7d7d7d"/><stop offset=".845" stop-color="#858585"/><stop offset=".866" stop-color="#818181"/><stop offset=".874" stop-color="#787878"/><stop offset=".885" stop-color="#696969"/><stop offset=".889" stop-color="#666666"/><stop offset=".953" stop-color="#5f5f5f"/><stop offset=".974" stop-color="#666666"/><stop offset=".993" stop-color="#6b6b6b"/><stop offset=".999" stop-color="#4f4f4f"/></linearGradient>
<linearGradient id="c312" x2="0" y2="1"><stop offset=".001" stop-color="#595959"/><stop offset=".003" stop-color="#5d5d5d"/><stop offset=".617" stop-color="#656565"/><stop offset=".769" stop-color="#777777"/><stop offset=".818" stop-color="#818181"/><stop offset=".845" stop-color="#848484"/><stop offset=".866" stop-color="#808080"/><stop offset=".885" stop-color="#6a6a6a"/><stop offset=".891" stop-color="#666666"/><stop offset=".953" stop-color="#5f5f5f"/><stop offset=".974" stop-color="#666666"/><stop offset=".993" stop-color="#6b6b6b"/><stop offset=".999" stop-color="#4f4f4f"/></linearGradient>
<linearGradient id="c313" x2="0" y2="1"><stop offset=".001" stop-color="#595959"/><stop offset=".003" stop-color="#5d5d5d"/><stop offset=".491" stop-color="#656565"/><stop offset=".607" stop-color="#6a6a6a"/><stop offset=".738" stop-color="#7d7d7d"/><stop offset=".837" stop-color="#878787"/><stop offset=".848" stop-color="#868686"/><stop offset=".866" stop-color="#818181"/><stop offset=".872" stop-color="#7c7c7c"/><stop offset=".885" stop-color="#6d6d6d"/><stop offset=".893" stop-color="#666666"/><stop offset=".953" stop-color="#5f5f5f"/><stop offset=".974" stop-color="#666666"/><stop offset=".993" stop-color="#6b6b6b"/><stop offset=".999" stop-color="#4f4f4f"/></linearGradient>
<linearGradient id="c314" x2="0" y2="1"><stop offset=".001" stop-color="#595959"/><stop offset=".003" stop-color="#5d5d5d"/><stop offset=".119" stop-color="#5d5d5d"/><stop offset=".132" stop-color="#616161"/><stop offset=".489" stop-color="#6d6d6d"/><stop offset=".607" stop-color="#747474"/><stop offset=".686" stop-color="#858585"/><stop offset=".738" stop-color="#8d8d8d"/><stop offset=".835" stop-color="#939393"/><stop offset=".848" stop-color="#919191"/><stop offset=".87" stop-color="#898989"/><stop offset=".891" stop-color="#6d6d6d"/><stop offset=".897" stop-color="#666666"/><stop offset=".953" stop-color="#5f5f5f"/><stop offset=".974" stop-color="#666666"/><stop offset=".993" stop-color="#6b6b6b"/><stop offset=".999" stop-color="#4f4f4f"/></linearGradient>
<linearGradient id="c315" x2="0" y2="1"><stop offset=".001" stop-color="#595959"/><stop offset=".003" stop-color="#5d5d5d"/><stop offset=".117" stop-color="#5d5d5d"/><stop offset=".132" stop-color="#636363"/><stop offset=".366" stop-color="#6c6c6c"/><stop offset=".489" stop-color="#6e6e6e"/><stop offset=".59" stop-color="#747474"/><stop offset=".609" stop-color="#757575"/><stop offset=".686" stop-color="#868686"/><stop offset=".738" stop-color="#8e8e8e"/><stop offset=".835" stop-color="#959595"/><stop offset=".848" stop-color="#939393"/><stop offset=".87" stop-color="#8a8a8a"/><stop offset=".891" stop-color="#6e6e6e"/><stop offset=".899" stop-color="#656565"/><stop offset=".953" stop-color="#5f5f5f"/><stop offset=".974" stop-color="#666666"/><stop offset=".993" stop-color="#6b6b6b"/><stop offset=".999" stop-color="#4f4f4f"/></linearGradient>
<linearGradient id="c316" x2="0" y2="1"><stop offset=".001" stop-color="#595959"/><stop offset=".003" stop-color="#5d5d5d"/><stop offset=".119" stop-color="#5e5e5e"/><stop offset=".132" stop-color="#636363"/><stop offset=".489" stop-color="#6d6d6d"/><stop offset=".59" stop-color="#727272"/><stop offset=".609" stop-color="#747474"/><stop offset=".686" stop-color="#858585"/><stop offset=".738" stop-color="#8d8d8d"/><stop offset=".835" stop-color="#949494"/><stop offset=".848" stop-color="#929292"/><stop offset=".87" stop-color="#8a8a8a"/><stop offset=".889" stop-color="#707070"/><stop offset=".899" stop-color="#666666"/><stop offset=".953" stop-color="#5f5f5f"/><stop offset=".974" stop-color="#666666"/><stop offset=".993" stop-color="#6b6b6b"/><stop offset=".999" stop-color="#505050"/></linearGradient>
<linearGradient id="c317" x2="0" y2="1"><stop offset=".001" stop-color="#595959"/><stop offset=".003" stop-color="#5d5d5d"/><stop offset=".491" stop-color="#666666"/><stop offset=".584" stop-color="#6b6b6b"/><stop offset=".609" stop-color="#6d6d6d"/><stop offset=".684" stop-color="#7d7d7d"/><stop offset=".767" stop-color="#898989"/><stop offset=".796" stop-color="#909090"/><stop offset=".845" stop-color="#949494"/><stop offset=".864" stop-color="#8d8d8d"/><stop offset=".87" stop-color="#898989"/><stop offset=".881" stop-color="#7b7b7b"/><stop offset=".891" stop-color="#6b6b6b"/><stop offset=".895" stop-color="#666666"/><stop offset=".91" stop-color="#626262"/><stop offset=".953" stop-color="#5f5f5f"/><stop offset=".974" stop-color="#666666"/><stop offset=".993" stop-color="#6b6b6b"/><stop offset=".999" stop-color="#4f4f4f"/></linearGradient>
<linearGradient id="c318" x2="0" y2="1"><stop offset=".001" stop-color="#595959"/><stop offset=".003" stop-color="#5d5d5d"/><stop offset=".609" stop-color="#656565"/><stop offset=".719" stop-color="#6f6f6f"/><stop offset=".794" stop-color="#838383"/><stop offset=".845" stop-color="#898989"/><stop offset=".868" stop-color="#808080"/><stop offset=".883" stop-color="#6f6f6f"/><stop offset=".895" stop-color="#666666"/><stop offset=".953" stop-color="#5f5f5f"/><stop offset=".974" stop-color="#666666"/><stop offset=".993" stop-color="#6b6b6b"/><stop offset=".999" stop-color="#4f4f4f"/></linearGradient>
<linearGradient id="c319" x2="0" y2="1"><stop offset=".001" stop-color="#5a5a5a"/><stop offset=".003" stop-color="#5d5d5d"/><stop offset=".491" stop-color="#656565"/><stop offset=".607" stop-color="#696969"/><stop offset=".719" stop-color="#757575"/><stop offset=".796" stop-color="#888888"/><stop offset=".845" stop-color="#8e8e8e"/><stop offset=".868" stop-color="#848484"/><stop offset=".887" stop-color="#6d6d6d"/><stop offset=".895" stop-color="#666666"/><stop offset=".953" stop-color="#5f5f5f"/><stop offset=".974" stop-color="#666666"/><stop offset=".993" stop-color="#6b6b6b"/><stop offset=".999" stop-color="#4f4f4f"/></linearGradient>
<linearGradient id="c320" x2="0" y2="1"><stop offset=".001" stop-color="#626262"/><stop offset=".13" stop-color="#676767"/><stop offset=".364" stop-color="#737373"/><stop offset=".489" stop-color="#737373"/><stop offset=".561" stop-color="#777777"/><stop offset=".607" stop-color="#7a7a7a"/><stop offset=".686" stop-color="#8a8a8a"/><stop offset=".773" stop-color="#949494"/><stop offset=".835" stop-color="#9b9b9b"/><stop offset=".862" stop-color="#949494"/><stop offset=".87" stop-color="#8f8f8f"/><stop offset=".883" stop-color="#7d7d7d"/><stop offset=".891" stop-color="#6b6b6b"/><stop offset=".895" stop-color="#666666"/><stop offset=".91" stop-color="#626262"/><stop offset=".953" stop-color="#5f5f5f"/><stop offset=".974" stop-color="#666666"/><stop offset=".993" stop-color="#6b6b6b"/><stop offset=".999" stop-color="#4f4f4f"/></linearGradient>
<linearGradient id="c321" x2="0" y2="1"><stop offset=".001" stop-color="#6f6f6f"/><stop offset=".364" stop-color="#7e7e7e"/><stop offset=".489" stop-color="#7e7e7e"/><stop offset=".588" stop-color="#838383"/><stop offset=".609" stop-color="#858585"/><stop offset=".684" stop-color="#959595"/><stop offset=".835" stop-color="#a3a3a3"/><stop offset=".872" stop-color="#949494"/><stop offset=".887" stop-color="#7a7a7a"/><stop offset=".893" stop-color="#6d6d6d"/><stop offset=".899" stop-color="#656565"/><stop offset=".953" stop-color="#5f5f5f"/><stop offset=".974" stop-color="#666666"/><stop offset=".993" stop-color="#6b6b6b"/><stop offset=".999" stop-color="#505050"/></linearGradient>
<linearGradient id="c322" x2="0" y2="1"><stop offset=".001" stop-color="#6e6e6e"/><stop offset=".364" stop-color="#7e7e7e"/><stop offset=".489" stop-color="#7e7e7e"/><stop offset=".603" stop-color="#838383"/><stop offset=".684" stop-color="#949494"/><stop offset=".835" stop-color="#a3a3a3"/><stop offset=".872" stop-color="#939393"/><stop offset=".893" stop-color="#6d6d6d"/><stop offset=".899" stop-color="#656565"/><stop offset=".953" stop-color="#5f5f5f"/><stop offset=".974" stop-color="#666666"/><stop offset=".993" stop-color="#6b6b6b"/><stop offset=".999" stop-color="#505050"/></linearGradient>
<linearGradient id="c323" x2="0" y2="1"><stop offset=".001" stop-color="#686868"/><stop offset=".132" stop-color="#6d6d6d"/><stop offset=".364" stop-color="#787878"/><stop offset=".489" stop-color="#787878"/><stop offset=".607" stop-color="#7e7e7e"/><stop offset=".686" stop-color="#8f8f8f"/><stop offset=".738" stop-color="#949494"/><stop offset=".835" stop-color="#9e9e9e"/><stop offset=".864" stop-color="#949494"/><stop offset=".87" stop-color="#919191"/><stop offset=".883" stop-color="#7d7d7d"/><stop offset=".893" stop-color="#6a6a6a"/><stop offset=".897" stop-color="#666666"/><stop offset=".953" stop-color="#5f5f5f"/><stop offset=".974" stop-color="#666666"/><stop offset=".993" stop-color="#6b6b6b"/><stop offset=".999" stop-color="#505050"/></linearGradient>
<linearGradient id="c324" x2="0" y2="1"><stop offset=".001" stop-color="#5c5c5c"/><stop offset=".003" stop-color="#5f5f5f"/><stop offset=".287" stop-color="#656565"/><stop offset=".366" stop-color="#696969"/><stop offset=".489" stop-color="#696969"/><stop offset=".607" stop-color="#707070"/><stop offset=".661" stop-color="#7c7c7c"/><stop offset=".731" stop-color="#868686"/><stop offset=".794" stop-color="#949494"/><stop offset=".845" stop-color="#999999"/><stop offset=".86" stop-color="#949494"/><stop offset=".87" stop-color="#8e8e8e"/><stop offset=".883" stop-color="#7c7c7c"/><stop offset=".891" stop-color="#6a6a6a"/><stop offset=".895" stop-color="#666666"/><stop offset=".953" stop-color="#5f5f5f"/><stop offset=".974" stop-color="#666666"/><stop offset=".993" stop-color="#6b6b6b"/><stop offset=".999" stop-color="#505050"/></linearGradient>
<linearGradient id="c325" x2="0" y2="1"><stop offset=".001" stop-color="#595959"/><stop offset=".003" stop-color="#5d5d5d"/><stop offset=".491" stop-color="#626262"/><stop offset=".63" stop-color="#666666"/><stop offset=".711" stop-color="#737373"/><stop offset=".744" stop-color="#808080"/><stop offset=".796" stop-color="#8f8f8f"/><stop offset=".845" stop-color="#959595"/><stop offset=".868" stop-color="#8b8b8b"/><stop offset=".881" stop-color="#7c7c7c"/><stop offset=".891" stop-color="#696969"/><stop offset=".895" stop-color="#666666"/><stop offset=".953" stop-color="#5f5f5f"/><stop offset=".974" stop-color="#666666"/><stop offset=".993" stop-color="#6b6b6b"/><stop offset=".999" stop-color="#505050"/></linearGradient>
<linearGradient id="c326" x2="0" y2="1"><stop offset=".001" stop-color="#595959"/><stop offset=".003" stop-color="#5d5d5d"/><stop offset=".682" stop-color="#656565"/><stop offset=".702" stop-color="#6a6a6a"/><stop offset=".744" stop-color="#7d7d7d"/><stop offset=".794" stop-color="#8d8d8d"/><stop offset=".845" stop-color="#939393"/><stop offset=".868" stop-color="#898989"/><stop offset=".881" stop-color="#7a7a7a"/><stop offset=".889" stop-color="#6c6c6c"/><stop offset=".895" stop-color="#666666"/><stop offset=".953" stop-color="#5f5f5f"/><stop offset=".974" stop-color="#666666"/><stop offset=".993" stop-color="#6b6b6b"/><stop offset=".999" stop-color="#505050"/></linearGradient>
<linearGradient id="c327" x2="0" y2="1"><stop offset=".001" stop-color="#595959"/><stop offset=".003" stop-color="#5d5d5d"/><stop offset=".682" stop-color="#636363"/><stop offset=".706" stop-color="#6a6a6a"/><stop offset=".744" stop-color="#797979"/><stop offset=".794" stop-color="#888888"/><stop offset=".845" stop-color="#8e8e8e"/><stop offset=".868" stop-color="#848484"/><stop offset=".887" stop-color="#6d6d6d"/><stop offset=".895" stop-color="#666666"/><stop offset=".953" stop-color="#5f5f5f"/><stop offset=".974" stop-color="#666666"/><stop offset=".993" stop-color="#6b6b6b"/><stop offset=".999" stop-color="#505050"/></linearGradient>
<linearGradient id="c328" x2="0" y2="1"><stop offset=".001" stop-color="#595959"/><stop offset=".003" stop-color="#5d5d5d"/><stop offset=".684" stop-color="#646464"/><stop offset=".704" stop-color="#6a6a6a"/><stop offset=".744" stop-color="#7c7c7c"/><stop offset=".794" stop-color="#8c8c8c"/><stop offset=".845" stop-color="#929292"/><stop offset=".868" stop-color="#888888"/><stop offset=".881" stop-color="#797979"/><stop offset=".889" stop-color="#6c6c6c"/><stop offset=".895" stop-color="#666666"/><stop offset=".953" stop-color="#5f5f5f"/><stop offset=".974" stop-color="#666666"/><stop offset=".993" stop-color="#6b6b6b"/><stop offset=".999" stop-color="#505050"/></linearGradient>
<linearGradient id="c329" x2="0" y2="1"><stop offset=".001" stop-color="#595959"/><stop offset=".003" stop-color="#5d5d5d"/><stop offset=".684" stop-color="#646464"/><stop offset=".706" stop-color="#6a6a6a"/><stop offset=".744" stop-color="#7a7a7a"/><stop offset=".794" stop-color="#888888"/><stop offset=".845" stop-color="#8f8f8f"/><stop offset=".868" stop-color="#858585"/><stop offset=".889" stop-color="#6b6b6b"/><stop offset=".895" stop-color="#666666"/><stop offset=".953" stop-color="#5f5f5f"/><stop offset=".974" stop-color="#666666"/><stop offset=".993" stop-color="#6b6b6b"/><stop offset=".999" stop-color="#505050"/></linearGradient>
<linearGradient id="c330" x2="0" y2="1"><stop offset=".001" stop-color="#595959"/><stop offset=".003" stop-color="#5d5d5d"/><stop offset=".684" stop-color="#646464"/><stop offset=".704" stop-color="#6a6a6a"/><stop offset=".744" stop-color="#7a7a7a"/><stop offset=".794" stop-color="#898989"/><stop offset=".845" stop-color="#909090"/><stop offset=".868" stop-color="#868686"/><stop offset=".889" stop-color="#6b6b6b"/><stop offset=".895" stop-color="#666666"/><stop offset=".953" stop-color="#5f5f5f"/><stop offset=".974" stop-color="#666666"/><stop offset=".993" stop-color="#6b6b6b"/><stop offset=".999" stop-color="#505050"/></linearGradient>
<linearGradient id="c331" x2="0" y2="1"><stop offset=".001" stop-color="#595959"/><stop offset=".003" stop-color="#5d5d5d"/><stop offset=".684" stop-color="#646464"/><stop offset=".704" stop-color="#6a6a6a"/><stop offset=".744" stop-color="#7a7a7a"/><stop offset=".794" stop-color="#898989"/><stop offset=".845" stop-color="#8f8f8f"/><stop offset=".868" stop-color="#868686"/><stop offset=".889" stop-color="#6b6b6b"/><stop offset=".895" stop-color="#666666"/><stop offset=".953" stop-color="#5f5f5f"/><stop offset=".974" stop-color="#666666"/><stop offset=".993" stop-color="#6b6b6b"/><stop offset=".999" stop-color="#505050"/></linearGradient>
<linearGradient id="c332" x2="0" y2="1"><stop offset=".001" stop-color="#595959"/><stop offset=".003" stop-color="#5d5d5d"/><stop offset=".684" stop-color="#646464"/><stop offset=".704" stop-color="#6a6a6a"/><stop offset=".744" stop-color="#7d7d7d"/><stop offset=".794" stop-color="#8c8c8c"/><stop offset=".845" stop-color="#929292"/><stop offset=".868" stop-color="#898989"/><stop offset=".881" stop-color="#797979"/><stop offset=".889" stop-color="#6c6c6c"/><stop offset=".895" stop-color="#666666"/><stop offset=".953" stop-color="#5f5f5f"/><stop offset=".974" stop-color="#666666"/><stop offset=".993" stop-color="#6b6b6b"/><stop offset=".999" stop-color="#505050"/></linearGradient>
<linearGradient id="c333" x2="0" y2="1"><stop offset=".001" stop-color="#595959"/><stop offset=".003" stop-color="#5d5d5d"/><stop offset=".684" stop-color="#646464"/><stop offset=".7" stop-color="#686868"/><stop offset=".744" stop-color="#7b7b7b"/><stop offset=".794" stop-color="#8a8a8a"/><stop offset=".845" stop-color="#919191"/><stop offset=".868" stop-color="#878787"/><stop offset=".881" stop-color="#787878"/><stop offset=".889" stop-color="#6c6c6c"/><stop offset=".895" stop-color="#666666"/><stop offset=".953" stop-color="#5f5f5f"/><stop offset=".974" stop-color="#666666"/><stop offset=".993" stop-color="#6b6b6b"/><stop offset=".999" stop-color="#505050"/></linearGradient>
<linearGradient id="c334" x2="0" y2="1"><stop offset=".001" stop-color="#595959"/><stop offset=".003" stop-color="#5d5d5d"/><stop offset=".684" stop-color="#646464"/><stop offset=".702" stop-color="#696969"/><stop offset=".744" stop-color="#818181"/><stop offset=".794" stop-color="#919191"/><stop offset=".845" stop-color="#979797"/><stop offset=".856" stop-color="#939393"/><stop offset=".868" stop-color="#8d8d8d"/><stop offset=".881" stop-color="#7e7e7e"/><stop offset=".891" stop-color="#696969"/><stop offset=".895" stop-color="#666666"/><stop offset=".953" stop-color="#5f5f5f"/><stop offset=".974" stop-color="#666666"/><stop offset=".993" stop-color="#6b6b6b"/><stop offset=".999" stop-color="#505050"/></linearGradient>
<linearGradient id="c335" x2="0" y2="1"><stop offset=".001" stop-color="#595959"/><stop offset=".003" stop-color="#5d5d5d"/><stop offset=".684" stop-color="#646464"/><stop offset=".704" stop-color="#6a6a6a"/><stop offset=".744" stop-color="#7a7a7a"/><stop offset=".794" stop-color="#898989"/><stop offset=".845" stop-color="#909090"/><stop offset=".868" stop-color="#868686"/><stop offset=".889" stop-color="#6b6b6b"/><stop offset=".895" stop-color="#666666"/><stop offset=".953" stop-color="#5f5f5f"/><stop offset=".974" stop-color="#666666"/><stop offset=".993" stop-color="#6b6b6b"/><stop offset=".999" stop-color="#505050"/></linearGradient>
<linearGradient id="c336" x2="0" y2="1"><stop offset=".001" stop-color="#595959"/><stop offset=".003" stop-color="#5d5d5d"/><stop offset=".684" stop-color="#636363"/><stop offset=".702" stop-color="#686868"/><stop offset=".744" stop-color="#7a7a7a"/><stop offset=".794" stop-color="#888888"/><stop offset=".845" stop-color="#8f8f8f"/><stop offset=".868" stop-color="#868686"/><stop offset=".881" stop-color="#777777"/><stop offset=".889" stop-color="#6b6b6b"/><stop offset=".895" stop-color="#666666"/><stop offset=".953" stop-color="#5f5f5f"/><stop offset=".974" stop-color="#666666"/><stop offset=".993" stop-color="#6b6b6b"/><stop offset=".999" stop-color="#505050"/></linearGradient>
<linearGradient id="c337" x2="0" y2="1"><stop offset=".001" stop-color="#595959"/><stop offset=".003" stop-color="#5d5d5d"/><stop offset=".688" stop-color="#646464"/><stop offset=".702" stop-color="#666666"/><stop offset=".713" stop-color="#696969"/><stop offset=".744" stop-color="#7a7a7a"/><stop offset=".794" stop-color="#898989"/><stop offset=".845" stop-color="#919191"/><stop offset=".866" stop-color="#8c8c8c"/><stop offset=".881" stop-color="#7f7f7f"/><stop offset=".897" stop-color="#777777"/><stop offset=".912" stop-color="#686868"/><stop offset=".916" stop-color="#666666"/><stop offset=".953" stop-color="#5f5f5f"/><stop offset=".974" stop-color="#666666"/><stop offset=".993" stop-color="#6b6b6b"/><stop offset=".999" stop-color="#515151"/></linearGradient>
<linearGradient id="c338" x2="0" y2="1"><stop offset=".001" stop-color="#595959"/><stop offset=".003" stop-color="#5d5d5d"/><stop offset=".698" stop-color="#656565"/><stop offset=".721" stop-color="#6a6a6a"/><stop offset=".775" stop-color="#7c7c7c"/><stop offset=".835" stop-color="#949494"/><stop offset=".862" stop-color="#a0a0a0"/><stop offset=".897" stop-color="#939393"/><stop offset=".928" stop-color="#747474"/><stop offset=".937" stop-color="#666666"/><stop offset=".939" stop-color="#646464"/><stop offset=".955" stop-color="#5f5f5f"/><stop offset=".993" stop-color="#6b6b6b"/><stop offset=".999" stop-color="#515151"/></linearGradient>
<linearGradient id="c339" x2="0" y2="1"><stop offset=".001" stop-color="#606060"/><stop offset=".167" stop-color="#666666"/><stop offset=".364" stop-color="#717171"/><stop offset=".489" stop-color="#6a6a6a"/><stop offset=".607" stop-color="#6b6b6b"/><stop offset=".638" stop-color="#757575"/><stop offset=".64" stop-color="#727272"/><stop offset=".644" stop-color="#676767"/><stop offset=".648" stop-color="#656565"/><stop offset=".657" stop-color="#666666"/><stop offset=".677" stop-color="#6b6b6b"/><stop offset=".738" stop-color="#818181"/><stop offset=".771" stop-color="#949494"/><stop offset=".796" stop-color="#a3a3a3"/><stop offset=".862" stop-color="#c1c1c1"/><stop offset=".897" stop-color="#b5b5b5"/><stop offset=".928" stop-color="#969696"/><stop offset=".93" stop-color="#939393"/><stop offset=".943" stop-color="#777777"/><stop offset=".949" stop-color="#656565"/><stop offset=".951" stop-color="#616161"/><stop offset=".955" stop-color="#606060"/><stop offset=".974" stop-color="#666666"/><stop offset=".993" stop-color="#6b6b6b"/><stop offset=".999" stop-color="#515151"/></linearGradient>
<linearGradient id="c340" x2="0" y2="1"><stop offset=".001" stop-color="#696969"/><stop offset=".13" stop-color="#6e6e6e"/><stop offset=".24" stop-color="#767676"/><stop offset=".364" stop-color="#7c7c7c"/><stop offset=".491" stop-color="#747474"/><stop offset=".607" stop-color="#757575"/><stop offset=".638" stop-color="#828282"/><stop offset=".644" stop-color="#7f7f7f"/><stop offset=".659" stop-color="#838383"/><stop offset=".7" stop-color="#949494"/><stop offset=".74" stop-color="#a4a4a4"/><stop offset=".796" stop-color="#c2c2c2"/><stop offset=".862" stop-color="#e0e0e0"/><stop offset=".897" stop-color="#d4d4d4"/><stop offset=".928" stop-color="#b6b6b6"/><stop offset=".945" stop-color="#929292"/><stop offset=".953" stop-color="#727272"/><stop offset=".955" stop-color="#6c6c6c"/><stop offset=".96" stop-color="#666666"/><stop offset=".972" stop-color="#656565"/><stop offset=".993" stop-color="#6b6b6b"/><stop offset=".999" stop-color="#525252"/></linearGradient>
<linearGradient id="c341" x2="0" y2="1"><stop offset=".001" stop-color="#6a6a6a"/><stop offset=".13" stop-color="#6f6f6f"/><stop offset=".24" stop-color="#787878"/><stop offset=".364" stop-color="#7e7e7e"/><stop offset=".491" stop-color="#757575"/><stop offset=".607" stop-color="#767676"/><stop offset=".634" stop-color="#828282"/><stop offset=".638" stop-color="#838383"/><stop offset=".642" stop-color="#818181"/><stop offset=".646" stop-color="#818181"/><stop offset=".696" stop-color="#949494"/><stop offset=".74" stop-color="#a5a5a5"/><stop offset=".796" stop-color="#c3c3c3"/><stop offset=".862" stop-color="#e0e0e0"/><stop offset=".897" stop-color="#d4d4d4"/><stop offset=".928" stop-color="#b7b7b7"/><stop offset=".945" stop-color="#949494"/><stop offset=".955" stop-color="#6c6c6c"/><stop offset=".96" stop-color="#666666"/><stop offset=".972" stop-color="#656565"/><stop offset=".993" stop-color="#6b6b6b"/><stop offset=".999" stop-color="#525252"/></linearGradient>
<linearGradient id="c342" x2="0" y2="1"><stop offset=".001" stop-color="#5b5b5b"/><stop offset=".003" stop-color="#5e5e5e"/><stop offset=".298" stop-color="#666666"/><stop offset=".364" stop-color="#696969"/><stop offset=".472" stop-color="#656565"/><stop offset=".609" stop-color="#666666"/><stop offset=".617" stop-color="#696969"/><stop offset=".634" stop-color="#7c7c7c"/><stop offset=".659" stop-color="#848484"/><stop offset=".7" stop-color="#949494"/><stop offset=".74" stop-color="#a4a4a4"/><stop offset=".796" stop-color="#c2c2c2"/><stop offset=".862" stop-color="#e0e0e0"/><stop offset=".897" stop-color="#d4d4d4"/><stop offset=".928" stop-color="#b6b6b6"/><stop offset=".945" stop-color="#939393"/><stop offset=".953" stop-color="#727272"/><stop offset=".955" stop-color="#6c6c6c"/><stop offset=".96" stop-color="#666666"/><stop offset=".972" stop-color="#656565"/><stop offset=".993" stop-color="#6b6b6b"/><stop offset=".999" stop-color="#525252"/></linearGradient>
<linearGradient id="c343" x2="0" y2="1"><stop offset=".001" stop-color="#595959"/><stop offset=".003" stop-color="#5d5d5d"/><stop offset=".611" stop-color="#626262"/><stop offset=".619" stop-color="#676767"/><stop offset=".634" stop-color="#727272"/><stop offset=".686" stop-color="#838383"/><stop offset=".727" stop-color="#949494"/><stop offset=".796" stop-color="#bbbbbb"/><stop offset=".862" stop-color="#dcdcdc"/><stop offset=".897" stop-color="#cfcfcf"/><stop offset=".928" stop-color="#aeaeae"/><stop offset=".941" stop-color="#919191"/><stop offset=".945" stop-color="#888888"/><stop offset=".951" stop-color="#727272"/><stop offset=".955" stop-color="#686868"/><stop offset=".96" stop-color="#656565"/><stop offset=".966" stop-color="#646464"/><stop offset=".993" stop-color="#6b6b6b"/><stop offset=".999" stop-color="#535353"/></linearGradient>
<linearGradient id="c344" x2="0" y2="1"><stop offset=".001" stop-color="#595959"/><stop offset=".003" stop-color="#5d5d5d"/><stop offset=".613" stop-color="#626262"/><stop offset=".621" stop-color="#676767"/><stop offset=".634" stop-color="#717171"/><stop offset=".69" stop-color="#838383"/><stop offset=".731" stop-color="#949494"/><stop offset=".796" stop-color="#b9b9b9"/><stop offset=".862" stop-color="#dadada"/><stop offset=".897" stop-color="#cdcdcd"/><stop offset=".928" stop-color="#acacac"/><stop offset=".939" stop-color="#949494"/><stop offset=".945" stop-color="#868686"/><stop offset=".951" stop-color="#707070"/><stop offset=".955" stop-color="#676767"/><stop offset=".966" stop-color="#646464"/><stop offset=".993" stop-color="#6b6b6b"/><stop offset=".999" stop-color="#535353"/></linearGradient>
<linearGradient id="c345" x2="0" y2="1"><stop offset=".001" stop-color="#595959"/><stop offset=".003" stop-color="#5d5d5d"/><stop offset=".613" stop-color="#626262"/><stop offset=".621" stop-color="#666666"/><stop offset=".634" stop-color="#6f6f6f"/><stop offset=".671" stop-color="#797979"/><stop offset=".742" stop-color="#959595"/><stop offset=".796" stop-color="#b6b6b6"/><stop offset=".862" stop-color="#d7d7d7"/><stop offset=".897" stop-color="#cacaca"/><stop offset=".928" stop-color="#a8a8a8"/><stop offset=".937" stop-color="#959595"/><stop offset=".939" stop-color="#919191"/><stop offset=".945" stop-color="#828282"/><stop offset=".951" stop-color="#6e6e6e"/><stop offset=".955" stop-color="#666666"/><stop offset=".968" stop-color="#646464"/><stop offset=".993" stop-color="#6b6b6b"/><stop offset=".997" stop-color="#5b5b5b"/><stop offset=".999" stop-color="#545454"/></linearGradient>
<linearGradient id="c346" x2="0" y2="1"><stop offset=".001" stop-color="#595959"/><stop offset=".003" stop-color="#5d5d5d"/><stop offset=".615" stop-color="#626262"/><stop offset=".623" stop-color="#666666"/><stop offset=".634" stop-color="#6b6b6b"/><stop offset=".657" stop-color="#6e6e6e"/><stop offset=".684" stop-color="#777777"/><stop offset=".738" stop-color="#8b8b8b"/><stop offset=".754" stop-color="#949494"/><stop offset=".794" stop-color="#afafaf"/><stop offset=".862" stop-color="#d4d4d4"/><stop offset=".897" stop-color="#c5c5c5"/><stop offset=".928" stop-color="#a1a1a1"/><stop offset=".935" stop-color="#939393"/><stop offset=".945" stop-color="#7b7b7b"/><stop offset=".949" stop-color="#6e6e6e"/><stop offset=".951" stop-color="#6a6a6a"/><stop offset=".955" stop-color="#646464"/><stop offset=".97" stop-color="#656565"/><stop offset=".993" stop-color="#6b6b6b"/><stop offset=".997" stop-color="#5b5b5b"/><stop offset=".999" stop-color="#545454"/></linearGradient>
<linearGradient id="c347" x2="0" y2="1"><stop offset=".001" stop-color="#595959"/><stop offset=".003" stop-color="#5d5d5d"/><stop offset=".615" stop-color="#626262"/><stop offset=".626" stop-color="#666666"/><stop offset=".634" stop-color="#6b6b6b"/><stop offset=".663" stop-color="#707070"/><stop offset=".686" stop-color="#777777"/><stop offset=".738" stop-color="#8b8b8b"/><stop offset=".754" stop-color="#949494"/><stop offset=".794" stop-color="#aeaeae"/><stop offset=".862" stop-color="#d2d2d2"/><stop offset=".897" stop-color="#c4c4c4"/><stop offset=".928" stop-color="#a0a0a0"/><stop offset=".935" stop-color="#939393"/><stop offset=".945" stop-color="#7b7b7b"/><stop offset=".949" stop-color="#6e6e6e"/><stop offset=".953" stop-color="#666666"/><stop offset=".955" stop-color="#636363"/><stop offset=".974" stop-color="#666666"/><stop offset=".993" stop-color="#6b6b6b"/><stop offset=".997" stop-color="#5b5b5b"/><stop offset=".999" stop-color="#555555"/></linearGradient>
<linearGradient id="c348" x2="0" y2="1"><stop offset=".001" stop-color="#595959"/><stop offset=".003" stop-color="#5d5d5d"/><stop offset=".617" stop-color="#626262"/><stop offset=".626" stop-color="#656565"/><stop offset=".634" stop-color="#6a6a6a"/><stop offset=".671" stop-color="#6f6f6f"/><stop offset=".731" stop-color="#838383"/><stop offset=".762" stop-color="#949494"/><stop offset=".794" stop-color="#a9a9a9"/><stop offset=".862" stop-color="#cecece"/><stop offset=".897" stop-color="#c0c0c0"/><stop offset=".928" stop-color="#9c9c9c"/><stop offset=".933" stop-color="#939393"/><stop offset=".945" stop-color="#777777"/><stop offset=".949" stop-color="#6b6b6b"/><stop offset=".955" stop-color="#626262"/><stop offset=".974" stop-color="#666666"/><stop offset=".993" stop-color="#6b6b6b"/><stop offset=".997" stop-color="#5b5b5b"/><stop offset=".999" stop-color="#555555"/></linearGradient>
<linearGradient id="c349" x2="0" y2="1"><stop offset=".001" stop-color="#595959"/><stop offset=".003" stop-color="#5d5d5d"/><stop offset=".619" stop-color="#626262"/><stop offset=".628" stop-color="#666666"/><stop offset=".634" stop-color="#696969"/><stop offset=".677" stop-color="#6f6f6f"/><stop offset=".738" stop-color="#848484"/><stop offset=".767" stop-color="#949494"/><stop offset=".796" stop-color="#a8a8a8"/><stop offset=".862" stop-color="#cccccc"/><stop offset=".897" stop-color="#bdbdbd"/><stop offset=".928" stop-color="#999999"/><stop offset=".933" stop-color="#919191"/><stop offset=".945" stop-color="#757575"/><stop offset=".949" stop-color="#6b6b6b"/><stop offset=".953" stop-color="#646464"/><stop offset=".964" stop-color="#636363"/><stop offset=".993" stop-color="#6c6c6c"/><stop offset=".997" stop-color="#5c5c5c"/><stop offset=".999" stop-color="#565656"/></linearGradient>
<linearGradient id="c350" x2="0" y2="1"><stop offset=".001" stop-color="#595959"/><stop offset=".003" stop-color="#5d5d5d"/><stop offset=".621" stop-color="#626262"/><stop offset=".692" stop-color="#787878"/><stop offset=".738" stop-color="#888888"/><stop offset=".758" stop-color="#949494"/><stop offset=".796" stop-color="#ababab"/><stop offset=".862" stop-color="#cbcbcb"/><stop offset=".897" stop-color="#bebebe"/><stop offset=".928" stop-color="#9d9d9d"/><stop offset=".933" stop-color="#959595"/><stop offset=".935" stop-color="#909090"/><stop offset=".945" stop-color="#797979"/><stop offset=".951" stop-color="#676767"/><stop offset=".953" stop-color="#636363"/><stop offset=".957" stop-color="#616161"/><stop offset=".974" stop-color="#666666"/><stop offset=".993" stop-color="#6c6c6c"/><stop offset=".997" stop-color="#5c5c5c"/><stop offset=".999" stop-color="#575757"/></linearGradient>
<linearGradient id="c351" x2="0" y2="1"><stop offset=".001" stop-color="#595959"/><stop offset=".003" stop-color="#5d5d5d"/><stop offset=".748" stop-color="#636363"/><stop offset=".756" stop-color="#656565"/><stop offset=".76" stop-color="#696969"/><stop offset=".781" stop-color="#828282"/><stop offset=".831" stop-color="#848484"/><stop offset=".862" stop-color="#8a8a8a"/><stop offset=".866" stop-color="#898989"/><stop offset=".874" stop-color="#828282"/><stop offset=".897" stop-color="#7b7b7b"/><stop offset=".916" stop-color="#6c6c6c"/><stop offset=".926" stop-color="#656565"/><stop offset=".937" stop-color="#616161"/><stop offset=".955" stop-color="#606060"/><stop offset=".993" stop-color="#6c6c6c"/><stop offset=".997" stop-color="#5c5c5c"/><stop offset=".999" stop-color="#585858"/></linearGradient>
<linearGradient id="c352" x2="0" y2="1"><stop offset=".001" stop-color="#595959"/><stop offset=".003" stop-color="#5d5d5d"/><stop offset=".748" stop-color="#636363"/><stop offset=".758" stop-color="#666666"/><stop offset=".771" stop-color="#737373"/><stop offset=".781" stop-color="#818181"/><stop offset=".866" stop-color="#838383"/><stop offset=".868" stop-color="#818181"/><stop offset=".874" stop-color="#737373"/><stop offset=".879" stop-color="#6c6c6c"/><stop offset=".885" stop-color="#666666"/><stop offset=".904" stop-color="#626262"/><stop offset=".953" stop-color="#5f5f5f"/><stop offset=".993" stop-color="#6c6c6c"/><stop offset=".997" stop-color="#5c5c5c"/><stop offset=".999" stop-color="#585858"/></linearGradient>
<linearGradient id="c353" x2="0" y2="1"><stop offset=".001" stop-color="#595959"/><stop offset=".003" stop-color="#5d5d5d"/><stop offset=".748" stop-color="#636363"/><stop offset=".756" stop-color="#656565"/><stop offset=".76" stop-color="#686868"/><stop offset=".781" stop-color="#828282"/><stop offset=".866" stop-color="#858585"/><stop offset=".868" stop-color="#828282"/><stop offset=".874" stop-color="#747474"/><stop offset=".881" stop-color="#696969"/><stop offset=".887" stop-color="#666666"/><stop offset=".953" stop-color="#616161"/><stop offset=".972" stop-color="#666666"/><stop offset=".993" stop-color="#6c6c6c"/><stop offset=".997" stop-color="#5f5f5f"/><stop offset=".999" stop-color="#5c5c5c"/></linearGradient>
<linearGradient id="c354" x2="0" y2="1"><stop offset=".001" stop-color="#595959"/><stop offset=".003" stop-color="#5d5d5d"/><stop offset=".748" stop-color="#636363"/><stop offset=".756" stop-color="#656565"/><stop offset=".76" stop-color="#686868"/><stop offset=".781" stop-color="#848484"/><stop offset=".866" stop-color="#878787"/><stop offset=".87" stop-color="#838383"/><stop offset=".872" stop-color="#828282"/><stop offset=".879" stop-color="#868686"/><stop offset=".999" stop-color="#848484"/></linearGradient>
<linearGradient id="c355" x2="0" y2="1"><stop offset=".001" stop-color="#595959"/><stop offset=".003" stop-color="#5d5d5d"/><stop offset=".748" stop-color="#636363"/><stop offset=".756" stop-color="#656565"/><stop offset=".76" stop-color="#686868"/><stop offset=".781" stop-color="#838383"/><stop offset=".866" stop-color="#868686"/><stop offset=".868" stop-color="#838383"/><stop offset=".877" stop-color="#727272"/><stop offset=".883" stop-color="#6c6c6c"/><stop offset=".955" stop-color="#696969"/><stop offset=".993" stop-color="#6d6d6d"/><stop offset=".997" stop-color="#686868"/><stop offset=".999" stop-color="#686868"/></linearGradient>
<linearGradient id="c356" x2="0" y2="1"><stop offset=".001" stop-color="#595959"/><stop offset=".003" stop-color="#5d5d5d"/><stop offset=".744" stop-color="#636363"/><stop offset=".754" stop-color="#666666"/><stop offset=".76" stop-color="#6a6a6a"/><stop offset=".781" stop-color="#858585"/><stop offset=".8" stop-color="#878787"/><stop offset=".833" stop-color="#949494"/><stop offset=".858" stop-color="#a0a0a0"/><stop offset=".91" stop-color="#9e9e9e"/><stop offset=".916" stop-color="#929292"/><stop offset=".924" stop-color="#818181"/><stop offset=".935" stop-color="#676767"/><stop offset=".939" stop-color="#626262"/><stop offset=".955" stop-color="#606060"/><stop offset=".993" stop-color="#6c6c6c"/><stop offset=".997" stop-color="#5e5e5e"/><stop offset=".999" stop-color="#5c5c5c"/></linearGradient>
<linearGradient id="c357" x2="0" y2="1"><stop offset=".001" stop-color="#595959"/><stop offset=".003" stop-color="#5d5d5d"/><stop offset=".644" stop-color="#626262"/><stop offset=".655" stop-color="#666666"/><stop offset=".669" stop-color="#717171"/><stop offset=".721" stop-color="#838383"/><stop offset=".762" stop-color="#949494"/><stop offset=".858" stop-color="#b9b9b9"/><stop offset=".91" stop-color="#b7b7b7"/><stop offset=".926" stop-color="#969696"/><stop offset=".937" stop-color="#767676"/><stop offset=".943" stop-color="#696969"/><stop offset=".945" stop-color="#666666"/><stop offset=".964" stop-color="#636363"/><stop offset=".993" stop-color="#6c6c6c"/><stop offset=".997" stop-color="#5f5f5f"/><stop offset=".999" stop-color="#5d5d5d"/></linearGradient>
<linearGradient id="c358" x2="0" y2="1"><stop offset=".001" stop-color="#595959"/><stop offset=".003" stop-color="#5d5d5d"/><stop offset=".642" stop-color="#626262"/><stop offset=".648" stop-color="#666666"/><stop offset=".669" stop-color="#757575"/><stop offset=".711" stop-color="#838383"/><stop offset=".752" stop-color="#949494"/><stop offset=".858" stop-color="#bababa"/><stop offset=".908" stop-color="#b8b8b8"/><stop offset=".926" stop-color="#959595"/><stop offset=".937" stop-color="#747474"/><stop offset=".943" stop-color="#696969"/><stop offset=".945" stop-color="#676767"/><stop offset=".953" stop-color="#636363"/><stop offset=".964" stop-color="#646464"/><stop offset=".993" stop-color="#6c6c6c"/><stop offset=".997" stop-color="#5f5f5f"/><stop offset=".999" stop-color="#5c5c5c"/></linearGradient>
<linearGradient id="c359" x2="0" y2="1"><stop offset=".001" stop-color="#595959"/><stop offset=".003" stop-color="#5d5d5d"/><stop offset=".644" stop-color="#626262"/><stop offset=".655" stop-color="#686868"/><stop offset=".669" stop-color="#757575"/><stop offset=".754" stop-color="#949494"/><stop offset=".858" stop-color="#bababa"/><stop offset=".91" stop-color="#b7b7b7"/><stop offset=".926" stop-color="#979797"/><stop offset=".928" stop-color="#909090"/><stop offset=".933" stop-color="#828282"/><stop offset=".937" stop-color="#777777"/><stop offset=".943" stop-color="#696969"/><stop offset=".945" stop-color="#666666"/><stop offset=".964" stop-color="#646464"/><stop offset=".993" stop-color="#6c6c6c"/><stop offset=".997" stop-color="#606060"/><stop offset=".999" stop-color="#5f5f5f"/></linearGradient>
<linearGradient id="c360" x2="0" y2="1"><stop offset=".001" stop-color="#595959"/><stop offset=".003" stop-color="#5d5d5d"/><stop offset=".646" stop-color="#626262"/><stop offset=".657" stop-color="#666666"/><stop offset=".669" stop-color="#717171"/><stop offset=".723" stop-color="#838383"/><stop offset=".765" stop-color="#949494"/><stop offset=".858" stop-color="#bababa"/><stop offset=".91" stop-color="#b7b7b7"/><stop offset=".926" stop-color="#979797"/><stop offset=".937" stop-color="#777777"/><stop offset=".943" stop-color="#696969"/><stop offset=".945" stop-color="#666666"/><stop offset=".964" stop-color="#646464"/><stop offset=".993" stop-color="#6c6c6c"/><stop offset=".997" stop-color="#616161"/><stop offset=".999" stop-color="#606060"/></linearGradient>
<linearGradient id="c361" x2="0" y2="1"><stop offset=".001" stop-color="#595959"/><stop offset=".003" stop-color="#5d5d5d"/><stop offset=".648" stop-color="#626262"/><stop offset=".661" stop-color="#666666"/><stop offset=".669" stop-color="#6c6c6c"/><stop offset=".74" stop-color="#838383"/><stop offset=".779" stop-color="#949494"/><stop offset=".858" stop-color="#b9b9b9"/><stop offset=".908" stop-color="#b8b8b8"/><stop offset=".926" stop-color="#959595"/><stop offset=".937" stop-color="#767676"/><stop offset=".943" stop-color="#686868"/><stop offset=".945" stop-color="#666666"/><stop offset=".964" stop-color="#646464"/><stop offset=".993" stop-color="#6c6c6c"/><stop offset=".997" stop-color="#616161"/><stop offset=".999" stop-color="#616161"/></linearGradient>
<linearGradient id="c362" x2="0" y2="1"><stop offset=".001" stop-color="#595959"/><stop offset=".003" stop-color="#5d5d5d"/><stop offset=".655" stop-color="#636363"/><stop offset=".665" stop-color="#666666"/><stop offset=".742" stop-color="#7e7e7e"/><stop offset=".762" stop-color="#868686"/><stop offset=".789" stop-color="#949494"/><stop offset=".858" stop-color="#b7b7b7"/><stop offset=".908" stop-color="#b7b7b7"/><stop offset=".926" stop-color="#939393"/><stop offset=".933" stop-color="#808080"/><stop offset=".937" stop-color="#757575"/><stop offset=".943" stop-color="#686868"/><stop offset=".945" stop-color="#666666"/><stop offset=".964" stop-color="#646464"/><stop offset=".993" stop-color="#6c6c6c"/><stop offset=".997" stop-color="#626262"/><stop offset=".999" stop-color="#616161"/></linearGradient>
<linearGradient id="c363" x2="0" y2="1"><stop offset=".001" stop-color="#595959"/><stop offset=".003" stop-color="#5d5d5d"/><stop offset=".659" stop-color="#636363"/><stop offset=".688" stop-color="#6b6b6b"/><stop offset=".74" stop-color="#7c7c7c"/><stop offset=".76" stop-color="#848484"/><stop offset=".787" stop-color="#949494"/><stop offset=".858" stop-color="#b9b9b9"/><stop offset=".91" stop-color="#b7b7b7"/><stop offset=".926" stop-color="#969696"/><stop offset=".937" stop-color="#777777"/><stop offset=".943" stop-color="#686868"/><stop offset=".945" stop-color="#666666"/><stop offset=".964" stop-color="#646464"/><stop offset=".993" stop-color="#6c6c6c"/><stop offset=".997" stop-color="#636363"/><stop offset=".999" stop-color="#636363"/></linearGradient>
<linearGradient id="c364" x2="0" y2="1"><stop offset=".001" stop-color="#595959"/><stop offset=".003" stop-color="#5d5d5d"/><stop offset=".601" stop-color="#626262"/><stop offset=".657" stop-color="#656565"/><stop offset=".682" stop-color="#6b6b6b"/><stop offset=".74" stop-color="#7f7f7f"/><stop offset=".781" stop-color="#959595"/><stop offset=".858" stop-color="#bababa"/><stop offset=".91" stop-color="#b8b8b8"/><stop offset=".926" stop-color="#979797"/><stop offset=".939" stop-color="#737373"/><stop offset=".943" stop-color="#696969"/><stop offset=".945" stop-color="#666666"/><stop offset=".964" stop-color="#646464"/><stop offset=".993" stop-color="#6c6c6c"/><stop offset=".997" stop-color="#646464"/><stop offset=".999" stop-color="#656565"/></linearGradient>
<linearGradient id="c365" x2="0" y2="1"><stop offset=".001" stop-color="#595959"/><stop offset=".003" stop-color="#5d5d5d"/><stop offset=".58" stop-color="#626262"/><stop offset=".636" stop-color="#666666"/><stop offset=".659" stop-color="#6b6b6b"/><stop offset=".735" stop-color="#838383"/><stop offset=".771" stop-color="#949494"/><stop offset=".858" stop-color="#bababa"/><stop offset=".91" stop-color="#b7b7b7"/><stop offset=".926" stop-color="#959595"/><stop offset=".937" stop-color="#767676"/><stop offset=".943" stop-color="#686868"/><stop offset=".945" stop-color="#666666"/><stop offset=".964" stop-color="#656565"/><stop offset=".993" stop-color="#6c6c6c"/><stop offset=".997" stop-color="#646464"/><stop offset=".999" stop-color="#656565"/></linearGradient>
<linearGradient id="c366" x2="0" y2="1"><stop offset=".001" stop-color="#595959"/><stop offset=".003" stop-color="#5d5d5d"/><stop offset=".607" stop-color="#666666"/><stop offset=".634" stop-color="#6b6b6b"/><stop offset=".655" stop-color="#717171"/><stop offset=".715" stop-color="#848484"/><stop offset=".754" stop-color="#949494"/><stop offset=".796" stop-color="#a9a9a9"/><stop offset=".858" stop-color="#bebebe"/><stop offset=".91" stop-color="#b8b8b8"/><stop offset=".926" stop-color="#949494"/><stop offset=".933" stop-color="#808080"/><stop offset=".937" stop-color="#757575"/><stop offset=".943" stop-color="#686868"/><stop offset=".945" stop-color="#666666"/><stop offset=".964" stop-color="#656565"/><stop offset=".993" stop-color="#6c6c6c"/><stop offset=".997" stop-color="#656565"/><stop offset=".999" stop-color="#656565"/></linearGradient>
<linearGradient id="c367" x2="0" y2="1"><stop offset=".001" stop-color="#595959"/><stop offset=".003" stop-color="#5d5d5d"/><stop offset=".491" stop-color="#666666"/><stop offset=".601" stop-color="#6a6a6a"/><stop offset=".648" stop-color="#707070"/><stop offset=".709" stop-color="#848484"/><stop offset=".75" stop-color="#949494"/><stop offset=".796" stop-color="#adadad"/><stop offset=".858" stop-color="#c3c3c3"/><stop offset=".908" stop-color="#bbbbbb"/><stop offset=".91" stop-color="#b8b8b8"/><stop offset=".924" stop-color="#939393"/><stop offset=".937" stop-color="#6f6f6f"/><stop offset=".945" stop-color="#666666"/><stop offset=".962" stop-color="#656565"/><stop offset=".993" stop-color="#6d6d6d"/><stop offset=".999" stop-color="#5f5f5f"/></linearGradient>
<linearGradient id="c368" x2="0" y2="1"><stop offset=".001" stop-color="#595959"/><stop offset=".003" stop-color="#5d5d5d"/><stop offset=".119" stop-color="#5d5d5d"/><stop offset=".132" stop-color="#616161"/><stop offset=".198" stop-color="#656565"/><stop offset=".366" stop-color="#696969"/><stop offset=".491" stop-color="#6a6a6a"/><stop offset=".603" stop-color="#6e6e6e"/><stop offset=".636" stop-color="#737373"/><stop offset=".729" stop-color="#949494"/><stop offset=".794" stop-color="#b5b5b5"/><stop offset=".858" stop-color="#cccccc"/><stop offset=".908" stop-color="#c3c3c3"/><stop offset=".91" stop-color="#bfbfbf"/><stop offset=".924" stop-color="#959595"/><stop offset=".926" stop-color="#909090"/><stop offset=".933" stop-color="#7a7a7a"/><stop offset=".937" stop-color="#6e6e6e"/><stop offset=".943" stop-color="#686868"/><stop offset=".957" stop-color="#646464"/><stop offset=".993" stop-color="#6d6d6d"/><stop offset=".999" stop-color="#5f5f5f"/></linearGradient>
<linearGradient id="c369" x2="0" y2="1"><stop offset=".001" stop-color="#595959"/><stop offset=".003" stop-color="#5d5d5d"/><stop offset=".119" stop-color="#5e5e5e"/><stop offset=".132" stop-color="#636363"/><stop offset=".364" stop-color="#707070"/><stop offset=".489" stop-color="#707070"/><stop offset=".59" stop-color="#757575"/><stop offset=".634" stop-color="#7e7e7e"/><stop offset=".692" stop-color="#949494"/><stop offset=".74" stop-color="#a5a5a5"/><stop offset=".796" stop-color="#c0c0c0"/><stop offset=".858" stop-color="#d4d4d4"/><stop offset=".908" stop-color="#cbcbcb"/><stop offset=".91" stop-color="#c8c8c8"/><stop offset=".928" stop-color="#959595"/><stop offset=".933" stop-color="#848484"/><stop offset=".937" stop-color="#777777"/><stop offset=".943" stop-color="#6b6b6b"/><stop offset=".947" stop-color="#676767"/><stop offset=".962" stop-color="#656565"/><stop offset=".993" stop-color="#6d6d6d"/><stop offset=".997" stop-color="#686868"/><stop offset=".999" stop-color="#686868"/></linearGradient>
<linearGradient id="c370" x2="0" y2="1"><stop offset=".001" stop-color="#595959"/><stop offset=".003" stop-color="#5d5d5d"/><stop offset=".119" stop-color="#5e5e5e"/><stop offset=".132" stop-color="#636363"/><stop offset=".364" stop-color="#707070"/><stop offset=".489" stop-color="#707070"/><stop offset=".586" stop-color="#757575"/><stop offset=".603" stop-color="#777777"/><stop offset=".628" stop-color="#7f7f7f"/><stop offset=".634" stop-color="#7f7f7f"/><stop offset=".69" stop-color="#949494"/><stop offset=".74" stop-color="#a6a6a6"/><stop offset=".796" stop-color="#c0c0c0"/><stop offset=".858" stop-color="#d4d4d4"/><stop offset=".908" stop-color="#cbcbcb"/><stop offset=".91" stop-color="#c8c8c8"/><stop offset=".928" stop-color="#959595"/><stop offset=".933" stop-color="#858585"/><stop offset=".937" stop-color="#777777"/><stop offset=".943" stop-color="#6b6b6b"/><stop offset=".947" stop-color="#676767"/><stop offset=".953" stop-color="#656565"/><stop offset=".962" stop-color="#666666"/><stop offset=".993" stop-color="#6d6d6d"/><stop offset=".997" stop-color="#696969"/><stop offset=".999" stop-color="#696969"/></linearGradient>
<linearGradient id="c371" x2="0" y2="1"><stop offset=".001" stop-color="#595959"/><stop offset=".003" stop-color="#5d5d5d"/><stop offset=".121" stop-color="#5e5e5e"/><stop offset=".132" stop-color="#616161"/><stop offset=".215" stop-color="#666666"/><stop offset=".364" stop-color="#707070"/><stop offset=".489" stop-color="#707070"/><stop offset=".582" stop-color="#757575"/><stop offset=".599" stop-color="#797979"/><stop offset=".615" stop-color="#808080"/><stop offset=".634" stop-color="#858585"/><stop offset=".671" stop-color="#949494"/><stop offset=".796" stop-color="#c4c4c4"/><stop offset=".858" stop-color="#d5d5d5"/><stop offset=".91" stop-color="#cbcbcb"/><stop offset=".924" stop-color="#a9a9a9"/><stop offset=".928" stop-color="#9c9c9c"/><stop offset=".93" stop-color="#949494"/><stop offset=".935" stop-color="#848484"/><stop offset=".943" stop-color="#6c6c6c"/><stop offset=".945" stop-color="#696969"/><stop offset=".949" stop-color="#666666"/><stop offset=".962" stop-color="#666666"/><stop offset=".993" stop-color="#6e6e6e"/><stop offset=".995" stop-color="#6b6b6b"/><stop offset=".999" stop-color="#707070"/></linearGradient>
<linearGradient id="c372" x2="0" y2="1"><stop offset=".001" stop-color="#595959"/><stop offset=".003" stop-color="#5d5d5d"/><stop offset=".491" stop-color="#666666"/><stop offset=".58" stop-color="#696969"/><stop offset=".596" stop-color="#707070"/><stop offset=".615" stop-color="#7c7c7c"/><stop offset=".679" stop-color="#949494"/><stop offset=".74" stop-color="#a9a9a9"/><stop offset=".796" stop-color="#c2c2c2"/><stop offset=".858" stop-color="#d4d4d4"/><stop offset=".908" stop-color="#cccccc"/><stop offset=".91" stop-color="#c9c9c9"/><stop offset=".928" stop-color="#999999"/><stop offset=".93" stop-color="#919191"/><stop offset=".935" stop-color="#818181"/><stop offset=".941" stop-color="#707070"/><stop offset=".945" stop-color="#696969"/><stop offset=".949" stop-color="#666666"/><stop offset=".96" stop-color="#666666"/><stop offset=".993" stop-color="#6e6e6e"/><stop offset=".995" stop-color="#6c6c6c"/><stop offset=".999" stop-color="#6e6e6e"/></linearGradient>
<linearGradient id="c373" x2="0" y2="1"><stop offset=".001" stop-color="#595959"/><stop offset=".003" stop-color="#5d5d5d"/><stop offset=".58" stop-color="#646464"/><stop offset=".584" stop-color="#666666"/><stop offset=".594" stop-color="#6c6c6c"/><stop offset=".615" stop-color="#7b7b7b"/><stop offset=".682" stop-color="#949494"/><stop offset=".74" stop-color="#a8a8a8"/><stop offset=".796" stop-color="#c2c2c2"/><stop offset=".858" stop-color="#d4d4d4"/><stop offset=".908" stop-color="#cccccc"/><stop offset=".91" stop-color="#c9c9c9"/><stop offset=".928" stop-color="#989898"/><stop offset=".935" stop-color="#808080"/><stop offset=".939" stop-color="#747474"/><stop offset=".943" stop-color="#6b6b6b"/><stop offset=".949" stop-color="#666666"/><stop offset=".957" stop-color="#666666"/><stop offset=".968" stop-color="#6a6a6a"/><stop offset=".993" stop-color="#6e6e6e"/><stop offset=".995" stop-color="#6d6d6d"/><stop offset=".999" stop-color="#6e6e6e"/></linearGradient>
<linearGradient id="c374" x2="0" y2="1"><stop offset=".001" stop-color="#5a5a5a"/><stop offset=".003" stop-color="#5d5d5d"/><stop offset=".58" stop-color="#666666"/><stop offset=".596" stop-color="#6e6e6e"/><stop offset=".615" stop-color="#7c7c7c"/><stop offset=".679" stop-color="#949494"/><stop offset=".74" stop-color="#a9a9a9"/><stop offset=".796" stop-color="#c2c2c2"/><stop offset=".858" stop-color="#d4d4d4"/><stop offset=".908" stop-color="#cccccc"/><stop offset=".91" stop-color="#c9c9c9"/><stop offset=".928" stop-color="#999999"/><stop offset=".93" stop-color="#909090"/><stop offset=".935" stop-color="#808080"/><stop offset=".939" stop-color="#757575"/><stop offset=".943" stop-color="#6c6c6c"/><stop offset=".947" stop-color="#686868"/><stop offset=".957" stop-color="#666666"/><stop offset=".968" stop-color="#6a6a6a"/><stop offset=".993" stop-color="#6f6f6f"/><stop offset=".995" stop-color="#6d6d6d"/><stop offset=".999" stop-color="#6f6f6f"/></linearGradient>
<linearGradient id="c375" x2="0" y2="1"><stop offset=".001" stop-color="#676767"/><stop offset=".364" stop-color="#717171"/><stop offset=".489" stop-color="#727272"/><stop offset=".594" stop-color="#797979"/><stop offset=".609" stop-color="#7b7b7b"/><stop offset=".69" stop-color="#949494"/><stop offset=".74" stop-color="#a4a4a4"/><stop offset=".796" stop-color="#bdbdbd"/><stop offset=".858" stop-color="#d0d0d0"/><stop offset=".908" stop-color="#c7c7c7"/><stop offset=".91" stop-color="#c4c4c4"/><stop offset=".926" stop-color="#9a9a9a"/><stop offset=".928" stop-color="#929292"/><stop offset=".933" stop-color="#838383"/><stop offset=".937" stop-color="#767676"/><stop offset=".943" stop-color="#6a6a6a"/><stop offset=".945" stop-color="#686868"/><stop offset=".955" stop-color="#666666"/><stop offset=".968" stop-color="#6b6b6b"/><stop offset=".993" stop-color="#6f6f6f"/><stop offset=".999" stop-color="#6d6d6d"/></linearGradient>
<linearGradient id="c376" x2="0" y2="1"><stop offset=".001" stop-color="#767676"/><stop offset=".364" stop-color="#818181"/><stop offset=".491" stop-color="#828282"/><stop offset=".607" stop-color="#8b8b8b"/><stop offset=".638" stop-color="#949494"/><stop offset=".856" stop-color="#cfcfcf"/><stop offset=".91" stop-color="#c3c3c3"/><stop offset=".928" stop-color="#959595"/><stop offset=".935" stop-color="#808080"/><stop offset=".941" stop-color="#707070"/><stop offset=".945" stop-color="#6a6a6a"/><stop offset=".949" stop-color="#676767"/><stop offset=".955" stop-color="#676767"/><stop offset=".968" stop-color="#6c6c6c"/><stop offset=".993" stop-color="#707070"/><stop offset=".995" stop-color="#6f6f6f"/><stop offset=".999" stop-color="#717171"/></linearGradient>
<linearGradient id="c377" x2="0" y2="1"><stop offset=".001" stop-color="#747474"/><stop offset=".364" stop-color="#7f7f7f"/><stop offset=".491" stop-color="#808080"/><stop offset=".607" stop-color="#898989"/><stop offset=".646" stop-color="#949494"/><stop offset=".856" stop-color="#cccccc"/><stop offset=".91" stop-color="#bfbfbf"/><stop offset=".926" stop-color="#999999"/><stop offset=".928" stop-color="#929292"/><stop offset=".933" stop-color="#848484"/><stop offset=".939" stop-color="#737373"/><stop offset=".943" stop-color="#6b6b6b"/><stop offset=".947" stop-color="#686868"/><stop offset=".953" stop-color="#676767"/><stop offset=".968" stop-color="#6d6d6d"/><stop offset=".999" stop-color="#707070"/></linearGradient>
<linearGradient id="c378" x2="0" y2="1"><stop offset=".001" stop-color="#646464"/><stop offset=".096" stop-color="#666666"/><stop offset=".364" stop-color="#6f6f6f"/><stop offset=".489" stop-color="#707070"/><stop offset=".576" stop-color="#777777"/><stop offset=".609" stop-color="#7b7b7b"/><stop offset=".698" stop-color="#949494"/><stop offset=".858" stop-color="#c7c7c7"/><stop offset=".91" stop-color="#bebebe"/><stop offset=".926" stop-color="#9a9a9a"/><stop offset=".928" stop-color="#939393"/><stop offset=".933" stop-color="#858585"/><stop offset=".939" stop-color="#747474"/><stop offset=".943" stop-color="#6a6a6a"/><stop offset=".945" stop-color="#686868"/><stop offset=".953" stop-color="#676767"/><stop offset=".968" stop-color="#6d6d6d"/><stop offset=".995" stop-color="#707070"/><stop offset=".997" stop-color="#737373"/><stop offset=".999" stop-color="#737373"/></linearGradient>
<linearGradient id="c379" x2="0" y2="1"><stop offset=".001" stop-color="#5f5f5f"/><stop offset=".206" stop-color="#666666"/><stop offset=".366" stop-color="#6c6c6c"/><stop offset=".491" stop-color="#6d6d6d"/><stop offset=".609" stop-color="#797979"/><stop offset=".665" stop-color="#838383"/><stop offset=".727" stop-color="#949494"/><stop offset=".794" stop-color="#afafaf"/><stop offset=".858" stop-color="#c3c3c3"/><stop offset=".91" stop-color="#bbbbbb"/><stop offset=".926" stop-color="#979797"/><stop offset=".935" stop-color="#7d7d7d"/><stop offset=".939" stop-color="#727272"/><stop offset=".943" stop-color="#696969"/><stop offset=".945" stop-color="#676767"/><stop offset=".953" stop-color="#676767"/><stop offset=".968" stop-color="#6d6d6d"/><stop offset=".999" stop-color="#727272"/></linearGradient>
<linearGradient id="c380" x2="0" y2="1"><stop offset=".001" stop-color="#666666"/><stop offset=".364" stop-color="#747474"/><stop offset=".491" stop-color="#757575"/><stop offset=".609" stop-color="#808080"/><stop offset=".711" stop-color="#949494"/><stop offset=".762" stop-color="#9e9e9e"/><stop offset=".858" stop-color="#c0c0c0"/><stop offset=".91" stop-color="#b9b9b9"/><stop offset=".926" stop-color="#969696"/><stop offset=".937" stop-color="#777777"/><stop offset=".943" stop-color="#696969"/><stop offset=".945" stop-color="#676767"/><stop offset=".953" stop-color="#676767"/><stop offset=".968" stop-color="#6d6d6d"/><stop offset=".999" stop-color="#717171"/></linearGradient>
<linearGradient id="c381" x2="0" y2="1"><stop offset=".001" stop-color="#626262"/><stop offset=".123" stop-color="#666666"/><stop offset=".364" stop-color="#707070"/><stop offset=".491" stop-color="#727272"/><stop offset=".609" stop-color="#7e7e7e"/><stop offset=".723" stop-color="#949494"/><stop offset=".76" stop-color="#9c9c9c"/><stop offset=".858" stop-color="#bfbfbf"/><stop offset=".91" stop-color="#bababa"/><stop offset=".926" stop-color="#989898"/><stop offset=".928" stop-color="#929292"/><stop offset=".933" stop-color="#848484"/><stop offset=".941" stop-color="#6e6e6e"/><stop offset=".943" stop-color="#696969"/><stop offset=".945" stop-color="#676767"/><stop offset=".953" stop-color="#676767"/><stop offset=".968" stop-color="#6d6d6d"/><stop offset=".995" stop-color="#707070"/><stop offset=".997" stop-color="#737373"/><stop offset=".999" stop-color="#737373"/></linearGradient>
<linearGradient id="c382" x2="0" y2="1"><stop offset=".001" stop-color="#5a5a5a"/><stop offset=".003" stop-color="#5d5d5d"/><stop offset=".491" stop-color="#636363"/><stop offset=".549" stop-color="#666666"/><stop offset=".603" stop-color="#6a6a6a"/><stop offset=".646" stop-color="#717171"/><stop offset=".692" stop-color="#7b7b7b"/><stop offset=".738" stop-color="#878787"/><stop offset=".767" stop-color="#949494"/><stop offset=".858" stop-color="#bbbbbb"/><stop offset=".91" stop-color="#b6b6b6"/><stop offset=".926" stop-color="#949494"/><stop offset=".933" stop-color="#808080"/><stop offset=".937" stop-color="#757575"/><stop offset=".943" stop-color="#696969"/><stop offset=".945" stop-color="#676767"/><stop offset=".953" stop-color="#676767"/><stop offset=".968" stop-color="#6d6d6d"/><stop offset=".993" stop-color="#717171"/><stop offset=".999" stop-color="#6f6f6f"/></linearGradient>
<linearGradient id="c383" x2="0" y2="1"><stop offset=".001" stop-color="#595959"/><stop offset=".003" stop-color="#5d5d5d"/><stop offset=".543" stop-color="#616161"/><stop offset=".636" stop-color="#666666"/><stop offset=".665" stop-color="#6d6d6d"/><stop offset=".738" stop-color="#828282"/><stop offset=".773" stop-color="#949494"/><stop offset=".858" stop-color="#bababa"/><stop offset=".91" stop-color="#b6b6b6"/><stop offset=".926" stop-color="#949494"/><stop offset=".933" stop-color="#818181"/><stop offset=".937" stop-color="#767676"/><stop offset=".943" stop-color="#696969"/><stop offset=".945" stop-color="#676767"/><stop offset=".953" stop-color="#676767"/><stop offset=".968" stop-color="#6d6d6d"/><stop offset=".993" stop-color="#717171"/><stop offset=".999" stop-color="#707070"/></linearGradient>
<linearGradient id="c384" x2="0" y2="1"><stop offset=".001" stop-color="#595959"/><stop offset=".003" stop-color="#5d5d5d"/><stop offset=".594" stop-color="#626262"/><stop offset=".646" stop-color="#656565"/><stop offset=".675" stop-color="#6c6c6c"/><stop offset=".738" stop-color="#808080"/><stop offset=".779" stop-color="#959595"/><stop offset=".858" stop-color="#bababa"/><stop offset=".91" stop-color="#b7b7b7"/><stop offset=".926" stop-color="#959595"/><stop offset=".937" stop-color="#767676"/><stop offset=".943" stop-color="#696969"/><stop offset=".945" stop-color="#676767"/><stop offset=".953" stop-color="#676767"/><stop offset=".968" stop-color="#6d6d6d"/><stop offset=".999" stop-color="#707070"/></linearGradient>
<linearGradient id="c385" x2="0" y2="1"><stop offset=".001" stop-color="#595959"/><stop offset=".003" stop-color="#5d5d5d"/><stop offset=".611" stop-color="#626262"/><stop offset=".657" stop-color="#656565"/><stop offset=".682" stop-color="#6b6b6b"/><stop offset=".738" stop-color="#7e7e7e"/><stop offset=".781" stop-color="#949494"/><stop offset=".858" stop-color="#bababa"/><stop offset=".91" stop-color="#b8b8b8"/><stop offset=".926" stop-color="#979797"/><stop offset=".933" stop-color="#838383"/><stop offset=".939" stop-color="#727272"/><stop offset=".943" stop-color="#696969"/><stop offset=".945" stop-color="#676767"/><stop offset=".953" stop-color="#676767"/><stop offset=".968" stop-color="#6d6d6d"/><stop offset=".999" stop-color="#727272"/></linearGradient>
<linearGradient id="c386" x2="0" y2="1"><stop offset=".001" stop-color="#595959"/><stop offset=".003" stop-color="#5d5d5d"/><stop offset=".607" stop-color="#646464"/><stop offset=".617" stop-color="#626262"/><stop offset=".667" stop-color="#666666"/><stop offset=".684" stop-color="#696969"/><stop offset=".706" stop-color="#727272"/><stop offset=".746" stop-color="#848484"/><stop offset=".775" stop-color="#949494"/><stop offset=".806" stop-color="#a8a8a8"/><stop offset=".858" stop-color="#bebebe"/><stop offset=".91" stop-color="#bcbcbc"/><stop offset=".924" stop-color="#a2a2a2"/><stop offset=".928" stop-color="#969696"/><stop offset=".941" stop-color="#707070"/><stop offset=".943" stop-color="#6a6a6a"/><stop offset=".945" stop-color="#676767"/><stop offset=".953" stop-color="#676767"/><stop offset=".968" stop-color="#6e6e6e"/><stop offset=".995" stop-color="#717171"/><stop offset=".997" stop-color="#777777"/><stop offset=".999" stop-color="#777777"/></linearGradient>
<linearGradient id="c387" x2="0" y2="1"><stop offset=".001" stop-color="#5c5c5c"/><stop offset=".003" stop-color="#5f5f5f"/><stop offset=".242" stop-color="#666666"/><stop offset=".364" stop-color="#6c6c6c"/><stop offset=".491" stop-color="#676767"/><stop offset=".572" stop-color="#6b6b6b"/><stop offset=".607" stop-color="#6f6f6f"/><stop offset=".611" stop-color="#676767"/><stop offset=".615" stop-color="#636363"/><stop offset=".642" stop-color="#656565"/><stop offset=".677" stop-color="#6c6c6c"/><stop offset=".738" stop-color="#7c7c7c"/><stop offset=".754" stop-color="#848484"/><stop offset=".783" stop-color="#949494"/><stop offset=".858" stop-color="#b9b9b9"/><stop offset=".91" stop-color="#b7b7b7"/><stop offset=".926" stop-color="#969696"/><stop offset=".937" stop-color="#777777"/><stop offset=".943" stop-color="#696969"/><stop offset=".945" stop-color="#676767"/><stop offset=".953" stop-color="#676767"/><stop offset=".968" stop-color="#6d6d6d"/><stop offset=".999" stop-color="#717171"/></linearGradient>
<linearGradient id="c388" x2="0" y2="1"><stop offset=".001" stop-color="#696969"/><stop offset=".13" stop-color="#6f6f6f"/><stop offset=".24" stop-color="#787878"/><stop offset=".364" stop-color="#7e7e7e"/><stop offset=".491" stop-color="#787878"/><stop offset=".572" stop-color="#7d7d7d"/><stop offset=".607" stop-color="#838383"/><stop offset=".613" stop-color="#7a7a7a"/><stop offset=".615" stop-color="#797979"/><stop offset=".65" stop-color="#868686"/><stop offset=".7" stop-color="#949494"/><stop offset=".738" stop-color="#9e9e9e"/><stop offset=".796" stop-color="#b8b8b8"/><stop offset=".858" stop-color="#cacaca"/><stop offset=".91" stop-color="#c1c1c1"/><stop offset=".924" stop-color="#a2a2a2"/><stop offset=".928" stop-color="#969696"/><stop offset=".935" stop-color="#818181"/><stop offset=".941" stop-color="#6f6f6f"/><stop offset=".943" stop-color="#6a6a6a"/><stop offset=".945" stop-color="#686868"/><stop offset=".953" stop-color="#676767"/><stop offset=".968" stop-color="#6e6e6e"/><stop offset=".995" stop-color="#707070"/><stop offset=".997" stop-color="#757575"/><stop offset=".999" stop-color="#757575"/></linearGradient>
<linearGradient id="c389" x2="0" y2="1"><stop offset=".001" stop-color="#686868"/><stop offset=".13" stop-color="#6e6e6e"/><stop offset=".24" stop-color="#767676"/><stop offset=".364" stop-color="#7c7c7c"/><stop offset=".489" stop-color="#757575"/><stop offset=".572" stop-color="#7b7b7b"/><stop offset=".607" stop-color="#828282"/><stop offset=".613" stop-color="#7f7f7f"/><stop offset=".65" stop-color="#8d8d8d"/><stop offset=".675" stop-color="#949494"/><stop offset=".738" stop-color="#a5a5a5"/><stop offset=".796" stop-color="#bfbfbf"/><stop offset=".858" stop-color="#d2d2d2"/><stop offset=".91" stop-color="#c7c7c7"/><stop offset=".928" stop-color="#989898"/><stop offset=".935" stop-color="#808080"/><stop offset=".939" stop-color="#747474"/><stop offset=".943" stop-color="#6c6c6c"/><stop offset=".947" stop-color="#686868"/><stop offset=".953" stop-color="#676767"/><stop offset=".968" stop-color="#6d6d6d"/><stop offset=".995" stop-color="#707070"/><stop offset=".999" stop-color="#727272"/></linearGradient>
<linearGradient id="c390" x2="0" y2="1"><stop offset=".001" stop-color="#626262"/><stop offset=".13" stop-color="#686868"/><stop offset=".364" stop-color="#757575"/><stop offset=".489" stop-color="#6f6f6f"/><stop offset=".567" stop-color="#747474"/><stop offset=".584" stop-color="#777777"/><stop offset=".607" stop-color="#7f7f7f"/><stop offset=".613" stop-color="#7f7f7f"/><stop offset=".65" stop-color="#8d8d8d"/><stop offset=".675" stop-color="#949494"/><stop offset=".738" stop-color="#a5a5a5"/><stop offset=".796" stop-color="#bfbfbf"/><stop offset=".858" stop-color="#d2d2d2"/><stop offset=".91" stop-color="#c7c7c7"/><stop offset=".928" stop-color="#989898"/><stop offset=".935" stop-color="#808080"/><stop offset=".939" stop-color="#747474"/><stop offset=".943" stop-color="#6c6c6c"/><stop offset=".947" stop-color="#686868"/><stop offset=".953" stop-color="#676767"/><stop offset=".968" stop-color="#6d6d6d"/><stop offset=".995" stop-color="#707070"/><stop offset=".999" stop-color="#727272"/></linearGradient>
<linearGradient id="c391" x2="0" y2="1"><stop offset=".001" stop-color="#5a5a5a"/><stop offset=".003" stop-color="#5d5d5d"/><stop offset=".364" stop-color="#666666"/><stop offset=".489" stop-color="#646464"/><stop offset=".565" stop-color="#666666"/><stop offset=".582" stop-color="#6e6e6e"/><stop offset=".601" stop-color="#797979"/><stop offset=".65" stop-color="#8b8b8b"/><stop offset=".682" stop-color="#949494"/><stop offset=".738" stop-color="#a3a3a3"/><stop offset=".796" stop-color="#bebebe"/><stop offset=".858" stop-color="#d1d1d1"/><stop offset=".91" stop-color="#c6c6c6"/><stop offset=".928" stop-color="#969696"/><stop offset=".937" stop-color="#787878"/><stop offset=".943" stop-color="#6b6b6b"/><stop offset=".947" stop-color="#686868"/><stop offset=".953" stop-color="#676767"/><stop offset=".968" stop-color="#6d6d6d"/><stop offset=".999" stop-color="#717171"/></linearGradient>
<linearGradient id="c392" x2="0" y2="1"><stop offset=".001" stop-color="#595959"/><stop offset=".003" stop-color="#5d5d5d"/><stop offset=".565" stop-color="#626262"/><stop offset=".576" stop-color="#676767"/><stop offset=".601" stop-color="#727272"/><stop offset=".648" stop-color="#828282"/><stop offset=".711" stop-color="#939393"/><stop offset=".74" stop-color="#9c9c9c"/><stop offset=".796" stop-color="#b8b8b8"/><stop offset=".858" stop-color="#cdcdcd"/><stop offset=".908" stop-color="#c4c4c4"/><stop offset=".91" stop-color="#c1c1c1"/><stop offset=".926" stop-color="#969696"/><stop offset=".933" stop-color="#7f7f7f"/><stop offset=".937" stop-color="#737373"/><stop offset=".941" stop-color="#6c6c6c"/><stop offset=".945" stop-color="#686868"/><stop offset=".953" stop-color="#676767"/><stop offset=".968" stop-color="#6c6c6c"/><stop offset=".993" stop-color="#717171"/><stop offset=".997" stop-color="#6c6c6c"/><stop offset=".999" stop-color="#6c6c6c"/></linearGradient>
<linearGradient id="c393" x2="0" y2="1"><stop offset=".001" stop-color="#595959"/><stop offset=".003" stop-color="#5d5d5d"/><stop offset=".567" stop-color="#626262"/><stop offset=".58" stop-color="#676767"/><stop offset=".601" stop-color="#727272"/><stop offset=".648" stop-color="#828282"/><stop offset=".713" stop-color="#949494"/><stop offset=".74" stop-color="#9c9c9c"/><stop offset=".796" stop-color="#b7b7b7"/><stop offset=".858" stop-color="#cbcbcb"/><stop offset=".91" stop-color="#c0c0c0"/><stop offset=".926" stop-color="#979797"/><stop offset=".937" stop-color="#757575"/><stop offset=".943" stop-color="#6a6a6a"/><stop offset=".945" stop-color="#686868"/><stop offset=".953" stop-color="#676767"/><stop offset=".968" stop-color="#6d6d6d"/><stop offset=".993" stop-color="#717171"/><stop offset=".999" stop-color="#6f6f6f"/></linearGradient>
<linearGradient id="c394" x2="0" y2="1"><stop offset=".001" stop-color="#595959"/><stop offset=".003" stop-color="#5d5d5d"/><stop offset=".57" stop-color="#626262"/><stop offset=".584" stop-color="#666666"/><stop offset=".601" stop-color="#717171"/><stop offset=".623" stop-color="#7a7a7a"/><stop offset=".709" stop-color="#949494"/><stop offset=".74" stop-color="#9c9c9c"/><stop offset=".796" stop-color="#b6b6b6"/><stop offset=".858" stop-color="#c9c9c9"/><stop offset=".91" stop-color="#bfbfbf"/><stop offset=".924" stop-color="#a0a0a0"/><stop offset=".928" stop-color="#949494"/><stop offset=".933" stop-color="#858585"/><stop offset=".939" stop-color="#747474"/><stop offset=".943" stop-color="#6a6a6a"/><stop offset=".945" stop-color="#686868"/><stop offset=".953" stop-color="#676767"/><stop offset=".968" stop-color="#6d6d6d"/><stop offset=".995" stop-color="#707070"/><stop offset=".997" stop-color="#737373"/><stop offset=".999" stop-color="#737373"/></linearGradient>
<linearGradient id="c395" x2="0" y2="1"><stop offset=".001" stop-color="#595959"/><stop offset=".003" stop-color="#5d5d5d"/><stop offset=".576" stop-color="#636363"/><stop offset=".588" stop-color="#666666"/><stop offset=".601" stop-color="#6c6c6c"/><stop offset=".648" stop-color="#7a7a7a"/><stop offset=".742" stop-color="#949494"/><stop offset=".796" stop-color="#afafaf"/><stop offset=".858" stop-color="#c3c3c3"/><stop offset=".91" stop-color="#bababa"/><stop offset=".926" stop-color="#949494"/><stop offset=".933" stop-color="#808080"/><stop offset=".937" stop-color="#747474"/><stop offset=".943" stop-color="#696969"/><stop offset=".945" stop-color="#676767"/><stop offset=".953" stop-color="#676767"/><stop offset=".968" stop-color="#6d6d6d"/><stop offset=".993" stop-color="#717171"/><stop offset=".999" stop-color="#6e6e6e"/></linearGradient>
<linearGradient id="c396" x2="0" y2="1"><stop offset=".001" stop-color="#595959"/><stop offset=".003" stop-color="#5d5d5d"/><stop offset=".582" stop-color="#636363"/><stop offset=".592" stop-color="#666666"/><stop offset=".648" stop-color="#797979"/><stop offset=".692" stop-color="#848484"/><stop offset=".746" stop-color="#949494"/><stop offset=".796" stop-color="#acacac"/><stop offset=".858" stop-color="#c1c1c1"/><stop offset=".91" stop-color="#b9b9b9"/><stop offset=".926" stop-color="#959595"/><stop offset=".937" stop-color="#767676"/><stop offset=".943" stop-color="#696969"/><stop offset=".945" stop-color="#676767"/><stop offset=".953" stop-color="#676767"/><stop offset=".968" stop-color="#6d6d6d"/><stop offset=".993" stop-color="#717171"/><stop offset=".999" stop-color="#707070"/></linearGradient>
<linearGradient id="c397" x2="0" y2="1"><stop offset=".001" stop-color="#595959"/><stop offset=".003" stop-color="#5d5d5d"/><stop offset=".586" stop-color="#636363"/><stop offset=".713" stop-color="#848484"/><stop offset=".738" stop-color="#8b8b8b"/><stop offset=".756" stop-color="#949494"/><stop offset=".796" stop-color="#a7a7a7"/><stop offset=".858" stop-color="#bebebe"/><stop offset=".91" stop-color="#b7b7b7"/><stop offset=".926" stop-color="#939393"/><stop offset=".933" stop-color="#808080"/><stop offset=".937" stop-color="#757575"/><stop offset=".943" stop-color="#696969"/><stop offset=".945" stop-color="#676767"/><stop offset=".953" stop-color="#676767"/><stop offset=".968" stop-color="#6d6d6d"/><stop offset=".993" stop-color="#717171"/><stop offset=".999" stop-color="#6f6f6f"/></linearGradient>
<linearGradient id="c398" x2="0" y2="1"><stop offset=".001" stop-color="#595959"/><stop offset=".003" stop-color="#5d5d5d"/><stop offset=".59" stop-color="#636363"/><stop offset=".615" stop-color="#686868"/><stop offset=".65" stop-color="#737373"/><stop offset=".715" stop-color="#848484"/><stop offset=".738" stop-color="#8a8a8a"/><stop offset=".758" stop-color="#949494"/><stop offset=".796" stop-color="#a7a7a7"/><stop offset=".858" stop-color="#bdbdbd"/><stop offset=".91" stop-color="#b8b8b8"/><stop offset=".926" stop-color="#969696"/><stop offset=".937" stop-color="#777777"/><stop offset=".943" stop-color="#696969"/><stop offset=".945" stop-color="#676767"/><stop offset=".953" stop-color="#676767"/><stop offset=".968" stop-color="#6d6d6d"/><stop offset=".999" stop-color="#717171"/></linearGradient>
<linearGradient id="c399" x2="0" y2="1"><stop offset=".001" stop-color="#595959"/><stop offset=".003" stop-color="#5d5d5d"/><stop offset=".567" stop-color="#616161"/><stop offset=".611" stop-color="#656565"/><stop offset=".659" stop-color="#717171"/><stop offset=".671" stop-color="#777777"/><stop offset=".711" stop-color="#848484"/><stop offset=".75" stop-color="#949494"/><stop offset=".796" stop-color="#ababab"/><stop offset=".858" stop-color="#bebebe"/><stop offset=".91" stop-color="#b8b8b8"/><stop offset=".926" stop-color="#949494"/><stop offset=".937" stop-color="#747474"/><stop offset=".941" stop-color="#6c6c6c"/><stop offset=".945" stop-color="#676767"/><stop offset=".953" stop-color="#676767"/><stop offset=".968" stop-color="#6c6c6c"/><stop offset=".993" stop-color="#717171"/><stop offset=".997" stop-color="#6c6c6c"/><stop offset=".999" stop-color="#6c6c6c"/></linearGradient>
<linearGradient id="c400" x2="0" y2="1"><stop offset=".001" stop-color="#595959"/><stop offset=".003" stop-color="#5d5d5d"/><stop offset=".57" stop-color="#616161"/><stop offset=".621" stop-color="#666666"/><stop offset=".644" stop-color="#6b6b6b"/><stop offset=".659" stop-color="#737373"/><stop offset=".671" stop-color="#7c7c7c"/><stop offset=".733" stop-color="#949494"/><stop offset=".794" stop-color="#b0b0b0"/><stop offset=".858" stop-color="#c1c1c1"/><stop offset=".91" stop-color="#bcbcbc"/><stop offset=".924" stop-color="#a0a0a0"/><stop offset=".928" stop-color="#959595"/><stop offset=".937" stop-color="#7a7a7a"/><stop offset=".943" stop-color="#6a6a6a"/><stop offset=".945" stop-color="#686868"/><stop offset=".953" stop-color="#676767"/><stop offset=".968" stop-color="#6d6d6d"/><stop offset=".995" stop-color="#707070"/><stop offset=".999" stop-color="#727272"/></linearGradient>
<linearGradient id="c401" x2="0" y2="1"><stop offset=".001" stop-color="#595959"/><stop offset=".003" stop-color="#5d5d5d"/><stop offset=".57" stop-color="#616161"/><stop offset=".63" stop-color="#656565"/><stop offset=".646" stop-color="#696969"/><stop offset=".659" stop-color="#6e6e6e"/><stop offset=".671" stop-color="#767676"/><stop offset=".711" stop-color="#838383"/><stop offset=".75" stop-color="#949494"/><stop offset=".796" stop-color="#ababab"/><stop offset=".858" stop-color="#bdbdbd"/><stop offset=".91" stop-color="#b8b8b8"/><stop offset=".926" stop-color="#969696"/><stop offset=".937" stop-color="#767676"/><stop offset=".943" stop-color="#696969"/><stop offset=".945" stop-color="#676767"/><stop offset=".953" stop-color="#676767"/><stop offset=".968" stop-color="#6d6d6d"/><stop offset=".993" stop-color="#717171"/><stop offset=".999" stop-color="#6f6f6f"/></linearGradient>
<linearGradient id="c402" x2="0" y2="1"><stop offset=".001" stop-color="#595959"/><stop offset=".003" stop-color="#5d5d5d"/><stop offset=".578" stop-color="#616161"/><stop offset=".638" stop-color="#656565"/><stop offset=".657" stop-color="#6a6a6a"/><stop offset=".671" stop-color="#707070"/><stop offset=".733" stop-color="#838383"/><stop offset=".769" stop-color="#949494"/><stop offset=".796" stop-color="#a2a2a2"/><stop offset=".858" stop-color="#b8b8b8"/><stop offset=".91" stop-color="#b5b5b5"/><stop offset=".924" stop-color="#979797"/><stop offset=".926" stop-color="#929292"/><stop offset=".93" stop-color="#848484"/><stop offset=".937" stop-color="#737373"/><stop offset=".943" stop-color="#696969"/><stop offset=".945" stop-color="#676767"/><stop offset=".953" stop-color="#676767"/><stop offset=".968" stop-color="#6c6c6c"/><stop offset=".993" stop-color="#717171"/><stop offset=".997" stop-color="#6c6c6c"/><stop offset=".999" stop-color="#6c6c6c"/></linearGradient>
<linearGradient id="c403" x2="0" y2="1"><stop offset=".001" stop-color="#595959"/><stop offset=".003" stop-color="#5d5d5d"/><stop offset=".582" stop-color="#616161"/><stop offset=".646" stop-color="#656565"/><stop offset=".661" stop-color="#686868"/><stop offset=".671" stop-color="#6e6e6e"/><stop offset=".738" stop-color="#878787"/><stop offset=".765" stop-color="#959595"/><stop offset=".796" stop-color="#a5a5a5"/><stop offset=".858" stop-color="#bcbcbc"/><stop offset=".91" stop-color="#bababa"/><stop offset=".924" stop-color="#9f9f9f"/><stop offset=".928" stop-color="#939393"/><stop offset=".935" stop-color="#808080"/><stop offset=".941" stop-color="#6f6f6f"/><stop offset=".943" stop-color="#6a6a6a"/><stop offset=".945" stop-color="#676767"/><stop offset=".953" stop-color="#676767"/><stop offset=".968" stop-color="#6e6e6e"/><stop offset=".995" stop-color="#707070"/><stop offset=".997" stop-color="#747474"/><stop offset=".999" stop-color="#747474"/></linearGradient>
<linearGradient id="c404" x2="0" y2="1"><stop offset=".001" stop-color="#595959"/><stop offset=".003" stop-color="#5d5d5d"/><stop offset=".594" stop-color="#626262"/><stop offset=".657" stop-color="#656565"/><stop offset=".69" stop-color="#6e6e6e"/><stop offset=".738" stop-color="#7e7e7e"/><stop offset=".781" stop-color="#949494"/><stop offset=".858" stop-color="#b9b9b9"/><stop offset=".91" stop-color="#b7b7b7"/><stop offset=".926" stop-color="#969696"/><stop offset=".937" stop-color="#777777"/><stop offset=".943" stop-color="#696969"/><stop offset=".945" stop-color="#676767"/><stop offset=".953" stop-color="#676767"/><stop offset=".968" stop-color="#6d6d6d"/><stop offset=".999" stop-color="#717171"/></linearGradient>
<linearGradient id="c405" x2="0" y2="1"><stop offset=".001" stop-color="#595959"/><stop offset=".003" stop-color="#5d5d5d"/><stop offset=".607" stop-color="#626262"/><stop offset=".665" stop-color="#656565"/><stop offset=".696" stop-color="#6b6b6b"/><stop offset=".738" stop-color="#777777"/><stop offset=".765" stop-color="#848484"/><stop offset=".791" stop-color="#959595"/><stop offset=".858" stop-color="#b8b8b8"/><stop offset=".91" stop-color="#b6b6b6"/><stop offset=".926" stop-color="#949494"/><stop offset=".933" stop-color="#808080"/><stop offset=".937" stop-color="#757575"/><stop offset=".943" stop-color="#696969"/><stop offset=".945" stop-color="#676767"/><stop offset=".953" stop-color="#676767"/><stop offset=".968" stop-color="#6d6d6d"/><stop offset=".993" stop-color="#717171"/><stop offset=".999" stop-color="#6f6f6f"/></linearGradient>
<linearGradient id="c406" x2="0" y2="1"><stop offset=".001" stop-color="#595959"/><stop offset=".003" stop-color="#5d5d5d"/><stop offset=".621" stop-color="#626262"/><stop offset=".688" stop-color="#666666"/><stop offset=".74" stop-color="#727272"/><stop offset=".767" stop-color="#808080"/><stop offset=".796" stop-color="#949494"/><stop offset=".858" stop-color="#b6b6b6"/><stop offset=".91" stop-color="#b4b4b4"/><stop offset=".924" stop-color="#979797"/><stop offset=".926" stop-color="#929292"/><stop offset=".93" stop-color="#848484"/><stop offset=".937" stop-color="#737373"/><stop offset=".943" stop-color="#696969"/><stop offset=".945" stop-color="#676767"/><stop offset=".953" stop-color="#676767"/><stop offset=".968" stop-color="#6d6d6d"/><stop offset=".993" stop-color="#717171"/><stop offset=".997" stop-color="#6d6d6d"/><stop offset=".999" stop-color="#6d6d6d"/></linearGradient>
<linearGradient id="c407" x2="0" y2="1"><stop offset=".001" stop-color="#595959"/><stop offset=".003" stop-color="#5d5d5d"/><stop offset=".63" stop-color="#626262"/><stop offset=".702" stop-color="#666666"/><stop offset=".738" stop-color="#6d6d6d"/><stop offset=".752" stop-color="#727272"/><stop offset=".779" stop-color="#848484"/><stop offset=".8" stop-color="#949494"/><stop offset=".858" stop-color="#b4b4b4"/><stop offset=".91" stop-color="#b2b2b2"/><stop offset=".924" stop-color="#949494"/><stop offset=".937" stop-color="#717171"/><stop offset=".943" stop-color="#686868"/><stop offset=".945" stop-color="#676767"/><stop offset=".953" stop-color="#676767"/><stop offset=".968" stop-color="#6c6c6c"/><stop offset=".993" stop-color="#717171"/><stop offset=".995" stop-color="#6f6f6f"/><stop offset=".997" stop-color="#6b6b6b"/><stop offset=".999" stop-color="#6b6b6b"/></linearGradient>
<linearGradient id="c408" x2="0" y2="1"><stop offset=".001" stop-color="#595959"/><stop offset=".003" stop-color="#5d5d5d"/><stop offset=".657" stop-color="#626262"/><stop offset=".713" stop-color="#666666"/><stop offset=".74" stop-color="#6c6c6c"/><stop offset=".756" stop-color="#737373"/><stop offset=".802" stop-color="#959595"/><stop offset=".858" stop-color="#b3b3b3"/><stop offset=".91" stop-color="#b1b1b1"/><stop offset=".924" stop-color="#949494"/><stop offset=".933" stop-color="#7b7b7b"/><stop offset=".937" stop-color="#717171"/><stop offset=".943" stop-color="#686868"/><stop offset=".945" stop-color="#666666"/><stop offset=".953" stop-color="#666666"/><stop offset=".968" stop-color="#6c6c6c"/><stop offset=".993" stop-color="#717171"/><stop offset=".997" stop-color="#6c6c6c"/><stop offset=".999" stop-color="#6c6c6c"/></linearGradient>
<linearGradient id="c409" x2="0" y2="1"><stop offset=".001" stop-color="#595959"/><stop offset=".003" stop-color="#5d5d5d"/><stop offset=".717" stop-color="#656565"/><stop offset=".733" stop-color="#686868"/><stop offset=".748" stop-color="#6e6e6e"/><stop offset=".765" stop-color="#787878"/><stop offset=".802" stop-color="#959595"/><stop offset=".858" stop-color="#b2b2b2"/><stop offset=".91" stop-color="#b0b0b0"/><stop offset=".924" stop-color="#949494"/><stop offset=".935" stop-color="#767676"/><stop offset=".939" stop-color="#6d6d6d"/><stop offset=".943" stop-color="#666666"/><stop offset=".953" stop-color="#666666"/><stop offset=".968" stop-color="#6d6d6d"/><stop offset=".993" stop-color="#717171"/><stop offset=".999" stop-color="#6f6f6f"/></linearGradient>
<linearGradient id="c410" x2="0" y2="1"><stop offset=".001" stop-color="#595959"/><stop offset=".003" stop-color="#5d5d5d"/><stop offset=".543" stop-color="#626262"/><stop offset=".65" stop-color="#676767"/><stop offset=".659" stop-color="#626262"/><stop offset=".719" stop-color="#646464"/><stop offset=".735" stop-color="#676767"/><stop offset=".75" stop-color="#6d6d6d"/><stop offset=".783" stop-color="#838383"/><stop offset=".804" stop-color="#949494"/><stop offset=".858" stop-color="#b0b0b0"/><stop offset=".91" stop-color="#aeaeae"/><stop offset=".922" stop-color="#959595"/><stop offset=".924" stop-color="#919191"/><stop offset=".937" stop-color="#6f6f6f"/><stop offset=".941" stop-color="#676767"/><stop offset=".943" stop-color="#656565"/><stop offset=".953" stop-color="#666666"/><stop offset=".968" stop-color="#6d6d6d"/><stop offset=".993" stop-color="#717171"/><stop offset=".999" stop-color="#6f6f6f"/></linearGradient>
<linearGradient id="c411" x2="0" y2="1"><stop offset=".001" stop-color="#595959"/><stop offset=".003" stop-color="#5d5d5d"/><stop offset=".121" stop-color="#5d5d5d"/><stop offset=".366" stop-color="#676767"/><stop offset=".53" stop-color="#666666"/><stop offset=".607" stop-color="#696969"/><stop offset=".65" stop-color="#6f6f6f"/><stop offset=".657" stop-color="#656565"/><stop offset=".675" stop-color="#666666"/><stop offset=".698" stop-color="#6a6a6a"/><stop offset=".74" stop-color="#777777"/><stop offset=".773" stop-color="#838383"/><stop offset=".806" stop-color="#959595"/><stop offset=".858" stop-color="#adadad"/><stop offset=".91" stop-color="#ababab"/><stop offset=".922" stop-color="#939393"/><stop offset=".926" stop-color="#898989"/><stop offset=".937" stop-color="#6c6c6c"/><stop offset=".941" stop-color="#666666"/><stop offset=".943" stop-color="#646464"/><stop offset=".955" stop-color="#676767"/><stop offset=".968" stop-color="#6d6d6d"/><stop offset=".999" stop-color="#707070"/></linearGradient>
<linearGradient id="c412" x2="0" y2="1"><stop offset=".001" stop-color="#595959"/><stop offset=".003" stop-color="#5d5d5d"/><stop offset=".119" stop-color="#5e5e5e"/><stop offset=".132" stop-color="#636363"/><stop offset=".209" stop-color="#666666"/><stop offset=".364" stop-color="#707070"/><stop offset=".489" stop-color="#6d6d6d"/><stop offset=".607" stop-color="#717171"/><stop offset=".634" stop-color="#767676"/><stop offset=".65" stop-color="#7b7b7b"/><stop offset=".659" stop-color="#7a7a7a"/><stop offset=".735" stop-color="#949494"/><stop offset=".794" stop-color="#ababab"/><stop offset=".856" stop-color="#b6b6b6"/><stop offset=".897" stop-color="#b0b0b0"/><stop offset=".91" stop-color="#a8a8a8"/><stop offset=".92" stop-color="#949494"/><stop offset=".924" stop-color="#8b8b8b"/><stop offset=".937" stop-color="#6a6a6a"/><stop offset=".941" stop-color="#656565"/><stop offset=".953" stop-color="#666666"/><stop offset=".968" stop-color="#6d6d6d"/><stop offset=".993" stop-color="#717171"/><stop offset=".999" stop-color="#707070"/></linearGradient>
<linearGradient id="c413" x2="0" y2="1"><stop offset=".001" stop-color="#595959"/><stop offset=".003" stop-color="#5d5d5d"/><stop offset=".119" stop-color="#5e5e5e"/><stop offset=".132" stop-color="#636363"/><stop offset=".211" stop-color="#666666"/><stop offset=".364" stop-color="#6f6f6f"/><stop offset=".489" stop-color="#6c6c6c"/><stop offset=".607" stop-color="#707070"/><stop offset=".636" stop-color="#757575"/><stop offset=".65" stop-color="#797979"/><stop offset=".659" stop-color="#787878"/><stop offset=".742" stop-color="#949494"/><stop offset=".796" stop-color="#aaaaaa"/><stop offset=".856" stop-color="#b4b4b4"/><stop offset=".897" stop-color="#aeaeae"/><stop offset=".91" stop-color="#a3a3a3"/><stop offset=".918" stop-color="#939393"/><stop offset=".924" stop-color="#868686"/><stop offset=".935" stop-color="#6c6c6c"/><stop offset=".939" stop-color="#656565"/><stop offset=".953" stop-color="#666666"/><stop offset=".968" stop-color="#6d6d6d"/><stop offset=".993" stop-color="#717171"/><stop offset=".999" stop-color="#6e6e6e"/></linearGradient>
<linearGradient id="c414" x2="0" y2="1"><stop offset=".001" stop-color="#595959"/><stop offset=".003" stop-color="#5d5d5d"/><stop offset=".119" stop-color="#5e5e5e"/><stop offset=".132" stop-color="#636363"/><stop offset=".211" stop-color="#666666"/><stop offset=".364" stop-color="#6f6f6f"/><stop offset=".489" stop-color="#6c6c6c"/><stop offset=".607" stop-color="#707070"/><stop offset=".65" stop-color="#797979"/><stop offset=".659" stop-color="#777777"/><stop offset=".744" stop-color="#949494"/><stop offset=".796" stop-color="#a8a8a8"/><stop offset=".856" stop-color="#b3b3b3"/><stop offset=".897" stop-color="#acacac"/><stop offset=".91" stop-color="#a1a1a1"/><stop offset=".916" stop-color="#949494"/><stop offset=".924" stop-color="#838383"/><stop offset=".935" stop-color="#6a6a6a"/><stop offset=".937" stop-color="#666666"/><stop offset=".939" stop-color="#646464"/><stop offset=".953" stop-color="#666666"/><stop offset=".968" stop-color="#6d6d6d"/><stop offset=".978" stop-color="#6e6e6e"/><stop offset=".993" stop-color="#717171"/><stop offset=".999" stop-color="#6f6f6f"/></linearGradient>
<linearGradient id="c415" x2="0" y2="1"><stop offset=".001" stop-color="#595959"/><stop offset=".003" stop-color="#5d5d5d"/><stop offset=".121" stop-color="#5d5d5d"/><stop offset=".366" stop-color="#676767"/><stop offset=".491" stop-color="#656565"/><stop offset=".607" stop-color="#696969"/><stop offset=".634" stop-color="#6e6e6e"/><stop offset=".65" stop-color="#767676"/><stop offset=".694" stop-color="#838383"/><stop offset=".742" stop-color="#949494"/><stop offset=".794" stop-color="#a8a8a8"/><stop offset=".856" stop-color="#b3b3b3"/><stop offset=".897" stop-color="#adadad"/><stop offset=".91" stop-color="#a2a2a2"/><stop offset=".918" stop-color="#919191"/><stop offset=".926" stop-color="#7f7f7f"/><stop offset=".935" stop-color="#686868"/><stop offset=".939" stop-color="#636363"/><stop offset=".953" stop-color="#656565"/><stop offset=".968" stop-color="#6d6d6d"/><stop offset=".995" stop-color="#707070"/><stop offset=".999" stop-color="#727272"/></linearGradient>
<linearGradient id="c416" x2="0" y2="1"><stop offset=".001" stop-color="#595959"/><stop offset=".003" stop-color="#5d5d5d"/><stop offset=".623" stop-color="#656565"/><stop offset=".636" stop-color="#686868"/><stop offset=".652" stop-color="#737373"/><stop offset=".673" stop-color="#7b7b7b"/><stop offset=".746" stop-color="#949494"/><stop offset=".794" stop-color="#a7a7a7"/><stop offset=".856" stop-color="#b1b1b1"/><stop offset=".897" stop-color="#ababab"/><stop offset=".91" stop-color="#a0a0a0"/><stop offset=".916" stop-color="#949494"/><stop offset=".926" stop-color="#7e7e7e"/><stop offset=".933" stop-color="#6a6a6a"/><stop offset=".935" stop-color="#666666"/><stop offset=".937" stop-color="#636363"/><stop offset=".953" stop-color="#656565"/><stop offset=".968" stop-color="#6d6d6d"/><stop offset=".995" stop-color="#707070"/><stop offset=".997" stop-color="#737373"/><stop offset=".999" stop-color="#747474"/></linearGradient>
<linearGradient id="c417" x2="0" y2="1"><stop offset=".001" stop-color="#595959"/><stop offset=".003" stop-color="#5d5d5d"/><stop offset=".626" stop-color="#636363"/><stop offset=".638" stop-color="#666666"/><stop offset=".655" stop-color="#6e6e6e"/><stop offset=".729" stop-color="#848484"/><stop offset=".771" stop-color="#949494"/><stop offset=".796" stop-color="#9d9d9d"/><stop offset=".856" stop-color="#a8a8a8"/><stop offset=".897" stop-color="#a1a1a1"/><stop offset=".91" stop-color="#959595"/><stop offset=".924" stop-color="#797979"/><stop offset=".933" stop-color="#686868"/><stop offset=".937" stop-color="#636363"/><stop offset=".953" stop-color="#656565"/><stop offset=".968" stop-color="#6d6d6d"/><stop offset=".993" stop-color="#717171"/><stop offset=".997" stop-color="#6d6d6d"/><stop offset=".999" stop-color="#6e6e6e"/></linearGradient>
<linearGradient id="c418" x2="0" y2="1"><stop offset=".001" stop-color="#595959"/><stop offset=".003" stop-color="#5d5d5d"/><stop offset=".626" stop-color="#626262"/><stop offset=".642" stop-color="#666666"/><stop offset=".655" stop-color="#6c6c6c"/><stop offset=".702" stop-color="#777777"/><stop offset=".74" stop-color="#838383"/><stop offset=".783" stop-color="#949494"/><stop offset=".856" stop-color="#a4a4a4"/><stop offset=".897" stop-color="#9d9d9d"/><stop offset=".908" stop-color="#939393"/><stop offset=".91" stop-color="#919191"/><stop offset=".93" stop-color="#696969"/><stop offset=".935" stop-color="#636363"/><stop offset=".953" stop-color="#656565"/><stop offset=".968" stop-color="#6c6c6c"/><stop offset=".993" stop-color="#717171"/><stop offset=".997" stop-color="#6c6c6c"/><stop offset=".999" stop-color="#6d6d6d"/></linearGradient>
<linearGradient id="c419" x2="0" y2="1"><stop offset=".001" stop-color="#595959"/><stop offset=".003" stop-color="#5d5d5d"/><stop offset=".634" stop-color="#636363"/><stop offset=".646" stop-color="#666666"/><stop offset=".738" stop-color="#868686"/><stop offset=".773" stop-color="#949494"/><stop offset=".796" stop-color="#9d9d9d"/><stop offset=".856" stop-color="#a7a7a7"/><stop offset=".897" stop-color="#a1a1a1"/><stop offset=".91" stop-color="#959595"/><stop offset=".924" stop-color="#797979"/><stop offset=".93" stop-color="#676767"/><stop offset=".935" stop-color="#626262"/><stop offset=".953" stop-color="#656565"/><stop offset=".968" stop-color="#6d6d6d"/><stop offset=".995" stop-color="#707070"/><stop offset=".999" stop-color="#737373"/></linearGradient>
<linearGradient id="c420" x2="0" y2="1"><stop offset=".001" stop-color="#595959"/><stop offset=".003" stop-color="#5d5d5d"/><stop offset=".638" stop-color="#636363"/><stop offset=".65" stop-color="#666666"/><stop offset=".684" stop-color="#707070"/><stop offset=".742" stop-color="#838383"/><stop offset=".785" stop-color="#949494"/><stop offset=".856" stop-color="#a3a3a3"/><stop offset=".897" stop-color="#9c9c9c"/><stop offset=".908" stop-color="#939393"/><stop offset=".91" stop-color="#909090"/><stop offset=".922" stop-color="#797979"/><stop offset=".93" stop-color="#666666"/><stop offset=".935" stop-color="#626262"/><stop offset=".953" stop-color="#656565"/><stop offset=".968" stop-color="#6d6d6d"/><stop offset=".999" stop-color="#727272"/></linearGradient>
<linearGradient id="c421" x2="0" y2="1"><stop offset=".001" stop-color="#595959"/><stop offset=".003" stop-color="#5d5d5d"/><stop offset=".642" stop-color="#636363"/><stop offset=".667" stop-color="#686868"/><stop offset=".688" stop-color="#6e6e6e"/><stop offset=".75" stop-color="#838383"/><stop offset=".794" stop-color="#949494"/><stop offset=".856" stop-color="#a0a0a0"/><stop offset=".897" stop-color="#999999"/><stop offset=".901" stop-color="#949494"/><stop offset=".91" stop-color="#8d8d8d"/><stop offset=".924" stop-color="#717171"/><stop offset=".928" stop-color="#676767"/><stop offset=".933" stop-color="#626262"/><stop offset=".953" stop-color="#656565"/><stop offset=".968" stop-color="#6d6d6d"/><stop offset=".999" stop-color="#717171"/></linearGradient>
<linearGradient id="c422" x2="0" y2="1"><stop offset=".001" stop-color="#595959"/><stop offset=".003" stop-color="#5d5d5d"/><stop offset=".644" stop-color="#636363"/><stop offset=".665" stop-color="#666666"/><stop offset=".729" stop-color="#747474"/><stop offset=".796" stop-color="#8b8b8b"/><stop offset=".856" stop-color="#969696"/><stop offset=".897" stop-color="#8f8f8f"/><stop offset=".91" stop-color="#838383"/><stop offset=".918" stop-color="#747474"/><stop offset=".928" stop-color="#666666"/><stop offset=".933" stop-color="#626262"/><stop offset=".953" stop-color="#656565"/><stop offset=".968" stop-color="#6c6c6c"/><stop offset=".993" stop-color="#717171"/><stop offset=".997" stop-color="#6c6c6c"/><stop offset=".999" stop-color="#6c6c6c"/></linearGradient>
<linearGradient id="c423" x2="0" y2="1"><stop offset=".001" stop-color="#595959"/><stop offset=".003" stop-color="#5d5d5d"/><stop offset=".648" stop-color="#636363"/><stop offset=".673" stop-color="#666666"/><stop offset=".696" stop-color="#6b6b6b"/><stop offset=".74" stop-color="#767676"/><stop offset=".796" stop-color="#8a8a8a"/><stop offset=".856" stop-color="#959595"/><stop offset=".897" stop-color="#8e8e8e"/><stop offset=".91" stop-color="#828282"/><stop offset=".926" stop-color="#676767"/><stop offset=".93" stop-color="#626262"/><stop offset=".953" stop-color="#656565"/><stop offset=".968" stop-color="#6d6d6d"/><stop offset=".993" stop-color="#717171"/><stop offset=".999" stop-color="#6e6e6e"/></linearGradient>
<linearGradient id="c424" x2="0" y2="1"><stop offset=".001" stop-color="#595959"/><stop offset=".003" stop-color="#5d5d5d"/><stop offset=".669" stop-color="#646464"/><stop offset=".684" stop-color="#666666"/><stop offset=".729" stop-color="#707070"/><stop offset=".748" stop-color="#747474"/><stop offset=".796" stop-color="#848484"/><stop offset=".856" stop-color="#909090"/><stop offset=".897" stop-color="#888888"/><stop offset=".904" stop-color="#828282"/><stop offset=".91" stop-color="#7d7d7d"/><stop offset=".916" stop-color="#737373"/><stop offset=".922" stop-color="#6b6b6b"/><stop offset=".926" stop-color="#666666"/><stop offset=".93" stop-color="#626262"/><stop offset=".953" stop-color="#656565"/><stop offset=".968" stop-color="#6c6c6c"/><stop offset=".993" stop-color="#717171"/><stop offset=".997" stop-color="#6c6c6c"/><stop offset=".999" stop-color="#6c6c6c"/></linearGradient>
<linearGradient id="c425" x2="0" y2="1"><stop offset=".001" stop-color="#595959"/><stop offset=".003" stop-color="#5d5d5d"/><stop offset=".675" stop-color="#646464"/><stop offset=".694" stop-color="#676767"/><stop offset=".725" stop-color="#6d6d6d"/><stop offset=".756" stop-color="#747474"/><stop offset=".796" stop-color="#828282"/><stop offset=".856" stop-color="#8c8c8c"/><stop offset=".897" stop-color="#858585"/><stop offset=".91" stop-color="#7b7b7b"/><stop offset=".92" stop-color="#6c6c6c"/><stop offset=".924" stop-color="#676767"/><stop offset=".928" stop-color="#626262"/><stop offset=".953" stop-color="#656565"/><stop offset=".968" stop-color="#6c6c6c"/><stop offset=".993" stop-color="#717171"/><stop offset=".997" stop-color="#6c6c6c"/><stop offset=".999" stop-color="#6d6d6d"/></linearGradient>
<linearGradient id="c426" x2="0" y2="1"><stop offset=".001" stop-color="#595959"/><stop offset=".003" stop-color="#5d5d5d"/><stop offset=".679" stop-color="#646464"/><stop offset=".702" stop-color="#666666"/><stop offset=".765" stop-color="#6f6f6f"/><stop offset=".796" stop-color="#797979"/><stop offset=".856" stop-color="#838383"/><stop offset=".897" stop-color="#7c7c7c"/><stop offset=".904" stop-color="#767676"/><stop offset=".908" stop-color="#747474"/><stop offset=".914" stop-color="#6d6d6d"/><stop offset=".928" stop-color="#626262"/><stop offset=".953" stop-color="#656565"/><stop offset=".968" stop-color="#6c6c6c"/><stop offset=".993" stop-color="#717171"/><stop offset=".995" stop-color="#6f6f6f"/><stop offset=".997" stop-color="#676767"/><stop offset=".999" stop-color="#676767"/></linearGradient>
<linearGradient id="c427" x2="0" y2="1"><stop offset=".001" stop-color="#595959"/><stop offset=".003" stop-color="#5d5d5d"/><stop offset=".692" stop-color="#646464"/><stop offset=".723" stop-color="#696969"/><stop offset=".796" stop-color="#7e7e7e"/><stop offset=".856" stop-color="#888888"/><stop offset=".897" stop-color="#818181"/><stop offset=".91" stop-color="#777777"/><stop offset=".922" stop-color="#666666"/><stop offset=".928" stop-color="#616161"/><stop offset=".953" stop-color="#656565"/><stop offset=".968" stop-color="#6d6d6d"/><stop offset=".993" stop-color="#717171"/><stop offset=".999" stop-color="#6e6e6e"/></linearGradient>
<linearGradient id="c428" x2="0" y2="1"><stop offset=".001" stop-color="#595959"/><stop offset=".003" stop-color="#5d5d5d"/><stop offset=".698" stop-color="#646464"/><stop offset=".725" stop-color="#676767"/><stop offset=".796" stop-color="#797979"/><stop offset=".856" stop-color="#828282"/><stop offset=".897" stop-color="#7c7c7c"/><stop offset=".91" stop-color="#727272"/><stop offset=".92" stop-color="#666666"/><stop offset=".926" stop-color="#626262"/><stop offset=".953" stop-color="#656565"/><stop offset=".968" stop-color="#6c6c6c"/><stop offset=".993" stop-color="#707070"/><stop offset=".997" stop-color="#6c6c6c"/><stop offset=".999" stop-color="#6c6c6c"/></linearGradient>
<linearGradient id="c429" x2="0" y2="1"><stop offset=".001" stop-color="#595959"/><stop offset=".003" stop-color="#5d5d5d"/><stop offset=".706" stop-color="#646464"/><stop offset=".733" stop-color="#676767"/><stop offset=".796" stop-color="#777777"/><stop offset=".856" stop-color="#818181"/><stop offset=".897" stop-color="#7b7b7b"/><stop offset=".91" stop-color="#717171"/><stop offset=".918" stop-color="#676767"/><stop offset=".926" stop-color="#616161"/><stop offset=".953" stop-color="#656565"/><stop offset=".968" stop-color="#6c6c6c"/><stop offset=".993" stop-color="#707070"/><stop offset=".997" stop-color="#6c6c6c"/><stop offset=".999" stop-color="#6c6c6c"/></linearGradient>
<filter id="cm" x="52" y="37" width="430" height="482" filterUnits="userSpaceOnUse" primitiveUnits="userSpaceOnUse" color-interpolation-filters="sRGB">
<feTurbulence type="fractalNoise" baseFrequency="0.9 0.3" numOctaves="2" seed="7" result="n"/>
<feColorMatrix in="n" type="matrix" values="1 0 0 0 0  1 0 0 0 0  1 0 0 0 0  0 0 0 0 1" result="n1"/>
<feComponentTransfer in="SourceGraphic" result="amp">
<feFuncR type="table" tableValues="0.040 0.040 0.040 0.040 0.040 0.040 0.040 0.040 0.040 0.040 0.040 0.040 0.040 0.040 0.040 0.040 0.040 0.040 0.043 0.046 0.050 0.054 0.059 0.063 0.066 0.068 0.069 0.065 0.062 0.059 0.056 0.053 0.050 0.047 0.045 0.043 0.041 0.039 0.037 0.035 0.033 0.031 0.030 0.028 0.027 0.026 0.025 0.023 0.022 0.021 0.020"/><feFuncG type="table" tableValues="0.040 0.040 0.040 0.040 0.040 0.040 0.040 0.040 0.040 0.040 0.040 0.040 0.040 0.040 0.040 0.040 0.040 0.040 0.043 0.046 0.050 0.054 0.059 0.063 0.066 0.068 0.069 0.065 0.062 0.059 0.056 0.053 0.050 0.047 0.045 0.043 0.041 0.039 0.037 0.035 0.033 0.031 0.030 0.028 0.027 0.026 0.025 0.023 0.022 0.021 0.020"/><feFuncB type="table" tableValues="0.040 0.040 0.040 0.040 0.040 0.040 0.040 0.040 0.040 0.040 0.040 0.040 0.040 0.040 0.040 0.040 0.040 0.040 0.043 0.046 0.050 0.054 0.059 0.063 0.066 0.068 0.069 0.065 0.062 0.059 0.056 0.053 0.050 0.047 0.045 0.043 0.041 0.039 0.037 0.035 0.033 0.031 0.030 0.028 0.027 0.026 0.025 0.023 0.022 0.021 0.020"/>
</feComponentTransfer>
<feComposite in="amp" in2="n1" operator="arithmetic" k1="1" k2="0" k3="0" k4="0" result="m"/>
<feComposite in="SourceGraphic" in2="m" operator="arithmetic" k1="0" k2="1" k3="1" k4="0" result="f"/>
<feComponentTransfer in="f">
<feFuncR type="table" tableValues="0 0 0 0 0 0 0 0 0 0 0 0 0 0 0 0 0 0 0 0 0 0 0 0 0 0 0 0 0 0 0 0 0 0 0 0 0 0 0 0 0 0 0 0 0 0 0 0 0 0 0 0 0 0 0 0 0 0 0 0 0 0 0 0 0 0 0 0 0 0 0 0 0 0 0 0 0 0 0 0 0 0 0 0 0 0 0 0 0 0 0.001 0.006 0.011 0.017 0.022 0.027 0.032 0.037 0.042 0.047 0.052 0.058 0.063 0.065 0.068 0.071 0.074 0.076 0.079 0.082 0.085 0.087 0.09 0.093 0.109 0.137 0.165 0.193 0.221 0.249 0.28 0.312 0.345 0.377 0.409 0.442 0.491 0.54 0.575 0.597 0.618 0.64 0.661 0.682 0.701 0.718 0.734 0.751 0.768 0.784 0.789 0.794 0.799 0.804 0.809 0.814 0.816 0.816 0.816 0.816 0.816 0.816 0.816 0.816 0.818 0.821 0.823 0.826 0.829 0.831 0.834 0.836 0.839 0.841 0.844 0.846 0.849 0.852 0.854 0.857 0.86 0.862 0.865 0.867 0.87 0.873 0.875 0.878 0.881 0.883 0.886 0.889 0.891 0.894 0.897 0.9 0.902 0.905 0.908 0.91 0.912 0.915 0.917 0.919 0.921 0.923 0.925 0.927 0.929 0.931 0.933 0.935 0.937 0.939 0.941 0.943 0.945 0.947 0.949 0.95 0.952 0.954 0.956 0.958 0.96 0.962 0.964 0.965 0.967 0.969 0.971 0.973 0.975 0.976 0.978 0.98 0.982 0.983 0.985 0.987 0.988 0.99 0.992 0.994 0.995 0.997 0.999 1 1 1 1 1 1 1 1 1 1 1 1 1 1 1 1 1 1 1"/>
<feFuncG type="table" tableValues="0 0 0 0 0 0 0 0 0 0 0 0 0 0 0 0 0 0 0 0 0 0 0 0 0 0 0 0 0 0 0 0.005 0.017 0.03 0.042 0.054 0.066 0.079 0.091 0.104 0.118 0.131 0.144 0.158 0.171 0.184 0.198 0.211 0.225 0.238 0.251 0.263 0.275 0.287 0.298 0.31 0.322 0.334 0.345 0.357 0.369 0.381 0.393 0.402 0.412 0.422 0.432 0.442 0.452 0.462 0.472 0.482 0.492 0.503 0.513 0.523 0.533 0.544 0.554 0.564 0.567 0.57 0.573 0.576 0.579 0.582 0.585 0.588 0.591 0.594 0.596 0.596 0.596 0.596 0.596 0.596 0.596 0.596 0.596 0.596 0.596 0.596 0.596 0.596 0.596 0.596 0.596 0.596 0.596 0.596 0.596 0.596 0.596 0.596 0.59 0.579 0.568 0.557 0.545 0.534 0.514 0.492 0.471 0.45 0.428 0.407 0.395 0.383 0.366 0.344 0.323 0.302 0.28 0.259 0.23 0.196 0.163 0.129 0.095 0.063 0.058 0.053 0.048 0.043 0.038 0.033 0.037 0.045 0.053 0.061 0.07 0.078 0.086 0.094 0.102 0.109 0.117 0.125 0.133 0.14 0.148 0.156 0.163 0.171 0.179 0.186 0.195 0.204 0.214 0.223 0.232 0.241 0.25 0.259 0.268 0.278 0.287 0.296 0.305 0.315 0.325 0.334 0.344 0.353 0.363 0.372 0.382 0.392 0.401 0.411 0.421 0.431 0.442 0.452 0.462 0.472 0.483 0.493 0.503 0.513 0.524 0.534 0.544 0.554 0.565 0.574 0.583 0.593 0.602 0.611 0.621 0.63 0.639 0.649 0.658 0.667 0.677 0.686 0.695 0.705 0.714 0.723 0.731 0.739 0.747 0.755 0.763 0.771 0.778 0.786 0.794 0.802 0.81 0.818 0.826 0.834 0.842 0.85 0.858 0.866 0.873 0.881 0.889 0.897 0.905 0.913 0.921 0.928 0.936 0.945 0.954 0.963 0.972 0.982 0.991 1"/>
<feFuncB type="table" tableValues="0.22 0.222 0.224 0.226 0.228 0.23 0.232 0.234 0.236 0.238 0.24 0.242 0.244 0.246 0.248 0.25 0.252 0.254 0.257 0.259 0.261 0.263 0.265 0.267 0.269 0.271 0.273 0.275 0.277 0.279 0.281 0.286 0.294 0.302 0.31 0.318 0.327 0.335 0.343 0.349 0.354 0.36 0.365 0.371 0.376 0.381 0.387 0.392 0.397 0.403 0.408 0.408 0.408 0.408 0.408 0.408 0.408 0.408 0.408 0.408 0.408 0.408 0.408 0.408 0.408 0.408 0.408 0.408 0.408 0.408 0.407 0.404 0.401 0.397 0.394 0.39 0.387 0.383 0.38 0.377 0.363 0.348 0.333 0.319 0.304 0.289 0.275 0.26 0.245 0.231 0.217 0.207 0.197 0.186 0.176 0.166 0.156 0.145 0.135 0.125 0.115 0.104 0.094 0.086 0.078 0.07 0.061 0.053 0.045 0.037 0.029 0.02 0.012 0.004 0 0 0 0 0 0 0 0 0 0 0 0 0 0 0 0 0 0 0 0 0 0 0 0 0 0 0 0 0 0 0 0 0 0 0 0 0 0 0 0 0 0 0 0 0 0 0 0 0 0 0 0 0 0 0 0 0 0 0 0 0 0 0 0 0 0 0 0 0 0 0 0 0 0 0 0 0 0 0 0 0 0 0 0 0 0 0 0 0 0 0 0 0 0 0 0 0 0 0 0 0 0 0 0 0 0 0 0 0 0 0 0 0 0 0 0 0 0 0 0 0 0 0 0 0 0 0 0 0 0 0 0 0 0 0 0 0 0 0 0 0 0"/>
</feComponentTransfer>
</filter>
</defs>
<rect x="0" y="0" width="755" height="693" fill="#000"/>
<rect x="52" y="33" width="430" height="4" fill="#001850"/>
<rect x="52" y="519" width="430" height="26" fill="#001850"/>
<g filter="url(#cm)" shape-rendering="crispEdges">
<rect x="52" y="37" width="430" height="482" fill="#696969"/>
<rect x="52" y="37" width="1" height="482" fill="url(#c0)"/>
<rect x="53" y="37" width="1" height="482" fill="url(#c1)"/>
<rect x="54" y="37" width="1" height="482" fill="url(#c2)"/>
<rect x="55" y="37" width="1" height="482" fill="url(#c3)"/>
<rect x="56" y="37" width="1" height="482" fill="url(#c4)"/>
<rect x="57" y="37" width="1" height="482" fill="url(#c5)"/>
<rect x="58" y="37" width="1" height="482" fill="url(#c6)"/>
<rect x="59" y="37" width="1" height="482" fill="url(#c7)"/>
<rect x="60" y="37" width="1" height="482" fill="url(#c8)"/>
<rect x="61" y="37" width="1" height="482" fill="url(#c9)"/>
<rect x="62" y="37" width="1" height="482" fill="url(#c10)"/>
<rect x="63" y="37" width="1" height="482" fill="url(#c11)"/>
<rect x="64" y="37" width="1" height="482" fill="url(#c12)"/>
<rect x="65" y="37" width="1" height="482" fill="url(#c13)"/>
<rect x="66" y="37" width="1" height="482" fill="url(#c14)"/>
<rect x="67" y="37" width="1" height="482" fill="url(#c15)"/>
<rect x="68" y="37" width="1" height="482" fill="url(#c16)"/>
<rect x="69" y="37" width="1" height="482" fill="url(#c17)"/>
<rect x="70" y="37" width="1" height="482" fill="url(#c18)"/>
<rect x="71" y="37" width="1" height="482" fill="url(#c19)"/>
<rect x="72" y="37" width="1" height="482" fill="url(#c20)"/>
<rect x="73" y="37" width="1" height="482" fill="url(#c21)"/>
<rect x="74" y="37" width="1" height="482" fill="url(#c22)"/>
<rect x="75" y="37" width="1" height="482" fill="url(#c23)"/>
<rect x="76" y="37" width="1" height="482" fill="url(#c24)"/>
<rect x="77" y="37" width="1" height="482" fill="url(#c25)"/>
<rect x="78" y="37" width="1" height="482" fill="url(#c26)"/>
<rect x="79" y="37" width="1" height="482" fill="url(#c27)"/>
<rect x="80" y="37" width="1" height="482" fill="url(#c28)"/>
<rect x="81" y="37" width="1" height="482" fill="url(#c29)"/>
<rect x="82" y="37" width="1" height="482" fill="url(#c30)"/>
<rect x="83" y="37" width="1" height="482" fill="url(#c31)"/>
<rect x="84" y="37" width="1" height="482" fill="url(#c32)"/>
<rect x="85" y="37" width="1" height="482" fill="url(#c33)"/>
<rect x="86" y="37" width="1" height="482" fill="url(#c34)"/>
<rect x="87" y="37" width="1" height="482" fill="url(#c35)"/>
<rect x="88" y="37" width="1" height="482" fill="url(#c36)"/>
<rect x="89" y="37" width="1" height="482" fill="url(#c37)"/>
<rect x="90" y="37" width="1" height="482" fill="url(#c38)"/>
<rect x="91" y="37" width="1" height="482" fill="url(#c39)"/>
<rect x="92" y="37" width="1" height="482" fill="url(#c40)"/>
<rect x="93" y="37" width="1" height="482" fill="url(#c41)"/>
<rect x="94" y="37" width="1" height="482" fill="url(#c42)"/>
<rect x="95" y="37" width="1" height="482" fill="url(#c43)"/>
<rect x="96" y="37" width="1" height="482" fill="url(#c44)"/>
<rect x="97" y="37" width="1" height="482" fill="url(#c45)"/>
<rect x="98" y="37" width="1" height="482" fill="url(#c46)"/>
<rect x="99" y="37" width="1" height="482" fill="url(#c47)"/>
<rect x="100" y="37" width="1" height="482" fill="url(#c48)"/>
<rect x="101" y="37" width="1" height="482" fill="url(#c49)"/>
<rect x="102" y="37" width="1" height="482" fill="url(#c50)"/>
<rect x="103" y="37" width="1" height="482" fill="url(#c51)"/>
<rect x="104" y="37" width="1" height="482" fill="url(#c52)"/>
<rect x="105" y="37" width="1" height="482" fill="url(#c53)"/>
<rect x="106" y="37" width="1" height="482" fill="url(#c54)"/>
<rect x="107" y="37" width="1" height="482" fill="url(#c55)"/>
<rect x="108" y="37" width="1" height="482" fill="url(#c56)"/>
<rect x="109" y="37" width="1" height="482" fill="url(#c57)"/>
<rect x="110" y="37" width="1" height="482" fill="url(#c58)"/>
<rect x="111" y="37" width="1" height="482" fill="url(#c59)"/>
<rect x="112" y="37" width="1" height="482" fill="url(#c60)"/>
<rect x="113" y="37" width="1" height="482" fill="url(#c61)"/>
<rect x="114" y="37" width="1" height="482" fill="url(#c62)"/>
<rect x="115" y="37" width="1" height="482" fill="url(#c63)"/>
<rect x="116" y="37" width="1" height="482" fill="url(#c64)"/>
<rect x="117" y="37" width="1" height="482" fill="url(#c65)"/>
<rect x="118" y="37" width="1" height="482" fill="url(#c66)"/>
<rect x="119" y="37" width="1" height="482" fill="url(#c67)"/>
<rect x="120" y="37" width="1" height="482" fill="url(#c68)"/>
<rect x="121" y="37" width="1" height="482" fill="url(#c69)"/>
<rect x="122" y="37" width="1" height="482" fill="url(#c70)"/>
<rect x="123" y="37" width="1" height="482" fill="url(#c71)"/>
<rect x="124" y="37" width="1" height="482" fill="url(#c72)"/>
<rect x="125" y="37" width="1" height="482" fill="url(#c73)"/>
<rect x="126" y="37" width="1" height="482" fill="url(#c74)"/>
<rect x="127" y="37" width="1" height="482" fill="url(#c75)"/>
<rect x="128" y="37" width="1" height="482" fill="url(#c76)"/>
<rect x="129" y="37" width="1" height="482" fill="url(#c77)"/>
<rect x="130" y="37" width="1" height="482" fill="url(#c78)"/>
<rect x="131" y="37" width="1" height="482" fill="url(#c79)"/>
<rect x="132" y="37" width="1" height="482" fill="url(#c80)"/>
<rect x="133" y="37" width="1" height="482" fill="url(#c81)"/>
<rect x="134" y="37" width="1" height="482" fill="url(#c82)"/>
<rect x="135" y="37" width="1" height="482" fill="url(#c83)"/>
<rect x="136" y="37" width="1" height="482" fill="url(#c84)"/>
<rect x="137" y="37" width="1" height="482" fill="url(#c85)"/>
<rect x="138" y="37" width="1" height="482" fill="url(#c86)"/>
<rect x="139" y="37" width="1" height="482" fill="url(#c87)"/>
<rect x="140" y="37" width="1" height="482" fill="url(#c88)"/>
<rect x="141" y="37" width="1" height="482" fill="url(#c89)"/>
<rect x="142" y="37" width="1" height="482" fill="url(#c90)"/>
<rect x="143" y="37" width="1" height="482" fill="url(#c91)"/>
<rect x="144" y="37" width="1" height="482" fill="url(#c92)"/>
<rect x="145" y="37" width="1" height="482" fill="url(#c93)"/>
<rect x="146" y="37" width="1" height="482" fill="url(#c94)"/>
<rect x="147" y="37" width="1" height="482" fill="url(#c95)"/>
<rect x="148" y="37" width="1" height="482" fill="url(#c96)"/>
<rect x="149" y="37" width="1" height="482" fill="url(#c97)"/>
<rect x="150" y="37" width="1" height="482" fill="url(#c98)"/>
<rect x="151" y="37" width="1" height="482" fill="url(#c99)"/>
<rect x="152" y="37" width="1" height="482" fill="url(#c100)"/>
<rect x="153" y="37" width="1" height="482" fill="url(#c101)"/>
<rect x="154" y="37" width="1" height="482" fill="url(#c102)"/>
<rect x="155" y="37" width="1" height="482" fill="url(#c103)"/>
<rect x="156" y="37" width="1" height="482" fill="url(#c104)"/>
<rect x="157" y="37" width="1" height="482" fill="url(#c105)"/>
<rect x="158" y="37" width="1" height="482" fill="url(#c106)"/>
<rect x="159" y="37" width="1" height="482" fill="url(#c107)"/>
<rect x="160" y="37" width="1" height="482" fill="url(#c108)"/>
<rect x="161" y="37" width="1" height="482" fill="url(#c109)"/>
<rect x="162" y="37" width="1" height="482" fill="url(#c110)"/>
<rect x="163" y="37" width="1" height="482" fill="url(#c111)"/>
<rect x="164" y="37" width="1" height="482" fill="url(#c112)"/>
<rect x="165" y="37" width="1" height="482" fill="url(#c113)"/>
<rect x="166" y="37" width="1" height="482" fill="url(#c114)"/>
<rect x="167" y="37" width="1" height="482" fill="url(#c115)"/>
<rect x="168" y="37" width="1" height="482" fill="url(#c116)"/>
<rect x="169" y="37" width="1" height="482" fill="url(#c117)"/>
<rect x="170" y="37" width="1" height="482" fill="url(#c118)"/>
<rect x="171" y="37" width="1" height="482" fill="url(#c119)"/>
<rect x="172" y="37" width="1" height="482" fill="url(#c120)"/>
<rect x="173" y="37" width="1" height="482" fill="url(#c121)"/>
<rect x="174" y="37" width="1" height="482" fill="url(#c122)"/>
<rect x="175" y="37" width="1" height="482" fill="url(#c123)"/>
<rect x="176" y="37" width="1" height="482" fill="url(#c124)"/>
<rect x="177" y="37" width="1" height="482" fill="url(#c125)"/>
<rect x="178" y="37" width="1" height="482" fill="url(#c126)"/>
<rect x="179" y="37" width="1" height="482" fill="url(#c127)"/>
<rect x="180" y="37" width="1" height="482" fill="url(#c128)"/>
<rect x="181" y="37" width="1" height="482" fill="url(#c129)"/>
<rect x="182" y="37" width="1" height="482" fill="url(#c130)"/>
<rect x="183" y="37" width="1" height="482" fill="url(#c131)"/>
<rect x="184" y="37" width="1" height="482" fill="url(#c132)"/>
<rect x="185" y="37" width="1" height="482" fill="url(#c133)"/>
<rect x="186" y="37" width="1" height="482" fill="url(#c134)"/>
<rect x="187" y="37" width="1" height="482" fill="url(#c135)"/>
<rect x="188" y="37" width="1" height="482" fill="url(#c136)"/>
<rect x="189" y="37" width="1" height="482" fill="url(#c137)"/>
<rect x="190" y="37" width="1" height="482" fill="url(#c138)"/>
<rect x="191" y="37" width="1" height="482" fill="url(#c139)"/>
<rect x="192" y="37" width="1" height="482" fill="url(#c140)"/>
<rect x="193" y="37" width="1" height="482" fill="url(#c141)"/>
<rect x="194" y="37" width="1" height="482" fill="url(#c142)"/>
<rect x="195" y="37" width="1" height="482" fill="url(#c143)"/>
<rect x="196" y="37" width="1" height="482" fill="url(#c144)"/>
<rect x="197" y="37" width="1" height="482" fill="url(#c145)"/>
<rect x="198" y="37" width="1" height="482" fill="url(#c146)"/>
<rect x="199" y="37" width="1" height="482" fill="url(#c147)"/>
<rect x="200" y="37" width="1" height="482" fill="url(#c148)"/>
<rect x="201" y="37" width="1" height="482" fill="url(#c149)"/>
<rect x="202" y="37" width="1" height="482" fill="url(#c150)"/>
<rect x="203" y="37" width="1" height="482" fill="url(#c151)"/>
<rect x="204" y="37" width="1" height="482" fill="url(#c152)"/>
<rect x="205" y="37" width="1" height="482" fill="url(#c153)"/>
<rect x="206" y="37" width="1" height="482" fill="url(#c154)"/>
<rect x="207" y="37" width="1" height="482" fill="url(#c155)"/>
<rect x="208" y="37" width="1" height="482" fill="url(#c156)"/>
<rect x="209" y="37" width="1" height="482" fill="url(#c157)"/>
<rect x="210" y="37" width="1" height="482" fill="url(#c158)"/>
<rect x="211" y="37" width="1" height="482" fill="url(#c159)"/>
<rect x="212" y="37" width="1" height="482" fill="url(#c160)"/>
<rect x="213" y="37" width="1" height="482" fill="url(#c161)"/>
<rect x="214" y="37" width="1" height="482" fill="url(#c162)"/>
<rect x="215" y="37" width="1" height="482" fill="url(#c163)"/>
<rect x="216" y="37" width="1" height="482" fill="url(#c164)"/>
<rect x="217" y="37" width="1" height="482" fill="url(#c165)"/>
<rect x="218" y="37" width="1" height="482" fill="url(#c166)"/>
<rect x="219" y="37" width="1" height="482" fill="url(#c167)"/>
<rect x="220" y="37" width="1" height="482" fill="url(#c168)"/>
<rect x="221" y="37" width="1" height="482" fill="url(#c169)"/>
<rect x="222" y="37" width="1" height="482" fill="url(#c170)"/>
<rect x="223" y="37" width="1" height="482" fill="url(#c171)"/>
<rect x="224" y="37" width="1" height="482" fill="url(#c172)"/>
<rect x="225" y="37" width="1" height="482" fill="url(#c173)"/>
<rect x="226" y="37" width="1" height="482" fill="url(#c174)"/>
<rect x="227" y="37" width="1" height="482" fill="url(#c175)"/>
<rect x="228" y="37" width="1" height="482" fill="url(#c176)"/>
<rect x="229" y="37" width="1" height="482" fill="url(#c177)"/>
<rect x="230" y="37" width="1" height="482" fill="url(#c178)"/>
<rect x="231" y="37" width="1" height="482" fill="url(#c179)"/>
<rect x="232" y="37" width="1" height="482" fill="url(#c180)"/>
<rect x="233" y="37" width="1" height="482" fill="url(#c181)"/>
<rect x="234" y="37" width="1" height="482" fill="url(#c182)"/>
<rect x="235" y="37" width="1" height="482" fill="url(#c183)"/>
<rect x="236" y="37" width="1" height="482" fill="url(#c184)"/>
<rect x="237" y="37" width="1" height="482" fill="url(#c185)"/>
<rect x="238" y="37" width="1" height="482" fill="url(#c186)"/>
<rect x="239" y="37" width="1" height="482" fill="url(#c187)"/>
<rect x="240" y="37" width="1" height="482" fill="url(#c188)"/>
<rect x="241" y="37" width="1" height="482" fill="url(#c189)"/>
<rect x="242" y="37" width="1" height="482" fill="url(#c190)"/>
<rect x="243" y="37" width="1" height="482" fill="url(#c191)"/>
<rect x="244" y="37" width="1" height="482" fill="url(#c192)"/>
<rect x="245" y="37" width="1" height="482" fill="url(#c193)"/>
<rect x="246" y="37" width="1" height="482" fill="url(#c194)"/>
<rect x="247" y="37" width="1" height="482" fill="url(#c195)"/>
<rect x="248" y="37" width="1" height="482" fill="url(#c196)"/>
<rect x="249" y="37" width="1" height="482" fill="url(#c197)"/>
<rect x="250" y="37" width="1" height="482" fill="url(#c198)"/>
<rect x="251" y="37" width="1" height="482" fill="url(#c199)"/>
<rect x="252" y="37" width="1" height="482" fill="url(#c200)"/>
<rect x="253" y="37" width="1" height="482" fill="url(#c201)"/>
<rect x="254" y="37" width="1" height="482" fill="url(#c202)"/>
<rect x="255" y="37" width="1" height="482" fill="url(#c203)"/>
<rect x="256" y="37" width="1" height="482" fill="url(#c204)"/>
<rect x="257" y="37" width="1" height="482" fill="url(#c205)"/>
<rect x="258" y="37" width="1" height="482" fill="url(#c206)"/>
<rect x="259" y="37" width="1" height="482" fill="url(#c207)"/>
<rect x="260" y="37" width="1" height="482" fill="url(#c208)"/>
<rect x="261" y="37" width="1" height="482" fill="url(#c209)"/>
<rect x="262" y="37" width="1" height="482" fill="url(#c210)"/>
<rect x="263" y="37" width="1" height="482" fill="url(#c211)"/>
<rect x="264" y="37" width="1" height="482" fill="url(#c212)"/>
<rect x="265" y="37" width="1" height="482" fill="url(#c213)"/>
<rect x="266" y="37" width="1" height="482" fill="url(#c214)"/>
<rect x="267" y="37" width="1" height="482" fill="url(#c215)"/>
<rect x="268" y="37" width="1" height="482" fill="url(#c216)"/>
<rect x="269" y="37" width="1" height="482" fill="url(#c217)"/>
<rect x="270" y="37" width="1" height="482" fill="url(#c218)"/>
<rect x="271" y="37" width="1" height="482" fill="url(#c219)"/>
<rect x="272" y="37" width="1" height="482" fill="url(#c220)"/>
<rect x="273" y="37" width="1" height="482" fill="url(#c221)"/>
<rect x="274" y="37" width="1" height="482" fill="url(#c222)"/>
<rect x="275" y="37" width="1" height="482" fill="url(#c223)"/>
<rect x="276" y="37" width="1" height="482" fill="url(#c224)"/>
<rect x="277" y="37" width="1" height="482" fill="url(#c225)"/>
<rect x="278" y="37" width="1" height="482" fill="url(#c226)"/>
<rect x="279" y="37" width="1" height="482" fill="url(#c227)"/>
<rect x="280" y="37" width="1" height="482" fill="url(#c228)"/>
<rect x="281" y="37" width="1" height="482" fill="url(#c229)"/>
<rect x="282" y="37" width="1" height="482" fill="url(#c230)"/>
<rect x="283" y="37" width="1" height="482" fill="url(#c231)"/>
<rect x="284" y="37" width="1" height="482" fill="url(#c232)"/>
<rect x="285" y="37" width="1" height="482" fill="url(#c233)"/>
<rect x="286" y="37" width="1" height="482" fill="url(#c234)"/>
<rect x="287" y="37" width="1" height="482" fill="url(#c235)"/>
<rect x="288" y="37" width="1" height="482" fill="url(#c236)"/>
<rect x="289" y="37" width="1" height="482" fill="url(#c237)"/>
<rect x="290" y="37" width="1" height="482" fill="url(#c238)"/>
<rect x="291" y="37" width="1" height="482" fill="url(#c239)"/>
<rect x="292" y="37" width="1" height="482" fill="url(#c240)"/>
<rect x="293" y="37" width="1" height="482" fill="url(#c241)"/>
<rect x="294" y="37" width="1" height="482" fill="url(#c242)"/>
<rect x="295" y="37" width="1" height="482" fill="url(#c243)"/>
<rect x="296" y="37" width="1" height="482" fill="url(#c244)"/>
<rect x="297" y="37" width="1" height="482" fill="url(#c245)"/>
<rect x="298" y="37" width="1" height="482" fill="url(#c246)"/>
<rect x="299" y="37" width="1" height="482" fill="url(#c247)"/>
<rect x="300" y="37" width="1" height="482" fill="url(#c248)"/>
<rect x="301" y="37" width="1" height="482" fill="url(#c249)"/>
<rect x="302" y="37" width="1" height="482" fill="url(#c250)"/>
<rect x="303" y="37" width="1" height="482" fill="url(#c251)"/>
<rect x="304" y="37" width="1" height="482" fill="url(#c252)"/>
<rect x="305" y="37" width="1" height="482" fill="url(#c253)"/>
<rect x="306" y="37" width="1" height="482" fill="url(#c254)"/>
<rect x="307" y="37" width="1" height="482" fill="url(#c255)"/>
<rect x="308" y="37" width="1" height="482" fill="url(#c256)"/>
<rect x="309" y="37" width="1" height="482" fill="url(#c257)"/>
<rect x="310" y="37" width="1" height="482" fill="url(#c258)"/>
<rect x="311" y="37" width="1" height="482" fill="url(#c259)"/>
<rect x="312" y="37" width="1" height="482" fill="url(#c260)"/>
<rect x="313" y="37" width="1" height="482" fill="url(#c261)"/>
<rect x="314" y="37" width="1" height="482" fill="url(#c262)"/>
<rect x="315" y="37" width="1" height="482" fill="url(#c263)"/>
<rect x="316" y="37" width="1" height="482" fill="url(#c264)"/>
<rect x="317" y="37" width="1" height="482" fill="url(#c265)"/>
<rect x="318" y="37" width="1" height="482" fill="url(#c266)"/>
<rect x="319" y="37" width="1" height="482" fill="url(#c267)"/>
<rect x="320" y="37" width="1" height="482" fill="url(#c268)"/>
<rect x="321" y="37" width="1" height="482" fill="url(#c269)"/>
<rect x="322" y="37" width="1" height="482" fill="url(#c270)"/>
<rect x="323" y="37" width="1" height="482" fill="url(#c271)"/>
<rect x="324" y="37" width="1" height="482" fill="url(#c272)"/>
<rect x="325" y="37" width="1" height="482" fill="url(#c273)"/>
<rect x="326" y="37" width="1" height="482" fill="url(#c274)"/>
<rect x="327" y="37" width="1" height="482" fill="url(#c275)"/>
<rect x="328" y="37" width="1" height="482" fill="url(#c276)"/>
<rect x="329" y="37" width="1" height="482" fill="url(#c277)"/>
<rect x="330" y="37" width="1" height="482" fill="url(#c278)"/>
<rect x="331" y="37" width="1" height="482" fill="url(#c279)"/>
<rect x="332" y="37" width="1" height="482" fill="url(#c280)"/>
<rect x="333" y="37" width="1" height="482" fill="url(#c281)"/>
<rect x="334" y="37" width="1" height="482" fill="url(#c282)"/>
<rect x="335" y="37" width="1" height="482" fill="url(#c283)"/>
<rect x="336" y="37" width="1" height="482" fill="url(#c284)"/>
<rect x="337" y="37" width="1" height="482" fill="url(#c285)"/>
<rect x="338" y="37" width="1" height="482" fill="url(#c286)"/>
<rect x="339" y="37" width="1" height="482" fill="url(#c287)"/>
<rect x="340" y="37" width="1" height="482" fill="url(#c288)"/>
<rect x="341" y="37" width="1" height="482" fill="url(#c289)"/>
<rect x="342" y="37" width="1" height="482" fill="url(#c290)"/>
<rect x="343" y="37" width="1" height="482" fill="url(#c291)"/>
<rect x="344" y="37" width="1" height="482" fill="url(#c292)"/>
<rect x="345" y="37" width="1" height="482" fill="url(#c293)"/>
<rect x="346" y="37" width="1" height="482" fill="url(#c294)"/>
<rect x="347" y="37" width="1" height="482" fill="url(#c295)"/>
<rect x="348" y="37" width="1" height="482" fill="url(#c296)"/>
<rect x="349" y="37" width="1" height="482" fill="url(#c297)"/>
<rect x="350" y="37" width="1" height="482" fill="url(#c298)"/>
<rect x="351" y="37" width="1" height="482" fill="url(#c299)"/>
<rect x="352" y="37" width="1" height="482" fill="url(#c300)"/>
<rect x="353" y="37" width="1" height="482" fill="url(#c301)"/>
<rect x="354" y="37" width="1" height="482" fill="url(#c302)"/>
<rect x="355" y="37" width="1" height="482" fill="url(#c303)"/>
<rect x="356" y="37" width="1" height="482" fill="url(#c304)"/>
<rect x="357" y="37" width="1" height="482" fill="url(#c305)"/>
<rect x="358" y="37" width="1" height="482" fill="url(#c306)"/>
<rect x="359" y="37" width="1" height="482" fill="url(#c307)"/>
<rect x="360" y="37" width="1" height="482" fill="url(#c308)"/>
<rect x="361" y="37" width="1" height="482" fill="url(#c309)"/>
<rect x="362" y="37" width="1" height="482" fill="url(#c310)"/>
<rect x="363" y="37" width="1" height="482" fill="url(#c311)"/>
<rect x="364" y="37" width="1" height="482" fill="url(#c312)"/>
<rect x="365" y="37" width="1" height="482" fill="url(#c313)"/>
<rect x="366" y="37" width="1" height="482" fill="url(#c314)"/>
<rect x="367" y="37" width="1" height="482" fill="url(#c315)"/>
<rect x="368" y="37" width="1" height="482" fill="url(#c316)"/>
<rect x="369" y="37" width="1" height="482" fill="url(#c317)"/>
<rect x="370" y="37" width="1" height="482" fill="url(#c318)"/>
<rect x="371" y="37" width="1" height="482" fill="url(#c319)"/>
<rect x="372" y="37" width="1" height="482" fill="url(#c320)"/>
<rect x="373" y="37" width="1" height="482" fill="url(#c321)"/>
<rect x="374" y="37" width="1" height="482" fill="url(#c322)"/>
<rect x="375" y="37" width="1" height="482" fill="url(#c323)"/>
<rect x="376" y="37" width="1" height="482" fill="url(#c324)"/>
<rect x="377" y="37" width="1" height="482" fill="url(#c325)"/>
<rect x="378" y="37" width="1" height="482" fill="url(#c326)"/>
<rect x="379" y="37" width="1" height="482" fill="url(#c327)"/>
<rect x="380" y="37" width="1" height="482" fill="url(#c328)"/>
<rect x="381" y="37" width="1" height="482" fill="url(#c329)"/>
<rect x="382" y="37" width="1" height="482" fill="url(#c330)"/>
<rect x="383" y="37" width="1" height="482" fill="url(#c331)"/>
<rect x="384" y="37" width="1" height="482" fill="url(#c332)"/>
<rect x="385" y="37" width="1" height="482" fill="url(#c333)"/>
<rect x="386" y="37" width="1" height="482" fill="url(#c334)"/>
<rect x="387" y="37" width="1" height="482" fill="url(#c335)"/>
<rect x="388" y="37" width="1" height="482" fill="url(#c336)"/>
<rect x="389" y="37" width="1" height="482" fill="url(#c337)"/>
<rect x="390" y="37" width="1" height="482" fill="url(#c338)"/>
<rect x="391" y="37" width="1" height="482" fill="url(#c339)"/>
<rect x="392" y="37" width="1" height="482" fill="url(#c340)"/>
<rect x="393" y="37" width="1" height="482" fill="url(#c341)"/>
<rect x="394" y="37" width="1" height="482" fill="url(#c342)"/>
<rect x="395" y="37" width="1" height="482" fill="url(#c343)"/>
<rect x="396" y="37" width="1" height="482" fill="url(#c344)"/>
<rect x="397" y="37" width="1" height="482" fill="url(#c345)"/>
<rect x="398" y="37" width="1" height="482" fill="url(#c346)"/>
<rect x="399" y="37" width="1" height="482" fill="url(#c347)"/>
<rect x="400" y="37" width="1" height="482" fill="url(#c348)"/>
<rect x="401" y="37" width="1" height="482" fill="url(#c349)"/>
<rect x="402" y="37" width="1" height="482" fill="url(#c350)"/>
<rect x="403" y="37" width="1" height="482" fill="url(#c351)"/>
<rect x="404" y="37" width="1" height="482" fill="url(#c352)"/>
<rect x="405" y="37" width="1" height="482" fill="url(#c353)"/>
<rect x="406" y="37" width="1" height="482" fill="url(#c354)"/>
<rect x="407" y="37" width="1" height="482" fill="url(#c355)"/>
<rect x="408" y="37" width="1" height="482" fill="url(#c356)"/>
<rect x="409" y="37" width="1" height="482" fill="url(#c357)"/>
<rect x="410" y="37" width="1" height="482" fill="url(#c358)"/>
<rect x="411" y="37" width="1" height="482" fill="url(#c359)"/>
<rect x="412" y="37" width="1" height="482" fill="url(#c360)"/>
<rect x="413" y="37" width="1" height="482" fill="url(#c361)"/>
<rect x="414" y="37" width="1" height="482" fill="url(#c362)"/>
<rect x="415" y="37" width="1" height="482" fill="url(#c363)"/>
<rect x="416" y="37" width="1" height="482" fill="url(#c364)"/>
<rect x="417" y="37" width="1" height="482" fill="url(#c365)"/>
<rect x="418" y="37" width="1" height="482" fill="url(#c366)"/>
<rect x="419" y="37" width="1" height="482" fill="url(#c367)"/>
<rect x="420" y="37" width="1" height="482" fill="url(#c368)"/>
<rect x="421" y="37" width="1" height="482" fill="url(#c369)"/>
<rect x="422" y="37" width="1" height="482" fill="url(#c370)"/>
<rect x="423" y="37" width="1" height="482" fill="url(#c371)"/>
<rect x="424" y="37" width="1" height="482" fill="url(#c372)"/>
<rect x="425" y="37" width="1" height="482" fill="url(#c373)"/>
<rect x="426" y="37" width="1" height="482" fill="url(#c374)"/>
<rect x="427" y="37" width="1" height="482" fill="url(#c375)"/>
<rect x="428" y="37" width="1" height="482" fill="url(#c376)"/>
<rect x="429" y="37" width="1" height="482" fill="url(#c377)"/>
<rect x="430" y="37" width="1" height="482" fill="url(#c378)"/>
<rect x="431" y="37" width="1" height="482" fill="url(#c379)"/>
<rect x="432" y="37" width="1" height="482" fill="url(#c380)"/>
<rect x="433" y="37" width="1" height="482" fill="url(#c381)"/>
<rect x="434" y="37" width="1" height="482" fill="url(#c382)"/>
<rect x="435" y="37" width="1" height="482" fill="url(#c383)"/>
<rect x="436" y="37" width="1" height="482" fill="url(#c384)"/>
<rect x="437" y="37" width="1" height="482" fill="url(#c385)"/>
<rect x="438" y="37" width="1" height="482" fill="url(#c386)"/>
<rect x="439" y="37" width="1" height="482" fill="url(#c387)"/>
<rect x="440" y="37" width="1" height="482" fill="url(#c388)"/>
<rect x="441" y="37" width="1" height="482" fill="url(#c389)"/>
<rect x="442" y="37" width="1" height="482" fill="url(#c390)"/>
<rect x="443" y="37" width="1" height="482" fill="url(#c391)"/>
<rect x="444" y="37" width="1" height="482" fill="url(#c392)"/>
<rect x="445" y="37" width="1" height="482" fill="url(#c393)"/>
<rect x="446" y="37" width="1" height="482" fill="url(#c394)"/>
<rect x="447" y="37" width="1" height="482" fill="url(#c395)"/>
<rect x="448" y="37" width="1" height="482" fill="url(#c396)"/>
<rect x="449" y="37" width="1" height="482" fill="url(#c397)"/>
<rect x="450" y="37" width="1" height="482" fill="url(#c398)"/>
<rect x="451" y="37" width="1" height="482" fill="url(#c399)"/>
<rect x="452" y="37" width="1" height="482" fill="url(#c400)"/>
<rect x="453" y="37" width="1" height="482" fill="url(#c401)"/>
<rect x="454" y="37" width="1" height="482" fill="url(#c402)"/>
<rect x="455" y="37" width="1" height="482" fill="url(#c403)"/>
<rect x="456" y="37" width="1" height="482" fill="url(#c404)"/>
<rect x="457" y="37" width="1" height="482" fill="url(#c405)"/>
<rect x="458" y="37" width="1" height="482" fill="url(#c406)"/>
<rect x="459" y="37" width="1" height="482" fill="url(#c407)"/>
<rect x="460" y="37" width="1" height="482" fill="url(#c408)"/>
<rect x="461" y="37" width="1" height="482" fill="url(#c409)"/>
<rect x="462" y="37" width="1" height="482" fill="url(#c410)"/>
<rect x="463" y="37" width="1" height="482" fill="url(#c411)"/>
<rect x="464" y="37" width="1" height="482" fill="url(#c412)"/>
<rect x="465" y="37" width="1" height="482" fill="url(#c413)"/>
<rect x="466" y="37" width="1" height="482" fill="url(#c414)"/>
<rect x="467" y="37" width="1" height="482" fill="url(#c415)"/>
<rect x="468" y="37" width="1" height="482" fill="url(#c416)"/>
<rect x="469" y="37" width="1" height="482" fill="url(#c417)"/>
<rect x="470" y="37" width="1" height="482" fill="url(#c418)"/>
<rect x="471" y="37" width="1" height="482" fill="url(#c419)"/>
<rect x="472" y="37" width="1" height="482" fill="url(#c420)"/>
<rect x="473" y="37" width="1" height="482" fill="url(#c421)"/>
<rect x="474" y="37" width="1" height="482" fill="url(#c422)"/>
<rect x="475" y="37" width="1" height="482" fill="url(#c423)"/>
<rect x="476" y="37" width="1" height="482" fill="url(#c424)"/>
<rect x="477" y="37" width="1" height="482" fill="url(#c425)"/>
<rect x="478" y="37" width="1" height="482" fill="url(#c426)"/>
<rect x="479" y="37" width="1" height="482" fill="url(#c427)"/>
<rect x="480" y="37" width="1" height="482" fill="url(#c428)"/>
<rect x="481" y="37" width="1" height="482" fill="url(#c429)"/>
</g>
<g font-size="14"><text x="185" y="16" textLength="143">NEAR X-Ray Analysis</text></g>
<g font-size="12">
<text x="392" y="16" textLength="31.5">Date:</text>
<text x="427" y="16" textLength="22.5">Wed</text>
<text x="455" y="16" textLength="20">Jun</text>
<text x="487" y="16">6</text>
<text x="502" y="16" textLength="48">10:50:28</text>
<text x="557" y="16" textLength="25.6">2001</text>
<text x="7" y="31" textLength="19" font-size="11.5">256</text>
<g transform="translate(46.5,301) rotate(-90)"><text x="0" y="0" textLength="43">Channel</text><text x="50" y="0" textLength="7.5" lengthAdjust="spacingAndGlyphs">#</text><text x="63.5" y="0" textLength="27" lengthAdjust="spacingAndGlyphs">----</text><text x="92" y="0">&gt;</text></g>
<text x="17.5" y="545" font-size="11.5">0</text>
<text x="37.5" y="555" font-size="11.5">0</text>
<text x="247" y="556" textLength="46" font-size="11.5">File Time</text>
<text x="501" y="555" textLength="24.5" font-size="11.5">1719</text>
<text x="22" y="642" textLength="217.5">LOG10 Normalized Spectrogram Scale</text>
<text x="22" y="678" textLength="17">0.0</text>
<text x="180" y="678" textLength="17">0.5</text>
<text x="342" y="678" textLength="17">1.0</text>
<text x="368.7" y="649" textLength="32" font-size="12.5">Spect</text><text x="406.4" y="649" textLength="32.3" font-size="12.5">type=</text><text x="444" y="649" textLength="37" font-size="12.5" lengthAdjust="spacingAndGlyphs">ACTIVE</text><text x="487" y="649" textLength="38" font-size="12.5" lengthAdjust="spacingAndGlyphs">SOLAR,</text>
<text x="538" y="649" textLength="80.5" font-size="12.5">256 Channels,</text>
<text x="667" y="649" textLength="49" font-size="12.5">1 ch/bin</text>
<text x="368.7" y="669" textLength="48.3" font-size="12.5">Directory</text><text x="423.6" y="669" textLength="9" font-size="12.5" lengthAdjust="spacingAndGlyphs">=</text><text x="440.8" y="669" textLength="311" font-size="12.5">/near/xdr/XRS/2000/05-00/XSdaily-05_22_00out/</text>
</g>
<defs><linearGradient id="bar" x1="22" y1="0" x2="343" y2="0" gradientUnits="userSpaceOnUse"><stop offset="0" stop-color="#000038"/><stop offset="0.12" stop-color="#000048"/><stop offset="0.15" stop-color="#001858"/><stop offset="0.196" stop-color="#004068"/><stop offset="0.243" stop-color="#006468"/><stop offset="0.274" stop-color="#007868"/><stop offset="0.31" stop-color="#009060"/><stop offset="0.352" stop-color="#009838"/><stop offset="0.4" stop-color="#109818"/><stop offset="0.445" stop-color="#189800"/><stop offset="0.467" stop-color="#408800"/><stop offset="0.49" stop-color="#706800"/><stop offset="0.5" stop-color="#906000"/><stop offset="0.523" stop-color="#b04000"/><stop offset="0.545" stop-color="#c81000"/><stop offset="0.57" stop-color="#d00800"/><stop offset="0.6" stop-color="#d01800"/><stop offset="0.648" stop-color="#d83000"/><stop offset="0.695" stop-color="#e04c00"/><stop offset="0.74" stop-color="#e86800"/><stop offset="0.8" stop-color="#f09000"/><stop offset="0.866" stop-color="#f8b800"/><stop offset="0.928" stop-color="#ffd800"/><stop offset="0.975" stop-color="#fff000"/><stop offset="1" stop-color="#ffff00"/></linearGradient></defs>
<rect x="22" y="648" width="321" height="11" fill="url(#bar)"/>
</svg>
</body>
</html>
